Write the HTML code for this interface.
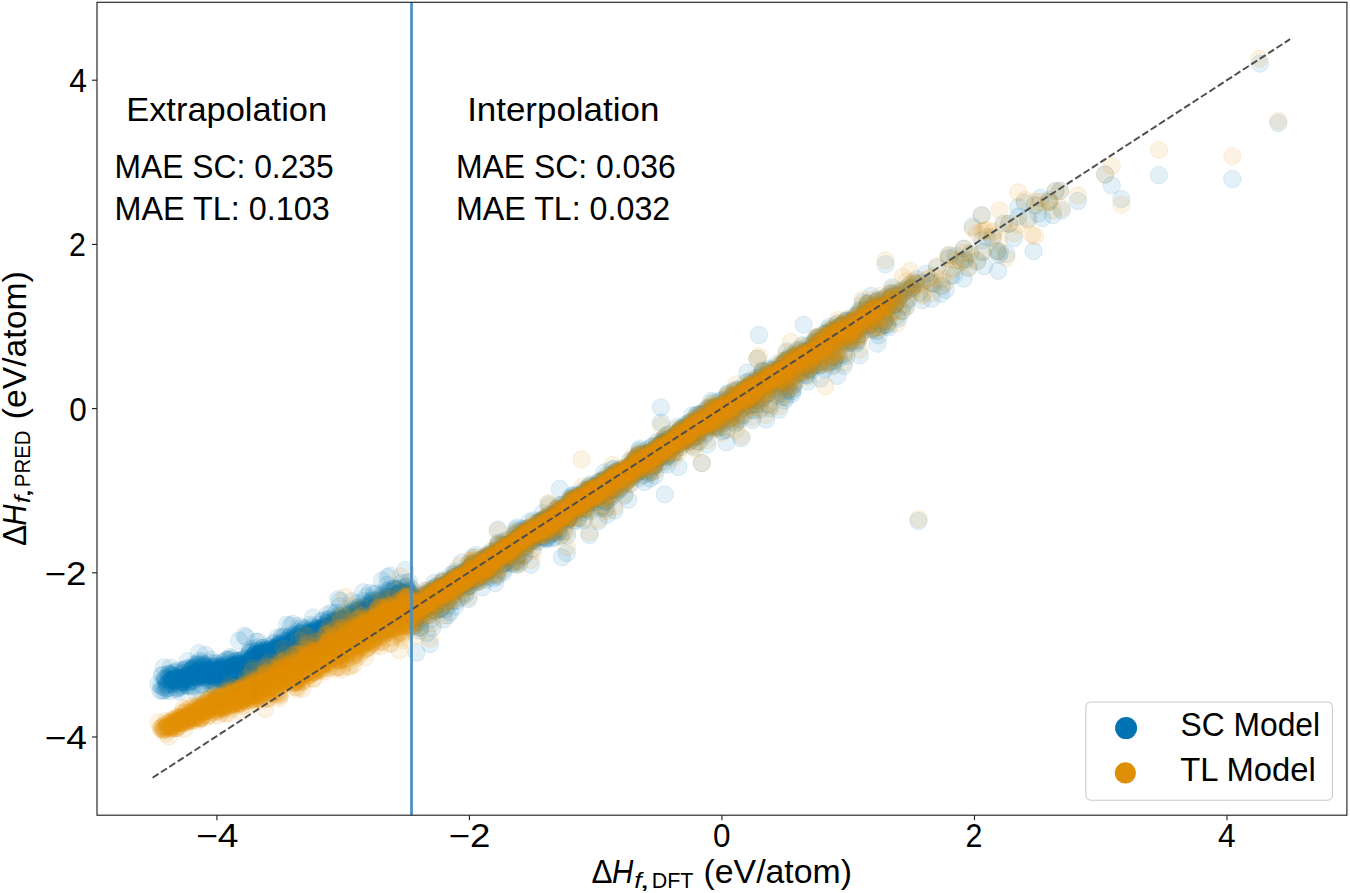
<!DOCTYPE html>
<html><head><meta charset="utf-8"><style>
html,body{margin:0;padding:0;background:#fff;}
body{width:1350px;height:893px;overflow:hidden;}
svg{display:block;font-family:"Liberation Sans",sans-serif;}
svg text{fill:#000;}
</style></head><body>
<svg width="1350" height="893" viewBox="0 0 1350 893">
<defs><clipPath id="ax"><rect x="97.0" y="2.3" width="1249.90" height="812.90"/></clipPath></defs>
<g clip-path="url(#ax)"><g class="sc" fill="#0173b2" stroke="#0173b2" fill-opacity="0.11" stroke-opacity="0.11" stroke-width="1"><circle cx="158.4" cy="684.0" r="8.7"/><circle cx="160.4" cy="690.8" r="8.7"/><circle cx="161.4" cy="685.5" r="8.7"/><circle cx="161.7" cy="675.2" r="8.7"/><circle cx="162.4" cy="690.5" r="8.7"/><circle cx="163.3" cy="675.1" r="8.7"/><circle cx="163.4" cy="687.2" r="8.7"/><circle cx="163.9" cy="667.4" r="8.7"/><circle cx="164.6" cy="678.6" r="8.7"/><circle cx="164.9" cy="690.3" r="8.7"/><circle cx="165.2" cy="680.1" r="8.7"/><circle cx="165.6" cy="678.2" r="8.7"/><circle cx="166.0" cy="685.2" r="8.7"/><circle cx="166.2" cy="687.7" r="8.7"/><circle cx="166.5" cy="689.1" r="8.7"/><circle cx="167.1" cy="679.4" r="8.7"/><circle cx="167.4" cy="683.8" r="8.7"/><circle cx="167.7" cy="684.7" r="8.7"/><circle cx="168.2" cy="681.8" r="8.7"/><circle cx="168.4" cy="674.3" r="8.7"/><circle cx="168.9" cy="673.4" r="8.7"/><circle cx="169.0" cy="687.8" r="8.7"/><circle cx="169.4" cy="691.2" r="8.7"/><circle cx="169.7" cy="680.7" r="8.7"/><circle cx="170.0" cy="675.0" r="8.7"/><circle cx="170.4" cy="667.6" r="8.7"/><circle cx="170.6" cy="680.3" r="8.7"/><circle cx="171.1" cy="674.5" r="8.7"/><circle cx="171.4" cy="675.6" r="8.7"/><circle cx="171.5" cy="679.2" r="8.7"/><circle cx="171.9" cy="684.1" r="8.7"/><circle cx="172.2" cy="683.1" r="8.7"/><circle cx="172.4" cy="679.8" r="8.7"/><circle cx="173.0" cy="675.1" r="8.7"/><circle cx="173.2" cy="672.4" r="8.7"/><circle cx="173.4" cy="677.9" r="8.7"/><circle cx="173.8" cy="679.3" r="8.7"/><circle cx="174.0" cy="680.1" r="8.7"/><circle cx="174.5" cy="678.2" r="8.7"/><circle cx="174.6" cy="679.9" r="8.7"/><circle cx="174.8" cy="676.0" r="8.7"/><circle cx="175.1" cy="680.8" r="8.7"/><circle cx="175.5" cy="672.1" r="8.7"/><circle cx="175.8" cy="679.2" r="8.7"/><circle cx="176.2" cy="677.6" r="8.7"/><circle cx="176.4" cy="678.5" r="8.7"/><circle cx="176.6" cy="687.5" r="8.7"/><circle cx="176.8" cy="689.2" r="8.7"/><circle cx="177.1" cy="680.0" r="8.7"/><circle cx="177.6" cy="681.1" r="8.7"/><circle cx="177.7" cy="670.1" r="8.7"/><circle cx="178.1" cy="682.3" r="8.7"/><circle cx="178.2" cy="683.4" r="8.7"/><circle cx="178.4" cy="675.2" r="8.7"/><circle cx="178.9" cy="688.1" r="8.7"/><circle cx="179.1" cy="678.3" r="8.7"/><circle cx="179.3" cy="684.6" r="8.7"/><circle cx="179.6" cy="691.5" r="8.7"/><circle cx="179.8" cy="686.9" r="8.7"/><circle cx="180.0" cy="679.2" r="8.7"/><circle cx="180.3" cy="678.5" r="8.7"/><circle cx="180.7" cy="679.6" r="8.7"/><circle cx="180.9" cy="685.8" r="8.7"/><circle cx="181.1" cy="682.6" r="8.7"/><circle cx="181.5" cy="678.0" r="8.7"/><circle cx="181.6" cy="676.9" r="8.7"/><circle cx="181.8" cy="677.9" r="8.7"/><circle cx="182.2" cy="678.3" r="8.7"/><circle cx="182.5" cy="670.4" r="8.7"/><circle cx="182.6" cy="673.4" r="8.7"/><circle cx="183.0" cy="682.1" r="8.7"/><circle cx="183.1" cy="680.9" r="8.7"/><circle cx="183.3" cy="682.1" r="8.7"/><circle cx="183.6" cy="677.0" r="8.7"/><circle cx="183.9" cy="672.8" r="8.7"/><circle cx="184.3" cy="670.2" r="8.7"/><circle cx="184.4" cy="676.7" r="8.7"/><circle cx="184.8" cy="680.2" r="8.7"/><circle cx="184.9" cy="682.3" r="8.7"/><circle cx="185.1" cy="684.9" r="8.7"/><circle cx="185.4" cy="669.1" r="8.7"/><circle cx="185.8" cy="678.7" r="8.7"/><circle cx="186.0" cy="679.4" r="8.7"/><circle cx="186.1" cy="668.4" r="8.7"/><circle cx="186.4" cy="679.9" r="8.7"/><circle cx="186.6" cy="677.3" r="8.7"/><circle cx="187.0" cy="674.7" r="8.7"/><circle cx="187.0" cy="685.3" r="8.7"/><circle cx="187.3" cy="682.9" r="8.7"/><circle cx="187.6" cy="661.3" r="8.7"/><circle cx="187.8" cy="674.8" r="8.7"/><circle cx="188.2" cy="685.6" r="8.7"/><circle cx="188.4" cy="679.0" r="8.7"/><circle cx="188.6" cy="676.7" r="8.7"/><circle cx="188.8" cy="673.3" r="8.7"/><circle cx="189.1" cy="676.5" r="8.7"/><circle cx="189.3" cy="681.5" r="8.7"/><circle cx="189.6" cy="667.8" r="8.7"/><circle cx="189.7" cy="675.9" r="8.7"/><circle cx="190.0" cy="670.6" r="8.7"/><circle cx="190.1" cy="678.6" r="8.7"/><circle cx="190.4" cy="681.1" r="8.7"/><circle cx="190.7" cy="680.8" r="8.7"/><circle cx="191.0" cy="686.4" r="8.7"/><circle cx="191.2" cy="669.6" r="8.7"/><circle cx="191.3" cy="673.9" r="8.7"/><circle cx="191.6" cy="675.8" r="8.7"/><circle cx="191.7" cy="674.5" r="8.7"/><circle cx="192.2" cy="668.3" r="8.7"/><circle cx="192.2" cy="669.3" r="8.7"/><circle cx="192.4" cy="676.9" r="8.7"/><circle cx="192.7" cy="681.3" r="8.7"/><circle cx="192.9" cy="669.9" r="8.7"/><circle cx="193.3" cy="685.8" r="8.7"/><circle cx="193.4" cy="676.6" r="8.7"/><circle cx="193.6" cy="669.3" r="8.7"/><circle cx="193.9" cy="667.5" r="8.7"/><circle cx="194.0" cy="675.1" r="8.7"/><circle cx="194.3" cy="675.0" r="8.7"/><circle cx="194.5" cy="664.3" r="8.7"/><circle cx="194.6" cy="675.1" r="8.7"/><circle cx="194.9" cy="675.7" r="8.7"/><circle cx="195.2" cy="674.9" r="8.7"/><circle cx="195.4" cy="667.7" r="8.7"/><circle cx="195.6" cy="671.9" r="8.7"/><circle cx="195.9" cy="666.1" r="8.7"/><circle cx="196.0" cy="678.6" r="8.7"/><circle cx="196.2" cy="693.5" r="8.7"/><circle cx="196.5" cy="665.0" r="8.7"/><circle cx="196.7" cy="671.3" r="8.7"/><circle cx="197.0" cy="675.6" r="8.7"/><circle cx="197.1" cy="672.2" r="8.7"/><circle cx="197.3" cy="675.1" r="8.7"/><circle cx="197.6" cy="663.3" r="8.7"/><circle cx="197.9" cy="676.6" r="8.7"/><circle cx="198.1" cy="668.7" r="8.7"/><circle cx="198.3" cy="678.1" r="8.7"/><circle cx="198.4" cy="664.8" r="8.7"/><circle cx="198.7" cy="670.8" r="8.7"/><circle cx="198.9" cy="653.2" r="8.7"/><circle cx="199.0" cy="675.0" r="8.7"/><circle cx="199.3" cy="675.3" r="8.7"/><circle cx="199.4" cy="677.3" r="8.7"/><circle cx="199.8" cy="660.6" r="8.7"/><circle cx="200.0" cy="676.7" r="8.7"/><circle cx="200.2" cy="672.3" r="8.7"/><circle cx="200.4" cy="666.4" r="8.7"/><circle cx="200.5" cy="671.1" r="8.7"/><circle cx="200.8" cy="677.2" r="8.7"/><circle cx="200.9" cy="670.8" r="8.7"/><circle cx="201.1" cy="685.0" r="8.7"/><circle cx="201.4" cy="691.6" r="8.7"/><circle cx="201.6" cy="673.3" r="8.7"/><circle cx="201.8" cy="662.1" r="8.7"/><circle cx="202.0" cy="684.5" r="8.7"/><circle cx="202.2" cy="674.5" r="8.7"/><circle cx="202.4" cy="675.7" r="8.7"/><circle cx="202.7" cy="668.1" r="8.7"/><circle cx="202.8" cy="663.8" r="8.7"/><circle cx="203.1" cy="666.8" r="8.7"/><circle cx="203.2" cy="675.0" r="8.7"/><circle cx="203.5" cy="664.9" r="8.7"/><circle cx="203.6" cy="665.2" r="8.7"/><circle cx="203.9" cy="674.4" r="8.7"/><circle cx="204.1" cy="672.4" r="8.7"/><circle cx="204.3" cy="677.1" r="8.7"/><circle cx="204.4" cy="674.3" r="8.7"/><circle cx="204.8" cy="666.1" r="8.7"/><circle cx="204.8" cy="678.4" r="8.7"/><circle cx="205.0" cy="667.0" r="8.7"/><circle cx="205.3" cy="674.0" r="8.7"/><circle cx="205.4" cy="671.0" r="8.7"/><circle cx="205.6" cy="654.9" r="8.7"/><circle cx="205.9" cy="670.9" r="8.7"/><circle cx="206.1" cy="675.6" r="8.7"/><circle cx="206.3" cy="669.0" r="8.7"/><circle cx="206.5" cy="673.4" r="8.7"/><circle cx="206.7" cy="673.6" r="8.7"/><circle cx="206.8" cy="680.5" r="8.7"/><circle cx="207.1" cy="672.6" r="8.7"/><circle cx="207.2" cy="674.5" r="8.7"/><circle cx="207.5" cy="668.5" r="8.7"/><circle cx="207.6" cy="672.1" r="8.7"/><circle cx="207.7" cy="673.1" r="8.7"/><circle cx="208.1" cy="675.3" r="8.7"/><circle cx="208.2" cy="675.7" r="8.7"/><circle cx="208.4" cy="678.2" r="8.7"/><circle cx="208.6" cy="676.2" r="8.7"/><circle cx="208.8" cy="669.3" r="8.7"/><circle cx="209.0" cy="679.8" r="8.7"/><circle cx="209.2" cy="679.9" r="8.7"/><circle cx="209.3" cy="671.5" r="8.7"/><circle cx="209.6" cy="665.7" r="8.7"/><circle cx="209.8" cy="671.1" r="8.7"/><circle cx="210.0" cy="674.0" r="8.7"/><circle cx="210.2" cy="673.6" r="8.7"/><circle cx="210.3" cy="662.4" r="8.7"/><circle cx="210.6" cy="671.2" r="8.7"/><circle cx="210.6" cy="675.5" r="8.7"/><circle cx="210.9" cy="671.9" r="8.7"/><circle cx="211.0" cy="659.8" r="8.7"/><circle cx="211.2" cy="667.8" r="8.7"/><circle cx="211.4" cy="674.6" r="8.7"/><circle cx="211.6" cy="668.8" r="8.7"/><circle cx="211.8" cy="674.4" r="8.7"/><circle cx="212.0" cy="672.0" r="8.7"/><circle cx="212.1" cy="671.2" r="8.7"/><circle cx="212.4" cy="684.8" r="8.7"/><circle cx="212.5" cy="666.7" r="8.7"/><circle cx="212.7" cy="688.6" r="8.7"/><circle cx="212.9" cy="669.9" r="8.7"/><circle cx="213.0" cy="670.6" r="8.7"/><circle cx="213.3" cy="671.9" r="8.7"/><circle cx="213.5" cy="674.0" r="8.7"/><circle cx="213.6" cy="666.2" r="8.7"/><circle cx="213.7" cy="672.9" r="8.7"/><circle cx="213.9" cy="668.6" r="8.7"/><circle cx="214.2" cy="676.2" r="8.7"/><circle cx="214.4" cy="681.3" r="8.7"/><circle cx="214.4" cy="663.2" r="8.7"/><circle cx="214.8" cy="671.8" r="8.7"/><circle cx="214.9" cy="671.5" r="8.7"/><circle cx="215.0" cy="677.9" r="8.7"/><circle cx="215.2" cy="677.3" r="8.7"/><circle cx="215.4" cy="670.9" r="8.7"/><circle cx="215.6" cy="689.1" r="8.7"/><circle cx="215.8" cy="666.8" r="8.7"/><circle cx="215.9" cy="676.7" r="8.7"/><circle cx="216.1" cy="677.0" r="8.7"/><circle cx="216.4" cy="684.6" r="8.7"/><circle cx="216.5" cy="672.9" r="8.7"/><circle cx="216.6" cy="681.6" r="8.7"/><circle cx="216.8" cy="663.7" r="8.7"/><circle cx="217.0" cy="672.0" r="8.7"/><circle cx="217.3" cy="665.9" r="8.7"/><circle cx="217.3" cy="667.6" r="8.7"/><circle cx="217.5" cy="679.3" r="8.7"/><circle cx="217.7" cy="670.2" r="8.7"/><circle cx="217.9" cy="676.0" r="8.7"/><circle cx="218.0" cy="668.7" r="8.7"/><circle cx="218.1" cy="678.7" r="8.7"/><circle cx="218.3" cy="686.1" r="8.7"/><circle cx="218.5" cy="676.5" r="8.7"/><circle cx="218.8" cy="674.9" r="8.7"/><circle cx="218.9" cy="674.2" r="8.7"/><circle cx="219.0" cy="669.5" r="8.7"/><circle cx="219.2" cy="669.9" r="8.7"/><circle cx="219.4" cy="675.2" r="8.7"/><circle cx="219.6" cy="670.3" r="8.7"/><circle cx="219.8" cy="673.6" r="8.7"/><circle cx="219.9" cy="671.9" r="8.7"/><circle cx="220.2" cy="671.1" r="8.7"/><circle cx="220.3" cy="672.4" r="8.7"/><circle cx="220.4" cy="677.7" r="8.7"/><circle cx="220.6" cy="669.7" r="8.7"/><circle cx="220.7" cy="674.6" r="8.7"/><circle cx="220.9" cy="666.8" r="8.7"/><circle cx="221.1" cy="679.9" r="8.7"/><circle cx="221.2" cy="667.3" r="8.7"/><circle cx="221.5" cy="678.8" r="8.7"/><circle cx="221.7" cy="670.7" r="8.7"/><circle cx="221.8" cy="678.4" r="8.7"/><circle cx="221.9" cy="677.4" r="8.7"/><circle cx="222.0" cy="669.3" r="8.7"/><circle cx="222.3" cy="674.9" r="8.7"/><circle cx="222.5" cy="681.0" r="8.7"/><circle cx="222.7" cy="668.2" r="8.7"/><circle cx="222.8" cy="662.3" r="8.7"/><circle cx="223.0" cy="669.3" r="8.7"/><circle cx="223.1" cy="671.1" r="8.7"/><circle cx="223.2" cy="680.5" r="8.7"/><circle cx="223.4" cy="665.2" r="8.7"/><circle cx="223.6" cy="669.6" r="8.7"/><circle cx="223.7" cy="673.3" r="8.7"/><circle cx="223.9" cy="671.9" r="8.7"/><circle cx="224.1" cy="672.8" r="8.7"/><circle cx="224.2" cy="667.3" r="8.7"/><circle cx="224.5" cy="664.1" r="8.7"/><circle cx="224.5" cy="671.0" r="8.7"/><circle cx="224.7" cy="665.5" r="8.7"/><circle cx="224.8" cy="678.4" r="8.7"/><circle cx="225.1" cy="675.0" r="8.7"/><circle cx="225.2" cy="660.6" r="8.7"/><circle cx="225.3" cy="677.3" r="8.7"/><circle cx="225.5" cy="678.0" r="8.7"/><circle cx="225.7" cy="674.4" r="8.7"/><circle cx="225.8" cy="668.4" r="8.7"/><circle cx="225.9" cy="667.5" r="8.7"/><circle cx="226.1" cy="680.3" r="8.7"/><circle cx="226.3" cy="671.2" r="8.7"/><circle cx="226.5" cy="670.4" r="8.7"/><circle cx="226.6" cy="659.5" r="8.7"/><circle cx="226.9" cy="673.9" r="8.7"/><circle cx="227.0" cy="679.4" r="8.7"/><circle cx="227.2" cy="668.7" r="8.7"/><circle cx="227.3" cy="680.8" r="8.7"/><circle cx="227.4" cy="673.4" r="8.7"/><circle cx="227.6" cy="669.8" r="8.7"/><circle cx="227.7" cy="671.2" r="8.7"/><circle cx="227.9" cy="672.7" r="8.7"/><circle cx="228.0" cy="676.3" r="8.7"/><circle cx="228.3" cy="672.5" r="8.7"/><circle cx="228.3" cy="672.1" r="8.7"/><circle cx="228.5" cy="674.9" r="8.7"/><circle cx="228.7" cy="659.5" r="8.7"/><circle cx="228.9" cy="672.8" r="8.7"/><circle cx="229.0" cy="677.8" r="8.7"/><circle cx="229.1" cy="674.6" r="8.7"/><circle cx="229.3" cy="673.5" r="8.7"/><circle cx="229.4" cy="683.1" r="8.7"/><circle cx="229.5" cy="672.5" r="8.7"/><circle cx="229.8" cy="660.2" r="8.7"/><circle cx="229.9" cy="671.3" r="8.7"/><circle cx="230.1" cy="671.4" r="8.7"/><circle cx="230.2" cy="677.2" r="8.7"/><circle cx="230.4" cy="656.9" r="8.7"/><circle cx="230.5" cy="673.4" r="8.7"/><circle cx="230.6" cy="670.5" r="8.7"/><circle cx="230.8" cy="667.6" r="8.7"/><circle cx="230.9" cy="670.3" r="8.7"/><circle cx="231.1" cy="678.4" r="8.7"/><circle cx="231.2" cy="668.1" r="8.7"/><circle cx="231.4" cy="662.3" r="8.7"/><circle cx="231.6" cy="663.6" r="8.7"/><circle cx="231.8" cy="672.7" r="8.7"/><circle cx="232.0" cy="658.2" r="8.7"/><circle cx="232.0" cy="684.5" r="8.7"/><circle cx="232.2" cy="666.9" r="8.7"/><circle cx="232.4" cy="665.8" r="8.7"/><circle cx="232.4" cy="670.9" r="8.7"/><circle cx="232.6" cy="673.1" r="8.7"/><circle cx="232.8" cy="665.0" r="8.7"/><circle cx="232.9" cy="666.6" r="8.7"/><circle cx="233.0" cy="670.8" r="8.7"/><circle cx="233.3" cy="671.4" r="8.7"/><circle cx="233.4" cy="669.5" r="8.7"/><circle cx="233.6" cy="665.2" r="8.7"/><circle cx="233.8" cy="669.7" r="8.7"/><circle cx="233.8" cy="676.4" r="8.7"/><circle cx="234.0" cy="673.4" r="8.7"/><circle cx="234.1" cy="669.4" r="8.7"/><circle cx="234.3" cy="668.2" r="8.7"/><circle cx="234.5" cy="672.7" r="8.7"/><circle cx="234.6" cy="671.1" r="8.7"/><circle cx="234.8" cy="672.9" r="8.7"/><circle cx="234.9" cy="666.1" r="8.7"/><circle cx="235.1" cy="665.3" r="8.7"/><circle cx="235.1" cy="673.1" r="8.7"/><circle cx="235.3" cy="670.4" r="8.7"/><circle cx="235.4" cy="664.7" r="8.7"/><circle cx="235.6" cy="661.0" r="8.7"/><circle cx="235.8" cy="665.4" r="8.7"/><circle cx="235.9" cy="669.1" r="8.7"/><circle cx="236.1" cy="660.7" r="8.7"/><circle cx="236.2" cy="666.5" r="8.7"/><circle cx="236.3" cy="668.6" r="8.7"/><circle cx="236.5" cy="680.0" r="8.7"/><circle cx="236.6" cy="680.3" r="8.7"/><circle cx="236.8" cy="661.8" r="8.7"/><circle cx="237.0" cy="673.8" r="8.7"/><circle cx="237.1" cy="674.5" r="8.7"/><circle cx="237.2" cy="671.5" r="8.7"/><circle cx="237.3" cy="674.4" r="8.7"/><circle cx="237.6" cy="669.6" r="8.7"/><circle cx="237.6" cy="671.0" r="8.7"/><circle cx="237.7" cy="669.8" r="8.7"/><circle cx="237.9" cy="676.8" r="8.7"/><circle cx="238.0" cy="663.5" r="8.7"/><circle cx="238.3" cy="663.2" r="8.7"/><circle cx="238.3" cy="667.3" r="8.7"/><circle cx="238.6" cy="672.4" r="8.7"/><circle cx="238.6" cy="670.2" r="8.7"/><circle cx="238.8" cy="673.5" r="8.7"/><circle cx="239.0" cy="664.0" r="8.7"/><circle cx="239.1" cy="640.7" r="8.7"/><circle cx="239.2" cy="664.3" r="8.7"/><circle cx="239.3" cy="674.7" r="8.7"/><circle cx="239.5" cy="671.1" r="8.7"/><circle cx="239.6" cy="660.5" r="8.7"/><circle cx="239.8" cy="670.5" r="8.7"/><circle cx="240.0" cy="668.0" r="8.7"/><circle cx="240.1" cy="666.2" r="8.7"/><circle cx="240.2" cy="681.5" r="8.7"/><circle cx="240.4" cy="677.1" r="8.7"/><circle cx="240.6" cy="667.5" r="8.7"/><circle cx="240.6" cy="663.5" r="8.7"/><circle cx="240.8" cy="667.5" r="8.7"/><circle cx="241.0" cy="665.3" r="8.7"/><circle cx="241.1" cy="673.0" r="8.7"/><circle cx="241.2" cy="668.0" r="8.7"/><circle cx="241.3" cy="669.8" r="8.7"/><circle cx="241.5" cy="668.1" r="8.7"/><circle cx="241.7" cy="675.0" r="8.7"/><circle cx="241.8" cy="671.3" r="8.7"/><circle cx="242.0" cy="665.5" r="8.7"/><circle cx="242.1" cy="671.2" r="8.7"/><circle cx="242.2" cy="665.1" r="8.7"/><circle cx="242.3" cy="660.0" r="8.7"/><circle cx="242.5" cy="666.4" r="8.7"/><circle cx="242.6" cy="667.2" r="8.7"/><circle cx="242.8" cy="664.4" r="8.7"/><circle cx="242.9" cy="672.2" r="8.7"/><circle cx="243.0" cy="670.1" r="8.7"/><circle cx="243.1" cy="673.0" r="8.7"/><circle cx="243.3" cy="671.7" r="8.7"/><circle cx="243.4" cy="658.5" r="8.7"/><circle cx="243.6" cy="671.2" r="8.7"/><circle cx="243.8" cy="661.2" r="8.7"/><circle cx="243.9" cy="667.1" r="8.7"/><circle cx="244.0" cy="671.1" r="8.7"/><circle cx="244.1" cy="677.8" r="8.7"/><circle cx="244.3" cy="635.7" r="8.7"/><circle cx="244.4" cy="668.7" r="8.7"/><circle cx="244.6" cy="669.0" r="8.7"/><circle cx="244.6" cy="668.3" r="8.7"/><circle cx="244.8" cy="667.8" r="8.7"/><circle cx="245.0" cy="664.9" r="8.7"/><circle cx="245.1" cy="668.1" r="8.7"/><circle cx="245.3" cy="664.4" r="8.7"/><circle cx="245.3" cy="667.3" r="8.7"/><circle cx="245.5" cy="667.9" r="8.7"/><circle cx="245.7" cy="667.4" r="8.7"/><circle cx="245.7" cy="657.6" r="8.7"/><circle cx="246.0" cy="672.3" r="8.7"/><circle cx="246.0" cy="666.9" r="8.7"/><circle cx="246.2" cy="637.3" r="8.7"/><circle cx="246.3" cy="663.2" r="8.7"/><circle cx="246.5" cy="662.5" r="8.7"/><circle cx="246.6" cy="663.2" r="8.7"/><circle cx="246.7" cy="670.9" r="8.7"/><circle cx="246.9" cy="662.9" r="8.7"/><circle cx="247.0" cy="665.5" r="8.7"/><circle cx="247.1" cy="671.3" r="8.7"/><circle cx="247.3" cy="666.0" r="8.7"/><circle cx="247.4" cy="659.7" r="8.7"/><circle cx="247.6" cy="661.8" r="8.7"/><circle cx="247.7" cy="665.9" r="8.7"/><circle cx="247.8" cy="667.3" r="8.7"/><circle cx="247.9" cy="666.6" r="8.7"/><circle cx="248.0" cy="666.2" r="8.7"/><circle cx="248.3" cy="672.4" r="8.7"/><circle cx="248.3" cy="672.4" r="8.7"/><circle cx="248.5" cy="665.6" r="8.7"/><circle cx="248.6" cy="655.5" r="8.7"/><circle cx="248.8" cy="663.9" r="8.7"/><circle cx="248.8" cy="674.0" r="8.7"/><circle cx="249.0" cy="670.6" r="8.7"/><circle cx="249.2" cy="665.3" r="8.7"/><circle cx="249.3" cy="670.0" r="8.7"/><circle cx="249.4" cy="663.7" r="8.7"/><circle cx="249.5" cy="652.6" r="8.7"/><circle cx="249.6" cy="668.5" r="8.7"/><circle cx="249.8" cy="668.7" r="8.7"/><circle cx="249.9" cy="671.4" r="8.7"/><circle cx="250.0" cy="662.4" r="8.7"/><circle cx="250.2" cy="662.8" r="8.7"/><circle cx="250.3" cy="652.1" r="8.7"/><circle cx="250.5" cy="649.3" r="8.7"/><circle cx="250.5" cy="662.3" r="8.7"/><circle cx="250.7" cy="672.6" r="8.7"/><circle cx="250.9" cy="663.8" r="8.7"/><circle cx="251.0" cy="660.7" r="8.7"/><circle cx="251.2" cy="664.8" r="8.7"/><circle cx="251.2" cy="657.9" r="8.7"/><circle cx="251.3" cy="669.3" r="8.7"/><circle cx="251.4" cy="660.2" r="8.7"/><circle cx="251.6" cy="666.0" r="8.7"/><circle cx="251.7" cy="666.3" r="8.7"/><circle cx="251.8" cy="667.3" r="8.7"/><circle cx="251.9" cy="660.8" r="8.7"/><circle cx="252.2" cy="662.6" r="8.7"/><circle cx="252.2" cy="658.0" r="8.7"/><circle cx="252.4" cy="668.1" r="8.7"/><circle cx="252.5" cy="662.3" r="8.7"/><circle cx="252.7" cy="668.2" r="8.7"/><circle cx="252.8" cy="651.4" r="8.7"/><circle cx="252.9" cy="660.5" r="8.7"/><circle cx="253.0" cy="655.9" r="8.7"/><circle cx="253.1" cy="658.3" r="8.7"/><circle cx="253.3" cy="667.9" r="8.7"/><circle cx="253.4" cy="657.4" r="8.7"/><circle cx="253.5" cy="668.1" r="8.7"/><circle cx="253.7" cy="655.2" r="8.7"/><circle cx="253.8" cy="661.9" r="8.7"/><circle cx="253.9" cy="675.6" r="8.7"/><circle cx="254.0" cy="659.8" r="8.7"/><circle cx="254.2" cy="668.1" r="8.7"/><circle cx="254.3" cy="654.3" r="8.7"/><circle cx="254.4" cy="659.4" r="8.7"/><circle cx="254.5" cy="662.9" r="8.7"/><circle cx="254.7" cy="648.4" r="8.7"/><circle cx="254.8" cy="664.6" r="8.7"/><circle cx="255.0" cy="657.2" r="8.7"/><circle cx="255.1" cy="666.1" r="8.7"/><circle cx="255.2" cy="663.5" r="8.7"/><circle cx="255.4" cy="664.0" r="8.7"/><circle cx="255.4" cy="666.0" r="8.7"/><circle cx="255.6" cy="682.1" r="8.7"/><circle cx="255.7" cy="656.3" r="8.7"/><circle cx="255.9" cy="653.2" r="8.7"/><circle cx="255.9" cy="666.6" r="8.7"/><circle cx="256.1" cy="653.6" r="8.7"/><circle cx="256.2" cy="656.1" r="8.7"/><circle cx="256.3" cy="641.8" r="8.7"/><circle cx="256.5" cy="663.4" r="8.7"/><circle cx="256.6" cy="658.2" r="8.7"/><circle cx="256.7" cy="651.2" r="8.7"/><circle cx="256.9" cy="664.6" r="8.7"/><circle cx="257.0" cy="664.2" r="8.7"/><circle cx="257.1" cy="666.4" r="8.7"/><circle cx="257.3" cy="650.5" r="8.7"/><circle cx="257.3" cy="655.9" r="8.7"/><circle cx="257.4" cy="665.2" r="8.7"/><circle cx="257.6" cy="661.8" r="8.7"/><circle cx="257.7" cy="657.5" r="8.7"/><circle cx="257.9" cy="659.7" r="8.7"/><circle cx="258.0" cy="662.2" r="8.7"/><circle cx="258.0" cy="654.8" r="8.7"/><circle cx="258.2" cy="641.6" r="8.7"/><circle cx="258.4" cy="660.3" r="8.7"/><circle cx="258.5" cy="647.2" r="8.7"/><circle cx="258.7" cy="654.1" r="8.7"/><circle cx="258.7" cy="658.7" r="8.7"/><circle cx="258.9" cy="659.3" r="8.7"/><circle cx="258.9" cy="663.4" r="8.7"/><circle cx="259.1" cy="658.5" r="8.7"/><circle cx="259.2" cy="656.0" r="8.7"/><circle cx="259.4" cy="668.2" r="8.7"/><circle cx="259.4" cy="657.2" r="8.7"/><circle cx="259.6" cy="653.1" r="8.7"/><circle cx="259.7" cy="653.3" r="8.7"/><circle cx="259.9" cy="655.1" r="8.7"/><circle cx="260.0" cy="658.0" r="8.7"/><circle cx="260.1" cy="657.6" r="8.7"/><circle cx="260.1" cy="660.7" r="8.7"/><circle cx="260.3" cy="665.2" r="8.7"/><circle cx="260.4" cy="658.7" r="8.7"/><circle cx="260.6" cy="664.1" r="8.7"/><circle cx="260.7" cy="661.3" r="8.7"/><circle cx="260.8" cy="664.8" r="8.7"/><circle cx="260.9" cy="658.8" r="8.7"/><circle cx="261.0" cy="661.8" r="8.7"/><circle cx="261.2" cy="660.8" r="8.7"/><circle cx="261.3" cy="652.8" r="8.7"/><circle cx="261.4" cy="658.1" r="8.7"/><circle cx="261.5" cy="655.4" r="8.7"/><circle cx="261.7" cy="667.7" r="8.7"/><circle cx="261.8" cy="656.0" r="8.7"/><circle cx="261.9" cy="663.1" r="8.7"/><circle cx="262.0" cy="650.6" r="8.7"/><circle cx="262.2" cy="666.4" r="8.7"/><circle cx="262.2" cy="662.7" r="8.7"/><circle cx="262.4" cy="654.5" r="8.7"/><circle cx="262.6" cy="648.0" r="8.7"/><circle cx="262.6" cy="666.1" r="8.7"/><circle cx="262.8" cy="659.6" r="8.7"/><circle cx="262.8" cy="663.5" r="8.7"/><circle cx="263.0" cy="654.2" r="8.7"/><circle cx="263.1" cy="662.2" r="8.7"/><circle cx="263.2" cy="650.1" r="8.7"/><circle cx="263.4" cy="647.6" r="8.7"/><circle cx="263.5" cy="656.5" r="8.7"/><circle cx="263.6" cy="651.9" r="8.7"/><circle cx="263.7" cy="653.2" r="8.7"/><circle cx="263.9" cy="661.0" r="8.7"/><circle cx="264.0" cy="663.6" r="8.7"/><circle cx="264.1" cy="655.0" r="8.7"/><circle cx="264.1" cy="659.9" r="8.7"/><circle cx="264.3" cy="653.7" r="8.7"/><circle cx="264.4" cy="659.0" r="8.7"/><circle cx="264.5" cy="650.8" r="8.7"/><circle cx="264.7" cy="658.3" r="8.7"/><circle cx="264.7" cy="657.5" r="8.7"/><circle cx="264.8" cy="652.5" r="8.7"/><circle cx="265.0" cy="656.4" r="8.7"/><circle cx="265.1" cy="650.3" r="8.7"/><circle cx="265.3" cy="660.4" r="8.7"/><circle cx="265.4" cy="662.0" r="8.7"/><circle cx="265.5" cy="652.6" r="8.7"/><circle cx="265.7" cy="654.6" r="8.7"/><circle cx="265.7" cy="660.1" r="8.7"/><circle cx="265.9" cy="662.9" r="8.7"/><circle cx="266.0" cy="660.6" r="8.7"/><circle cx="266.0" cy="657.4" r="8.7"/><circle cx="266.1" cy="658.4" r="8.7"/><circle cx="266.3" cy="662.7" r="8.7"/><circle cx="266.4" cy="661.5" r="8.7"/><circle cx="266.6" cy="654.3" r="8.7"/><circle cx="266.7" cy="651.3" r="8.7"/><circle cx="266.7" cy="649.2" r="8.7"/><circle cx="266.9" cy="660.9" r="8.7"/><circle cx="267.0" cy="662.5" r="8.7"/><circle cx="267.1" cy="654.0" r="8.7"/><circle cx="267.2" cy="658.5" r="8.7"/><circle cx="267.4" cy="653.0" r="8.7"/><circle cx="267.5" cy="652.2" r="8.7"/><circle cx="267.6" cy="658.8" r="8.7"/><circle cx="267.7" cy="657.5" r="8.7"/><circle cx="267.8" cy="670.7" r="8.7"/><circle cx="268.0" cy="664.9" r="8.7"/><circle cx="268.1" cy="664.7" r="8.7"/><circle cx="268.1" cy="653.1" r="8.7"/><circle cx="268.3" cy="646.1" r="8.7"/><circle cx="268.4" cy="665.4" r="8.7"/><circle cx="268.5" cy="664.0" r="8.7"/><circle cx="268.6" cy="659.2" r="8.7"/><circle cx="268.7" cy="660.4" r="8.7"/><circle cx="268.9" cy="652.9" r="8.7"/><circle cx="269.0" cy="679.9" r="8.7"/><circle cx="269.1" cy="666.1" r="8.7"/><circle cx="269.3" cy="656.4" r="8.7"/><circle cx="269.3" cy="649.5" r="8.7"/><circle cx="269.4" cy="670.9" r="8.7"/><circle cx="269.5" cy="668.0" r="8.7"/><circle cx="269.7" cy="662.3" r="8.7"/><circle cx="269.8" cy="652.7" r="8.7"/><circle cx="269.9" cy="650.6" r="8.7"/><circle cx="270.1" cy="660.4" r="8.7"/><circle cx="270.2" cy="662.0" r="8.7"/><circle cx="270.3" cy="651.7" r="8.7"/><circle cx="270.3" cy="651.3" r="8.7"/><circle cx="270.5" cy="647.9" r="8.7"/><circle cx="270.6" cy="653.1" r="8.7"/><circle cx="270.7" cy="663.1" r="8.7"/><circle cx="270.9" cy="656.4" r="8.7"/><circle cx="270.9" cy="658.9" r="8.7"/><circle cx="271.1" cy="657.4" r="8.7"/><circle cx="271.2" cy="654.7" r="8.7"/><circle cx="271.3" cy="661.5" r="8.7"/><circle cx="271.4" cy="665.5" r="8.7"/><circle cx="271.6" cy="662.9" r="8.7"/><circle cx="271.6" cy="662.5" r="8.7"/><circle cx="271.8" cy="656.7" r="8.7"/><circle cx="271.9" cy="650.8" r="8.7"/><circle cx="272.0" cy="658.2" r="8.7"/><circle cx="272.2" cy="659.2" r="8.7"/><circle cx="272.3" cy="651.4" r="8.7"/><circle cx="272.4" cy="658.0" r="8.7"/><circle cx="272.5" cy="651.4" r="8.7"/><circle cx="272.6" cy="656.0" r="8.7"/><circle cx="272.7" cy="655.1" r="8.7"/><circle cx="272.8" cy="658.7" r="8.7"/><circle cx="272.9" cy="655.4" r="8.7"/><circle cx="273.1" cy="657.4" r="8.7"/><circle cx="273.1" cy="664.8" r="8.7"/><circle cx="273.2" cy="657.1" r="8.7"/><circle cx="273.5" cy="649.1" r="8.7"/><circle cx="273.6" cy="642.8" r="8.7"/><circle cx="273.7" cy="654.6" r="8.7"/><circle cx="273.7" cy="648.6" r="8.7"/><circle cx="273.9" cy="652.5" r="8.7"/><circle cx="274.0" cy="653.4" r="8.7"/><circle cx="274.1" cy="663.7" r="8.7"/><circle cx="274.3" cy="644.0" r="8.7"/><circle cx="274.4" cy="655.7" r="8.7"/><circle cx="274.5" cy="659.5" r="8.7"/><circle cx="274.5" cy="649.4" r="8.7"/><circle cx="274.7" cy="652.7" r="8.7"/><circle cx="274.8" cy="652.4" r="8.7"/><circle cx="274.9" cy="655.3" r="8.7"/><circle cx="275.0" cy="647.4" r="8.7"/><circle cx="275.1" cy="664.8" r="8.7"/><circle cx="275.3" cy="650.6" r="8.7"/><circle cx="275.4" cy="656.4" r="8.7"/><circle cx="275.5" cy="659.6" r="8.7"/><circle cx="275.6" cy="658.0" r="8.7"/><circle cx="275.7" cy="654.5" r="8.7"/><circle cx="275.8" cy="664.3" r="8.7"/><circle cx="275.9" cy="654.6" r="8.7"/><circle cx="276.0" cy="652.5" r="8.7"/><circle cx="276.2" cy="646.9" r="8.7"/><circle cx="276.3" cy="648.2" r="8.7"/><circle cx="276.4" cy="657.5" r="8.7"/><circle cx="276.6" cy="663.1" r="8.7"/><circle cx="276.7" cy="657.8" r="8.7"/><circle cx="276.7" cy="648.5" r="8.7"/><circle cx="276.8" cy="647.9" r="8.7"/><circle cx="277.0" cy="659.1" r="8.7"/><circle cx="277.1" cy="657.4" r="8.7"/><circle cx="277.3" cy="652.0" r="8.7"/><circle cx="277.3" cy="655.2" r="8.7"/><circle cx="277.5" cy="650.0" r="8.7"/><circle cx="277.6" cy="657.5" r="8.7"/><circle cx="277.6" cy="657.0" r="8.7"/><circle cx="277.8" cy="637.3" r="8.7"/><circle cx="277.9" cy="647.5" r="8.7"/><circle cx="278.0" cy="644.8" r="8.7"/><circle cx="278.1" cy="651.1" r="8.7"/><circle cx="278.2" cy="656.6" r="8.7"/><circle cx="278.4" cy="659.4" r="8.7"/><circle cx="278.4" cy="646.7" r="8.7"/><circle cx="278.6" cy="644.8" r="8.7"/><circle cx="278.7" cy="653.9" r="8.7"/><circle cx="278.9" cy="654.3" r="8.7"/><circle cx="278.9" cy="649.8" r="8.7"/><circle cx="279.0" cy="653.3" r="8.7"/><circle cx="279.1" cy="660.8" r="8.7"/><circle cx="279.3" cy="649.0" r="8.7"/><circle cx="279.4" cy="648.3" r="8.7"/><circle cx="279.5" cy="662.1" r="8.7"/><circle cx="279.7" cy="643.0" r="8.7"/><circle cx="279.7" cy="658.6" r="8.7"/><circle cx="279.9" cy="659.2" r="8.7"/><circle cx="279.9" cy="657.4" r="8.7"/><circle cx="280.1" cy="652.7" r="8.7"/><circle cx="280.2" cy="653.0" r="8.7"/><circle cx="280.3" cy="644.5" r="8.7"/><circle cx="280.5" cy="661.6" r="8.7"/><circle cx="280.5" cy="651.8" r="8.7"/><circle cx="280.6" cy="650.1" r="8.7"/><circle cx="280.7" cy="656.1" r="8.7"/><circle cx="280.9" cy="664.8" r="8.7"/><circle cx="281.0" cy="658.4" r="8.7"/><circle cx="281.1" cy="656.1" r="8.7"/><circle cx="281.2" cy="648.3" r="8.7"/><circle cx="281.3" cy="654.8" r="8.7"/><circle cx="281.5" cy="647.5" r="8.7"/><circle cx="281.5" cy="649.7" r="8.7"/><circle cx="281.7" cy="636.7" r="8.7"/><circle cx="281.8" cy="652.0" r="8.7"/><circle cx="281.9" cy="653.1" r="8.7"/><circle cx="282.0" cy="637.8" r="8.7"/><circle cx="282.1" cy="647.0" r="8.7"/><circle cx="282.2" cy="651.8" r="8.7"/><circle cx="282.4" cy="645.0" r="8.7"/><circle cx="282.4" cy="644.5" r="8.7"/><circle cx="282.5" cy="651.5" r="8.7"/><circle cx="282.7" cy="658.5" r="8.7"/><circle cx="282.8" cy="662.0" r="8.7"/><circle cx="282.9" cy="656.3" r="8.7"/><circle cx="283.1" cy="653.4" r="8.7"/><circle cx="283.1" cy="658.1" r="8.7"/><circle cx="283.2" cy="659.6" r="8.7"/><circle cx="283.4" cy="653.4" r="8.7"/><circle cx="283.5" cy="640.7" r="8.7"/><circle cx="283.6" cy="654.0" r="8.7"/><circle cx="283.7" cy="654.6" r="8.7"/><circle cx="283.8" cy="641.5" r="8.7"/><circle cx="283.9" cy="646.2" r="8.7"/><circle cx="284.0" cy="658.4" r="8.7"/><circle cx="284.1" cy="646.3" r="8.7"/><circle cx="284.2" cy="652.0" r="8.7"/><circle cx="284.3" cy="655.6" r="8.7"/><circle cx="284.5" cy="654.4" r="8.7"/><circle cx="284.6" cy="636.5" r="8.7"/><circle cx="284.7" cy="651.8" r="8.7"/><circle cx="284.8" cy="656.0" r="8.7"/><circle cx="285.0" cy="651.9" r="8.7"/><circle cx="285.0" cy="647.0" r="8.7"/><circle cx="285.2" cy="650.3" r="8.7"/><circle cx="285.2" cy="652.1" r="8.7"/><circle cx="285.4" cy="656.1" r="8.7"/><circle cx="285.5" cy="654.6" r="8.7"/><circle cx="285.6" cy="658.4" r="8.7"/><circle cx="285.7" cy="650.7" r="8.7"/><circle cx="285.8" cy="648.0" r="8.7"/><circle cx="286.0" cy="648.2" r="8.7"/><circle cx="286.0" cy="651.0" r="8.7"/><circle cx="286.2" cy="643.2" r="8.7"/><circle cx="286.3" cy="648.2" r="8.7"/><circle cx="286.4" cy="647.1" r="8.7"/><circle cx="286.5" cy="640.7" r="8.7"/><circle cx="286.6" cy="656.2" r="8.7"/><circle cx="286.7" cy="652.3" r="8.7"/><circle cx="286.9" cy="652.7" r="8.7"/><circle cx="287.0" cy="624.7" r="8.7"/><circle cx="287.0" cy="655.1" r="8.7"/><circle cx="287.2" cy="644.1" r="8.7"/><circle cx="287.3" cy="650.6" r="8.7"/><circle cx="287.4" cy="650.8" r="8.7"/><circle cx="287.5" cy="651.1" r="8.7"/><circle cx="287.7" cy="641.3" r="8.7"/><circle cx="287.7" cy="652.8" r="8.7"/><circle cx="287.9" cy="653.9" r="8.7"/><circle cx="288.0" cy="648.3" r="8.7"/><circle cx="288.1" cy="649.9" r="8.7"/><circle cx="288.2" cy="641.8" r="8.7"/><circle cx="288.4" cy="646.4" r="8.7"/><circle cx="288.4" cy="643.0" r="8.7"/><circle cx="288.6" cy="647.5" r="8.7"/><circle cx="288.7" cy="657.0" r="8.7"/><circle cx="288.8" cy="649.9" r="8.7"/><circle cx="288.9" cy="648.9" r="8.7"/><circle cx="289.0" cy="641.4" r="8.7"/><circle cx="289.1" cy="638.4" r="8.7"/><circle cx="289.2" cy="646.5" r="8.7"/><circle cx="289.3" cy="637.1" r="8.7"/><circle cx="289.4" cy="645.2" r="8.7"/><circle cx="289.5" cy="662.0" r="8.7"/><circle cx="289.6" cy="655.1" r="8.7"/><circle cx="289.8" cy="649.6" r="8.7"/><circle cx="289.9" cy="645.1" r="8.7"/><circle cx="289.9" cy="645.0" r="8.7"/><circle cx="290.1" cy="648.0" r="8.7"/><circle cx="290.2" cy="658.4" r="8.7"/><circle cx="290.3" cy="647.9" r="8.7"/><circle cx="290.4" cy="625.7" r="8.7"/><circle cx="290.5" cy="653.0" r="8.7"/><circle cx="290.7" cy="660.5" r="8.7"/><circle cx="290.8" cy="653.5" r="8.7"/><circle cx="290.8" cy="650.8" r="8.7"/><circle cx="291.0" cy="647.4" r="8.7"/><circle cx="291.1" cy="644.1" r="8.7"/><circle cx="291.2" cy="646.6" r="8.7"/><circle cx="291.3" cy="647.3" r="8.7"/><circle cx="291.4" cy="648.2" r="8.7"/><circle cx="291.5" cy="651.0" r="8.7"/><circle cx="291.6" cy="648.2" r="8.7"/><circle cx="291.8" cy="634.4" r="8.7"/><circle cx="291.9" cy="654.3" r="8.7"/><circle cx="292.0" cy="644.0" r="8.7"/><circle cx="292.1" cy="647.8" r="8.7"/><circle cx="292.2" cy="641.2" r="8.7"/><circle cx="292.3" cy="642.0" r="8.7"/><circle cx="292.4" cy="644.6" r="8.7"/><circle cx="292.5" cy="649.8" r="8.7"/><circle cx="292.7" cy="648.1" r="8.7"/><circle cx="292.8" cy="647.7" r="8.7"/><circle cx="292.9" cy="624.0" r="8.7"/><circle cx="293.0" cy="647.2" r="8.7"/><circle cx="293.1" cy="661.6" r="8.7"/><circle cx="293.2" cy="652.6" r="8.7"/><circle cx="293.3" cy="636.4" r="8.7"/><circle cx="293.5" cy="646.6" r="8.7"/><circle cx="293.6" cy="639.1" r="8.7"/><circle cx="293.6" cy="650.1" r="8.7"/><circle cx="293.8" cy="655.7" r="8.7"/><circle cx="293.9" cy="648.7" r="8.7"/><circle cx="293.9" cy="649.0" r="8.7"/><circle cx="294.1" cy="642.3" r="8.7"/><circle cx="294.2" cy="651.2" r="8.7"/><circle cx="294.3" cy="640.1" r="8.7"/><circle cx="294.4" cy="638.7" r="8.7"/><circle cx="294.5" cy="650.6" r="8.7"/><circle cx="294.7" cy="635.6" r="8.7"/><circle cx="294.7" cy="641.4" r="8.7"/><circle cx="294.9" cy="653.1" r="8.7"/><circle cx="295.0" cy="640.6" r="8.7"/><circle cx="295.1" cy="644.3" r="8.7"/><circle cx="295.2" cy="644.6" r="8.7"/><circle cx="295.3" cy="646.2" r="8.7"/><circle cx="295.5" cy="655.2" r="8.7"/><circle cx="295.5" cy="643.8" r="8.7"/><circle cx="295.6" cy="650.5" r="8.7"/><circle cx="295.8" cy="636.1" r="8.7"/><circle cx="295.9" cy="652.0" r="8.7"/><circle cx="296.0" cy="654.5" r="8.7"/><circle cx="296.1" cy="643.5" r="8.7"/><circle cx="296.1" cy="652.6" r="8.7"/><circle cx="296.3" cy="632.1" r="8.7"/><circle cx="296.4" cy="637.5" r="8.7"/><circle cx="296.5" cy="651.0" r="8.7"/><circle cx="296.7" cy="641.7" r="8.7"/><circle cx="296.7" cy="651.3" r="8.7"/><circle cx="296.8" cy="648.6" r="8.7"/><circle cx="296.9" cy="644.8" r="8.7"/><circle cx="297.1" cy="649.5" r="8.7"/><circle cx="297.2" cy="641.6" r="8.7"/><circle cx="297.3" cy="642.5" r="8.7"/><circle cx="297.5" cy="649.4" r="8.7"/><circle cx="297.5" cy="637.4" r="8.7"/><circle cx="297.6" cy="640.3" r="8.7"/><circle cx="297.7" cy="649.3" r="8.7"/><circle cx="297.9" cy="654.4" r="8.7"/><circle cx="298.0" cy="633.9" r="8.7"/><circle cx="298.1" cy="643.3" r="8.7"/><circle cx="298.2" cy="649.8" r="8.7"/><circle cx="298.3" cy="643.4" r="8.7"/><circle cx="298.4" cy="644.3" r="8.7"/><circle cx="298.5" cy="640.3" r="8.7"/><circle cx="298.6" cy="640.1" r="8.7"/><circle cx="298.8" cy="661.6" r="8.7"/><circle cx="298.9" cy="638.0" r="8.7"/><circle cx="299.0" cy="651.9" r="8.7"/><circle cx="299.0" cy="635.3" r="8.7"/><circle cx="299.2" cy="643.1" r="8.7"/><circle cx="299.3" cy="648.2" r="8.7"/><circle cx="299.4" cy="626.1" r="8.7"/><circle cx="299.6" cy="653.4" r="8.7"/><circle cx="299.6" cy="649.0" r="8.7"/><circle cx="299.7" cy="650.5" r="8.7"/><circle cx="299.9" cy="638.8" r="8.7"/><circle cx="300.0" cy="642.2" r="8.7"/><circle cx="300.1" cy="646.1" r="8.7"/><circle cx="300.1" cy="642.3" r="8.7"/><circle cx="300.2" cy="644.8" r="8.7"/><circle cx="300.3" cy="643.5" r="8.7"/><circle cx="300.5" cy="641.4" r="8.7"/><circle cx="300.6" cy="648.7" r="8.7"/><circle cx="300.7" cy="645.0" r="8.7"/><circle cx="300.8" cy="645.0" r="8.7"/><circle cx="301.0" cy="647.0" r="8.7"/><circle cx="301.0" cy="649.7" r="8.7"/><circle cx="301.2" cy="642.3" r="8.7"/><circle cx="301.2" cy="640.3" r="8.7"/><circle cx="301.3" cy="633.3" r="8.7"/><circle cx="301.4" cy="642.6" r="8.7"/><circle cx="301.5" cy="642.3" r="8.7"/><circle cx="301.7" cy="627.9" r="8.7"/><circle cx="301.7" cy="649.9" r="8.7"/><circle cx="301.9" cy="644.0" r="8.7"/><circle cx="302.0" cy="636.4" r="8.7"/><circle cx="302.2" cy="632.1" r="8.7"/><circle cx="302.2" cy="640.6" r="8.7"/><circle cx="302.3" cy="633.9" r="8.7"/><circle cx="302.4" cy="633.6" r="8.7"/><circle cx="302.6" cy="631.1" r="8.7"/><circle cx="302.7" cy="638.7" r="8.7"/><circle cx="302.8" cy="646.4" r="8.7"/><circle cx="302.9" cy="641.9" r="8.7"/><circle cx="303.0" cy="635.9" r="8.7"/><circle cx="303.1" cy="646.1" r="8.7"/><circle cx="303.2" cy="643.0" r="8.7"/><circle cx="303.3" cy="647.6" r="8.7"/><circle cx="303.5" cy="646.0" r="8.7"/><circle cx="303.5" cy="643.3" r="8.7"/><circle cx="303.7" cy="650.9" r="8.7"/><circle cx="303.7" cy="636.0" r="8.7"/><circle cx="303.9" cy="629.9" r="8.7"/><circle cx="303.9" cy="646.4" r="8.7"/><circle cx="304.1" cy="641.9" r="8.7"/><circle cx="304.2" cy="639.5" r="8.7"/><circle cx="304.3" cy="644.2" r="8.7"/><circle cx="304.4" cy="648.7" r="8.7"/><circle cx="304.5" cy="645.9" r="8.7"/><circle cx="304.6" cy="648.5" r="8.7"/><circle cx="304.7" cy="628.2" r="8.7"/><circle cx="304.8" cy="641.7" r="8.7"/><circle cx="304.9" cy="645.9" r="8.7"/><circle cx="305.1" cy="635.8" r="8.7"/><circle cx="305.2" cy="644.3" r="8.7"/><circle cx="305.3" cy="639.2" r="8.7"/><circle cx="305.3" cy="647.5" r="8.7"/><circle cx="305.5" cy="652.4" r="8.7"/><circle cx="305.6" cy="644.1" r="8.7"/><circle cx="305.7" cy="642.6" r="8.7"/><circle cx="305.8" cy="636.6" r="8.7"/><circle cx="306.0" cy="636.4" r="8.7"/><circle cx="306.0" cy="635.1" r="8.7"/><circle cx="306.2" cy="644.3" r="8.7"/><circle cx="306.2" cy="644.0" r="8.7"/><circle cx="306.3" cy="641.1" r="8.7"/><circle cx="306.5" cy="643.7" r="8.7"/><circle cx="306.6" cy="638.6" r="8.7"/><circle cx="306.7" cy="636.9" r="8.7"/><circle cx="306.8" cy="636.3" r="8.7"/><circle cx="306.9" cy="646.2" r="8.7"/><circle cx="307.0" cy="633.1" r="8.7"/><circle cx="307.1" cy="652.5" r="8.7"/><circle cx="307.2" cy="643.5" r="8.7"/><circle cx="307.4" cy="644.6" r="8.7"/><circle cx="307.5" cy="641.7" r="8.7"/><circle cx="307.5" cy="643.1" r="8.7"/><circle cx="307.7" cy="635.0" r="8.7"/><circle cx="307.8" cy="645.8" r="8.7"/><circle cx="307.8" cy="637.2" r="8.7"/><circle cx="308.0" cy="647.8" r="8.7"/><circle cx="308.1" cy="641.4" r="8.7"/><circle cx="308.2" cy="639.1" r="8.7"/><circle cx="308.3" cy="635.6" r="8.7"/><circle cx="308.4" cy="647.9" r="8.7"/><circle cx="308.5" cy="653.8" r="8.7"/><circle cx="308.6" cy="631.3" r="8.7"/><circle cx="308.7" cy="646.4" r="8.7"/><circle cx="308.8" cy="642.7" r="8.7"/><circle cx="309.0" cy="641.9" r="8.7"/><circle cx="309.1" cy="632.8" r="8.7"/><circle cx="309.2" cy="636.6" r="8.7"/><circle cx="309.3" cy="633.8" r="8.7"/><circle cx="309.4" cy="633.0" r="8.7"/><circle cx="309.5" cy="637.7" r="8.7"/><circle cx="309.5" cy="652.7" r="8.7"/><circle cx="309.7" cy="641.8" r="8.7"/><circle cx="309.8" cy="632.8" r="8.7"/><circle cx="309.9" cy="634.7" r="8.7"/><circle cx="310.0" cy="638.6" r="8.7"/><circle cx="310.1" cy="650.9" r="8.7"/><circle cx="310.2" cy="639.1" r="8.7"/><circle cx="310.3" cy="635.7" r="8.7"/><circle cx="310.4" cy="643.6" r="8.7"/><circle cx="310.6" cy="637.6" r="8.7"/><circle cx="310.7" cy="642.9" r="8.7"/><circle cx="310.8" cy="634.6" r="8.7"/><circle cx="310.9" cy="624.7" r="8.7"/><circle cx="311.0" cy="639.3" r="8.7"/><circle cx="311.1" cy="637.8" r="8.7"/><circle cx="311.2" cy="634.8" r="8.7"/><circle cx="311.3" cy="629.5" r="8.7"/><circle cx="311.4" cy="652.0" r="8.7"/><circle cx="311.5" cy="642.6" r="8.7"/><circle cx="311.7" cy="631.4" r="8.7"/><circle cx="311.7" cy="639.8" r="8.7"/><circle cx="311.9" cy="649.5" r="8.7"/><circle cx="312.0" cy="636.4" r="8.7"/><circle cx="312.0" cy="647.1" r="8.7"/><circle cx="312.1" cy="634.1" r="8.7"/><circle cx="312.3" cy="626.8" r="8.7"/><circle cx="312.4" cy="633.6" r="8.7"/><circle cx="312.5" cy="641.4" r="8.7"/><circle cx="312.6" cy="646.0" r="8.7"/><circle cx="312.7" cy="658.0" r="8.7"/><circle cx="312.8" cy="636.2" r="8.7"/><circle cx="312.9" cy="641.2" r="8.7"/><circle cx="313.0" cy="640.7" r="8.7"/><circle cx="313.1" cy="617.5" r="8.7"/><circle cx="313.3" cy="642.4" r="8.7"/><circle cx="313.3" cy="641.8" r="8.7"/><circle cx="313.4" cy="644.5" r="8.7"/><circle cx="313.6" cy="633.9" r="8.7"/><circle cx="313.6" cy="632.1" r="8.7"/><circle cx="313.8" cy="643.7" r="8.7"/><circle cx="313.9" cy="646.2" r="8.7"/><circle cx="314.0" cy="634.2" r="8.7"/><circle cx="314.1" cy="631.1" r="8.7"/><circle cx="314.2" cy="635.4" r="8.7"/><circle cx="314.3" cy="631.8" r="8.7"/><circle cx="314.4" cy="627.4" r="8.7"/><circle cx="314.5" cy="633.8" r="8.7"/><circle cx="314.6" cy="637.9" r="8.7"/><circle cx="314.7" cy="639.8" r="8.7"/><circle cx="314.8" cy="642.7" r="8.7"/><circle cx="314.9" cy="638.8" r="8.7"/><circle cx="315.1" cy="648.5" r="8.7"/><circle cx="315.2" cy="629.6" r="8.7"/><circle cx="315.3" cy="644.7" r="8.7"/><circle cx="315.4" cy="637.1" r="8.7"/><circle cx="315.5" cy="646.7" r="8.7"/><circle cx="315.5" cy="636.4" r="8.7"/><circle cx="315.6" cy="641.6" r="8.7"/><circle cx="315.8" cy="635.7" r="8.7"/><circle cx="315.9" cy="638.4" r="8.7"/><circle cx="316.0" cy="638.1" r="8.7"/><circle cx="316.1" cy="628.9" r="8.7"/><circle cx="316.2" cy="642.4" r="8.7"/><circle cx="316.3" cy="640.1" r="8.7"/><circle cx="316.5" cy="633.2" r="8.7"/><circle cx="316.5" cy="633.6" r="8.7"/><circle cx="316.6" cy="645.4" r="8.7"/><circle cx="316.7" cy="637.9" r="8.7"/><circle cx="316.9" cy="647.8" r="8.7"/><circle cx="316.9" cy="638.0" r="8.7"/><circle cx="317.0" cy="637.0" r="8.7"/><circle cx="317.2" cy="645.3" r="8.7"/><circle cx="317.3" cy="628.9" r="8.7"/><circle cx="317.4" cy="645.3" r="8.7"/><circle cx="317.5" cy="628.3" r="8.7"/><circle cx="317.6" cy="630.1" r="8.7"/><circle cx="317.7" cy="646.9" r="8.7"/><circle cx="317.8" cy="632.9" r="8.7"/><circle cx="317.9" cy="648.3" r="8.7"/><circle cx="318.0" cy="640.1" r="8.7"/><circle cx="318.1" cy="644.8" r="8.7"/><circle cx="318.2" cy="635.3" r="8.7"/><circle cx="318.4" cy="641.8" r="8.7"/><circle cx="318.5" cy="638.3" r="8.7"/><circle cx="318.5" cy="635.7" r="8.7"/><circle cx="318.6" cy="642.8" r="8.7"/><circle cx="318.8" cy="640.4" r="8.7"/><circle cx="318.9" cy="635.5" r="8.7"/><circle cx="319.0" cy="642.5" r="8.7"/><circle cx="319.1" cy="628.4" r="8.7"/><circle cx="319.1" cy="634.5" r="8.7"/><circle cx="319.3" cy="651.5" r="8.7"/><circle cx="319.4" cy="647.1" r="8.7"/><circle cx="319.5" cy="624.8" r="8.7"/><circle cx="319.6" cy="630.2" r="8.7"/><circle cx="319.7" cy="645.2" r="8.7"/><circle cx="319.8" cy="641.3" r="8.7"/><circle cx="319.9" cy="637.9" r="8.7"/><circle cx="320.0" cy="638.6" r="8.7"/><circle cx="320.1" cy="633.2" r="8.7"/><circle cx="320.3" cy="632.0" r="8.7"/><circle cx="320.3" cy="630.1" r="8.7"/><circle cx="320.4" cy="629.5" r="8.7"/><circle cx="320.5" cy="642.9" r="8.7"/><circle cx="320.6" cy="635.3" r="8.7"/><circle cx="320.7" cy="637.2" r="8.7"/><circle cx="320.9" cy="632.6" r="8.7"/><circle cx="320.9" cy="637.0" r="8.7"/><circle cx="321.0" cy="646.6" r="8.7"/><circle cx="321.2" cy="638.9" r="8.7"/><circle cx="321.2" cy="621.4" r="8.7"/><circle cx="321.4" cy="632.2" r="8.7"/><circle cx="321.5" cy="635.8" r="8.7"/><circle cx="321.5" cy="628.8" r="8.7"/><circle cx="321.7" cy="636.2" r="8.7"/><circle cx="321.8" cy="637.4" r="8.7"/><circle cx="321.9" cy="635.6" r="8.7"/><circle cx="322.0" cy="637.0" r="8.7"/><circle cx="322.1" cy="630.6" r="8.7"/><circle cx="322.2" cy="638.2" r="8.7"/><circle cx="322.3" cy="646.5" r="8.7"/><circle cx="322.5" cy="630.3" r="8.7"/><circle cx="322.6" cy="634.0" r="8.7"/><circle cx="322.6" cy="632.3" r="8.7"/><circle cx="322.7" cy="637.8" r="8.7"/><circle cx="322.8" cy="636.2" r="8.7"/><circle cx="323.0" cy="638.7" r="8.7"/><circle cx="323.0" cy="630.8" r="8.7"/><circle cx="323.1" cy="633.0" r="8.7"/><circle cx="323.3" cy="640.9" r="8.7"/><circle cx="323.4" cy="627.1" r="8.7"/><circle cx="323.5" cy="620.0" r="8.7"/><circle cx="323.6" cy="634.9" r="8.7"/><circle cx="323.7" cy="640.9" r="8.7"/><circle cx="323.8" cy="628.7" r="8.7"/><circle cx="323.9" cy="626.7" r="8.7"/><circle cx="324.0" cy="640.1" r="8.7"/><circle cx="324.2" cy="643.7" r="8.7"/><circle cx="324.2" cy="642.7" r="8.7"/><circle cx="324.3" cy="637.6" r="8.7"/><circle cx="324.4" cy="641.2" r="8.7"/><circle cx="324.5" cy="637.4" r="8.7"/><circle cx="324.7" cy="637.3" r="8.7"/><circle cx="324.7" cy="644.4" r="8.7"/><circle cx="324.8" cy="632.8" r="8.7"/><circle cx="325.0" cy="626.5" r="8.7"/><circle cx="325.1" cy="646.8" r="8.7"/><circle cx="325.2" cy="636.2" r="8.7"/><circle cx="325.3" cy="637.5" r="8.7"/><circle cx="325.4" cy="639.3" r="8.7"/><circle cx="325.5" cy="634.4" r="8.7"/><circle cx="325.5" cy="641.0" r="8.7"/><circle cx="325.6" cy="630.0" r="8.7"/><circle cx="325.8" cy="636.8" r="8.7"/><circle cx="325.8" cy="640.8" r="8.7"/><circle cx="326.0" cy="632.3" r="8.7"/><circle cx="326.1" cy="634.1" r="8.7"/><circle cx="326.2" cy="626.3" r="8.7"/><circle cx="326.3" cy="633.7" r="8.7"/><circle cx="326.4" cy="636.9" r="8.7"/><circle cx="326.5" cy="623.3" r="8.7"/><circle cx="326.6" cy="633.3" r="8.7"/><circle cx="326.7" cy="632.4" r="8.7"/><circle cx="326.8" cy="625.8" r="8.7"/><circle cx="327.0" cy="637.7" r="8.7"/><circle cx="327.1" cy="635.0" r="8.7"/><circle cx="327.1" cy="638.9" r="8.7"/><circle cx="327.3" cy="622.8" r="8.7"/><circle cx="327.4" cy="627.5" r="8.7"/><circle cx="327.5" cy="639.3" r="8.7"/><circle cx="327.5" cy="614.6" r="8.7"/><circle cx="327.6" cy="640.8" r="8.7"/><circle cx="327.8" cy="640.9" r="8.7"/><circle cx="327.8" cy="623.4" r="8.7"/><circle cx="328.0" cy="627.7" r="8.7"/><circle cx="328.1" cy="638.2" r="8.7"/><circle cx="328.2" cy="638.4" r="8.7"/><circle cx="328.3" cy="620.1" r="8.7"/><circle cx="328.4" cy="637.6" r="8.7"/><circle cx="328.4" cy="633.6" r="8.7"/><circle cx="328.5" cy="638.0" r="8.7"/><circle cx="328.7" cy="618.9" r="8.7"/><circle cx="328.8" cy="637.9" r="8.7"/><circle cx="328.9" cy="642.1" r="8.7"/><circle cx="329.0" cy="632.5" r="8.7"/><circle cx="329.1" cy="631.8" r="8.7"/><circle cx="329.2" cy="635.3" r="8.7"/><circle cx="329.4" cy="637.7" r="8.7"/><circle cx="329.4" cy="644.3" r="8.7"/><circle cx="329.6" cy="638.7" r="8.7"/><circle cx="329.7" cy="622.1" r="8.7"/><circle cx="329.8" cy="643.0" r="8.7"/><circle cx="329.9" cy="625.5" r="8.7"/><circle cx="329.9" cy="619.4" r="8.7"/><circle cx="330.0" cy="643.8" r="8.7"/><circle cx="330.2" cy="624.9" r="8.7"/><circle cx="330.2" cy="630.6" r="8.7"/><circle cx="330.3" cy="625.0" r="8.7"/><circle cx="330.4" cy="625.1" r="8.7"/><circle cx="330.6" cy="640.5" r="8.7"/><circle cx="330.6" cy="629.1" r="8.7"/><circle cx="330.8" cy="638.3" r="8.7"/><circle cx="330.8" cy="644.7" r="8.7"/><circle cx="331.0" cy="626.4" r="8.7"/><circle cx="331.1" cy="637.0" r="8.7"/><circle cx="331.2" cy="630.6" r="8.7"/><circle cx="331.3" cy="639.9" r="8.7"/><circle cx="331.4" cy="626.0" r="8.7"/><circle cx="331.5" cy="612.8" r="8.7"/><circle cx="331.6" cy="628.4" r="8.7"/><circle cx="331.7" cy="633.9" r="8.7"/><circle cx="331.7" cy="637.4" r="8.7"/><circle cx="331.9" cy="636.2" r="8.7"/><circle cx="332.0" cy="630.9" r="8.7"/><circle cx="332.1" cy="635.8" r="8.7"/><circle cx="332.2" cy="637.9" r="8.7"/><circle cx="332.3" cy="628.3" r="8.7"/><circle cx="332.4" cy="629.7" r="8.7"/><circle cx="332.6" cy="625.6" r="8.7"/><circle cx="332.6" cy="626.5" r="8.7"/><circle cx="332.7" cy="638.8" r="8.7"/><circle cx="332.8" cy="630.9" r="8.7"/><circle cx="332.9" cy="636.9" r="8.7"/><circle cx="333.1" cy="638.7" r="8.7"/><circle cx="333.1" cy="638.5" r="8.7"/><circle cx="333.2" cy="639.7" r="8.7"/><circle cx="333.3" cy="630.6" r="8.7"/><circle cx="333.4" cy="633.0" r="8.7"/><circle cx="333.6" cy="628.8" r="8.7"/><circle cx="333.7" cy="633.8" r="8.7"/><circle cx="333.7" cy="627.2" r="8.7"/><circle cx="333.9" cy="638.9" r="8.7"/><circle cx="333.9" cy="632.1" r="8.7"/><circle cx="334.0" cy="629.6" r="8.7"/><circle cx="334.2" cy="624.7" r="8.7"/><circle cx="334.3" cy="620.5" r="8.7"/><circle cx="334.3" cy="633.1" r="8.7"/><circle cx="334.5" cy="642.9" r="8.7"/><circle cx="334.6" cy="640.2" r="8.7"/><circle cx="334.6" cy="623.4" r="8.7"/><circle cx="334.8" cy="620.1" r="8.7"/><circle cx="334.8" cy="625.5" r="8.7"/><circle cx="335.0" cy="621.5" r="8.7"/><circle cx="335.1" cy="632.6" r="8.7"/><circle cx="335.1" cy="616.6" r="8.7"/><circle cx="335.3" cy="633.6" r="8.7"/><circle cx="335.4" cy="622.6" r="8.7"/><circle cx="335.5" cy="625.6" r="8.7"/><circle cx="335.6" cy="620.2" r="8.7"/><circle cx="335.7" cy="626.8" r="8.7"/><circle cx="335.8" cy="612.8" r="8.7"/><circle cx="335.9" cy="626.3" r="8.7"/><circle cx="336.0" cy="630.1" r="8.7"/><circle cx="336.1" cy="639.8" r="8.7"/><circle cx="336.2" cy="623.0" r="8.7"/><circle cx="336.3" cy="628.2" r="8.7"/><circle cx="336.4" cy="634.1" r="8.7"/><circle cx="336.5" cy="632.6" r="8.7"/><circle cx="336.6" cy="624.4" r="8.7"/><circle cx="336.7" cy="635.0" r="8.7"/><circle cx="336.8" cy="633.5" r="8.7"/><circle cx="336.9" cy="636.3" r="8.7"/><circle cx="337.1" cy="627.1" r="8.7"/><circle cx="337.1" cy="639.7" r="8.7"/><circle cx="337.3" cy="624.2" r="8.7"/><circle cx="337.3" cy="623.7" r="8.7"/><circle cx="337.4" cy="624.2" r="8.7"/><circle cx="337.6" cy="627.3" r="8.7"/><circle cx="337.6" cy="630.2" r="8.7"/><circle cx="337.7" cy="640.5" r="8.7"/><circle cx="337.9" cy="629.9" r="8.7"/><circle cx="337.9" cy="632.7" r="8.7"/><circle cx="338.1" cy="599.1" r="8.7"/><circle cx="338.2" cy="619.0" r="8.7"/><circle cx="338.3" cy="631.8" r="8.7"/><circle cx="338.3" cy="626.9" r="8.7"/><circle cx="338.5" cy="623.9" r="8.7"/><circle cx="338.6" cy="635.5" r="8.7"/><circle cx="338.7" cy="635.6" r="8.7"/><circle cx="338.8" cy="617.9" r="8.7"/><circle cx="338.8" cy="654.9" r="8.7"/><circle cx="339.0" cy="620.9" r="8.7"/><circle cx="339.1" cy="637.2" r="8.7"/><circle cx="339.2" cy="621.2" r="8.7"/><circle cx="339.2" cy="623.7" r="8.7"/><circle cx="339.4" cy="638.4" r="8.7"/><circle cx="339.4" cy="627.9" r="8.7"/><circle cx="339.5" cy="620.2" r="8.7"/><circle cx="339.7" cy="633.1" r="8.7"/><circle cx="339.8" cy="606.4" r="8.7"/><circle cx="339.9" cy="627.9" r="8.7"/><circle cx="340.0" cy="627.6" r="8.7"/><circle cx="340.1" cy="630.3" r="8.7"/><circle cx="340.2" cy="631.3" r="8.7"/><circle cx="340.2" cy="600.9" r="8.7"/><circle cx="340.4" cy="644.1" r="8.7"/><circle cx="340.5" cy="634.9" r="8.7"/><circle cx="340.6" cy="630.2" r="8.7"/><circle cx="340.7" cy="636.9" r="8.7"/><circle cx="340.8" cy="626.8" r="8.7"/><circle cx="340.9" cy="615.4" r="8.7"/><circle cx="341.0" cy="617.2" r="8.7"/><circle cx="341.1" cy="613.0" r="8.7"/><circle cx="341.2" cy="626.1" r="8.7"/><circle cx="341.3" cy="619.5" r="8.7"/><circle cx="341.4" cy="626.6" r="8.7"/><circle cx="341.5" cy="634.3" r="8.7"/><circle cx="341.6" cy="628.8" r="8.7"/><circle cx="341.7" cy="621.1" r="8.7"/><circle cx="341.8" cy="628.4" r="8.7"/><circle cx="341.9" cy="626.0" r="8.7"/><circle cx="342.0" cy="619.8" r="8.7"/><circle cx="342.1" cy="632.9" r="8.7"/><circle cx="342.3" cy="631.6" r="8.7"/><circle cx="342.3" cy="618.3" r="8.7"/><circle cx="342.4" cy="623.8" r="8.7"/><circle cx="342.5" cy="621.4" r="8.7"/><circle cx="342.6" cy="625.4" r="8.7"/><circle cx="342.7" cy="633.1" r="8.7"/><circle cx="342.8" cy="618.9" r="8.7"/><circle cx="342.9" cy="629.3" r="8.7"/><circle cx="343.0" cy="623.8" r="8.7"/><circle cx="343.1" cy="623.3" r="8.7"/><circle cx="343.2" cy="623.9" r="8.7"/><circle cx="343.3" cy="633.5" r="8.7"/><circle cx="343.4" cy="623.6" r="8.7"/><circle cx="343.5" cy="634.4" r="8.7"/><circle cx="343.7" cy="624.5" r="8.7"/><circle cx="343.7" cy="628.9" r="8.7"/><circle cx="343.8" cy="617.3" r="8.7"/><circle cx="343.9" cy="630.0" r="8.7"/><circle cx="344.1" cy="627.3" r="8.7"/><circle cx="344.1" cy="627.4" r="8.7"/><circle cx="344.3" cy="638.0" r="8.7"/><circle cx="344.3" cy="627.8" r="8.7"/><circle cx="344.4" cy="626.6" r="8.7"/><circle cx="344.5" cy="631.0" r="8.7"/><circle cx="344.6" cy="627.3" r="8.7"/><circle cx="344.7" cy="624.6" r="8.7"/><circle cx="344.8" cy="623.9" r="8.7"/><circle cx="344.9" cy="625.8" r="8.7"/><circle cx="345.1" cy="622.8" r="8.7"/><circle cx="345.1" cy="619.7" r="8.7"/><circle cx="345.3" cy="627.1" r="8.7"/><circle cx="345.3" cy="619.2" r="8.7"/><circle cx="345.4" cy="627.7" r="8.7"/><circle cx="345.5" cy="623.9" r="8.7"/><circle cx="345.6" cy="636.9" r="8.7"/><circle cx="345.7" cy="626.0" r="8.7"/><circle cx="345.9" cy="628.6" r="8.7"/><circle cx="345.9" cy="628.8" r="8.7"/><circle cx="346.0" cy="632.3" r="8.7"/><circle cx="346.1" cy="632.8" r="8.7"/><circle cx="346.2" cy="624.5" r="8.7"/><circle cx="346.4" cy="619.9" r="8.7"/><circle cx="346.5" cy="628.2" r="8.7"/><circle cx="346.5" cy="628.5" r="8.7"/><circle cx="346.6" cy="631.1" r="8.7"/><circle cx="346.7" cy="633.5" r="8.7"/><circle cx="346.8" cy="632.1" r="8.7"/><circle cx="346.9" cy="624.4" r="8.7"/><circle cx="347.1" cy="635.5" r="8.7"/><circle cx="347.1" cy="615.7" r="8.7"/><circle cx="347.2" cy="625.6" r="8.7"/><circle cx="347.4" cy="620.5" r="8.7"/><circle cx="347.4" cy="625.0" r="8.7"/><circle cx="347.5" cy="628.9" r="8.7"/><circle cx="347.7" cy="619.7" r="8.7"/><circle cx="347.8" cy="615.3" r="8.7"/><circle cx="347.8" cy="627.1" r="8.7"/><circle cx="348.0" cy="613.3" r="8.7"/><circle cx="348.0" cy="625.8" r="8.7"/><circle cx="348.2" cy="622.2" r="8.7"/><circle cx="348.3" cy="630.0" r="8.7"/><circle cx="348.4" cy="618.3" r="8.7"/><circle cx="348.4" cy="621.8" r="8.7"/><circle cx="348.5" cy="621.8" r="8.7"/><circle cx="348.7" cy="614.6" r="8.7"/><circle cx="348.7" cy="629.9" r="8.7"/><circle cx="348.8" cy="635.7" r="8.7"/><circle cx="349.0" cy="636.4" r="8.7"/><circle cx="349.1" cy="628.7" r="8.7"/><circle cx="349.2" cy="626.6" r="8.7"/><circle cx="349.2" cy="626.7" r="8.7"/><circle cx="349.4" cy="621.5" r="8.7"/><circle cx="349.4" cy="617.9" r="8.7"/><circle cx="349.5" cy="628.7" r="8.7"/><circle cx="349.6" cy="616.9" r="8.7"/><circle cx="349.7" cy="627.5" r="8.7"/><circle cx="349.8" cy="630.1" r="8.7"/><circle cx="349.9" cy="619.7" r="8.7"/><circle cx="350.1" cy="618.9" r="8.7"/><circle cx="350.1" cy="619.9" r="8.7"/><circle cx="350.2" cy="630.0" r="8.7"/><circle cx="350.4" cy="615.6" r="8.7"/><circle cx="350.5" cy="621.4" r="8.7"/><circle cx="350.6" cy="628.5" r="8.7"/><circle cx="350.7" cy="623.5" r="8.7"/><circle cx="350.8" cy="622.5" r="8.7"/><circle cx="350.8" cy="623.9" r="8.7"/><circle cx="351.0" cy="627.1" r="8.7"/><circle cx="351.0" cy="613.5" r="8.7"/><circle cx="351.2" cy="626.5" r="8.7"/><circle cx="351.2" cy="621.2" r="8.7"/><circle cx="351.3" cy="623.8" r="8.7"/><circle cx="351.4" cy="621.9" r="8.7"/><circle cx="351.5" cy="633.1" r="8.7"/><circle cx="351.7" cy="611.3" r="8.7"/><circle cx="351.8" cy="636.6" r="8.7"/><circle cx="351.9" cy="614.2" r="8.7"/><circle cx="351.9" cy="623.5" r="8.7"/><circle cx="352.0" cy="601.3" r="8.7"/><circle cx="352.1" cy="616.3" r="8.7"/><circle cx="352.3" cy="622.5" r="8.7"/><circle cx="352.3" cy="618.1" r="8.7"/><circle cx="352.4" cy="623.6" r="8.7"/><circle cx="352.5" cy="632.3" r="8.7"/><circle cx="352.7" cy="626.5" r="8.7"/><circle cx="352.8" cy="626.3" r="8.7"/><circle cx="352.8" cy="627.0" r="8.7"/><circle cx="353.0" cy="635.0" r="8.7"/><circle cx="353.0" cy="624.2" r="8.7"/><circle cx="353.2" cy="619.3" r="8.7"/><circle cx="353.2" cy="620.4" r="8.7"/><circle cx="353.3" cy="627.5" r="8.7"/><circle cx="353.5" cy="612.6" r="8.7"/><circle cx="353.5" cy="623.9" r="8.7"/><circle cx="353.6" cy="620.4" r="8.7"/><circle cx="353.8" cy="623.8" r="8.7"/><circle cx="353.9" cy="627.4" r="8.7"/><circle cx="354.0" cy="621.6" r="8.7"/><circle cx="354.0" cy="628.1" r="8.7"/><circle cx="354.1" cy="629.1" r="8.7"/><circle cx="354.2" cy="633.7" r="8.7"/><circle cx="354.3" cy="621.3" r="8.7"/><circle cx="354.4" cy="618.6" r="8.7"/><circle cx="354.5" cy="622.5" r="8.7"/><circle cx="354.7" cy="624.5" r="8.7"/><circle cx="354.7" cy="623.5" r="8.7"/><circle cx="354.9" cy="617.2" r="8.7"/><circle cx="354.9" cy="622.7" r="8.7"/><circle cx="355.0" cy="608.1" r="8.7"/><circle cx="355.1" cy="625.0" r="8.7"/><circle cx="355.2" cy="622.3" r="8.7"/><circle cx="355.3" cy="619.7" r="8.7"/><circle cx="355.4" cy="622.6" r="8.7"/><circle cx="355.5" cy="619.9" r="8.7"/><circle cx="355.7" cy="617.8" r="8.7"/><circle cx="355.7" cy="623.5" r="8.7"/><circle cx="355.8" cy="610.2" r="8.7"/><circle cx="355.9" cy="625.7" r="8.7"/><circle cx="356.0" cy="621.6" r="8.7"/><circle cx="356.1" cy="620.0" r="8.7"/><circle cx="356.3" cy="621.7" r="8.7"/><circle cx="356.3" cy="628.3" r="8.7"/><circle cx="356.5" cy="621.2" r="8.7"/><circle cx="356.5" cy="629.6" r="8.7"/><circle cx="356.6" cy="627.1" r="8.7"/><circle cx="356.7" cy="622.3" r="8.7"/><circle cx="356.8" cy="632.2" r="8.7"/><circle cx="356.9" cy="618.1" r="8.7"/><circle cx="357.1" cy="603.2" r="8.7"/><circle cx="357.1" cy="610.1" r="8.7"/><circle cx="357.2" cy="616.6" r="8.7"/><circle cx="357.3" cy="621.3" r="8.7"/><circle cx="357.4" cy="624.0" r="8.7"/><circle cx="357.5" cy="608.2" r="8.7"/><circle cx="357.7" cy="621.6" r="8.7"/><circle cx="357.7" cy="610.0" r="8.7"/><circle cx="357.9" cy="641.4" r="8.7"/><circle cx="357.9" cy="610.7" r="8.7"/><circle cx="358.0" cy="625.5" r="8.7"/><circle cx="358.1" cy="637.1" r="8.7"/><circle cx="358.2" cy="619.3" r="8.7"/><circle cx="358.3" cy="611.2" r="8.7"/><circle cx="358.4" cy="611.1" r="8.7"/><circle cx="358.5" cy="606.9" r="8.7"/><circle cx="358.6" cy="625.8" r="8.7"/><circle cx="358.7" cy="627.7" r="8.7"/><circle cx="358.8" cy="614.7" r="8.7"/><circle cx="358.9" cy="616.4" r="8.7"/><circle cx="359.0" cy="610.9" r="8.7"/><circle cx="359.1" cy="615.4" r="8.7"/><circle cx="359.2" cy="620.5" r="8.7"/><circle cx="359.3" cy="617.6" r="8.7"/><circle cx="359.4" cy="623.4" r="8.7"/><circle cx="359.5" cy="618.5" r="8.7"/><circle cx="359.6" cy="618.0" r="8.7"/><circle cx="359.7" cy="614.8" r="8.7"/><circle cx="359.8" cy="622.3" r="8.7"/><circle cx="359.9" cy="629.8" r="8.7"/><circle cx="360.0" cy="613.3" r="8.7"/><circle cx="360.1" cy="627.0" r="8.7"/><circle cx="360.2" cy="616.8" r="8.7"/><circle cx="360.3" cy="626.5" r="8.7"/><circle cx="360.4" cy="627.9" r="8.7"/><circle cx="360.4" cy="622.6" r="8.7"/><circle cx="360.6" cy="613.2" r="8.7"/><circle cx="360.7" cy="627.5" r="8.7"/><circle cx="360.8" cy="619.4" r="8.7"/><circle cx="360.9" cy="608.4" r="8.7"/><circle cx="360.9" cy="617.2" r="8.7"/><circle cx="361.1" cy="620.9" r="8.7"/><circle cx="361.2" cy="624.4" r="8.7"/><circle cx="361.3" cy="610.2" r="8.7"/><circle cx="361.4" cy="623.2" r="8.7"/><circle cx="361.5" cy="628.8" r="8.7"/><circle cx="361.6" cy="611.1" r="8.7"/><circle cx="361.6" cy="627.4" r="8.7"/><circle cx="361.8" cy="618.5" r="8.7"/><circle cx="361.9" cy="613.4" r="8.7"/><circle cx="362.0" cy="622.8" r="8.7"/><circle cx="362.0" cy="620.4" r="8.7"/><circle cx="362.1" cy="613.0" r="8.7"/><circle cx="362.3" cy="618.4" r="8.7"/><circle cx="362.4" cy="611.8" r="8.7"/><circle cx="362.5" cy="637.0" r="8.7"/><circle cx="362.6" cy="612.2" r="8.7"/><circle cx="362.7" cy="610.0" r="8.7"/><circle cx="362.7" cy="627.5" r="8.7"/><circle cx="362.8" cy="617.0" r="8.7"/><circle cx="362.9" cy="611.1" r="8.7"/><circle cx="363.1" cy="618.3" r="8.7"/><circle cx="363.1" cy="592.3" r="8.7"/><circle cx="363.3" cy="619.8" r="8.7"/><circle cx="363.4" cy="628.9" r="8.7"/><circle cx="363.5" cy="619.6" r="8.7"/><circle cx="363.6" cy="610.9" r="8.7"/><circle cx="363.6" cy="612.8" r="8.7"/><circle cx="363.8" cy="622.8" r="8.7"/><circle cx="363.8" cy="619.1" r="8.7"/><circle cx="363.9" cy="619.1" r="8.7"/><circle cx="364.0" cy="613.5" r="8.7"/><circle cx="364.2" cy="601.0" r="8.7"/><circle cx="364.3" cy="622.5" r="8.7"/><circle cx="364.3" cy="622.2" r="8.7"/><circle cx="364.4" cy="626.8" r="8.7"/><circle cx="364.5" cy="616.4" r="8.7"/><circle cx="364.7" cy="613.4" r="8.7"/><circle cx="364.7" cy="606.7" r="8.7"/><circle cx="364.8" cy="615.7" r="8.7"/><circle cx="364.9" cy="614.4" r="8.7"/><circle cx="365.0" cy="613.1" r="8.7"/><circle cx="365.1" cy="624.8" r="8.7"/><circle cx="365.2" cy="614.2" r="8.7"/><circle cx="365.3" cy="608.7" r="8.7"/><circle cx="365.4" cy="611.5" r="8.7"/><circle cx="365.5" cy="618.9" r="8.7"/><circle cx="365.6" cy="622.3" r="8.7"/><circle cx="365.7" cy="621.8" r="8.7"/><circle cx="365.8" cy="610.5" r="8.7"/><circle cx="365.9" cy="621.3" r="8.7"/><circle cx="366.0" cy="616.9" r="8.7"/><circle cx="366.1" cy="616.1" r="8.7"/><circle cx="366.2" cy="619.2" r="8.7"/><circle cx="366.3" cy="622.9" r="8.7"/><circle cx="366.4" cy="622.9" r="8.7"/><circle cx="366.5" cy="620.0" r="8.7"/><circle cx="366.6" cy="614.7" r="8.7"/><circle cx="366.7" cy="596.3" r="8.7"/><circle cx="366.8" cy="603.6" r="8.7"/><circle cx="366.9" cy="621.7" r="8.7"/><circle cx="367.0" cy="619.7" r="8.7"/><circle cx="367.1" cy="610.2" r="8.7"/><circle cx="367.2" cy="612.7" r="8.7"/><circle cx="367.2" cy="630.2" r="8.7"/><circle cx="367.4" cy="623.7" r="8.7"/><circle cx="367.4" cy="612.3" r="8.7"/><circle cx="367.6" cy="622.4" r="8.7"/><circle cx="367.6" cy="623.9" r="8.7"/><circle cx="367.7" cy="612.0" r="8.7"/><circle cx="367.9" cy="610.4" r="8.7"/><circle cx="368.0" cy="610.4" r="8.7"/><circle cx="368.1" cy="606.0" r="8.7"/><circle cx="368.1" cy="624.5" r="8.7"/><circle cx="368.3" cy="622.0" r="8.7"/><circle cx="368.4" cy="619.5" r="8.7"/><circle cx="368.4" cy="609.6" r="8.7"/><circle cx="368.5" cy="619.3" r="8.7"/><circle cx="368.6" cy="610.7" r="8.7"/><circle cx="368.7" cy="613.5" r="8.7"/><circle cx="368.8" cy="621.3" r="8.7"/><circle cx="369.0" cy="618.9" r="8.7"/><circle cx="369.0" cy="623.6" r="8.7"/><circle cx="369.1" cy="618.3" r="8.7"/><circle cx="369.2" cy="624.3" r="8.7"/><circle cx="369.3" cy="604.6" r="8.7"/><circle cx="369.5" cy="611.0" r="8.7"/><circle cx="369.6" cy="618.0" r="8.7"/><circle cx="369.6" cy="616.8" r="8.7"/><circle cx="369.7" cy="592.9" r="8.7"/><circle cx="369.8" cy="610.9" r="8.7"/><circle cx="369.9" cy="610.9" r="8.7"/><circle cx="370.0" cy="615.8" r="8.7"/><circle cx="370.1" cy="608.0" r="8.7"/><circle cx="370.2" cy="614.6" r="8.7"/><circle cx="370.3" cy="601.5" r="8.7"/><circle cx="370.4" cy="611.4" r="8.7"/><circle cx="370.5" cy="622.2" r="8.7"/><circle cx="370.6" cy="621.6" r="8.7"/><circle cx="370.7" cy="618.6" r="8.7"/><circle cx="370.8" cy="609.9" r="8.7"/><circle cx="370.9" cy="618.6" r="8.7"/><circle cx="371.0" cy="604.5" r="8.7"/><circle cx="371.0" cy="617.2" r="8.7"/><circle cx="371.2" cy="632.7" r="8.7"/><circle cx="371.3" cy="609.5" r="8.7"/><circle cx="371.3" cy="623.9" r="8.7"/><circle cx="371.4" cy="611.8" r="8.7"/><circle cx="371.6" cy="621.6" r="8.7"/><circle cx="371.6" cy="617.9" r="8.7"/><circle cx="371.7" cy="615.0" r="8.7"/><circle cx="371.9" cy="623.4" r="8.7"/><circle cx="371.9" cy="600.6" r="8.7"/><circle cx="372.0" cy="621.8" r="8.7"/><circle cx="372.2" cy="617.9" r="8.7"/><circle cx="372.2" cy="604.4" r="8.7"/><circle cx="372.4" cy="609.0" r="8.7"/><circle cx="372.5" cy="629.6" r="8.7"/><circle cx="372.5" cy="612.1" r="8.7"/><circle cx="372.6" cy="608.1" r="8.7"/><circle cx="372.8" cy="599.4" r="8.7"/><circle cx="372.8" cy="620.8" r="8.7"/><circle cx="372.9" cy="614.5" r="8.7"/><circle cx="373.1" cy="619.0" r="8.7"/><circle cx="373.1" cy="619.0" r="8.7"/><circle cx="373.3" cy="603.7" r="8.7"/><circle cx="373.3" cy="608.3" r="8.7"/><circle cx="373.4" cy="602.1" r="8.7"/><circle cx="373.5" cy="619.3" r="8.7"/><circle cx="373.6" cy="601.0" r="8.7"/><circle cx="373.7" cy="621.7" r="8.7"/><circle cx="373.8" cy="609.4" r="8.7"/><circle cx="373.8" cy="594.0" r="8.7"/><circle cx="373.9" cy="612.6" r="8.7"/><circle cx="374.0" cy="615.9" r="8.7"/><circle cx="374.2" cy="612.4" r="8.7"/><circle cx="374.3" cy="621.9" r="8.7"/><circle cx="374.3" cy="618.4" r="8.7"/><circle cx="374.5" cy="618.3" r="8.7"/><circle cx="374.6" cy="606.1" r="8.7"/><circle cx="374.7" cy="610.9" r="8.7"/><circle cx="374.8" cy="615.0" r="8.7"/><circle cx="374.9" cy="613.7" r="8.7"/><circle cx="374.9" cy="619.8" r="8.7"/><circle cx="375.1" cy="604.0" r="8.7"/><circle cx="375.2" cy="625.3" r="8.7"/><circle cx="375.2" cy="618.0" r="8.7"/><circle cx="375.4" cy="606.7" r="8.7"/><circle cx="375.5" cy="611.1" r="8.7"/><circle cx="375.5" cy="616.6" r="8.7"/><circle cx="375.7" cy="615.4" r="8.7"/><circle cx="375.7" cy="608.6" r="8.7"/><circle cx="375.8" cy="634.4" r="8.7"/><circle cx="375.9" cy="615.0" r="8.7"/><circle cx="376.0" cy="613.9" r="8.7"/><circle cx="376.1" cy="614.6" r="8.7"/><circle cx="376.2" cy="617.2" r="8.7"/><circle cx="376.3" cy="628.0" r="8.7"/><circle cx="376.5" cy="609.2" r="8.7"/><circle cx="376.5" cy="613.9" r="8.7"/><circle cx="376.6" cy="607.7" r="8.7"/><circle cx="376.7" cy="593.6" r="8.7"/><circle cx="376.8" cy="614.9" r="8.7"/><circle cx="376.8" cy="617.1" r="8.7"/><circle cx="377.0" cy="609.0" r="8.7"/><circle cx="377.1" cy="620.2" r="8.7"/><circle cx="377.2" cy="614.8" r="8.7"/><circle cx="377.3" cy="617.2" r="8.7"/><circle cx="377.4" cy="617.5" r="8.7"/><circle cx="377.5" cy="614.8" r="8.7"/><circle cx="377.5" cy="612.2" r="8.7"/><circle cx="377.7" cy="601.6" r="8.7"/><circle cx="377.8" cy="610.1" r="8.7"/><circle cx="377.8" cy="615.9" r="8.7"/><circle cx="377.9" cy="606.2" r="8.7"/><circle cx="378.1" cy="617.9" r="8.7"/><circle cx="378.1" cy="607.2" r="8.7"/><circle cx="378.3" cy="607.8" r="8.7"/><circle cx="378.3" cy="610.7" r="8.7"/><circle cx="378.4" cy="615.5" r="8.7"/><circle cx="378.6" cy="609.3" r="8.7"/><circle cx="378.6" cy="605.1" r="8.7"/><circle cx="378.7" cy="598.9" r="8.7"/><circle cx="378.9" cy="608.0" r="8.7"/><circle cx="378.9" cy="616.4" r="8.7"/><circle cx="379.0" cy="623.5" r="8.7"/><circle cx="379.1" cy="622.8" r="8.7"/><circle cx="379.2" cy="612.6" r="8.7"/><circle cx="379.3" cy="633.8" r="8.7"/><circle cx="379.4" cy="629.9" r="8.7"/><circle cx="379.5" cy="613.6" r="8.7"/><circle cx="379.6" cy="620.7" r="8.7"/><circle cx="379.7" cy="607.1" r="8.7"/><circle cx="379.8" cy="619.6" r="8.7"/><circle cx="379.9" cy="608.7" r="8.7"/><circle cx="380.0" cy="604.1" r="8.7"/><circle cx="380.1" cy="609.8" r="8.7"/><circle cx="380.2" cy="600.8" r="8.7"/><circle cx="380.3" cy="615.6" r="8.7"/><circle cx="380.3" cy="613.9" r="8.7"/><circle cx="380.4" cy="610.4" r="8.7"/><circle cx="380.5" cy="607.4" r="8.7"/><circle cx="380.7" cy="609.0" r="8.7"/><circle cx="380.7" cy="620.8" r="8.7"/><circle cx="380.8" cy="616.2" r="8.7"/><circle cx="381.0" cy="607.6" r="8.7"/><circle cx="381.0" cy="610.5" r="8.7"/><circle cx="381.1" cy="615.7" r="8.7"/><circle cx="381.2" cy="607.5" r="8.7"/><circle cx="381.3" cy="612.9" r="8.7"/><circle cx="381.4" cy="612.0" r="8.7"/><circle cx="381.5" cy="600.8" r="8.7"/><circle cx="381.6" cy="612.3" r="8.7"/><circle cx="381.7" cy="608.1" r="8.7"/><circle cx="381.8" cy="606.8" r="8.7"/><circle cx="381.9" cy="580.6" r="8.7"/><circle cx="382.0" cy="615.7" r="8.7"/><circle cx="382.1" cy="619.7" r="8.7"/><circle cx="382.2" cy="596.3" r="8.7"/><circle cx="382.3" cy="608.8" r="8.7"/><circle cx="382.4" cy="611.4" r="8.7"/><circle cx="382.5" cy="598.9" r="8.7"/><circle cx="382.6" cy="593.4" r="8.7"/><circle cx="382.6" cy="610.4" r="8.7"/><circle cx="382.8" cy="617.8" r="8.7"/><circle cx="382.8" cy="618.7" r="8.7"/><circle cx="382.9" cy="614.1" r="8.7"/><circle cx="383.0" cy="614.3" r="8.7"/><circle cx="383.2" cy="621.2" r="8.7"/><circle cx="383.3" cy="612.7" r="8.7"/><circle cx="383.4" cy="615.6" r="8.7"/><circle cx="383.4" cy="602.3" r="8.7"/><circle cx="383.5" cy="607.4" r="8.7"/><circle cx="383.6" cy="615.4" r="8.7"/><circle cx="383.7" cy="603.7" r="8.7"/><circle cx="383.9" cy="611.3" r="8.7"/><circle cx="383.9" cy="622.5" r="8.7"/><circle cx="384.0" cy="608.3" r="8.7"/><circle cx="384.1" cy="610.1" r="8.7"/><circle cx="384.2" cy="601.0" r="8.7"/><circle cx="384.3" cy="609.4" r="8.7"/><circle cx="384.4" cy="613.7" r="8.7"/><circle cx="384.4" cy="609.3" r="8.7"/><circle cx="384.6" cy="603.4" r="8.7"/><circle cx="384.7" cy="613.3" r="8.7"/><circle cx="384.7" cy="606.0" r="8.7"/><circle cx="384.9" cy="607.8" r="8.7"/><circle cx="384.9" cy="611.6" r="8.7"/><circle cx="385.0" cy="604.4" r="8.7"/><circle cx="385.2" cy="598.8" r="8.7"/><circle cx="385.3" cy="609.6" r="8.7"/><circle cx="385.4" cy="607.3" r="8.7"/><circle cx="385.4" cy="601.2" r="8.7"/><circle cx="385.6" cy="604.0" r="8.7"/><circle cx="385.6" cy="610.3" r="8.7"/><circle cx="385.8" cy="608.8" r="8.7"/><circle cx="385.8" cy="599.8" r="8.7"/><circle cx="385.9" cy="606.5" r="8.7"/><circle cx="386.0" cy="590.9" r="8.7"/><circle cx="386.1" cy="602.8" r="8.7"/><circle cx="386.2" cy="618.6" r="8.7"/><circle cx="386.3" cy="604.0" r="8.7"/><circle cx="386.4" cy="619.6" r="8.7"/><circle cx="386.5" cy="596.4" r="8.7"/><circle cx="386.6" cy="606.7" r="8.7"/><circle cx="386.7" cy="603.1" r="8.7"/><circle cx="386.8" cy="612.8" r="8.7"/><circle cx="386.8" cy="608.9" r="8.7"/><circle cx="387.0" cy="593.5" r="8.7"/><circle cx="387.0" cy="615.3" r="8.7"/><circle cx="387.2" cy="614.4" r="8.7"/><circle cx="387.2" cy="585.0" r="8.7"/><circle cx="387.4" cy="607.0" r="8.7"/><circle cx="387.4" cy="610.4" r="8.7"/><circle cx="387.5" cy="610.1" r="8.7"/><circle cx="387.6" cy="577.0" r="8.7"/><circle cx="387.8" cy="609.2" r="8.7"/><circle cx="387.8" cy="599.6" r="8.7"/><circle cx="387.9" cy="601.8" r="8.7"/><circle cx="388.0" cy="596.1" r="8.7"/><circle cx="388.1" cy="609.4" r="8.7"/><circle cx="388.2" cy="621.0" r="8.7"/><circle cx="388.3" cy="611.5" r="8.7"/><circle cx="388.4" cy="606.3" r="8.7"/><circle cx="388.5" cy="603.0" r="8.7"/><circle cx="388.5" cy="616.5" r="8.7"/><circle cx="388.7" cy="604.7" r="8.7"/><circle cx="388.8" cy="591.5" r="8.7"/><circle cx="388.9" cy="603.5" r="8.7"/><circle cx="389.0" cy="609.4" r="8.7"/><circle cx="389.1" cy="604.4" r="8.7"/><circle cx="389.2" cy="605.4" r="8.7"/><circle cx="389.2" cy="609.1" r="8.7"/><circle cx="389.3" cy="612.2" r="8.7"/><circle cx="389.4" cy="608.9" r="8.7"/><circle cx="389.5" cy="600.3" r="8.7"/><circle cx="389.7" cy="618.0" r="8.7"/><circle cx="389.7" cy="589.6" r="8.7"/><circle cx="389.9" cy="595.4" r="8.7"/><circle cx="389.9" cy="606.0" r="8.7"/><circle cx="390.0" cy="611.4" r="8.7"/><circle cx="390.1" cy="608.0" r="8.7"/><circle cx="390.2" cy="608.2" r="8.7"/><circle cx="390.3" cy="575.6" r="8.7"/><circle cx="390.4" cy="605.7" r="8.7"/><circle cx="390.5" cy="604.2" r="8.7"/><circle cx="390.6" cy="606.8" r="8.7"/><circle cx="390.7" cy="598.5" r="8.7"/><circle cx="390.7" cy="608.6" r="8.7"/><circle cx="390.9" cy="593.0" r="8.7"/><circle cx="391.0" cy="618.6" r="8.7"/><circle cx="391.1" cy="596.5" r="8.7"/><circle cx="391.2" cy="608.9" r="8.7"/><circle cx="391.3" cy="614.3" r="8.7"/><circle cx="391.4" cy="612.3" r="8.7"/><circle cx="391.4" cy="609.7" r="8.7"/><circle cx="391.6" cy="605.5" r="8.7"/><circle cx="391.7" cy="607.0" r="8.7"/><circle cx="391.7" cy="598.2" r="8.7"/><circle cx="391.8" cy="607.4" r="8.7"/><circle cx="391.9" cy="613.3" r="8.7"/><circle cx="392.0" cy="608.2" r="8.7"/><circle cx="392.1" cy="608.5" r="8.7"/><circle cx="392.2" cy="602.8" r="8.7"/><circle cx="392.3" cy="605.9" r="8.7"/><circle cx="392.4" cy="596.5" r="8.7"/><circle cx="392.5" cy="609.7" r="8.7"/><circle cx="392.6" cy="608.4" r="8.7"/><circle cx="392.6" cy="609.1" r="8.7"/><circle cx="392.8" cy="611.1" r="8.7"/><circle cx="392.9" cy="608.8" r="8.7"/><circle cx="393.0" cy="611.8" r="8.7"/><circle cx="393.1" cy="620.2" r="8.7"/><circle cx="393.2" cy="617.2" r="8.7"/><circle cx="393.3" cy="613.5" r="8.7"/><circle cx="393.3" cy="622.9" r="8.7"/><circle cx="393.4" cy="611.8" r="8.7"/><circle cx="393.5" cy="602.6" r="8.7"/><circle cx="393.6" cy="604.8" r="8.7"/><circle cx="393.7" cy="616.9" r="8.7"/><circle cx="393.8" cy="616.3" r="8.7"/><circle cx="393.9" cy="588.1" r="8.7"/><circle cx="394.0" cy="610.1" r="8.7"/><circle cx="394.1" cy="606.0" r="8.7"/><circle cx="394.2" cy="604.0" r="8.7"/><circle cx="394.3" cy="611.6" r="8.7"/><circle cx="394.3" cy="602.9" r="8.7"/><circle cx="394.5" cy="605.7" r="8.7"/><circle cx="394.6" cy="604.8" r="8.7"/><circle cx="394.7" cy="588.6" r="8.7"/><circle cx="394.7" cy="608.1" r="8.7"/><circle cx="394.8" cy="600.4" r="8.7"/><circle cx="394.9" cy="611.0" r="8.7"/><circle cx="395.0" cy="604.9" r="8.7"/><circle cx="395.1" cy="589.3" r="8.7"/><circle cx="395.2" cy="601.0" r="8.7"/><circle cx="395.4" cy="604.5" r="8.7"/><circle cx="395.5" cy="606.9" r="8.7"/><circle cx="395.5" cy="609.1" r="8.7"/><circle cx="395.6" cy="611.9" r="8.7"/><circle cx="395.7" cy="604.1" r="8.7"/><circle cx="395.8" cy="601.9" r="8.7"/><circle cx="395.9" cy="595.3" r="8.7"/><circle cx="396.0" cy="603.1" r="8.7"/><circle cx="396.1" cy="599.1" r="8.7"/><circle cx="396.1" cy="602.9" r="8.7"/><circle cx="396.3" cy="606.2" r="8.7"/><circle cx="396.4" cy="601.3" r="8.7"/><circle cx="396.4" cy="600.9" r="8.7"/><circle cx="396.6" cy="606.2" r="8.7"/><circle cx="396.6" cy="606.2" r="8.7"/><circle cx="396.7" cy="605.4" r="8.7"/><circle cx="396.8" cy="588.9" r="8.7"/><circle cx="397.0" cy="617.6" r="8.7"/><circle cx="397.0" cy="602.5" r="8.7"/><circle cx="397.1" cy="613.5" r="8.7"/><circle cx="397.2" cy="589.5" r="8.7"/><circle cx="397.3" cy="605.2" r="8.7"/><circle cx="397.4" cy="602.4" r="8.7"/><circle cx="397.5" cy="601.8" r="8.7"/><circle cx="397.6" cy="615.1" r="8.7"/><circle cx="397.7" cy="594.1" r="8.7"/><circle cx="397.8" cy="607.9" r="8.7"/><circle cx="397.9" cy="596.7" r="8.7"/><circle cx="398.0" cy="595.0" r="8.7"/><circle cx="398.1" cy="597.6" r="8.7"/><circle cx="398.1" cy="622.1" r="8.7"/><circle cx="398.2" cy="610.9" r="8.7"/><circle cx="398.3" cy="606.4" r="8.7"/><circle cx="398.4" cy="597.3" r="8.7"/><circle cx="398.5" cy="611.6" r="8.7"/><circle cx="398.6" cy="603.7" r="8.7"/><circle cx="398.7" cy="593.2" r="8.7"/><circle cx="398.8" cy="595.3" r="8.7"/><circle cx="398.9" cy="612.0" r="8.7"/><circle cx="399.0" cy="605.9" r="8.7"/><circle cx="399.0" cy="610.4" r="8.7"/><circle cx="399.2" cy="598.1" r="8.7"/><circle cx="399.3" cy="598.3" r="8.7"/><circle cx="399.3" cy="604.9" r="8.7"/><circle cx="399.4" cy="599.1" r="8.7"/><circle cx="399.6" cy="608.6" r="8.7"/><circle cx="399.6" cy="592.7" r="8.7"/><circle cx="399.8" cy="591.7" r="8.7"/><circle cx="399.8" cy="594.5" r="8.7"/><circle cx="400.0" cy="597.4" r="8.7"/><circle cx="400.0" cy="605.4" r="8.7"/><circle cx="400.1" cy="600.9" r="8.7"/><circle cx="400.2" cy="609.8" r="8.7"/><circle cx="400.3" cy="592.4" r="8.7"/><circle cx="400.4" cy="594.6" r="8.7"/><circle cx="400.5" cy="609.7" r="8.7"/><circle cx="400.6" cy="607.6" r="8.7"/><circle cx="400.7" cy="604.4" r="8.7"/><circle cx="400.7" cy="588.7" r="8.7"/><circle cx="400.8" cy="603.6" r="8.7"/><circle cx="401.0" cy="592.8" r="8.7"/><circle cx="401.1" cy="596.9" r="8.7"/><circle cx="401.1" cy="607.5" r="8.7"/><circle cx="401.3" cy="582.9" r="8.7"/><circle cx="401.3" cy="600.1" r="8.7"/><circle cx="401.4" cy="600.3" r="8.7"/><circle cx="401.5" cy="592.3" r="8.7"/><circle cx="401.6" cy="612.8" r="8.7"/><circle cx="401.7" cy="605.8" r="8.7"/><circle cx="401.8" cy="608.8" r="8.7"/><circle cx="401.9" cy="615.4" r="8.7"/><circle cx="402.0" cy="600.7" r="8.7"/><circle cx="402.1" cy="595.9" r="8.7"/><circle cx="402.2" cy="603.2" r="8.7"/><circle cx="402.2" cy="587.4" r="8.7"/><circle cx="402.3" cy="608.1" r="8.7"/><circle cx="402.4" cy="600.8" r="8.7"/><circle cx="402.6" cy="606.1" r="8.7"/><circle cx="402.7" cy="610.9" r="8.7"/><circle cx="402.8" cy="604.5" r="8.7"/><circle cx="402.8" cy="607.2" r="8.7"/><circle cx="402.9" cy="601.2" r="8.7"/><circle cx="403.0" cy="606.1" r="8.7"/><circle cx="403.1" cy="605.9" r="8.7"/><circle cx="403.2" cy="601.9" r="8.7"/><circle cx="403.3" cy="605.9" r="8.7"/><circle cx="403.4" cy="595.2" r="8.7"/><circle cx="403.5" cy="597.3" r="8.7"/><circle cx="403.6" cy="600.9" r="8.7"/><circle cx="403.6" cy="594.5" r="8.7"/><circle cx="403.7" cy="606.4" r="8.7"/><circle cx="403.9" cy="615.9" r="8.7"/><circle cx="404.0" cy="607.5" r="8.7"/><circle cx="404.1" cy="592.6" r="8.7"/><circle cx="404.2" cy="607.0" r="8.7"/><circle cx="404.2" cy="594.7" r="8.7"/><circle cx="404.4" cy="598.0" r="8.7"/><circle cx="404.4" cy="615.0" r="8.7"/><circle cx="404.6" cy="600.1" r="8.7"/><circle cx="404.7" cy="602.1" r="8.7"/><circle cx="404.7" cy="608.6" r="8.7"/><circle cx="404.8" cy="610.7" r="8.7"/><circle cx="404.9" cy="612.2" r="8.7"/><circle cx="405.0" cy="597.8" r="8.7"/><circle cx="405.1" cy="600.9" r="8.7"/><circle cx="405.1" cy="570.1" r="8.7"/><circle cx="405.3" cy="598.6" r="8.7"/><circle cx="405.3" cy="608.1" r="8.7"/><circle cx="405.5" cy="602.0" r="8.7"/><circle cx="405.5" cy="600.2" r="8.7"/><circle cx="405.6" cy="593.3" r="8.7"/><circle cx="405.7" cy="605.5" r="8.7"/><circle cx="405.8" cy="603.7" r="8.7"/><circle cx="405.9" cy="602.8" r="8.7"/><circle cx="406.0" cy="599.7" r="8.7"/><circle cx="406.1" cy="586.6" r="8.7"/><circle cx="406.2" cy="592.8" r="8.7"/><circle cx="406.2" cy="587.3" r="8.7"/><circle cx="406.4" cy="582.6" r="8.7"/><circle cx="406.5" cy="601.7" r="8.7"/><circle cx="406.5" cy="598.0" r="8.7"/><circle cx="406.7" cy="615.8" r="8.7"/><circle cx="406.7" cy="599.3" r="8.7"/><circle cx="406.9" cy="603.4" r="8.7"/><circle cx="406.9" cy="599.7" r="8.7"/><circle cx="407.1" cy="599.2" r="8.7"/><circle cx="407.2" cy="614.4" r="8.7"/><circle cx="407.2" cy="597.8" r="8.7"/><circle cx="407.3" cy="600.7" r="8.7"/><circle cx="407.4" cy="602.9" r="8.7"/><circle cx="407.5" cy="606.9" r="8.7"/><circle cx="407.6" cy="608.4" r="8.7"/><circle cx="407.6" cy="604.0" r="8.7"/><circle cx="407.7" cy="594.6" r="8.7"/><circle cx="407.8" cy="604.4" r="8.7"/><circle cx="408.0" cy="590.6" r="8.7"/><circle cx="408.1" cy="596.4" r="8.7"/><circle cx="408.1" cy="600.0" r="8.7"/><circle cx="408.2" cy="606.3" r="8.7"/><circle cx="408.3" cy="605.8" r="8.7"/><circle cx="408.4" cy="592.5" r="8.7"/><circle cx="408.5" cy="600.0" r="8.7"/><circle cx="408.6" cy="598.3" r="8.7"/><circle cx="408.7" cy="598.1" r="8.7"/><circle cx="408.8" cy="594.2" r="8.7"/><circle cx="408.9" cy="594.8" r="8.7"/><circle cx="408.9" cy="602.2" r="8.7"/><circle cx="409.1" cy="582.3" r="8.7"/><circle cx="409.2" cy="597.6" r="8.7"/><circle cx="409.3" cy="600.9" r="8.7"/><circle cx="409.4" cy="596.1" r="8.7"/><circle cx="409.5" cy="609.7" r="8.7"/><circle cx="409.5" cy="601.0" r="8.7"/><circle cx="409.7" cy="590.8" r="8.7"/><circle cx="409.7" cy="592.2" r="8.7"/><circle cx="409.8" cy="603.1" r="8.7"/><circle cx="409.9" cy="607.9" r="8.7"/><circle cx="410.1" cy="603.9" r="8.7"/><circle cx="410.1" cy="598.0" r="8.7"/><circle cx="410.2" cy="598.2" r="8.7"/><circle cx="410.3" cy="607.5" r="8.7"/><circle cx="410.4" cy="598.9" r="8.7"/><circle cx="410.4" cy="597.3" r="8.7"/><circle cx="410.5" cy="594.2" r="8.7"/><circle cx="410.7" cy="598.0" r="8.7"/><circle cx="410.7" cy="588.5" r="8.7"/><circle cx="410.8" cy="597.2" r="8.7"/><circle cx="410.9" cy="602.0" r="8.7"/><circle cx="411.0" cy="597.4" r="8.7"/><circle cx="411.1" cy="597.2" r="8.7"/><circle cx="411.2" cy="595.8" r="8.7"/><circle cx="411.3" cy="593.9" r="8.7"/><circle cx="411.4" cy="606.7" r="8.7"/><circle cx="411.6" cy="611.3" r="8.7"/><circle cx="411.7" cy="601.8" r="8.7"/><circle cx="411.8" cy="602.8" r="8.7"/><circle cx="412.0" cy="611.7" r="8.7"/><circle cx="412.1" cy="605.3" r="8.7"/><circle cx="412.2" cy="607.1" r="8.7"/><circle cx="412.4" cy="626.3" r="8.7"/><circle cx="412.5" cy="608.6" r="8.7"/><circle cx="412.7" cy="610.4" r="8.7"/><circle cx="412.9" cy="604.4" r="8.7"/><circle cx="413.0" cy="613.7" r="8.7"/><circle cx="413.0" cy="618.8" r="8.7"/><circle cx="413.2" cy="605.5" r="8.7"/><circle cx="413.4" cy="606.4" r="8.7"/><circle cx="413.6" cy="611.0" r="8.7"/><circle cx="413.7" cy="611.1" r="8.7"/><circle cx="413.9" cy="608.1" r="8.7"/><circle cx="414.1" cy="619.9" r="8.7"/><circle cx="414.2" cy="606.3" r="8.7"/><circle cx="414.2" cy="618.0" r="8.7"/><circle cx="414.4" cy="607.8" r="8.7"/><circle cx="414.6" cy="623.6" r="8.7"/><circle cx="414.8" cy="617.8" r="8.7"/><circle cx="414.9" cy="622.8" r="8.7"/><circle cx="415.0" cy="609.3" r="8.7"/><circle cx="415.2" cy="619.5" r="8.7"/><circle cx="415.3" cy="610.9" r="8.7"/><circle cx="415.5" cy="625.5" r="8.7"/><circle cx="415.6" cy="611.9" r="8.7"/><circle cx="415.8" cy="598.3" r="8.7"/><circle cx="415.9" cy="614.3" r="8.7"/><circle cx="416.0" cy="604.2" r="8.7"/><circle cx="416.3" cy="607.6" r="8.7"/><circle cx="416.4" cy="613.3" r="8.7"/><circle cx="416.5" cy="652.6" r="8.7"/><circle cx="416.7" cy="608.7" r="8.7"/><circle cx="416.9" cy="603.4" r="8.7"/><circle cx="417.0" cy="608.0" r="8.7"/><circle cx="417.2" cy="609.9" r="8.7"/><circle cx="417.2" cy="620.4" r="8.7"/><circle cx="417.4" cy="607.8" r="8.7"/><circle cx="417.6" cy="601.0" r="8.7"/><circle cx="417.7" cy="608.5" r="8.7"/><circle cx="417.8" cy="600.3" r="8.7"/><circle cx="418.0" cy="617.1" r="8.7"/><circle cx="418.2" cy="604.6" r="8.7"/><circle cx="418.3" cy="601.4" r="8.7"/><circle cx="418.4" cy="606.0" r="8.7"/><circle cx="418.6" cy="612.3" r="8.7"/><circle cx="418.7" cy="607.0" r="8.7"/><circle cx="418.9" cy="611.9" r="8.7"/><circle cx="419.1" cy="606.7" r="8.7"/><circle cx="419.2" cy="605.7" r="8.7"/><circle cx="419.3" cy="606.1" r="8.7"/><circle cx="419.6" cy="621.8" r="8.7"/><circle cx="419.6" cy="608.9" r="8.7"/><circle cx="419.8" cy="630.7" r="8.7"/><circle cx="419.9" cy="628.0" r="8.7"/><circle cx="420.1" cy="609.3" r="8.7"/><circle cx="420.3" cy="604.8" r="8.7"/><circle cx="420.4" cy="627.2" r="8.7"/><circle cx="420.6" cy="607.0" r="8.7"/><circle cx="420.7" cy="605.7" r="8.7"/><circle cx="420.8" cy="607.2" r="8.7"/><circle cx="420.9" cy="611.2" r="8.7"/><circle cx="421.1" cy="603.9" r="8.7"/><circle cx="421.3" cy="602.8" r="8.7"/><circle cx="421.5" cy="606.5" r="8.7"/><circle cx="421.7" cy="604.3" r="8.7"/><circle cx="421.8" cy="608.5" r="8.7"/><circle cx="421.9" cy="613.2" r="8.7"/><circle cx="422.0" cy="607.1" r="8.7"/><circle cx="422.1" cy="610.1" r="8.7"/><circle cx="422.4" cy="600.0" r="8.7"/><circle cx="422.4" cy="602.7" r="8.7"/><circle cx="422.6" cy="603.6" r="8.7"/><circle cx="422.8" cy="607.4" r="8.7"/><circle cx="422.9" cy="597.1" r="8.7"/><circle cx="423.1" cy="601.3" r="8.7"/><circle cx="423.3" cy="603.7" r="8.7"/><circle cx="423.3" cy="603.7" r="8.7"/><circle cx="423.6" cy="605.0" r="8.7"/><circle cx="423.7" cy="605.9" r="8.7"/><circle cx="423.8" cy="605.4" r="8.7"/><circle cx="424.0" cy="594.5" r="8.7"/><circle cx="424.2" cy="602.2" r="8.7"/><circle cx="424.3" cy="602.6" r="8.7"/><circle cx="424.4" cy="598.9" r="8.7"/><circle cx="424.5" cy="594.7" r="8.7"/><circle cx="424.6" cy="608.9" r="8.7"/><circle cx="424.9" cy="603.8" r="8.7"/><circle cx="425.1" cy="590.8" r="8.7"/><circle cx="425.2" cy="612.8" r="8.7"/><circle cx="425.4" cy="606.8" r="8.7"/><circle cx="425.4" cy="595.4" r="8.7"/><circle cx="425.7" cy="608.7" r="8.7"/><circle cx="425.8" cy="602.7" r="8.7"/><circle cx="425.9" cy="596.8" r="8.7"/><circle cx="426.0" cy="609.2" r="8.7"/><circle cx="426.2" cy="607.4" r="8.7"/><circle cx="426.4" cy="592.9" r="8.7"/><circle cx="426.5" cy="605.9" r="8.7"/><circle cx="426.6" cy="597.3" r="8.7"/><circle cx="426.8" cy="599.3" r="8.7"/><circle cx="427.0" cy="599.6" r="8.7"/><circle cx="427.1" cy="633.0" r="8.7"/><circle cx="427.2" cy="599.6" r="8.7"/><circle cx="427.4" cy="596.9" r="8.7"/><circle cx="427.5" cy="614.7" r="8.7"/><circle cx="427.8" cy="604.8" r="8.7"/><circle cx="427.9" cy="600.2" r="8.7"/><circle cx="428.0" cy="596.1" r="8.7"/><circle cx="428.1" cy="611.1" r="8.7"/><circle cx="428.3" cy="593.5" r="8.7"/><circle cx="428.5" cy="615.0" r="8.7"/><circle cx="428.6" cy="603.0" r="8.7"/><circle cx="428.7" cy="595.2" r="8.7"/><circle cx="428.9" cy="602.9" r="8.7"/><circle cx="429.1" cy="605.7" r="8.7"/><circle cx="429.2" cy="602.0" r="8.7"/><circle cx="429.3" cy="595.5" r="8.7"/><circle cx="429.5" cy="603.7" r="8.7"/><circle cx="429.7" cy="592.5" r="8.7"/><circle cx="429.8" cy="596.5" r="8.7"/><circle cx="429.9" cy="644.1" r="8.7"/><circle cx="430.2" cy="595.5" r="8.7"/><circle cx="430.3" cy="596.7" r="8.7"/><circle cx="430.4" cy="596.8" r="8.7"/><circle cx="430.5" cy="599.5" r="8.7"/><circle cx="430.6" cy="598.6" r="8.7"/><circle cx="430.9" cy="597.5" r="8.7"/><circle cx="431.0" cy="595.0" r="8.7"/><circle cx="431.2" cy="594.4" r="8.7"/><circle cx="431.4" cy="599.9" r="8.7"/><circle cx="431.4" cy="619.1" r="8.7"/><circle cx="431.6" cy="594.0" r="8.7"/><circle cx="431.7" cy="600.3" r="8.7"/><circle cx="431.8" cy="598.4" r="8.7"/><circle cx="432.1" cy="603.9" r="8.7"/><circle cx="432.1" cy="595.1" r="8.7"/><circle cx="432.4" cy="594.9" r="8.7"/><circle cx="432.6" cy="589.0" r="8.7"/><circle cx="432.6" cy="627.5" r="8.7"/><circle cx="432.8" cy="598.3" r="8.7"/><circle cx="432.9" cy="592.0" r="8.7"/><circle cx="433.1" cy="602.1" r="8.7"/><circle cx="433.2" cy="609.8" r="8.7"/><circle cx="433.4" cy="593.6" r="8.7"/><circle cx="433.5" cy="606.1" r="8.7"/><circle cx="433.6" cy="592.3" r="8.7"/><circle cx="433.8" cy="601.4" r="8.7"/><circle cx="434.0" cy="602.1" r="8.7"/><circle cx="434.2" cy="606.0" r="8.7"/><circle cx="434.3" cy="593.7" r="8.7"/><circle cx="434.4" cy="583.0" r="8.7"/><circle cx="434.5" cy="590.9" r="8.7"/><circle cx="434.7" cy="610.5" r="8.7"/><circle cx="434.9" cy="589.6" r="8.7"/><circle cx="435.0" cy="594.8" r="8.7"/><circle cx="435.1" cy="611.2" r="8.7"/><circle cx="435.4" cy="603.6" r="8.7"/><circle cx="435.5" cy="597.5" r="8.7"/><circle cx="435.7" cy="588.0" r="8.7"/><circle cx="435.8" cy="587.5" r="8.7"/><circle cx="435.9" cy="586.3" r="8.7"/><circle cx="436.1" cy="600.9" r="8.7"/><circle cx="436.3" cy="592.6" r="8.7"/><circle cx="436.3" cy="592.8" r="8.7"/><circle cx="436.6" cy="598.4" r="8.7"/><circle cx="436.6" cy="592.7" r="8.7"/><circle cx="436.8" cy="604.4" r="8.7"/><circle cx="437.0" cy="593.8" r="8.7"/><circle cx="437.2" cy="594.0" r="8.7"/><circle cx="437.3" cy="594.9" r="8.7"/><circle cx="437.5" cy="596.7" r="8.7"/><circle cx="437.6" cy="589.5" r="8.7"/><circle cx="437.7" cy="599.8" r="8.7"/><circle cx="437.9" cy="596.0" r="8.7"/><circle cx="438.0" cy="591.5" r="8.7"/><circle cx="438.2" cy="592.7" r="8.7"/><circle cx="438.4" cy="596.0" r="8.7"/><circle cx="438.5" cy="596.3" r="8.7"/><circle cx="438.7" cy="587.6" r="8.7"/><circle cx="438.9" cy="592.0" r="8.7"/><circle cx="438.9" cy="593.4" r="8.7"/><circle cx="439.2" cy="591.0" r="8.7"/><circle cx="439.3" cy="592.2" r="8.7"/><circle cx="439.4" cy="595.9" r="8.7"/><circle cx="439.6" cy="592.4" r="8.7"/><circle cx="439.8" cy="608.6" r="8.7"/><circle cx="439.9" cy="593.7" r="8.7"/><circle cx="440.0" cy="593.5" r="8.7"/><circle cx="440.2" cy="595.7" r="8.7"/><circle cx="440.3" cy="609.6" r="8.7"/><circle cx="440.4" cy="599.2" r="8.7"/><circle cx="440.7" cy="589.8" r="8.7"/><circle cx="440.8" cy="593.5" r="8.7"/><circle cx="441.0" cy="586.3" r="8.7"/><circle cx="441.1" cy="593.1" r="8.7"/><circle cx="441.3" cy="593.1" r="8.7"/><circle cx="441.4" cy="592.0" r="8.7"/><circle cx="441.5" cy="608.2" r="8.7"/><circle cx="441.8" cy="595.8" r="8.7"/><circle cx="441.8" cy="593.4" r="8.7"/><circle cx="442.0" cy="591.2" r="8.7"/><circle cx="442.1" cy="594.9" r="8.7"/><circle cx="442.3" cy="591.7" r="8.7"/><circle cx="442.4" cy="592.5" r="8.7"/><circle cx="442.5" cy="580.1" r="8.7"/><circle cx="442.8" cy="585.1" r="8.7"/><circle cx="442.8" cy="585.6" r="8.7"/><circle cx="443.0" cy="582.5" r="8.7"/><circle cx="443.2" cy="581.4" r="8.7"/><circle cx="443.4" cy="587.0" r="8.7"/><circle cx="443.6" cy="619.5" r="8.7"/><circle cx="443.7" cy="591.1" r="8.7"/><circle cx="443.8" cy="597.4" r="8.7"/><circle cx="444.0" cy="593.9" r="8.7"/><circle cx="444.0" cy="590.3" r="8.7"/><circle cx="444.3" cy="594.5" r="8.7"/><circle cx="444.4" cy="586.1" r="8.7"/><circle cx="444.6" cy="594.0" r="8.7"/><circle cx="444.7" cy="585.3" r="8.7"/><circle cx="444.8" cy="591.3" r="8.7"/><circle cx="445.0" cy="590.0" r="8.7"/><circle cx="445.1" cy="609.6" r="8.7"/><circle cx="445.3" cy="589.9" r="8.7"/><circle cx="445.5" cy="596.7" r="8.7"/><circle cx="445.7" cy="589.2" r="8.7"/><circle cx="445.8" cy="585.1" r="8.7"/><circle cx="446.0" cy="595.5" r="8.7"/><circle cx="446.1" cy="593.7" r="8.7"/><circle cx="446.2" cy="592.0" r="8.7"/><circle cx="446.4" cy="601.6" r="8.7"/><circle cx="446.6" cy="601.7" r="8.7"/><circle cx="446.7" cy="591.2" r="8.7"/><circle cx="446.9" cy="597.6" r="8.7"/><circle cx="446.9" cy="593.6" r="8.7"/><circle cx="447.2" cy="586.9" r="8.7"/><circle cx="447.3" cy="582.7" r="8.7"/><circle cx="447.4" cy="585.5" r="8.7"/><circle cx="447.5" cy="591.3" r="8.7"/><circle cx="447.7" cy="615.3" r="8.7"/><circle cx="447.9" cy="593.4" r="8.7"/><circle cx="448.1" cy="588.2" r="8.7"/><circle cx="448.2" cy="584.9" r="8.7"/><circle cx="448.4" cy="592.2" r="8.7"/><circle cx="448.4" cy="582.2" r="8.7"/><circle cx="448.7" cy="605.2" r="8.7"/><circle cx="448.8" cy="585.8" r="8.7"/><circle cx="449.0" cy="590.4" r="8.7"/><circle cx="449.1" cy="585.4" r="8.7"/><circle cx="449.2" cy="586.7" r="8.7"/><circle cx="449.5" cy="584.5" r="8.7"/><circle cx="449.6" cy="584.3" r="8.7"/><circle cx="449.7" cy="588.3" r="8.7"/><circle cx="449.8" cy="584.8" r="8.7"/><circle cx="450.0" cy="612.1" r="8.7"/><circle cx="450.1" cy="597.6" r="8.7"/><circle cx="450.3" cy="581.9" r="8.7"/><circle cx="450.4" cy="579.5" r="8.7"/><circle cx="450.7" cy="582.6" r="8.7"/><circle cx="450.8" cy="583.5" r="8.7"/><circle cx="450.9" cy="582.2" r="8.7"/><circle cx="451.1" cy="582.6" r="8.7"/><circle cx="451.2" cy="582.1" r="8.7"/><circle cx="451.4" cy="585.8" r="8.7"/><circle cx="451.6" cy="574.4" r="8.7"/><circle cx="451.7" cy="586.3" r="8.7"/><circle cx="451.8" cy="588.7" r="8.7"/><circle cx="452.0" cy="585.8" r="8.7"/><circle cx="452.2" cy="586.2" r="8.7"/><circle cx="452.3" cy="586.9" r="8.7"/><circle cx="452.5" cy="580.3" r="8.7"/><circle cx="452.6" cy="592.3" r="8.7"/><circle cx="452.7" cy="600.9" r="8.7"/><circle cx="452.9" cy="584.9" r="8.7"/><circle cx="453.0" cy="595.1" r="8.7"/><circle cx="453.2" cy="581.5" r="8.7"/><circle cx="453.4" cy="581.3" r="8.7"/><circle cx="453.5" cy="589.3" r="8.7"/><circle cx="453.6" cy="584.1" r="8.7"/><circle cx="453.9" cy="577.0" r="8.7"/><circle cx="454.0" cy="577.6" r="8.7"/><circle cx="454.1" cy="579.4" r="8.7"/><circle cx="454.3" cy="583.3" r="8.7"/><circle cx="454.4" cy="588.5" r="8.7"/><circle cx="454.5" cy="586.7" r="8.7"/><circle cx="454.8" cy="574.0" r="8.7"/><circle cx="454.9" cy="571.8" r="8.7"/><circle cx="455.0" cy="576.7" r="8.7"/><circle cx="455.1" cy="606.5" r="8.7"/><circle cx="455.4" cy="582.9" r="8.7"/><circle cx="455.5" cy="590.4" r="8.7"/><circle cx="455.7" cy="581.5" r="8.7"/><circle cx="455.7" cy="587.0" r="8.7"/><circle cx="456.0" cy="589.9" r="8.7"/><circle cx="456.1" cy="580.0" r="8.7"/><circle cx="456.3" cy="578.6" r="8.7"/><circle cx="456.5" cy="579.4" r="8.7"/><circle cx="456.5" cy="579.1" r="8.7"/><circle cx="456.8" cy="600.9" r="8.7"/><circle cx="456.8" cy="585.9" r="8.7"/><circle cx="457.0" cy="588.7" r="8.7"/><circle cx="457.2" cy="587.5" r="8.7"/><circle cx="457.3" cy="581.2" r="8.7"/><circle cx="457.5" cy="589.3" r="8.7"/><circle cx="457.6" cy="584.1" r="8.7"/><circle cx="457.8" cy="575.1" r="8.7"/><circle cx="458.0" cy="586.5" r="8.7"/><circle cx="458.0" cy="580.2" r="8.7"/><circle cx="458.2" cy="578.7" r="8.7"/><circle cx="458.4" cy="582.9" r="8.7"/><circle cx="458.6" cy="581.1" r="8.7"/><circle cx="458.7" cy="584.8" r="8.7"/><circle cx="458.8" cy="579.9" r="8.7"/><circle cx="459.0" cy="587.3" r="8.7"/><circle cx="459.2" cy="577.3" r="8.7"/><circle cx="459.3" cy="583.7" r="8.7"/><circle cx="459.4" cy="578.7" r="8.7"/><circle cx="459.7" cy="585.1" r="8.7"/><circle cx="459.7" cy="579.0" r="8.7"/><circle cx="459.8" cy="575.9" r="8.7"/><circle cx="460.1" cy="577.0" r="8.7"/><circle cx="460.2" cy="573.4" r="8.7"/><circle cx="460.4" cy="580.2" r="8.7"/><circle cx="460.5" cy="583.9" r="8.7"/><circle cx="460.7" cy="579.4" r="8.7"/><circle cx="460.9" cy="574.7" r="8.7"/><circle cx="461.0" cy="597.0" r="8.7"/><circle cx="461.2" cy="581.6" r="8.7"/><circle cx="461.4" cy="578.4" r="8.7"/><circle cx="461.5" cy="573.8" r="8.7"/><circle cx="461.6" cy="579.3" r="8.7"/><circle cx="461.8" cy="562.7" r="8.7"/><circle cx="461.9" cy="581.6" r="8.7"/><circle cx="462.1" cy="579.5" r="8.7"/><circle cx="462.3" cy="579.0" r="8.7"/><circle cx="462.3" cy="577.1" r="8.7"/><circle cx="462.5" cy="578.8" r="8.7"/><circle cx="462.6" cy="578.3" r="8.7"/><circle cx="462.8" cy="581.6" r="8.7"/><circle cx="463.0" cy="574.9" r="8.7"/><circle cx="463.2" cy="573.2" r="8.7"/><circle cx="463.2" cy="578.9" r="8.7"/><circle cx="463.5" cy="576.7" r="8.7"/><circle cx="463.5" cy="578.4" r="8.7"/><circle cx="463.8" cy="582.6" r="8.7"/><circle cx="463.9" cy="579.7" r="8.7"/><circle cx="464.0" cy="584.0" r="8.7"/><circle cx="464.2" cy="578.3" r="8.7"/><circle cx="464.4" cy="584.6" r="8.7"/><circle cx="464.6" cy="576.4" r="8.7"/><circle cx="464.7" cy="571.8" r="8.7"/><circle cx="464.8" cy="586.5" r="8.7"/><circle cx="465.0" cy="575.5" r="8.7"/><circle cx="465.2" cy="594.8" r="8.7"/><circle cx="465.3" cy="592.6" r="8.7"/><circle cx="465.4" cy="579.1" r="8.7"/><circle cx="465.6" cy="582.6" r="8.7"/><circle cx="465.7" cy="575.7" r="8.7"/><circle cx="465.9" cy="570.8" r="8.7"/><circle cx="466.0" cy="582.7" r="8.7"/><circle cx="466.1" cy="573.9" r="8.7"/><circle cx="466.3" cy="582.0" r="8.7"/><circle cx="466.5" cy="578.6" r="8.7"/><circle cx="466.7" cy="573.7" r="8.7"/><circle cx="466.8" cy="587.1" r="8.7"/><circle cx="467.0" cy="580.8" r="8.7"/><circle cx="467.1" cy="581.3" r="8.7"/><circle cx="467.3" cy="567.6" r="8.7"/><circle cx="467.4" cy="579.8" r="8.7"/><circle cx="467.7" cy="575.8" r="8.7"/><circle cx="467.8" cy="572.4" r="8.7"/><circle cx="467.9" cy="574.6" r="8.7"/><circle cx="468.0" cy="571.2" r="8.7"/><circle cx="468.3" cy="579.8" r="8.7"/><circle cx="468.4" cy="599.0" r="8.7"/><circle cx="468.5" cy="574.1" r="8.7"/><circle cx="468.6" cy="568.6" r="8.7"/><circle cx="468.8" cy="583.0" r="8.7"/><circle cx="468.9" cy="580.0" r="8.7"/><circle cx="469.1" cy="578.2" r="8.7"/><circle cx="469.3" cy="574.8" r="8.7"/><circle cx="469.4" cy="575.5" r="8.7"/><circle cx="469.6" cy="585.8" r="8.7"/><circle cx="469.7" cy="585.8" r="8.7"/><circle cx="469.9" cy="563.4" r="8.7"/><circle cx="470.1" cy="573.9" r="8.7"/><circle cx="470.1" cy="567.9" r="8.7"/><circle cx="470.3" cy="580.0" r="8.7"/><circle cx="470.5" cy="573.2" r="8.7"/><circle cx="470.7" cy="567.8" r="8.7"/><circle cx="470.7" cy="579.8" r="8.7"/><circle cx="471.0" cy="571.8" r="8.7"/><circle cx="471.1" cy="566.8" r="8.7"/><circle cx="471.3" cy="575.5" r="8.7"/><circle cx="471.5" cy="565.4" r="8.7"/><circle cx="471.7" cy="575.0" r="8.7"/><circle cx="471.7" cy="571.2" r="8.7"/><circle cx="471.9" cy="572.2" r="8.7"/><circle cx="472.1" cy="571.8" r="8.7"/><circle cx="472.2" cy="572.0" r="8.7"/><circle cx="472.4" cy="557.6" r="8.7"/><circle cx="472.5" cy="569.2" r="8.7"/><circle cx="472.7" cy="571.5" r="8.7"/><circle cx="472.9" cy="563.6" r="8.7"/><circle cx="473.0" cy="563.6" r="8.7"/><circle cx="473.2" cy="574.7" r="8.7"/><circle cx="473.2" cy="568.2" r="8.7"/><circle cx="473.5" cy="575.7" r="8.7"/><circle cx="473.6" cy="564.5" r="8.7"/><circle cx="473.7" cy="568.1" r="8.7"/><circle cx="473.9" cy="572.1" r="8.7"/><circle cx="474.1" cy="572.3" r="8.7"/><circle cx="474.3" cy="569.3" r="8.7"/><circle cx="474.4" cy="575.7" r="8.7"/><circle cx="474.6" cy="571.8" r="8.7"/><circle cx="474.7" cy="573.4" r="8.7"/><circle cx="474.8" cy="578.8" r="8.7"/><circle cx="475.1" cy="564.3" r="8.7"/><circle cx="475.2" cy="563.9" r="8.7"/><circle cx="475.3" cy="572.0" r="8.7"/><circle cx="475.4" cy="572.2" r="8.7"/><circle cx="475.6" cy="568.5" r="8.7"/><circle cx="475.8" cy="555.1" r="8.7"/><circle cx="476.0" cy="580.3" r="8.7"/><circle cx="476.1" cy="565.2" r="8.7"/><circle cx="476.3" cy="578.9" r="8.7"/><circle cx="476.3" cy="579.5" r="8.7"/><circle cx="476.5" cy="573.5" r="8.7"/><circle cx="476.6" cy="569.3" r="8.7"/><circle cx="476.9" cy="574.2" r="8.7"/><circle cx="477.1" cy="582.2" r="8.7"/><circle cx="477.2" cy="568.5" r="8.7"/><circle cx="477.2" cy="567.0" r="8.7"/><circle cx="477.5" cy="567.7" r="8.7"/><circle cx="477.6" cy="568.9" r="8.7"/><circle cx="477.7" cy="570.4" r="8.7"/><circle cx="477.9" cy="561.1" r="8.7"/><circle cx="478.1" cy="581.3" r="8.7"/><circle cx="478.2" cy="568.9" r="8.7"/><circle cx="478.4" cy="570.5" r="8.7"/><circle cx="478.5" cy="566.9" r="8.7"/><circle cx="478.6" cy="570.4" r="8.7"/><circle cx="478.9" cy="564.5" r="8.7"/><circle cx="478.9" cy="571.4" r="8.7"/><circle cx="479.1" cy="573.6" r="8.7"/><circle cx="479.4" cy="563.6" r="8.7"/><circle cx="479.6" cy="564.7" r="8.7"/><circle cx="479.7" cy="568.9" r="8.7"/><circle cx="479.7" cy="572.9" r="8.7"/><circle cx="480.0" cy="575.9" r="8.7"/><circle cx="480.2" cy="560.2" r="8.7"/><circle cx="480.2" cy="568.3" r="8.7"/><circle cx="480.4" cy="562.4" r="8.7"/><circle cx="480.6" cy="568.6" r="8.7"/><circle cx="480.7" cy="574.7" r="8.7"/><circle cx="480.8" cy="564.7" r="8.7"/><circle cx="481.0" cy="562.9" r="8.7"/><circle cx="481.3" cy="566.2" r="8.7"/><circle cx="481.3" cy="565.0" r="8.7"/><circle cx="481.6" cy="563.1" r="8.7"/><circle cx="481.7" cy="573.5" r="8.7"/><circle cx="481.8" cy="566.0" r="8.7"/><circle cx="482.0" cy="576.0" r="8.7"/><circle cx="482.2" cy="587.3" r="8.7"/><circle cx="482.3" cy="561.4" r="8.7"/><circle cx="482.4" cy="565.5" r="8.7"/><circle cx="482.6" cy="560.7" r="8.7"/><circle cx="482.8" cy="572.1" r="8.7"/><circle cx="482.9" cy="563.1" r="8.7"/><circle cx="483.0" cy="569.0" r="8.7"/><circle cx="483.2" cy="570.7" r="8.7"/><circle cx="483.3" cy="559.5" r="8.7"/><circle cx="483.5" cy="564.6" r="8.7"/><circle cx="483.7" cy="566.9" r="8.7"/><circle cx="483.9" cy="563.4" r="8.7"/><circle cx="484.0" cy="559.3" r="8.7"/><circle cx="484.2" cy="564.1" r="8.7"/><circle cx="484.3" cy="567.8" r="8.7"/><circle cx="484.5" cy="571.7" r="8.7"/><circle cx="484.6" cy="576.9" r="8.7"/><circle cx="484.8" cy="568.5" r="8.7"/><circle cx="484.9" cy="557.0" r="8.7"/><circle cx="485.1" cy="563.5" r="8.7"/><circle cx="485.3" cy="563.2" r="8.7"/><circle cx="485.5" cy="571.4" r="8.7"/><circle cx="485.6" cy="562.6" r="8.7"/><circle cx="485.8" cy="565.2" r="8.7"/><circle cx="485.9" cy="558.9" r="8.7"/><circle cx="486.1" cy="568.7" r="8.7"/><circle cx="486.1" cy="579.6" r="8.7"/><circle cx="486.3" cy="557.7" r="8.7"/><circle cx="486.5" cy="568.4" r="8.7"/><circle cx="486.7" cy="564.4" r="8.7"/><circle cx="486.9" cy="556.9" r="8.7"/><circle cx="486.9" cy="571.1" r="8.7"/><circle cx="487.1" cy="555.2" r="8.7"/><circle cx="487.2" cy="558.5" r="8.7"/><circle cx="487.5" cy="560.6" r="8.7"/><circle cx="487.5" cy="560.9" r="8.7"/><circle cx="487.8" cy="561.3" r="8.7"/><circle cx="487.9" cy="571.9" r="8.7"/><circle cx="488.0" cy="557.1" r="8.7"/><circle cx="488.3" cy="558.0" r="8.7"/><circle cx="488.4" cy="569.3" r="8.7"/><circle cx="488.5" cy="566.9" r="8.7"/><circle cx="488.7" cy="561.5" r="8.7"/><circle cx="488.8" cy="562.5" r="8.7"/><circle cx="489.0" cy="567.4" r="8.7"/><circle cx="489.1" cy="576.6" r="8.7"/><circle cx="489.4" cy="554.8" r="8.7"/><circle cx="489.5" cy="562.1" r="8.7"/><circle cx="489.7" cy="560.1" r="8.7"/><circle cx="489.8" cy="557.0" r="8.7"/><circle cx="489.9" cy="568.6" r="8.7"/><circle cx="490.1" cy="562.9" r="8.7"/><circle cx="490.3" cy="562.1" r="8.7"/><circle cx="490.5" cy="555.4" r="8.7"/><circle cx="490.5" cy="558.7" r="8.7"/><circle cx="490.7" cy="559.4" r="8.7"/><circle cx="490.8" cy="568.9" r="8.7"/><circle cx="491.0" cy="556.7" r="8.7"/><circle cx="491.3" cy="566.6" r="8.7"/><circle cx="491.4" cy="568.1" r="8.7"/><circle cx="491.6" cy="560.3" r="8.7"/><circle cx="491.7" cy="563.3" r="8.7"/><circle cx="491.8" cy="551.5" r="8.7"/><circle cx="492.0" cy="561.8" r="8.7"/><circle cx="492.2" cy="565.7" r="8.7"/><circle cx="492.3" cy="558.4" r="8.7"/><circle cx="492.5" cy="561.7" r="8.7"/><circle cx="492.6" cy="560.2" r="8.7"/><circle cx="492.8" cy="558.5" r="8.7"/><circle cx="492.9" cy="563.9" r="8.7"/><circle cx="493.1" cy="555.9" r="8.7"/><circle cx="493.2" cy="562.0" r="8.7"/><circle cx="493.5" cy="556.2" r="8.7"/><circle cx="493.5" cy="570.4" r="8.7"/><circle cx="493.7" cy="578.1" r="8.7"/><circle cx="493.9" cy="553.3" r="8.7"/><circle cx="494.1" cy="565.5" r="8.7"/><circle cx="494.2" cy="559.7" r="8.7"/><circle cx="494.3" cy="556.5" r="8.7"/><circle cx="494.4" cy="565.5" r="8.7"/><circle cx="494.6" cy="551.4" r="8.7"/><circle cx="494.8" cy="558.8" r="8.7"/><circle cx="494.9" cy="559.2" r="8.7"/><circle cx="495.1" cy="554.2" r="8.7"/><circle cx="495.3" cy="583.1" r="8.7"/><circle cx="495.5" cy="557.8" r="8.7"/><circle cx="495.6" cy="553.5" r="8.7"/><circle cx="495.7" cy="553.2" r="8.7"/><circle cx="495.9" cy="574.7" r="8.7"/><circle cx="496.0" cy="549.9" r="8.7"/><circle cx="496.3" cy="561.2" r="8.7"/><circle cx="496.5" cy="562.1" r="8.7"/><circle cx="496.5" cy="553.0" r="8.7"/><circle cx="496.7" cy="557.3" r="8.7"/><circle cx="496.9" cy="551.7" r="8.7"/><circle cx="497.1" cy="559.7" r="8.7"/><circle cx="497.1" cy="576.7" r="8.7"/><circle cx="497.4" cy="557.5" r="8.7"/><circle cx="497.5" cy="554.5" r="8.7"/><circle cx="497.7" cy="554.8" r="8.7"/><circle cx="497.8" cy="529.5" r="8.7"/><circle cx="498.0" cy="562.1" r="8.7"/><circle cx="498.1" cy="543.9" r="8.7"/><circle cx="498.3" cy="551.6" r="8.7"/><circle cx="498.4" cy="542.7" r="8.7"/><circle cx="498.7" cy="551.1" r="8.7"/><circle cx="498.8" cy="555.7" r="8.7"/><circle cx="499.0" cy="552.5" r="8.7"/><circle cx="499.1" cy="545.5" r="8.7"/><circle cx="499.3" cy="557.3" r="8.7"/><circle cx="499.4" cy="556.8" r="8.7"/><circle cx="499.5" cy="559.9" r="8.7"/><circle cx="499.7" cy="561.2" r="8.7"/><circle cx="499.9" cy="555.4" r="8.7"/><circle cx="500.0" cy="555.6" r="8.7"/><circle cx="500.1" cy="553.9" r="8.7"/><circle cx="500.4" cy="551.2" r="8.7"/><circle cx="500.5" cy="552.8" r="8.7"/><circle cx="500.7" cy="557.5" r="8.7"/><circle cx="500.8" cy="558.8" r="8.7"/><circle cx="500.9" cy="565.5" r="8.7"/><circle cx="501.2" cy="554.5" r="8.7"/><circle cx="501.3" cy="556.0" r="8.7"/><circle cx="501.5" cy="549.2" r="8.7"/><circle cx="501.6" cy="550.4" r="8.7"/><circle cx="501.7" cy="553.5" r="8.7"/><circle cx="502.0" cy="554.9" r="8.7"/><circle cx="502.1" cy="552.2" r="8.7"/><circle cx="502.2" cy="555.4" r="8.7"/><circle cx="502.4" cy="552.6" r="8.7"/><circle cx="502.6" cy="564.9" r="8.7"/><circle cx="502.8" cy="552.8" r="8.7"/><circle cx="502.9" cy="569.9" r="8.7"/><circle cx="503.0" cy="544.4" r="8.7"/><circle cx="503.1" cy="564.2" r="8.7"/><circle cx="503.3" cy="547.7" r="8.7"/><circle cx="503.5" cy="572.1" r="8.7"/><circle cx="503.7" cy="541.3" r="8.7"/><circle cx="503.8" cy="563.1" r="8.7"/><circle cx="504.1" cy="549.8" r="8.7"/><circle cx="504.2" cy="551.4" r="8.7"/><circle cx="504.3" cy="554.2" r="8.7"/><circle cx="504.5" cy="549.9" r="8.7"/><circle cx="504.6" cy="544.6" r="8.7"/><circle cx="504.8" cy="549.1" r="8.7"/><circle cx="505.0" cy="548.2" r="8.7"/><circle cx="505.1" cy="562.8" r="8.7"/><circle cx="505.4" cy="547.8" r="8.7"/><circle cx="505.4" cy="544.9" r="8.7"/><circle cx="505.6" cy="549.1" r="8.7"/><circle cx="505.8" cy="555.1" r="8.7"/><circle cx="505.9" cy="552.6" r="8.7"/><circle cx="506.1" cy="551.6" r="8.7"/><circle cx="506.2" cy="548.1" r="8.7"/><circle cx="506.4" cy="554.6" r="8.7"/><circle cx="506.5" cy="551.0" r="8.7"/><circle cx="506.6" cy="557.4" r="8.7"/><circle cx="506.9" cy="545.9" r="8.7"/><circle cx="507.1" cy="561.9" r="8.7"/><circle cx="507.3" cy="546.9" r="8.7"/><circle cx="507.3" cy="545.3" r="8.7"/><circle cx="507.5" cy="545.9" r="8.7"/><circle cx="507.7" cy="556.8" r="8.7"/><circle cx="507.8" cy="549.4" r="8.7"/><circle cx="508.1" cy="539.9" r="8.7"/><circle cx="508.2" cy="547.2" r="8.7"/><circle cx="508.3" cy="547.5" r="8.7"/><circle cx="508.5" cy="556.8" r="8.7"/><circle cx="508.7" cy="546.8" r="8.7"/><circle cx="508.8" cy="549.5" r="8.7"/><circle cx="508.9" cy="551.0" r="8.7"/><circle cx="509.2" cy="548.5" r="8.7"/><circle cx="509.2" cy="544.3" r="8.7"/><circle cx="509.5" cy="547.4" r="8.7"/><circle cx="509.6" cy="547.9" r="8.7"/><circle cx="509.7" cy="559.4" r="8.7"/><circle cx="509.9" cy="552.2" r="8.7"/><circle cx="510.0" cy="551.5" r="8.7"/><circle cx="510.3" cy="551.3" r="8.7"/><circle cx="510.4" cy="547.2" r="8.7"/><circle cx="510.6" cy="548.9" r="8.7"/><circle cx="510.7" cy="545.3" r="8.7"/><circle cx="511.0" cy="542.7" r="8.7"/><circle cx="511.0" cy="548.9" r="8.7"/><circle cx="511.3" cy="545.5" r="8.7"/><circle cx="511.3" cy="552.8" r="8.7"/><circle cx="511.5" cy="552.4" r="8.7"/><circle cx="511.7" cy="563.2" r="8.7"/><circle cx="511.8" cy="550.3" r="8.7"/><circle cx="512.0" cy="546.5" r="8.7"/><circle cx="512.2" cy="547.5" r="8.7"/><circle cx="512.3" cy="542.7" r="8.7"/><circle cx="512.6" cy="554.3" r="8.7"/><circle cx="512.7" cy="543.6" r="8.7"/><circle cx="512.9" cy="564.0" r="8.7"/><circle cx="512.9" cy="551.4" r="8.7"/><circle cx="513.1" cy="547.2" r="8.7"/><circle cx="513.2" cy="544.1" r="8.7"/><circle cx="513.4" cy="543.8" r="8.7"/><circle cx="513.7" cy="547.6" r="8.7"/><circle cx="513.8" cy="542.4" r="8.7"/><circle cx="514.0" cy="548.6" r="8.7"/><circle cx="514.0" cy="546.0" r="8.7"/><circle cx="514.2" cy="549.2" r="8.7"/><circle cx="514.5" cy="542.4" r="8.7"/><circle cx="514.6" cy="539.1" r="8.7"/><circle cx="514.7" cy="535.7" r="8.7"/><circle cx="514.9" cy="540.4" r="8.7"/><circle cx="515.1" cy="548.4" r="8.7"/><circle cx="515.3" cy="533.9" r="8.7"/><circle cx="515.4" cy="557.1" r="8.7"/><circle cx="515.6" cy="538.6" r="8.7"/><circle cx="515.6" cy="546.6" r="8.7"/><circle cx="515.8" cy="529.2" r="8.7"/><circle cx="516.1" cy="542.0" r="8.7"/><circle cx="516.2" cy="548.3" r="8.7"/><circle cx="516.3" cy="543.2" r="8.7"/><circle cx="516.4" cy="561.9" r="8.7"/><circle cx="516.7" cy="564.8" r="8.7"/><circle cx="516.8" cy="559.9" r="8.7"/><circle cx="517.0" cy="541.2" r="8.7"/><circle cx="517.1" cy="537.7" r="8.7"/><circle cx="517.3" cy="527.3" r="8.7"/><circle cx="517.4" cy="549.9" r="8.7"/><circle cx="517.6" cy="555.2" r="8.7"/><circle cx="517.8" cy="543.8" r="8.7"/><circle cx="518.0" cy="531.2" r="8.7"/><circle cx="518.0" cy="540.8" r="8.7"/><circle cx="518.2" cy="540.0" r="8.7"/><circle cx="518.5" cy="544.2" r="8.7"/><circle cx="518.5" cy="538.2" r="8.7"/><circle cx="518.8" cy="537.9" r="8.7"/><circle cx="518.8" cy="542.4" r="8.7"/><circle cx="519.1" cy="538.1" r="8.7"/><circle cx="519.3" cy="562.5" r="8.7"/><circle cx="519.4" cy="541.5" r="8.7"/><circle cx="519.6" cy="541.0" r="8.7"/><circle cx="519.7" cy="541.2" r="8.7"/><circle cx="519.8" cy="536.1" r="8.7"/><circle cx="520.1" cy="540.9" r="8.7"/><circle cx="520.3" cy="545.8" r="8.7"/><circle cx="520.4" cy="543.3" r="8.7"/><circle cx="520.5" cy="544.2" r="8.7"/><circle cx="520.7" cy="553.6" r="8.7"/><circle cx="520.8" cy="543.4" r="8.7"/><circle cx="521.0" cy="532.8" r="8.7"/><circle cx="521.2" cy="539.6" r="8.7"/><circle cx="521.4" cy="548.3" r="8.7"/><circle cx="521.5" cy="539.1" r="8.7"/><circle cx="521.7" cy="528.9" r="8.7"/><circle cx="521.9" cy="535.8" r="8.7"/><circle cx="522.0" cy="535.7" r="8.7"/><circle cx="522.1" cy="537.0" r="8.7"/><circle cx="522.3" cy="541.7" r="8.7"/><circle cx="522.4" cy="539.3" r="8.7"/><circle cx="522.6" cy="539.0" r="8.7"/><circle cx="522.8" cy="541.7" r="8.7"/><circle cx="523.0" cy="540.2" r="8.7"/><circle cx="523.1" cy="537.4" r="8.7"/><circle cx="523.3" cy="556.0" r="8.7"/><circle cx="523.5" cy="534.1" r="8.7"/><circle cx="523.5" cy="531.3" r="8.7"/><circle cx="523.7" cy="538.7" r="8.7"/><circle cx="523.9" cy="539.3" r="8.7"/><circle cx="524.1" cy="533.2" r="8.7"/><circle cx="524.3" cy="546.5" r="8.7"/><circle cx="524.5" cy="529.0" r="8.7"/><circle cx="524.7" cy="547.3" r="8.7"/><circle cx="524.7" cy="554.5" r="8.7"/><circle cx="524.9" cy="534.5" r="8.7"/><circle cx="525.1" cy="540.1" r="8.7"/><circle cx="525.2" cy="542.2" r="8.7"/><circle cx="525.4" cy="532.2" r="8.7"/><circle cx="525.5" cy="538.4" r="8.7"/><circle cx="525.7" cy="547.6" r="8.7"/><circle cx="525.9" cy="538.4" r="8.7"/><circle cx="526.1" cy="528.8" r="8.7"/><circle cx="526.3" cy="531.2" r="8.7"/><circle cx="526.4" cy="533.6" r="8.7"/><circle cx="526.6" cy="533.6" r="8.7"/><circle cx="526.7" cy="533.1" r="8.7"/><circle cx="526.9" cy="542.7" r="8.7"/><circle cx="527.0" cy="534.1" r="8.7"/><circle cx="527.3" cy="535.3" r="8.7"/><circle cx="527.3" cy="541.1" r="8.7"/><circle cx="527.5" cy="532.8" r="8.7"/><circle cx="527.7" cy="530.4" r="8.7"/><circle cx="527.9" cy="536.1" r="8.7"/><circle cx="528.0" cy="536.7" r="8.7"/><circle cx="528.2" cy="539.4" r="8.7"/><circle cx="528.3" cy="537.2" r="8.7"/><circle cx="528.4" cy="538.2" r="8.7"/><circle cx="528.6" cy="530.6" r="8.7"/><circle cx="528.9" cy="530.2" r="8.7"/><circle cx="529.0" cy="538.6" r="8.7"/><circle cx="529.1" cy="533.9" r="8.7"/><circle cx="529.4" cy="521.8" r="8.7"/><circle cx="529.4" cy="532.3" r="8.7"/><circle cx="529.6" cy="537.2" r="8.7"/><circle cx="529.9" cy="535.7" r="8.7"/><circle cx="530.0" cy="542.9" r="8.7"/><circle cx="530.2" cy="534.2" r="8.7"/><circle cx="530.3" cy="527.1" r="8.7"/><circle cx="530.4" cy="531.2" r="8.7"/><circle cx="530.7" cy="529.9" r="8.7"/><circle cx="530.7" cy="537.8" r="8.7"/><circle cx="530.9" cy="564.7" r="8.7"/><circle cx="531.1" cy="530.8" r="8.7"/><circle cx="531.2" cy="529.4" r="8.7"/><circle cx="531.4" cy="535.4" r="8.7"/><circle cx="531.7" cy="531.2" r="8.7"/><circle cx="531.8" cy="532.6" r="8.7"/><circle cx="532.0" cy="531.8" r="8.7"/><circle cx="532.1" cy="540.4" r="8.7"/><circle cx="532.3" cy="540.4" r="8.7"/><circle cx="532.5" cy="548.9" r="8.7"/><circle cx="532.6" cy="531.0" r="8.7"/><circle cx="532.8" cy="541.0" r="8.7"/><circle cx="532.9" cy="531.9" r="8.7"/><circle cx="533.1" cy="537.0" r="8.7"/><circle cx="533.2" cy="531.8" r="8.7"/><circle cx="533.5" cy="533.7" r="8.7"/><circle cx="533.5" cy="539.3" r="8.7"/><circle cx="533.8" cy="520.3" r="8.7"/><circle cx="533.9" cy="527.6" r="8.7"/><circle cx="534.0" cy="530.4" r="8.7"/><circle cx="534.2" cy="532.2" r="8.7"/><circle cx="534.4" cy="534.8" r="8.7"/><circle cx="534.5" cy="528.3" r="8.7"/><circle cx="534.8" cy="537.7" r="8.7"/><circle cx="534.9" cy="531.6" r="8.7"/><circle cx="535.1" cy="527.6" r="8.7"/><circle cx="535.3" cy="535.0" r="8.7"/><circle cx="535.4" cy="531.9" r="8.7"/><circle cx="535.5" cy="533.3" r="8.7"/><circle cx="535.8" cy="530.0" r="8.7"/><circle cx="535.9" cy="530.3" r="8.7"/><circle cx="536.0" cy="531.6" r="8.7"/><circle cx="536.2" cy="526.8" r="8.7"/><circle cx="536.4" cy="528.4" r="8.7"/><circle cx="536.5" cy="535.0" r="8.7"/><circle cx="536.7" cy="534.9" r="8.7"/><circle cx="536.8" cy="523.8" r="8.7"/><circle cx="537.1" cy="532.8" r="8.7"/><circle cx="537.2" cy="533.3" r="8.7"/><circle cx="537.3" cy="530.9" r="8.7"/><circle cx="537.4" cy="523.4" r="8.7"/><circle cx="537.6" cy="528.3" r="8.7"/><circle cx="537.8" cy="528.1" r="8.7"/><circle cx="538.1" cy="541.3" r="8.7"/><circle cx="538.2" cy="525.5" r="8.7"/><circle cx="538.4" cy="528.5" r="8.7"/><circle cx="538.5" cy="533.6" r="8.7"/><circle cx="538.7" cy="533.3" r="8.7"/><circle cx="538.9" cy="522.7" r="8.7"/><circle cx="538.9" cy="521.4" r="8.7"/><circle cx="539.1" cy="530.6" r="8.7"/><circle cx="539.4" cy="536.6" r="8.7"/><circle cx="539.4" cy="533.3" r="8.7"/><circle cx="539.7" cy="529.0" r="8.7"/><circle cx="539.8" cy="521.6" r="8.7"/><circle cx="540.0" cy="528.1" r="8.7"/><circle cx="540.2" cy="533.2" r="8.7"/><circle cx="540.2" cy="533.7" r="8.7"/><circle cx="540.5" cy="532.3" r="8.7"/><circle cx="540.7" cy="537.5" r="8.7"/><circle cx="540.8" cy="523.5" r="8.7"/><circle cx="540.9" cy="527.2" r="8.7"/><circle cx="541.1" cy="535.4" r="8.7"/><circle cx="541.3" cy="532.3" r="8.7"/><circle cx="541.5" cy="533.2" r="8.7"/><circle cx="541.7" cy="527.7" r="8.7"/><circle cx="541.8" cy="529.7" r="8.7"/><circle cx="542.0" cy="520.8" r="8.7"/><circle cx="542.1" cy="524.8" r="8.7"/><circle cx="542.3" cy="530.8" r="8.7"/><circle cx="542.4" cy="528.1" r="8.7"/><circle cx="542.7" cy="520.0" r="8.7"/><circle cx="542.7" cy="513.3" r="8.7"/><circle cx="543.0" cy="520.5" r="8.7"/><circle cx="543.0" cy="527.8" r="8.7"/><circle cx="543.2" cy="522.7" r="8.7"/><circle cx="543.4" cy="521.3" r="8.7"/><circle cx="543.6" cy="537.6" r="8.7"/><circle cx="543.7" cy="527.1" r="8.7"/><circle cx="543.9" cy="529.0" r="8.7"/><circle cx="544.1" cy="521.4" r="8.7"/><circle cx="544.3" cy="530.8" r="8.7"/><circle cx="544.4" cy="524.5" r="8.7"/><circle cx="544.6" cy="531.9" r="8.7"/><circle cx="544.8" cy="527.8" r="8.7"/><circle cx="544.9" cy="527.1" r="8.7"/><circle cx="545.1" cy="525.6" r="8.7"/><circle cx="545.3" cy="525.7" r="8.7"/><circle cx="545.4" cy="536.8" r="8.7"/><circle cx="545.6" cy="518.5" r="8.7"/><circle cx="545.8" cy="521.8" r="8.7"/><circle cx="546.0" cy="533.3" r="8.7"/><circle cx="546.1" cy="538.8" r="8.7"/><circle cx="546.3" cy="538.1" r="8.7"/><circle cx="546.5" cy="517.0" r="8.7"/><circle cx="546.5" cy="525.3" r="8.7"/><circle cx="546.8" cy="517.7" r="8.7"/><circle cx="546.9" cy="527.8" r="8.7"/><circle cx="547.1" cy="538.7" r="8.7"/><circle cx="547.3" cy="524.3" r="8.7"/><circle cx="547.5" cy="521.0" r="8.7"/><circle cx="547.7" cy="526.5" r="8.7"/><circle cx="547.7" cy="521.4" r="8.7"/><circle cx="548.0" cy="526.6" r="8.7"/><circle cx="548.1" cy="518.2" r="8.7"/><circle cx="548.3" cy="522.8" r="8.7"/><circle cx="548.4" cy="519.9" r="8.7"/><circle cx="548.6" cy="504.2" r="8.7"/><circle cx="548.7" cy="524.7" r="8.7"/><circle cx="549.0" cy="523.9" r="8.7"/><circle cx="549.2" cy="519.5" r="8.7"/><circle cx="549.2" cy="514.4" r="8.7"/><circle cx="549.4" cy="523.7" r="8.7"/><circle cx="549.6" cy="522.1" r="8.7"/><circle cx="549.7" cy="518.3" r="8.7"/><circle cx="549.9" cy="529.1" r="8.7"/><circle cx="550.2" cy="525.0" r="8.7"/><circle cx="550.3" cy="534.8" r="8.7"/><circle cx="550.5" cy="517.2" r="8.7"/><circle cx="550.5" cy="523.7" r="8.7"/><circle cx="550.8" cy="517.7" r="8.7"/><circle cx="551.0" cy="523.8" r="8.7"/><circle cx="551.0" cy="516.3" r="8.7"/><circle cx="551.2" cy="516.6" r="8.7"/><circle cx="551.5" cy="528.8" r="8.7"/><circle cx="551.6" cy="524.1" r="8.7"/><circle cx="551.7" cy="529.1" r="8.7"/><circle cx="552.0" cy="528.7" r="8.7"/><circle cx="552.0" cy="538.3" r="8.7"/><circle cx="552.2" cy="518.9" r="8.7"/><circle cx="552.3" cy="524.3" r="8.7"/><circle cx="552.7" cy="524.3" r="8.7"/><circle cx="552.7" cy="531.4" r="8.7"/><circle cx="552.9" cy="522.7" r="8.7"/><circle cx="553.1" cy="532.5" r="8.7"/><circle cx="553.3" cy="532.7" r="8.7"/><circle cx="553.4" cy="514.5" r="8.7"/><circle cx="553.5" cy="520.3" r="8.7"/><circle cx="553.8" cy="514.1" r="8.7"/><circle cx="553.8" cy="523.3" r="8.7"/><circle cx="554.2" cy="514.8" r="8.7"/><circle cx="554.3" cy="537.4" r="8.7"/><circle cx="554.4" cy="520.5" r="8.7"/><circle cx="554.5" cy="526.1" r="8.7"/><circle cx="554.8" cy="515.1" r="8.7"/><circle cx="555.0" cy="517.9" r="8.7"/><circle cx="555.1" cy="522.5" r="8.7"/><circle cx="555.2" cy="530.1" r="8.7"/><circle cx="555.5" cy="512.3" r="8.7"/><circle cx="555.7" cy="509.0" r="8.7"/><circle cx="555.8" cy="520.1" r="8.7"/><circle cx="556.0" cy="520.3" r="8.7"/><circle cx="556.1" cy="517.6" r="8.7"/><circle cx="556.3" cy="513.7" r="8.7"/><circle cx="556.5" cy="513.9" r="8.7"/><circle cx="556.6" cy="514.8" r="8.7"/><circle cx="556.7" cy="515.5" r="8.7"/><circle cx="556.9" cy="517.4" r="8.7"/><circle cx="557.1" cy="515.1" r="8.7"/><circle cx="557.3" cy="518.9" r="8.7"/><circle cx="557.5" cy="508.6" r="8.7"/><circle cx="557.6" cy="519.9" r="8.7"/><circle cx="557.8" cy="532.6" r="8.7"/><circle cx="557.9" cy="522.8" r="8.7"/><circle cx="558.2" cy="529.3" r="8.7"/><circle cx="558.3" cy="515.1" r="8.7"/><circle cx="558.5" cy="514.3" r="8.7"/><circle cx="558.7" cy="516.1" r="8.7"/><circle cx="558.8" cy="531.3" r="8.7"/><circle cx="558.9" cy="517.3" r="8.7"/><circle cx="559.1" cy="510.8" r="8.7"/><circle cx="559.2" cy="522.5" r="8.7"/><circle cx="559.4" cy="505.1" r="8.7"/><circle cx="559.6" cy="510.2" r="8.7"/><circle cx="559.8" cy="488.7" r="8.7"/><circle cx="559.9" cy="511.2" r="8.7"/><circle cx="560.2" cy="519.1" r="8.7"/><circle cx="560.2" cy="517.1" r="8.7"/><circle cx="560.6" cy="536.0" r="8.7"/><circle cx="560.6" cy="514.5" r="8.7"/><circle cx="560.9" cy="517.1" r="8.7"/><circle cx="561.0" cy="517.0" r="8.7"/><circle cx="561.2" cy="524.0" r="8.7"/><circle cx="561.3" cy="512.2" r="8.7"/><circle cx="561.4" cy="520.0" r="8.7"/><circle cx="561.7" cy="514.2" r="8.7"/><circle cx="561.9" cy="505.3" r="8.7"/><circle cx="562.0" cy="519.7" r="8.7"/><circle cx="562.2" cy="512.2" r="8.7"/><circle cx="562.4" cy="516.9" r="8.7"/><circle cx="562.6" cy="512.7" r="8.7"/><circle cx="562.7" cy="518.1" r="8.7"/><circle cx="562.8" cy="505.3" r="8.7"/><circle cx="563.0" cy="511.6" r="8.7"/><circle cx="563.2" cy="518.4" r="8.7"/><circle cx="563.3" cy="516.0" r="8.7"/><circle cx="563.5" cy="509.3" r="8.7"/><circle cx="563.6" cy="517.7" r="8.7"/><circle cx="563.9" cy="510.7" r="8.7"/><circle cx="564.0" cy="507.0" r="8.7"/><circle cx="564.2" cy="510.4" r="8.7"/><circle cx="564.3" cy="507.4" r="8.7"/><circle cx="564.5" cy="531.0" r="8.7"/><circle cx="564.8" cy="512.8" r="8.7"/><circle cx="564.9" cy="511.9" r="8.7"/><circle cx="565.1" cy="514.2" r="8.7"/><circle cx="565.3" cy="507.2" r="8.7"/><circle cx="565.4" cy="507.2" r="8.7"/><circle cx="565.5" cy="511.8" r="8.7"/><circle cx="565.8" cy="514.4" r="8.7"/><circle cx="565.9" cy="507.0" r="8.7"/><circle cx="566.1" cy="516.6" r="8.7"/><circle cx="566.2" cy="515.2" r="8.7"/><circle cx="566.4" cy="513.1" r="8.7"/><circle cx="566.6" cy="509.8" r="8.7"/><circle cx="566.8" cy="508.6" r="8.7"/><circle cx="566.8" cy="553.1" r="8.7"/><circle cx="567.0" cy="520.3" r="8.7"/><circle cx="567.2" cy="535.5" r="8.7"/><circle cx="567.5" cy="518.5" r="8.7"/><circle cx="567.7" cy="520.0" r="8.7"/><circle cx="567.8" cy="513.8" r="8.7"/><circle cx="567.9" cy="513.6" r="8.7"/><circle cx="568.1" cy="517.5" r="8.7"/><circle cx="568.3" cy="518.9" r="8.7"/><circle cx="568.3" cy="516.4" r="8.7"/><circle cx="568.6" cy="509.2" r="8.7"/><circle cx="568.8" cy="508.6" r="8.7"/><circle cx="568.9" cy="517.3" r="8.7"/><circle cx="569.0" cy="508.1" r="8.7"/><circle cx="569.2" cy="511.2" r="8.7"/><circle cx="569.4" cy="518.0" r="8.7"/><circle cx="569.6" cy="507.0" r="8.7"/><circle cx="569.8" cy="505.7" r="8.7"/><circle cx="570.0" cy="498.3" r="8.7"/><circle cx="570.1" cy="506.1" r="8.7"/><circle cx="570.2" cy="510.4" r="8.7"/><circle cx="570.5" cy="513.9" r="8.7"/><circle cx="570.7" cy="512.3" r="8.7"/><circle cx="570.8" cy="510.2" r="8.7"/><circle cx="571.0" cy="501.6" r="8.7"/><circle cx="571.1" cy="499.6" r="8.7"/><circle cx="571.4" cy="500.7" r="8.7"/><circle cx="571.5" cy="500.6" r="8.7"/><circle cx="571.6" cy="495.7" r="8.7"/><circle cx="571.8" cy="499.9" r="8.7"/><circle cx="572.0" cy="512.1" r="8.7"/><circle cx="572.1" cy="505.0" r="8.7"/><circle cx="572.4" cy="508.4" r="8.7"/><circle cx="572.6" cy="510.7" r="8.7"/><circle cx="572.7" cy="508.6" r="8.7"/><circle cx="572.8" cy="505.4" r="8.7"/><circle cx="573.0" cy="500.1" r="8.7"/><circle cx="573.3" cy="495.3" r="8.7"/><circle cx="573.4" cy="504.0" r="8.7"/><circle cx="573.6" cy="514.1" r="8.7"/><circle cx="573.7" cy="511.2" r="8.7"/><circle cx="573.9" cy="520.4" r="8.7"/><circle cx="574.0" cy="506.7" r="8.7"/><circle cx="574.2" cy="503.6" r="8.7"/><circle cx="574.4" cy="503.0" r="8.7"/><circle cx="574.5" cy="502.6" r="8.7"/><circle cx="574.7" cy="498.2" r="8.7"/><circle cx="574.9" cy="503.1" r="8.7"/><circle cx="575.1" cy="496.4" r="8.7"/><circle cx="575.3" cy="502.5" r="8.7"/><circle cx="575.4" cy="500.2" r="8.7"/><circle cx="575.6" cy="507.8" r="8.7"/><circle cx="575.8" cy="506.4" r="8.7"/><circle cx="576.0" cy="497.8" r="8.7"/><circle cx="576.1" cy="509.4" r="8.7"/><circle cx="576.3" cy="509.8" r="8.7"/><circle cx="576.5" cy="499.2" r="8.7"/><circle cx="576.6" cy="500.6" r="8.7"/><circle cx="576.7" cy="504.5" r="8.7"/><circle cx="577.0" cy="520.9" r="8.7"/><circle cx="577.2" cy="494.5" r="8.7"/><circle cx="577.3" cy="502.9" r="8.7"/><circle cx="577.4" cy="504.5" r="8.7"/><circle cx="577.7" cy="496.9" r="8.7"/><circle cx="577.8" cy="499.9" r="8.7"/><circle cx="578.0" cy="501.9" r="8.7"/><circle cx="578.2" cy="501.6" r="8.7"/><circle cx="578.3" cy="518.2" r="8.7"/><circle cx="578.6" cy="506.4" r="8.7"/><circle cx="578.6" cy="506.1" r="8.7"/><circle cx="578.8" cy="504.5" r="8.7"/><circle cx="579.1" cy="495.1" r="8.7"/><circle cx="579.3" cy="499.8" r="8.7"/><circle cx="579.4" cy="495.6" r="8.7"/><circle cx="579.5" cy="503.8" r="8.7"/><circle cx="579.7" cy="504.4" r="8.7"/><circle cx="579.8" cy="508.3" r="8.7"/><circle cx="580.0" cy="503.6" r="8.7"/><circle cx="580.2" cy="502.9" r="8.7"/><circle cx="580.4" cy="507.3" r="8.7"/><circle cx="580.5" cy="503.9" r="8.7"/><circle cx="580.8" cy="507.1" r="8.7"/><circle cx="581.0" cy="507.4" r="8.7"/><circle cx="581.1" cy="499.9" r="8.7"/><circle cx="581.2" cy="496.1" r="8.7"/><circle cx="581.4" cy="500.0" r="8.7"/><circle cx="581.7" cy="501.7" r="8.7"/><circle cx="581.7" cy="500.5" r="8.7"/><circle cx="582.0" cy="500.0" r="8.7"/><circle cx="582.2" cy="495.2" r="8.7"/><circle cx="582.3" cy="503.5" r="8.7"/><circle cx="582.4" cy="497.1" r="8.7"/><circle cx="582.6" cy="498.6" r="8.7"/><circle cx="582.9" cy="505.3" r="8.7"/><circle cx="583.0" cy="497.4" r="8.7"/><circle cx="583.1" cy="498.0" r="8.7"/><circle cx="583.3" cy="493.5" r="8.7"/><circle cx="583.6" cy="511.9" r="8.7"/><circle cx="583.7" cy="502.7" r="8.7"/><circle cx="583.9" cy="520.0" r="8.7"/><circle cx="584.0" cy="501.0" r="8.7"/><circle cx="584.1" cy="508.3" r="8.7"/><circle cx="584.4" cy="499.8" r="8.7"/><circle cx="584.5" cy="498.3" r="8.7"/><circle cx="584.7" cy="503.3" r="8.7"/><circle cx="584.8" cy="489.2" r="8.7"/><circle cx="585.1" cy="497.9" r="8.7"/><circle cx="585.3" cy="502.3" r="8.7"/><circle cx="585.3" cy="494.1" r="8.7"/><circle cx="585.6" cy="494.0" r="8.7"/><circle cx="585.7" cy="504.0" r="8.7"/><circle cx="585.9" cy="508.4" r="8.7"/><circle cx="586.1" cy="496.8" r="8.7"/><circle cx="586.2" cy="490.2" r="8.7"/><circle cx="586.5" cy="494.9" r="8.7"/><circle cx="586.7" cy="495.1" r="8.7"/><circle cx="586.8" cy="503.6" r="8.7"/><circle cx="586.9" cy="509.8" r="8.7"/><circle cx="587.1" cy="501.5" r="8.7"/><circle cx="587.3" cy="489.7" r="8.7"/><circle cx="587.4" cy="494.8" r="8.7"/><circle cx="587.7" cy="491.3" r="8.7"/><circle cx="587.8" cy="492.0" r="8.7"/><circle cx="588.1" cy="495.7" r="8.7"/><circle cx="588.2" cy="496.2" r="8.7"/><circle cx="588.3" cy="500.8" r="8.7"/><circle cx="588.5" cy="490.1" r="8.7"/><circle cx="588.8" cy="490.3" r="8.7"/><circle cx="588.8" cy="502.9" r="8.7"/><circle cx="589.0" cy="499.9" r="8.7"/><circle cx="589.1" cy="494.3" r="8.7"/><circle cx="589.4" cy="535.0" r="8.7"/><circle cx="589.5" cy="489.8" r="8.7"/><circle cx="589.7" cy="504.4" r="8.7"/><circle cx="589.8" cy="485.9" r="8.7"/><circle cx="590.0" cy="495.4" r="8.7"/><circle cx="590.2" cy="511.1" r="8.7"/><circle cx="590.4" cy="484.4" r="8.7"/><circle cx="590.6" cy="499.5" r="8.7"/><circle cx="590.8" cy="490.7" r="8.7"/><circle cx="590.9" cy="494.3" r="8.7"/><circle cx="591.2" cy="495.8" r="8.7"/><circle cx="591.3" cy="496.0" r="8.7"/><circle cx="591.4" cy="499.6" r="8.7"/><circle cx="591.6" cy="492.6" r="8.7"/><circle cx="591.9" cy="486.5" r="8.7"/><circle cx="592.0" cy="497.7" r="8.7"/><circle cx="592.2" cy="491.2" r="8.7"/><circle cx="592.4" cy="492.9" r="8.7"/><circle cx="592.4" cy="489.9" r="8.7"/><circle cx="592.6" cy="491.8" r="8.7"/><circle cx="592.9" cy="494.7" r="8.7"/><circle cx="593.0" cy="494.8" r="8.7"/><circle cx="593.2" cy="496.4" r="8.7"/><circle cx="593.3" cy="487.1" r="8.7"/><circle cx="593.6" cy="493.9" r="8.7"/><circle cx="593.7" cy="488.4" r="8.7"/><circle cx="593.8" cy="489.5" r="8.7"/><circle cx="594.1" cy="495.7" r="8.7"/><circle cx="594.3" cy="489.3" r="8.7"/><circle cx="594.5" cy="485.6" r="8.7"/><circle cx="594.6" cy="493.9" r="8.7"/><circle cx="594.8" cy="497.4" r="8.7"/><circle cx="595.0" cy="495.2" r="8.7"/><circle cx="595.1" cy="502.2" r="8.7"/><circle cx="595.3" cy="494.0" r="8.7"/><circle cx="595.4" cy="492.9" r="8.7"/><circle cx="595.7" cy="492.4" r="8.7"/><circle cx="595.9" cy="498.7" r="8.7"/><circle cx="596.0" cy="486.0" r="8.7"/><circle cx="596.3" cy="490.5" r="8.7"/><circle cx="596.3" cy="491.4" r="8.7"/><circle cx="596.6" cy="488.3" r="8.7"/><circle cx="596.7" cy="489.5" r="8.7"/><circle cx="596.9" cy="492.3" r="8.7"/><circle cx="597.0" cy="494.8" r="8.7"/><circle cx="597.2" cy="491.6" r="8.7"/><circle cx="597.5" cy="501.1" r="8.7"/><circle cx="597.6" cy="488.4" r="8.7"/><circle cx="597.8" cy="495.9" r="8.7"/><circle cx="598.0" cy="495.8" r="8.7"/><circle cx="598.1" cy="492.1" r="8.7"/><circle cx="598.4" cy="496.4" r="8.7"/><circle cx="598.5" cy="521.2" r="8.7"/><circle cx="598.7" cy="487.7" r="8.7"/><circle cx="598.8" cy="482.2" r="8.7"/><circle cx="599.0" cy="482.1" r="8.7"/><circle cx="599.2" cy="491.8" r="8.7"/><circle cx="599.3" cy="494.7" r="8.7"/><circle cx="599.5" cy="498.8" r="8.7"/><circle cx="599.7" cy="484.4" r="8.7"/><circle cx="599.9" cy="489.7" r="8.7"/><circle cx="600.0" cy="486.0" r="8.7"/><circle cx="600.2" cy="489.9" r="8.7"/><circle cx="600.4" cy="483.6" r="8.7"/><circle cx="600.5" cy="489.0" r="8.7"/><circle cx="600.8" cy="481.2" r="8.7"/><circle cx="601.0" cy="508.7" r="8.7"/><circle cx="601.1" cy="490.7" r="8.7"/><circle cx="601.3" cy="490.7" r="8.7"/><circle cx="601.5" cy="489.8" r="8.7"/><circle cx="601.6" cy="487.1" r="8.7"/><circle cx="601.7" cy="506.9" r="8.7"/><circle cx="602.0" cy="485.8" r="8.7"/><circle cx="602.2" cy="487.1" r="8.7"/><circle cx="602.2" cy="486.6" r="8.7"/><circle cx="602.6" cy="497.0" r="8.7"/><circle cx="602.7" cy="483.8" r="8.7"/><circle cx="602.8" cy="489.1" r="8.7"/><circle cx="603.0" cy="489.8" r="8.7"/><circle cx="603.1" cy="479.8" r="8.7"/><circle cx="603.4" cy="492.3" r="8.7"/><circle cx="603.6" cy="488.7" r="8.7"/><circle cx="603.7" cy="489.3" r="8.7"/><circle cx="603.9" cy="488.0" r="8.7"/><circle cx="604.0" cy="480.2" r="8.7"/><circle cx="604.3" cy="492.8" r="8.7"/><circle cx="604.4" cy="472.4" r="8.7"/><circle cx="604.6" cy="501.2" r="8.7"/><circle cx="604.7" cy="486.6" r="8.7"/><circle cx="604.9" cy="488.9" r="8.7"/><circle cx="605.1" cy="501.5" r="8.7"/><circle cx="605.4" cy="490.2" r="8.7"/><circle cx="605.4" cy="483.4" r="8.7"/><circle cx="605.6" cy="508.9" r="8.7"/><circle cx="605.9" cy="482.6" r="8.7"/><circle cx="605.9" cy="479.7" r="8.7"/><circle cx="606.2" cy="482.3" r="8.7"/><circle cx="606.4" cy="501.7" r="8.7"/><circle cx="606.5" cy="489.8" r="8.7"/><circle cx="606.8" cy="475.3" r="8.7"/><circle cx="606.9" cy="481.3" r="8.7"/><circle cx="607.0" cy="514.8" r="8.7"/><circle cx="607.3" cy="479.6" r="8.7"/><circle cx="607.4" cy="483.6" r="8.7"/><circle cx="607.5" cy="481.9" r="8.7"/><circle cx="607.8" cy="483.1" r="8.7"/><circle cx="607.9" cy="490.6" r="8.7"/><circle cx="608.1" cy="490.3" r="8.7"/><circle cx="608.3" cy="488.3" r="8.7"/><circle cx="608.5" cy="478.2" r="8.7"/><circle cx="608.7" cy="480.4" r="8.7"/><circle cx="608.9" cy="495.8" r="8.7"/><circle cx="609.0" cy="480.5" r="8.7"/><circle cx="609.1" cy="480.7" r="8.7"/><circle cx="609.3" cy="490.8" r="8.7"/><circle cx="609.5" cy="499.1" r="8.7"/><circle cx="609.6" cy="486.7" r="8.7"/><circle cx="609.9" cy="482.3" r="8.7"/><circle cx="610.1" cy="484.5" r="8.7"/><circle cx="610.3" cy="479.6" r="8.7"/><circle cx="610.4" cy="481.0" r="8.7"/><circle cx="610.6" cy="475.7" r="8.7"/><circle cx="610.8" cy="482.7" r="8.7"/><circle cx="610.9" cy="491.2" r="8.7"/><circle cx="611.1" cy="496.6" r="8.7"/><circle cx="611.4" cy="489.8" r="8.7"/><circle cx="611.5" cy="484.4" r="8.7"/><circle cx="611.7" cy="479.7" r="8.7"/><circle cx="611.8" cy="475.6" r="8.7"/><circle cx="612.1" cy="481.6" r="8.7"/><circle cx="612.2" cy="479.0" r="8.7"/><circle cx="612.3" cy="469.1" r="8.7"/><circle cx="612.6" cy="476.0" r="8.7"/><circle cx="612.7" cy="482.9" r="8.7"/><circle cx="612.9" cy="481.1" r="8.7"/><circle cx="613.1" cy="490.4" r="8.7"/><circle cx="613.2" cy="481.0" r="8.7"/><circle cx="613.5" cy="479.5" r="8.7"/><circle cx="613.6" cy="484.3" r="8.7"/><circle cx="613.8" cy="478.1" r="8.7"/><circle cx="614.0" cy="469.0" r="8.7"/><circle cx="614.2" cy="478.6" r="8.7"/><circle cx="614.3" cy="486.3" r="8.7"/><circle cx="614.5" cy="510.4" r="8.7"/><circle cx="614.7" cy="475.4" r="8.7"/><circle cx="614.9" cy="484.5" r="8.7"/><circle cx="615.1" cy="480.3" r="8.7"/><circle cx="615.3" cy="493.6" r="8.7"/><circle cx="615.4" cy="488.7" r="8.7"/><circle cx="615.5" cy="473.8" r="8.7"/><circle cx="615.7" cy="480.0" r="8.7"/><circle cx="616.0" cy="472.4" r="8.7"/><circle cx="616.0" cy="476.3" r="8.7"/><circle cx="616.2" cy="471.8" r="8.7"/><circle cx="616.4" cy="471.2" r="8.7"/><circle cx="616.7" cy="477.8" r="8.7"/><circle cx="616.9" cy="475.3" r="8.7"/><circle cx="617.0" cy="476.5" r="8.7"/><circle cx="617.2" cy="477.7" r="8.7"/><circle cx="617.4" cy="478.1" r="8.7"/><circle cx="617.6" cy="475.8" r="8.7"/><circle cx="617.7" cy="482.3" r="8.7"/><circle cx="617.8" cy="475.9" r="8.7"/><circle cx="618.0" cy="478.0" r="8.7"/><circle cx="618.2" cy="485.0" r="8.7"/><circle cx="618.4" cy="478.4" r="8.7"/><circle cx="618.6" cy="469.9" r="8.7"/><circle cx="618.8" cy="489.6" r="8.7"/><circle cx="619.0" cy="472.4" r="8.7"/><circle cx="619.1" cy="472.8" r="8.7"/><circle cx="619.3" cy="474.1" r="8.7"/><circle cx="619.5" cy="484.1" r="8.7"/><circle cx="619.6" cy="481.1" r="8.7"/><circle cx="619.8" cy="487.6" r="8.7"/><circle cx="620.0" cy="474.0" r="8.7"/><circle cx="620.2" cy="475.5" r="8.7"/><circle cx="620.5" cy="477.7" r="8.7"/><circle cx="620.5" cy="489.2" r="8.7"/><circle cx="620.8" cy="477.7" r="8.7"/><circle cx="620.8" cy="473.8" r="8.7"/><circle cx="621.1" cy="473.0" r="8.7"/><circle cx="621.2" cy="476.2" r="8.7"/><circle cx="621.4" cy="475.4" r="8.7"/><circle cx="621.7" cy="471.3" r="8.7"/><circle cx="621.8" cy="474.3" r="8.7"/><circle cx="622.0" cy="474.4" r="8.7"/><circle cx="622.1" cy="473.7" r="8.7"/><circle cx="622.3" cy="468.2" r="8.7"/><circle cx="622.5" cy="473.1" r="8.7"/><circle cx="622.7" cy="471.0" r="8.7"/><circle cx="622.9" cy="476.3" r="8.7"/><circle cx="623.0" cy="476.1" r="8.7"/><circle cx="623.2" cy="480.1" r="8.7"/><circle cx="623.4" cy="471.1" r="8.7"/><circle cx="623.6" cy="481.4" r="8.7"/><circle cx="623.7" cy="473.9" r="8.7"/><circle cx="624.0" cy="473.2" r="8.7"/><circle cx="624.1" cy="478.7" r="8.7"/><circle cx="624.3" cy="495.7" r="8.7"/><circle cx="624.4" cy="471.8" r="8.7"/><circle cx="624.6" cy="483.6" r="8.7"/><circle cx="624.8" cy="472.8" r="8.7"/><circle cx="624.9" cy="476.6" r="8.7"/><circle cx="625.2" cy="471.5" r="8.7"/><circle cx="625.4" cy="468.5" r="8.7"/><circle cx="625.6" cy="470.5" r="8.7"/><circle cx="625.7" cy="474.3" r="8.7"/><circle cx="625.8" cy="472.3" r="8.7"/><circle cx="626.1" cy="475.9" r="8.7"/><circle cx="626.3" cy="469.6" r="8.7"/><circle cx="626.4" cy="473.3" r="8.7"/><circle cx="626.7" cy="470.7" r="8.7"/><circle cx="626.7" cy="468.9" r="8.7"/><circle cx="627.0" cy="481.7" r="8.7"/><circle cx="627.1" cy="470.2" r="8.7"/><circle cx="627.4" cy="471.8" r="8.7"/><circle cx="627.4" cy="475.2" r="8.7"/><circle cx="627.7" cy="474.5" r="8.7"/><circle cx="627.9" cy="468.8" r="8.7"/><circle cx="628.0" cy="479.5" r="8.7"/><circle cx="628.3" cy="499.8" r="8.7"/><circle cx="628.3" cy="477.7" r="8.7"/><circle cx="628.6" cy="466.5" r="8.7"/><circle cx="628.8" cy="468.0" r="8.7"/><circle cx="629.0" cy="471.1" r="8.7"/><circle cx="629.2" cy="473.1" r="8.7"/><circle cx="629.3" cy="472.6" r="8.7"/><circle cx="629.4" cy="470.5" r="8.7"/><circle cx="629.7" cy="474.7" r="8.7"/><circle cx="629.8" cy="470.6" r="8.7"/><circle cx="629.9" cy="483.8" r="8.7"/><circle cx="630.2" cy="474.5" r="8.7"/><circle cx="630.3" cy="460.4" r="8.7"/><circle cx="630.6" cy="474.1" r="8.7"/><circle cx="630.7" cy="469.7" r="8.7"/><circle cx="630.9" cy="471.5" r="8.7"/><circle cx="631.1" cy="468.3" r="8.7"/><circle cx="631.2" cy="469.3" r="8.7"/><circle cx="631.5" cy="464.4" r="8.7"/><circle cx="631.7" cy="467.2" r="8.7"/><circle cx="631.9" cy="473.9" r="8.7"/><circle cx="632.0" cy="476.7" r="8.7"/><circle cx="632.1" cy="468.7" r="8.7"/><circle cx="632.3" cy="467.6" r="8.7"/><circle cx="632.6" cy="468.3" r="8.7"/><circle cx="632.8" cy="461.9" r="8.7"/><circle cx="632.8" cy="468.9" r="8.7"/><circle cx="633.0" cy="463.5" r="8.7"/><circle cx="633.3" cy="476.7" r="8.7"/><circle cx="633.4" cy="465.4" r="8.7"/><circle cx="633.6" cy="472.1" r="8.7"/><circle cx="633.8" cy="469.5" r="8.7"/><circle cx="633.9" cy="459.8" r="8.7"/><circle cx="634.2" cy="467.9" r="8.7"/><circle cx="634.3" cy="464.7" r="8.7"/><circle cx="634.4" cy="461.6" r="8.7"/><circle cx="634.7" cy="464.5" r="8.7"/><circle cx="634.9" cy="463.1" r="8.7"/><circle cx="635.0" cy="474.6" r="8.7"/><circle cx="635.2" cy="465.1" r="8.7"/><circle cx="635.4" cy="459.2" r="8.7"/><circle cx="635.6" cy="461.2" r="8.7"/><circle cx="635.8" cy="464.2" r="8.7"/><circle cx="636.0" cy="463.8" r="8.7"/><circle cx="636.1" cy="458.2" r="8.7"/><circle cx="636.3" cy="461.4" r="8.7"/><circle cx="636.5" cy="456.3" r="8.7"/><circle cx="636.6" cy="463.9" r="8.7"/><circle cx="636.8" cy="462.8" r="8.7"/><circle cx="637.0" cy="463.1" r="8.7"/><circle cx="637.2" cy="461.8" r="8.7"/><circle cx="637.4" cy="465.4" r="8.7"/><circle cx="637.6" cy="472.1" r="8.7"/><circle cx="637.8" cy="471.9" r="8.7"/><circle cx="637.9" cy="464.1" r="8.7"/><circle cx="638.1" cy="460.7" r="8.7"/><circle cx="638.3" cy="469.9" r="8.7"/><circle cx="638.5" cy="456.9" r="8.7"/><circle cx="638.6" cy="460.3" r="8.7"/><circle cx="638.8" cy="454.5" r="8.7"/><circle cx="639.0" cy="478.4" r="8.7"/><circle cx="639.2" cy="450.5" r="8.7"/><circle cx="639.3" cy="460.0" r="8.7"/><circle cx="639.5" cy="466.6" r="8.7"/><circle cx="639.8" cy="452.8" r="8.7"/><circle cx="639.9" cy="448.5" r="8.7"/><circle cx="640.1" cy="466.2" r="8.7"/><circle cx="640.2" cy="464.3" r="8.7"/><circle cx="640.5" cy="459.9" r="8.7"/><circle cx="640.7" cy="454.6" r="8.7"/><circle cx="640.9" cy="470.7" r="8.7"/><circle cx="641.1" cy="460.1" r="8.7"/><circle cx="641.2" cy="470.1" r="8.7"/><circle cx="641.3" cy="460.2" r="8.7"/><circle cx="641.6" cy="459.6" r="8.7"/><circle cx="641.7" cy="454.9" r="8.7"/><circle cx="641.9" cy="462.7" r="8.7"/><circle cx="642.1" cy="462.2" r="8.7"/><circle cx="642.2" cy="457.7" r="8.7"/><circle cx="642.5" cy="466.6" r="8.7"/><circle cx="642.7" cy="460.0" r="8.7"/><circle cx="642.8" cy="458.9" r="8.7"/><circle cx="643.0" cy="460.3" r="8.7"/><circle cx="643.2" cy="453.6" r="8.7"/><circle cx="643.3" cy="457.4" r="8.7"/><circle cx="643.6" cy="475.2" r="8.7"/><circle cx="643.7" cy="461.8" r="8.7"/><circle cx="643.9" cy="457.9" r="8.7"/><circle cx="644.2" cy="465.1" r="8.7"/><circle cx="644.3" cy="460.7" r="8.7"/><circle cx="644.4" cy="460.2" r="8.7"/><circle cx="644.7" cy="482.0" r="8.7"/><circle cx="644.7" cy="462.2" r="8.7"/><circle cx="644.9" cy="465.7" r="8.7"/><circle cx="645.1" cy="467.2" r="8.7"/><circle cx="645.3" cy="456.3" r="8.7"/><circle cx="645.6" cy="455.5" r="8.7"/><circle cx="645.8" cy="462.4" r="8.7"/><circle cx="645.9" cy="457.4" r="8.7"/><circle cx="646.1" cy="455.2" r="8.7"/><circle cx="646.3" cy="471.4" r="8.7"/><circle cx="646.4" cy="461.5" r="8.7"/><circle cx="646.6" cy="461.4" r="8.7"/><circle cx="646.7" cy="454.0" r="8.7"/><circle cx="647.0" cy="462.2" r="8.7"/><circle cx="647.1" cy="463.5" r="8.7"/><circle cx="647.4" cy="449.5" r="8.7"/><circle cx="647.6" cy="457.1" r="8.7"/><circle cx="647.6" cy="453.8" r="8.7"/><circle cx="647.8" cy="460.6" r="8.7"/><circle cx="648.1" cy="453.8" r="8.7"/><circle cx="648.2" cy="455.9" r="8.7"/><circle cx="648.4" cy="461.7" r="8.7"/><circle cx="648.5" cy="458.9" r="8.7"/><circle cx="648.8" cy="473.3" r="8.7"/><circle cx="649.0" cy="458.7" r="8.7"/><circle cx="649.1" cy="452.2" r="8.7"/><circle cx="649.4" cy="458.0" r="8.7"/><circle cx="649.5" cy="454.9" r="8.7"/><circle cx="649.8" cy="467.1" r="8.7"/><circle cx="649.9" cy="452.2" r="8.7"/><circle cx="650.0" cy="478.5" r="8.7"/><circle cx="650.3" cy="458.7" r="8.7"/><circle cx="650.4" cy="456.1" r="8.7"/><circle cx="650.7" cy="462.4" r="8.7"/><circle cx="650.7" cy="469.6" r="8.7"/><circle cx="651.0" cy="453.5" r="8.7"/><circle cx="651.2" cy="454.7" r="8.7"/><circle cx="651.4" cy="459.5" r="8.7"/><circle cx="651.4" cy="471.9" r="8.7"/><circle cx="651.8" cy="453.3" r="8.7"/><circle cx="652.0" cy="455.3" r="8.7"/><circle cx="652.0" cy="454.0" r="8.7"/><circle cx="652.3" cy="446.5" r="8.7"/><circle cx="652.5" cy="461.2" r="8.7"/><circle cx="652.6" cy="446.5" r="8.7"/><circle cx="652.9" cy="452.4" r="8.7"/><circle cx="652.9" cy="459.4" r="8.7"/><circle cx="653.2" cy="451.3" r="8.7"/><circle cx="653.4" cy="465.5" r="8.7"/><circle cx="653.6" cy="455.0" r="8.7"/><circle cx="653.7" cy="455.5" r="8.7"/><circle cx="653.8" cy="466.2" r="8.7"/><circle cx="654.1" cy="452.0" r="8.7"/><circle cx="654.3" cy="464.8" r="8.7"/><circle cx="654.4" cy="457.9" r="8.7"/><circle cx="654.6" cy="454.4" r="8.7"/><circle cx="654.8" cy="465.6" r="8.7"/><circle cx="654.9" cy="475.5" r="8.7"/><circle cx="655.2" cy="449.8" r="8.7"/><circle cx="655.3" cy="448.4" r="8.7"/><circle cx="655.6" cy="448.5" r="8.7"/><circle cx="655.6" cy="457.2" r="8.7"/><circle cx="655.9" cy="451.8" r="8.7"/><circle cx="656.0" cy="451.9" r="8.7"/><circle cx="656.3" cy="449.5" r="8.7"/><circle cx="656.4" cy="457.4" r="8.7"/><circle cx="656.6" cy="459.6" r="8.7"/><circle cx="656.8" cy="455.9" r="8.7"/><circle cx="657.0" cy="453.3" r="8.7"/><circle cx="657.3" cy="441.7" r="8.7"/><circle cx="657.4" cy="449.9" r="8.7"/><circle cx="657.5" cy="458.1" r="8.7"/><circle cx="657.7" cy="452.3" r="8.7"/><circle cx="657.9" cy="451.6" r="8.7"/><circle cx="658.1" cy="448.0" r="8.7"/><circle cx="658.3" cy="458.3" r="8.7"/><circle cx="658.5" cy="457.2" r="8.7"/><circle cx="658.6" cy="455.4" r="8.7"/><circle cx="658.9" cy="445.0" r="8.7"/><circle cx="658.9" cy="451.2" r="8.7"/><circle cx="659.3" cy="444.5" r="8.7"/><circle cx="659.3" cy="455.4" r="8.7"/><circle cx="659.6" cy="458.1" r="8.7"/><circle cx="659.8" cy="456.6" r="8.7"/><circle cx="659.9" cy="452.7" r="8.7"/><circle cx="660.1" cy="447.2" r="8.7"/><circle cx="660.2" cy="449.5" r="8.7"/><circle cx="660.4" cy="446.4" r="8.7"/><circle cx="660.6" cy="446.7" r="8.7"/><circle cx="660.9" cy="447.9" r="8.7"/><circle cx="661.1" cy="422.4" r="8.7"/><circle cx="661.2" cy="451.8" r="8.7"/><circle cx="661.4" cy="461.0" r="8.7"/><circle cx="661.6" cy="450.3" r="8.7"/><circle cx="661.8" cy="442.3" r="8.7"/><circle cx="661.9" cy="444.1" r="8.7"/><circle cx="662.1" cy="445.0" r="8.7"/><circle cx="662.3" cy="450.5" r="8.7"/><circle cx="662.6" cy="464.1" r="8.7"/><circle cx="662.7" cy="448.8" r="8.7"/><circle cx="662.9" cy="443.3" r="8.7"/><circle cx="663.1" cy="439.6" r="8.7"/><circle cx="663.3" cy="450.7" r="8.7"/><circle cx="663.5" cy="442.7" r="8.7"/><circle cx="663.7" cy="450.5" r="8.7"/><circle cx="663.8" cy="451.7" r="8.7"/><circle cx="663.9" cy="455.6" r="8.7"/><circle cx="664.2" cy="444.1" r="8.7"/><circle cx="664.3" cy="440.5" r="8.7"/><circle cx="664.6" cy="442.6" r="8.7"/><circle cx="664.8" cy="453.0" r="8.7"/><circle cx="664.9" cy="444.8" r="8.7"/><circle cx="665.2" cy="444.0" r="8.7"/><circle cx="665.2" cy="450.8" r="8.7"/><circle cx="665.5" cy="450.1" r="8.7"/><circle cx="665.6" cy="435.8" r="8.7"/><circle cx="665.8" cy="443.2" r="8.7"/><circle cx="666.0" cy="446.5" r="8.7"/><circle cx="666.2" cy="447.4" r="8.7"/><circle cx="666.3" cy="454.1" r="8.7"/><circle cx="666.5" cy="456.6" r="8.7"/><circle cx="666.7" cy="439.4" r="8.7"/><circle cx="666.9" cy="447.8" r="8.7"/><circle cx="667.2" cy="456.9" r="8.7"/><circle cx="667.3" cy="464.7" r="8.7"/><circle cx="667.4" cy="445.7" r="8.7"/><circle cx="667.6" cy="439.9" r="8.7"/><circle cx="667.9" cy="441.9" r="8.7"/><circle cx="668.1" cy="446.8" r="8.7"/><circle cx="668.3" cy="442.8" r="8.7"/><circle cx="668.4" cy="453.5" r="8.7"/><circle cx="668.5" cy="434.3" r="8.7"/><circle cx="668.8" cy="444.6" r="8.7"/><circle cx="669.0" cy="442.3" r="8.7"/><circle cx="669.1" cy="438.4" r="8.7"/><circle cx="669.3" cy="442.6" r="8.7"/><circle cx="669.6" cy="442.8" r="8.7"/><circle cx="669.7" cy="445.6" r="8.7"/><circle cx="669.9" cy="442.3" r="8.7"/><circle cx="670.1" cy="443.3" r="8.7"/><circle cx="670.3" cy="444.5" r="8.7"/><circle cx="670.5" cy="448.0" r="8.7"/><circle cx="670.5" cy="447.4" r="8.7"/><circle cx="670.7" cy="438.0" r="8.7"/><circle cx="671.0" cy="447.2" r="8.7"/><circle cx="671.2" cy="449.6" r="8.7"/><circle cx="671.4" cy="448.0" r="8.7"/><circle cx="671.5" cy="441.2" r="8.7"/><circle cx="671.7" cy="441.3" r="8.7"/><circle cx="672.0" cy="437.9" r="8.7"/><circle cx="672.0" cy="455.7" r="8.7"/><circle cx="672.3" cy="440.1" r="8.7"/><circle cx="672.4" cy="447.0" r="8.7"/><circle cx="672.6" cy="446.9" r="8.7"/><circle cx="672.8" cy="443.8" r="8.7"/><circle cx="673.0" cy="442.5" r="8.7"/><circle cx="673.1" cy="442.8" r="8.7"/><circle cx="673.5" cy="445.6" r="8.7"/><circle cx="673.7" cy="440.8" r="8.7"/><circle cx="673.7" cy="437.3" r="8.7"/><circle cx="673.9" cy="439.0" r="8.7"/><circle cx="674.1" cy="449.8" r="8.7"/><circle cx="674.3" cy="442.7" r="8.7"/><circle cx="674.5" cy="443.5" r="8.7"/><circle cx="674.7" cy="452.8" r="8.7"/><circle cx="674.9" cy="441.6" r="8.7"/><circle cx="675.0" cy="437.5" r="8.7"/><circle cx="675.3" cy="446.0" r="8.7"/><circle cx="675.4" cy="441.8" r="8.7"/><circle cx="675.7" cy="443.0" r="8.7"/><circle cx="675.9" cy="436.2" r="8.7"/><circle cx="676.0" cy="445.1" r="8.7"/><circle cx="676.2" cy="438.0" r="8.7"/><circle cx="676.4" cy="437.6" r="8.7"/><circle cx="676.5" cy="437.7" r="8.7"/><circle cx="676.7" cy="441.3" r="8.7"/><circle cx="676.9" cy="435.5" r="8.7"/><circle cx="677.0" cy="434.0" r="8.7"/><circle cx="677.3" cy="426.9" r="8.7"/><circle cx="677.5" cy="441.1" r="8.7"/><circle cx="677.7" cy="432.6" r="8.7"/><circle cx="677.9" cy="439.1" r="8.7"/><circle cx="678.0" cy="433.3" r="8.7"/><circle cx="678.1" cy="439.1" r="8.7"/><circle cx="678.4" cy="434.4" r="8.7"/><circle cx="678.5" cy="467.0" r="8.7"/><circle cx="678.7" cy="433.1" r="8.7"/><circle cx="679.0" cy="431.5" r="8.7"/><circle cx="679.1" cy="440.5" r="8.7"/><circle cx="679.3" cy="436.8" r="8.7"/><circle cx="679.5" cy="430.5" r="8.7"/><circle cx="679.8" cy="432.2" r="8.7"/><circle cx="679.9" cy="434.6" r="8.7"/><circle cx="680.2" cy="447.3" r="8.7"/><circle cx="680.3" cy="436.2" r="8.7"/><circle cx="680.5" cy="440.3" r="8.7"/><circle cx="680.6" cy="443.5" r="8.7"/><circle cx="680.8" cy="431.3" r="8.7"/><circle cx="681.0" cy="441.0" r="8.7"/><circle cx="681.1" cy="428.0" r="8.7"/><circle cx="681.3" cy="438.5" r="8.7"/><circle cx="681.6" cy="432.9" r="8.7"/><circle cx="681.8" cy="434.0" r="8.7"/><circle cx="682.0" cy="441.0" r="8.7"/><circle cx="682.1" cy="432.3" r="8.7"/><circle cx="682.2" cy="436.7" r="8.7"/><circle cx="682.5" cy="433.3" r="8.7"/><circle cx="682.6" cy="441.1" r="8.7"/><circle cx="682.8" cy="443.6" r="8.7"/><circle cx="683.0" cy="435.7" r="8.7"/><circle cx="683.3" cy="435.7" r="8.7"/><circle cx="683.4" cy="432.5" r="8.7"/><circle cx="683.5" cy="431.4" r="8.7"/><circle cx="683.7" cy="427.4" r="8.7"/><circle cx="684.0" cy="428.4" r="8.7"/><circle cx="684.2" cy="439.1" r="8.7"/><circle cx="684.4" cy="430.0" r="8.7"/><circle cx="684.5" cy="430.1" r="8.7"/><circle cx="684.8" cy="433.5" r="8.7"/><circle cx="684.9" cy="441.0" r="8.7"/><circle cx="685.2" cy="424.6" r="8.7"/><circle cx="685.4" cy="436.7" r="8.7"/><circle cx="685.5" cy="435.6" r="8.7"/><circle cx="685.7" cy="439.8" r="8.7"/><circle cx="685.9" cy="426.6" r="8.7"/><circle cx="686.1" cy="433.4" r="8.7"/><circle cx="686.2" cy="432.1" r="8.7"/><circle cx="686.4" cy="433.4" r="8.7"/><circle cx="686.6" cy="437.2" r="8.7"/><circle cx="686.8" cy="435.2" r="8.7"/><circle cx="687.0" cy="437.3" r="8.7"/><circle cx="687.3" cy="432.9" r="8.7"/><circle cx="687.4" cy="438.4" r="8.7"/><circle cx="687.5" cy="436.4" r="8.7"/><circle cx="687.7" cy="439.5" r="8.7"/><circle cx="688.0" cy="435.0" r="8.7"/><circle cx="688.1" cy="423.2" r="8.7"/><circle cx="688.3" cy="436.8" r="8.7"/><circle cx="688.5" cy="434.0" r="8.7"/><circle cx="688.6" cy="432.7" r="8.7"/><circle cx="688.8" cy="429.2" r="8.7"/><circle cx="689.0" cy="430.1" r="8.7"/><circle cx="689.2" cy="434.9" r="8.7"/><circle cx="689.5" cy="422.9" r="8.7"/><circle cx="689.6" cy="428.3" r="8.7"/><circle cx="689.7" cy="441.5" r="8.7"/><circle cx="690.0" cy="425.5" r="8.7"/><circle cx="690.1" cy="428.7" r="8.7"/><circle cx="690.3" cy="429.1" r="8.7"/><circle cx="690.6" cy="428.7" r="8.7"/><circle cx="690.7" cy="441.0" r="8.7"/><circle cx="691.0" cy="430.2" r="8.7"/><circle cx="691.1" cy="430.1" r="8.7"/><circle cx="691.2" cy="438.3" r="8.7"/><circle cx="691.4" cy="429.4" r="8.7"/><circle cx="691.7" cy="432.4" r="8.7"/><circle cx="691.8" cy="424.9" r="8.7"/><circle cx="692.0" cy="415.6" r="8.7"/><circle cx="692.3" cy="423.1" r="8.7"/><circle cx="692.4" cy="427.2" r="8.7"/><circle cx="692.6" cy="420.6" r="8.7"/><circle cx="692.8" cy="433.1" r="8.7"/><circle cx="693.1" cy="428.5" r="8.7"/><circle cx="693.2" cy="437.1" r="8.7"/><circle cx="693.3" cy="427.3" r="8.7"/><circle cx="693.6" cy="428.5" r="8.7"/><circle cx="693.7" cy="446.8" r="8.7"/><circle cx="694.0" cy="431.7" r="8.7"/><circle cx="694.2" cy="434.7" r="8.7"/><circle cx="694.4" cy="426.9" r="8.7"/><circle cx="694.5" cy="430.0" r="8.7"/><circle cx="694.7" cy="421.7" r="8.7"/><circle cx="694.9" cy="430.9" r="8.7"/><circle cx="695.1" cy="425.4" r="8.7"/><circle cx="695.2" cy="433.0" r="8.7"/><circle cx="695.5" cy="422.7" r="8.7"/><circle cx="695.7" cy="430.6" r="8.7"/><circle cx="695.9" cy="436.2" r="8.7"/><circle cx="696.0" cy="415.1" r="8.7"/><circle cx="696.1" cy="423.4" r="8.7"/><circle cx="696.3" cy="429.5" r="8.7"/><circle cx="696.6" cy="425.8" r="8.7"/><circle cx="696.7" cy="418.0" r="8.7"/><circle cx="697.0" cy="433.3" r="8.7"/><circle cx="697.1" cy="436.3" r="8.7"/><circle cx="697.4" cy="420.9" r="8.7"/><circle cx="697.5" cy="414.6" r="8.7"/><circle cx="697.7" cy="424.1" r="8.7"/><circle cx="697.8" cy="429.1" r="8.7"/><circle cx="698.0" cy="425.4" r="8.7"/><circle cx="698.2" cy="422.0" r="8.7"/><circle cx="698.5" cy="441.8" r="8.7"/><circle cx="698.7" cy="420.6" r="8.7"/><circle cx="698.8" cy="425.9" r="8.7"/><circle cx="699.1" cy="427.4" r="8.7"/><circle cx="699.2" cy="419.8" r="8.7"/><circle cx="699.4" cy="419.7" r="8.7"/><circle cx="699.6" cy="414.2" r="8.7"/><circle cx="699.8" cy="431.3" r="8.7"/><circle cx="699.9" cy="427.7" r="8.7"/><circle cx="700.1" cy="429.0" r="8.7"/><circle cx="700.3" cy="420.5" r="8.7"/><circle cx="700.6" cy="424.1" r="8.7"/><circle cx="700.8" cy="415.4" r="8.7"/><circle cx="700.9" cy="427.1" r="8.7"/><circle cx="701.0" cy="426.5" r="8.7"/><circle cx="701.3" cy="422.2" r="8.7"/><circle cx="701.5" cy="427.1" r="8.7"/><circle cx="701.6" cy="432.4" r="8.7"/><circle cx="701.8" cy="413.5" r="8.7"/><circle cx="702.1" cy="425.8" r="8.7"/><circle cx="702.2" cy="425.8" r="8.7"/><circle cx="702.4" cy="418.6" r="8.7"/><circle cx="702.6" cy="420.5" r="8.7"/><circle cx="702.8" cy="426.7" r="8.7"/><circle cx="703.1" cy="414.2" r="8.7"/><circle cx="703.1" cy="422.1" r="8.7"/><circle cx="703.4" cy="419.3" r="8.7"/><circle cx="703.5" cy="424.0" r="8.7"/><circle cx="703.7" cy="422.8" r="8.7"/><circle cx="703.9" cy="425.2" r="8.7"/><circle cx="704.1" cy="417.0" r="8.7"/><circle cx="704.4" cy="419.0" r="8.7"/><circle cx="704.5" cy="435.6" r="8.7"/><circle cx="704.7" cy="422.8" r="8.7"/><circle cx="705.0" cy="411.2" r="8.7"/><circle cx="705.1" cy="433.2" r="8.7"/><circle cx="705.3" cy="417.2" r="8.7"/><circle cx="705.5" cy="425.6" r="8.7"/><circle cx="705.6" cy="420.5" r="8.7"/><circle cx="705.8" cy="422.2" r="8.7"/><circle cx="706.1" cy="427.8" r="8.7"/><circle cx="706.2" cy="419.0" r="8.7"/><circle cx="706.5" cy="424.5" r="8.7"/><circle cx="706.6" cy="423.0" r="8.7"/><circle cx="706.7" cy="419.3" r="8.7"/><circle cx="707.0" cy="417.1" r="8.7"/><circle cx="707.3" cy="444.7" r="8.7"/><circle cx="707.3" cy="408.3" r="8.7"/><circle cx="707.5" cy="414.2" r="8.7"/><circle cx="707.7" cy="419.1" r="8.7"/><circle cx="707.9" cy="421.7" r="8.7"/><circle cx="708.2" cy="423.3" r="8.7"/><circle cx="708.2" cy="425.4" r="8.7"/><circle cx="708.5" cy="419.6" r="8.7"/><circle cx="708.7" cy="408.4" r="8.7"/><circle cx="708.9" cy="416.5" r="8.7"/><circle cx="709.1" cy="427.0" r="8.7"/><circle cx="709.3" cy="409.8" r="8.7"/><circle cx="709.5" cy="414.2" r="8.7"/><circle cx="709.7" cy="418.6" r="8.7"/><circle cx="709.9" cy="412.4" r="8.7"/><circle cx="710.0" cy="424.4" r="8.7"/><circle cx="710.2" cy="413.7" r="8.7"/><circle cx="710.5" cy="415.0" r="8.7"/><circle cx="710.6" cy="419.6" r="8.7"/><circle cx="710.7" cy="413.1" r="8.7"/><circle cx="711.0" cy="426.2" r="8.7"/><circle cx="711.2" cy="400.8" r="8.7"/><circle cx="711.4" cy="423.1" r="8.7"/><circle cx="711.6" cy="418.4" r="8.7"/><circle cx="711.8" cy="410.1" r="8.7"/><circle cx="712.0" cy="422.7" r="8.7"/><circle cx="712.0" cy="415.9" r="8.7"/><circle cx="712.3" cy="413.3" r="8.7"/><circle cx="712.5" cy="421.9" r="8.7"/><circle cx="712.7" cy="411.5" r="8.7"/><circle cx="712.9" cy="402.5" r="8.7"/><circle cx="713.0" cy="418.8" r="8.7"/><circle cx="713.3" cy="414.4" r="8.7"/><circle cx="713.5" cy="426.9" r="8.7"/><circle cx="713.7" cy="406.7" r="8.7"/><circle cx="713.7" cy="407.2" r="8.7"/><circle cx="714.0" cy="424.2" r="8.7"/><circle cx="714.3" cy="419.5" r="8.7"/><circle cx="714.3" cy="415.8" r="8.7"/><circle cx="714.7" cy="429.1" r="8.7"/><circle cx="714.9" cy="411.8" r="8.7"/><circle cx="715.0" cy="418.7" r="8.7"/><circle cx="715.3" cy="413.7" r="8.7"/><circle cx="715.3" cy="414.1" r="8.7"/><circle cx="715.5" cy="408.6" r="8.7"/><circle cx="715.8" cy="406.3" r="8.7"/><circle cx="715.9" cy="426.2" r="8.7"/><circle cx="716.2" cy="407.4" r="8.7"/><circle cx="716.3" cy="413.8" r="8.7"/><circle cx="716.4" cy="416.1" r="8.7"/><circle cx="716.6" cy="412.1" r="8.7"/><circle cx="716.9" cy="411.4" r="8.7"/><circle cx="717.0" cy="421.1" r="8.7"/><circle cx="717.2" cy="408.8" r="8.7"/><circle cx="717.4" cy="427.2" r="8.7"/><circle cx="717.6" cy="412.5" r="8.7"/><circle cx="717.9" cy="418.6" r="8.7"/><circle cx="718.1" cy="413.6" r="8.7"/><circle cx="718.2" cy="421.2" r="8.7"/><circle cx="718.4" cy="415.8" r="8.7"/><circle cx="718.7" cy="415.7" r="8.7"/><circle cx="718.7" cy="401.4" r="8.7"/><circle cx="719.1" cy="408.1" r="8.7"/><circle cx="719.1" cy="410.5" r="8.7"/><circle cx="719.4" cy="408.3" r="8.7"/><circle cx="719.5" cy="427.4" r="8.7"/><circle cx="719.7" cy="407.5" r="8.7"/><circle cx="720.0" cy="407.4" r="8.7"/><circle cx="720.2" cy="414.1" r="8.7"/><circle cx="720.3" cy="417.1" r="8.7"/><circle cx="720.5" cy="414.0" r="8.7"/><circle cx="720.7" cy="412.8" r="8.7"/><circle cx="720.9" cy="420.7" r="8.7"/><circle cx="721.1" cy="407.4" r="8.7"/><circle cx="721.4" cy="420.0" r="8.7"/><circle cx="721.4" cy="412.7" r="8.7"/><circle cx="721.7" cy="412.7" r="8.7"/><circle cx="722.0" cy="400.0" r="8.7"/><circle cx="722.1" cy="431.0" r="8.7"/><circle cx="722.3" cy="410.8" r="8.7"/><circle cx="722.5" cy="403.0" r="8.7"/><circle cx="722.7" cy="423.3" r="8.7"/><circle cx="722.9" cy="410.9" r="8.7"/><circle cx="723.1" cy="415.2" r="8.7"/><circle cx="723.3" cy="408.1" r="8.7"/><circle cx="723.4" cy="410.0" r="8.7"/><circle cx="723.7" cy="410.4" r="8.7"/><circle cx="723.8" cy="406.8" r="8.7"/><circle cx="724.1" cy="412.3" r="8.7"/><circle cx="724.2" cy="403.7" r="8.7"/><circle cx="724.4" cy="406.6" r="8.7"/><circle cx="724.5" cy="411.9" r="8.7"/><circle cx="724.8" cy="408.9" r="8.7"/><circle cx="724.9" cy="413.1" r="8.7"/><circle cx="725.2" cy="412.9" r="8.7"/><circle cx="725.4" cy="405.4" r="8.7"/><circle cx="725.6" cy="400.0" r="8.7"/><circle cx="725.7" cy="413.6" r="8.7"/><circle cx="725.9" cy="416.4" r="8.7"/><circle cx="726.2" cy="406.7" r="8.7"/><circle cx="726.4" cy="442.3" r="8.7"/><circle cx="726.5" cy="408.0" r="8.7"/><circle cx="726.7" cy="430.0" r="8.7"/><circle cx="726.9" cy="401.0" r="8.7"/><circle cx="727.2" cy="405.5" r="8.7"/><circle cx="727.2" cy="402.7" r="8.7"/><circle cx="727.5" cy="393.2" r="8.7"/><circle cx="727.7" cy="394.5" r="8.7"/><circle cx="727.9" cy="407.7" r="8.7"/><circle cx="728.0" cy="405.6" r="8.7"/><circle cx="728.3" cy="403.6" r="8.7"/><circle cx="728.5" cy="410.7" r="8.7"/><circle cx="728.7" cy="401.5" r="8.7"/><circle cx="728.8" cy="409.4" r="8.7"/><circle cx="729.1" cy="406.8" r="8.7"/><circle cx="729.3" cy="403.6" r="8.7"/><circle cx="729.5" cy="410.7" r="8.7"/><circle cx="729.6" cy="397.4" r="8.7"/><circle cx="729.8" cy="412.3" r="8.7"/><circle cx="730.0" cy="410.6" r="8.7"/><circle cx="730.2" cy="418.9" r="8.7"/><circle cx="730.5" cy="413.8" r="8.7"/><circle cx="730.7" cy="415.2" r="8.7"/><circle cx="730.7" cy="402.7" r="8.7"/><circle cx="731.0" cy="410.0" r="8.7"/><circle cx="731.2" cy="421.8" r="8.7"/><circle cx="731.5" cy="401.6" r="8.7"/><circle cx="731.6" cy="404.9" r="8.7"/><circle cx="731.8" cy="406.5" r="8.7"/><circle cx="731.9" cy="407.8" r="8.7"/><circle cx="732.2" cy="395.9" r="8.7"/><circle cx="732.4" cy="401.0" r="8.7"/><circle cx="732.5" cy="406.6" r="8.7"/><circle cx="732.7" cy="414.3" r="8.7"/><circle cx="732.9" cy="410.0" r="8.7"/><circle cx="733.1" cy="401.1" r="8.7"/><circle cx="733.3" cy="404.5" r="8.7"/><circle cx="733.6" cy="409.2" r="8.7"/><circle cx="733.8" cy="410.4" r="8.7"/><circle cx="733.9" cy="405.6" r="8.7"/><circle cx="734.1" cy="390.9" r="8.7"/><circle cx="734.3" cy="402.4" r="8.7"/><circle cx="734.5" cy="396.4" r="8.7"/><circle cx="734.7" cy="415.8" r="8.7"/><circle cx="734.9" cy="398.3" r="8.7"/><circle cx="735.2" cy="399.9" r="8.7"/><circle cx="735.3" cy="423.4" r="8.7"/><circle cx="735.5" cy="389.2" r="8.7"/><circle cx="735.7" cy="392.1" r="8.7"/><circle cx="735.9" cy="418.6" r="8.7"/><circle cx="736.1" cy="401.1" r="8.7"/><circle cx="736.2" cy="404.0" r="8.7"/><circle cx="736.5" cy="398.6" r="8.7"/><circle cx="736.6" cy="404.6" r="8.7"/><circle cx="736.9" cy="396.7" r="8.7"/><circle cx="737.0" cy="405.1" r="8.7"/><circle cx="737.2" cy="401.3" r="8.7"/><circle cx="737.4" cy="398.2" r="8.7"/><circle cx="737.7" cy="421.3" r="8.7"/><circle cx="737.9" cy="390.3" r="8.7"/><circle cx="738.0" cy="400.0" r="8.7"/><circle cx="738.2" cy="406.7" r="8.7"/><circle cx="738.5" cy="399.9" r="8.7"/><circle cx="738.7" cy="401.6" r="8.7"/><circle cx="738.8" cy="401.0" r="8.7"/><circle cx="739.0" cy="402.3" r="8.7"/><circle cx="739.1" cy="404.7" r="8.7"/><circle cx="739.5" cy="392.9" r="8.7"/><circle cx="739.7" cy="399.6" r="8.7"/><circle cx="739.7" cy="397.4" r="8.7"/><circle cx="740.1" cy="400.3" r="8.7"/><circle cx="740.2" cy="419.2" r="8.7"/><circle cx="740.4" cy="395.5" r="8.7"/><circle cx="740.6" cy="403.5" r="8.7"/><circle cx="740.9" cy="393.8" r="8.7"/><circle cx="740.9" cy="392.0" r="8.7"/><circle cx="741.2" cy="394.8" r="8.7"/><circle cx="741.3" cy="438.1" r="8.7"/><circle cx="741.6" cy="394.7" r="8.7"/><circle cx="741.8" cy="398.9" r="8.7"/><circle cx="741.9" cy="395.4" r="8.7"/><circle cx="742.1" cy="400.9" r="8.7"/><circle cx="742.4" cy="408.1" r="8.7"/><circle cx="742.6" cy="407.8" r="8.7"/><circle cx="742.9" cy="392.5" r="8.7"/><circle cx="743.0" cy="396.4" r="8.7"/><circle cx="743.1" cy="397.3" r="8.7"/><circle cx="743.4" cy="397.1" r="8.7"/><circle cx="743.5" cy="402.8" r="8.7"/><circle cx="743.7" cy="389.8" r="8.7"/><circle cx="744.0" cy="415.1" r="8.7"/><circle cx="744.2" cy="399.7" r="8.7"/><circle cx="744.4" cy="402.7" r="8.7"/><circle cx="744.5" cy="399.6" r="8.7"/><circle cx="744.7" cy="393.1" r="8.7"/><circle cx="744.9" cy="387.7" r="8.7"/><circle cx="745.1" cy="389.2" r="8.7"/><circle cx="745.4" cy="393.4" r="8.7"/><circle cx="745.6" cy="394.8" r="8.7"/><circle cx="745.7" cy="382.8" r="8.7"/><circle cx="745.9" cy="395.0" r="8.7"/><circle cx="746.1" cy="397.8" r="8.7"/><circle cx="746.3" cy="401.3" r="8.7"/><circle cx="746.6" cy="405.5" r="8.7"/><circle cx="746.8" cy="401.4" r="8.7"/><circle cx="747.0" cy="398.3" r="8.7"/><circle cx="747.2" cy="372.7" r="8.7"/><circle cx="747.3" cy="389.1" r="8.7"/><circle cx="747.5" cy="387.1" r="8.7"/><circle cx="747.7" cy="395.1" r="8.7"/><circle cx="747.9" cy="399.5" r="8.7"/><circle cx="748.0" cy="387.9" r="8.7"/><circle cx="748.3" cy="388.7" r="8.7"/><circle cx="748.6" cy="388.4" r="8.7"/><circle cx="748.8" cy="400.0" r="8.7"/><circle cx="748.9" cy="381.4" r="8.7"/><circle cx="749.1" cy="387.8" r="8.7"/><circle cx="749.3" cy="399.3" r="8.7"/><circle cx="749.5" cy="386.7" r="8.7"/><circle cx="749.8" cy="388.3" r="8.7"/><circle cx="750.0" cy="405.9" r="8.7"/><circle cx="750.1" cy="404.7" r="8.7"/><circle cx="750.4" cy="393.7" r="8.7"/><circle cx="750.6" cy="390.6" r="8.7"/><circle cx="750.7" cy="397.2" r="8.7"/><circle cx="751.0" cy="394.0" r="8.7"/><circle cx="751.1" cy="409.9" r="8.7"/><circle cx="751.4" cy="392.4" r="8.7"/><circle cx="751.5" cy="398.9" r="8.7"/><circle cx="751.6" cy="386.7" r="8.7"/><circle cx="751.9" cy="383.8" r="8.7"/><circle cx="752.1" cy="381.3" r="8.7"/><circle cx="752.3" cy="420.1" r="8.7"/><circle cx="752.6" cy="397.4" r="8.7"/><circle cx="752.8" cy="387.6" r="8.7"/><circle cx="752.9" cy="389.1" r="8.7"/><circle cx="753.1" cy="390.6" r="8.7"/><circle cx="753.3" cy="398.0" r="8.7"/><circle cx="753.6" cy="396.7" r="8.7"/><circle cx="753.7" cy="384.1" r="8.7"/><circle cx="753.9" cy="410.4" r="8.7"/><circle cx="754.1" cy="393.7" r="8.7"/><circle cx="754.3" cy="400.1" r="8.7"/><circle cx="754.5" cy="397.0" r="8.7"/><circle cx="754.7" cy="404.3" r="8.7"/><circle cx="755.0" cy="384.7" r="8.7"/><circle cx="755.2" cy="387.4" r="8.7"/><circle cx="755.3" cy="385.1" r="8.7"/><circle cx="755.6" cy="381.4" r="8.7"/><circle cx="755.8" cy="390.1" r="8.7"/><circle cx="755.9" cy="381.0" r="8.7"/><circle cx="756.2" cy="404.3" r="8.7"/><circle cx="756.4" cy="385.6" r="8.7"/><circle cx="756.5" cy="388.7" r="8.7"/><circle cx="756.7" cy="386.3" r="8.7"/><circle cx="756.9" cy="400.4" r="8.7"/><circle cx="757.2" cy="384.3" r="8.7"/><circle cx="757.3" cy="358.8" r="8.7"/><circle cx="757.5" cy="377.3" r="8.7"/><circle cx="757.8" cy="385.0" r="8.7"/><circle cx="758.0" cy="390.1" r="8.7"/><circle cx="758.3" cy="391.2" r="8.7"/><circle cx="758.5" cy="384.3" r="8.7"/><circle cx="758.5" cy="389.8" r="8.7"/><circle cx="758.8" cy="384.1" r="8.7"/><circle cx="758.9" cy="335.0" r="8.7"/><circle cx="759.1" cy="391.5" r="8.7"/><circle cx="759.4" cy="384.5" r="8.7"/><circle cx="759.6" cy="383.4" r="8.7"/><circle cx="759.8" cy="383.7" r="8.7"/><circle cx="760.1" cy="381.9" r="8.7"/><circle cx="760.3" cy="409.5" r="8.7"/><circle cx="760.3" cy="403.9" r="8.7"/><circle cx="760.6" cy="383.4" r="8.7"/><circle cx="760.8" cy="378.4" r="8.7"/><circle cx="760.9" cy="380.8" r="8.7"/><circle cx="761.2" cy="398.2" r="8.7"/><circle cx="761.5" cy="381.8" r="8.7"/><circle cx="761.7" cy="383.0" r="8.7"/><circle cx="761.8" cy="375.7" r="8.7"/><circle cx="762.0" cy="383.9" r="8.7"/><circle cx="762.1" cy="376.4" r="8.7"/><circle cx="762.3" cy="370.5" r="8.7"/><circle cx="762.5" cy="371.2" r="8.7"/><circle cx="762.7" cy="385.4" r="8.7"/><circle cx="763.1" cy="380.2" r="8.7"/><circle cx="763.3" cy="372.0" r="8.7"/><circle cx="763.5" cy="382.1" r="8.7"/><circle cx="763.7" cy="386.5" r="8.7"/><circle cx="763.8" cy="397.7" r="8.7"/><circle cx="764.1" cy="381.4" r="8.7"/><circle cx="764.3" cy="390.8" r="8.7"/><circle cx="764.4" cy="377.7" r="8.7"/><circle cx="764.6" cy="387.2" r="8.7"/><circle cx="764.9" cy="393.8" r="8.7"/><circle cx="765.1" cy="379.3" r="8.7"/><circle cx="765.2" cy="379.7" r="8.7"/><circle cx="765.5" cy="375.2" r="8.7"/><circle cx="765.6" cy="382.1" r="8.7"/><circle cx="766.0" cy="383.7" r="8.7"/><circle cx="766.0" cy="381.5" r="8.7"/><circle cx="766.2" cy="419.6" r="8.7"/><circle cx="766.5" cy="382.9" r="8.7"/><circle cx="766.7" cy="394.7" r="8.7"/><circle cx="766.9" cy="384.5" r="8.7"/><circle cx="767.1" cy="388.4" r="8.7"/><circle cx="767.3" cy="393.8" r="8.7"/><circle cx="767.5" cy="379.8" r="8.7"/><circle cx="767.8" cy="384.9" r="8.7"/><circle cx="767.9" cy="380.2" r="8.7"/><circle cx="768.1" cy="376.8" r="8.7"/><circle cx="768.3" cy="380.8" r="8.7"/><circle cx="768.5" cy="377.6" r="8.7"/><circle cx="768.7" cy="380.8" r="8.7"/><circle cx="769.0" cy="404.3" r="8.7"/><circle cx="769.2" cy="368.5" r="8.7"/><circle cx="769.5" cy="378.7" r="8.7"/><circle cx="769.5" cy="373.6" r="8.7"/><circle cx="769.8" cy="408.2" r="8.7"/><circle cx="770.0" cy="379.5" r="8.7"/><circle cx="770.2" cy="369.9" r="8.7"/><circle cx="770.5" cy="376.7" r="8.7"/><circle cx="770.5" cy="381.1" r="8.7"/><circle cx="770.7" cy="377.9" r="8.7"/><circle cx="771.1" cy="384.5" r="8.7"/><circle cx="771.2" cy="385.1" r="8.7"/><circle cx="771.3" cy="376.2" r="8.7"/><circle cx="771.7" cy="379.5" r="8.7"/><circle cx="771.9" cy="379.6" r="8.7"/><circle cx="772.0" cy="369.9" r="8.7"/><circle cx="772.3" cy="389.1" r="8.7"/><circle cx="772.4" cy="375.5" r="8.7"/><circle cx="772.6" cy="378.4" r="8.7"/><circle cx="772.9" cy="379.7" r="8.7"/><circle cx="773.1" cy="377.0" r="8.7"/><circle cx="773.3" cy="378.5" r="8.7"/><circle cx="773.4" cy="372.2" r="8.7"/><circle cx="773.7" cy="380.6" r="8.7"/><circle cx="773.9" cy="378.7" r="8.7"/><circle cx="774.1" cy="375.6" r="8.7"/><circle cx="774.3" cy="375.1" r="8.7"/><circle cx="774.5" cy="373.2" r="8.7"/><circle cx="774.6" cy="375.2" r="8.7"/><circle cx="774.9" cy="372.6" r="8.7"/><circle cx="775.0" cy="384.4" r="8.7"/><circle cx="775.4" cy="381.3" r="8.7"/><circle cx="775.6" cy="382.3" r="8.7"/><circle cx="775.7" cy="382.5" r="8.7"/><circle cx="775.9" cy="388.4" r="8.7"/><circle cx="776.3" cy="376.0" r="8.7"/><circle cx="776.3" cy="370.8" r="8.7"/><circle cx="776.6" cy="377.2" r="8.7"/><circle cx="776.9" cy="364.3" r="8.7"/><circle cx="777.0" cy="395.6" r="8.7"/><circle cx="777.1" cy="372.3" r="8.7"/><circle cx="777.3" cy="385.6" r="8.7"/><circle cx="777.5" cy="368.8" r="8.7"/><circle cx="777.8" cy="370.3" r="8.7"/><circle cx="778.1" cy="391.9" r="8.7"/><circle cx="778.2" cy="370.4" r="8.7"/><circle cx="778.4" cy="376.1" r="8.7"/><circle cx="778.7" cy="382.9" r="8.7"/><circle cx="778.9" cy="374.2" r="8.7"/><circle cx="779.1" cy="409.9" r="8.7"/><circle cx="779.3" cy="369.5" r="8.7"/><circle cx="779.4" cy="373.3" r="8.7"/><circle cx="779.8" cy="372.4" r="8.7"/><circle cx="779.9" cy="365.6" r="8.7"/><circle cx="780.0" cy="371.3" r="8.7"/><circle cx="780.3" cy="372.3" r="8.7"/><circle cx="780.5" cy="368.9" r="8.7"/><circle cx="780.7" cy="372.9" r="8.7"/><circle cx="780.9" cy="374.0" r="8.7"/><circle cx="781.1" cy="368.7" r="8.7"/><circle cx="781.3" cy="368.0" r="8.7"/><circle cx="781.6" cy="393.0" r="8.7"/><circle cx="781.8" cy="380.2" r="8.7"/><circle cx="781.9" cy="379.1" r="8.7"/><circle cx="782.3" cy="369.7" r="8.7"/><circle cx="782.4" cy="368.8" r="8.7"/><circle cx="782.7" cy="375.6" r="8.7"/><circle cx="782.8" cy="383.6" r="8.7"/><circle cx="782.9" cy="376.9" r="8.7"/><circle cx="783.2" cy="396.9" r="8.7"/><circle cx="783.4" cy="363.6" r="8.7"/><circle cx="783.8" cy="368.5" r="8.7"/><circle cx="783.9" cy="364.2" r="8.7"/><circle cx="784.2" cy="360.9" r="8.7"/><circle cx="784.3" cy="370.1" r="8.7"/><circle cx="784.4" cy="400.5" r="8.7"/><circle cx="784.7" cy="373.8" r="8.7"/><circle cx="785.0" cy="369.2" r="8.7"/><circle cx="785.1" cy="382.3" r="8.7"/><circle cx="785.4" cy="382.5" r="8.7"/><circle cx="785.5" cy="380.9" r="8.7"/><circle cx="785.9" cy="360.2" r="8.7"/><circle cx="786.1" cy="397.7" r="8.7"/><circle cx="786.3" cy="361.7" r="8.7"/><circle cx="786.4" cy="390.7" r="8.7"/><circle cx="786.7" cy="361.2" r="8.7"/><circle cx="786.8" cy="351.4" r="8.7"/><circle cx="787.0" cy="368.6" r="8.7"/><circle cx="787.2" cy="370.9" r="8.7"/><circle cx="787.4" cy="386.0" r="8.7"/><circle cx="787.7" cy="368.3" r="8.7"/><circle cx="787.8" cy="378.5" r="8.7"/><circle cx="788.2" cy="358.5" r="8.7"/><circle cx="788.3" cy="378.3" r="8.7"/><circle cx="788.5" cy="376.2" r="8.7"/><circle cx="788.8" cy="371.3" r="8.7"/><circle cx="789.0" cy="363.9" r="8.7"/><circle cx="789.0" cy="389.6" r="8.7"/><circle cx="789.3" cy="373.6" r="8.7"/><circle cx="789.5" cy="370.6" r="8.7"/><circle cx="789.7" cy="362.1" r="8.7"/><circle cx="790.0" cy="366.3" r="8.7"/><circle cx="790.3" cy="357.6" r="8.7"/><circle cx="790.4" cy="363.6" r="8.7"/><circle cx="790.7" cy="381.2" r="8.7"/><circle cx="790.8" cy="367.3" r="8.7"/><circle cx="790.9" cy="354.5" r="8.7"/><circle cx="791.2" cy="376.9" r="8.7"/><circle cx="791.4" cy="359.5" r="8.7"/><circle cx="791.8" cy="368.0" r="8.7"/><circle cx="792.0" cy="391.2" r="8.7"/><circle cx="792.1" cy="393.9" r="8.7"/><circle cx="792.2" cy="367.3" r="8.7"/><circle cx="792.6" cy="358.2" r="8.7"/><circle cx="792.7" cy="370.5" r="8.7"/><circle cx="793.0" cy="374.3" r="8.7"/><circle cx="793.3" cy="356.5" r="8.7"/><circle cx="793.3" cy="385.2" r="8.7"/><circle cx="793.5" cy="388.5" r="8.7"/><circle cx="793.9" cy="359.7" r="8.7"/><circle cx="794.1" cy="361.7" r="8.7"/><circle cx="794.1" cy="375.6" r="8.7"/><circle cx="794.4" cy="382.7" r="8.7"/><circle cx="794.6" cy="367.5" r="8.7"/><circle cx="794.9" cy="366.6" r="8.7"/><circle cx="795.1" cy="360.5" r="8.7"/><circle cx="795.3" cy="365.7" r="8.7"/><circle cx="795.5" cy="358.4" r="8.7"/><circle cx="795.6" cy="365.6" r="8.7"/><circle cx="795.9" cy="362.6" r="8.7"/><circle cx="796.2" cy="355.3" r="8.7"/><circle cx="796.4" cy="363.8" r="8.7"/><circle cx="796.7" cy="364.5" r="8.7"/><circle cx="796.8" cy="352.4" r="8.7"/><circle cx="797.1" cy="369.0" r="8.7"/><circle cx="797.2" cy="356.5" r="8.7"/><circle cx="797.5" cy="349.9" r="8.7"/><circle cx="797.6" cy="358.8" r="8.7"/><circle cx="797.9" cy="363.8" r="8.7"/><circle cx="798.0" cy="359.5" r="8.7"/><circle cx="798.3" cy="364.2" r="8.7"/><circle cx="798.5" cy="355.7" r="8.7"/><circle cx="798.8" cy="356.7" r="8.7"/><circle cx="799.0" cy="364.9" r="8.7"/><circle cx="799.1" cy="371.4" r="8.7"/><circle cx="799.3" cy="372.8" r="8.7"/><circle cx="799.6" cy="367.1" r="8.7"/><circle cx="799.9" cy="356.1" r="8.7"/><circle cx="800.0" cy="359.7" r="8.7"/><circle cx="800.1" cy="361.3" r="8.7"/><circle cx="800.5" cy="356.9" r="8.7"/><circle cx="800.6" cy="349.8" r="8.7"/><circle cx="800.8" cy="359.1" r="8.7"/><circle cx="801.1" cy="363.9" r="8.7"/><circle cx="801.3" cy="372.6" r="8.7"/><circle cx="801.6" cy="355.8" r="8.7"/><circle cx="801.6" cy="354.7" r="8.7"/><circle cx="801.9" cy="354.8" r="8.7"/><circle cx="802.1" cy="374.5" r="8.7"/><circle cx="802.3" cy="361.0" r="8.7"/><circle cx="802.7" cy="345.1" r="8.7"/><circle cx="802.8" cy="361.3" r="8.7"/><circle cx="802.9" cy="352.1" r="8.7"/><circle cx="803.3" cy="363.3" r="8.7"/><circle cx="803.3" cy="356.0" r="8.7"/><circle cx="803.5" cy="324.6" r="8.7"/><circle cx="803.9" cy="354.7" r="8.7"/><circle cx="804.1" cy="365.9" r="8.7"/><circle cx="804.3" cy="357.3" r="8.7"/><circle cx="804.5" cy="365.6" r="8.7"/><circle cx="804.6" cy="352.1" r="8.7"/><circle cx="804.9" cy="365.8" r="8.7"/><circle cx="805.2" cy="351.7" r="8.7"/><circle cx="805.3" cy="354.4" r="8.7"/><circle cx="805.6" cy="362.4" r="8.7"/><circle cx="805.9" cy="367.5" r="8.7"/><circle cx="805.9" cy="368.7" r="8.7"/><circle cx="806.2" cy="375.3" r="8.7"/><circle cx="806.5" cy="374.9" r="8.7"/><circle cx="806.8" cy="359.3" r="8.7"/><circle cx="806.9" cy="357.3" r="8.7"/><circle cx="807.2" cy="358.6" r="8.7"/><circle cx="807.4" cy="353.1" r="8.7"/><circle cx="807.6" cy="351.5" r="8.7"/><circle cx="807.8" cy="345.4" r="8.7"/><circle cx="808.0" cy="381.5" r="8.7"/><circle cx="808.3" cy="355.3" r="8.7"/><circle cx="808.4" cy="351.2" r="8.7"/><circle cx="808.8" cy="369.5" r="8.7"/><circle cx="808.8" cy="359.7" r="8.7"/><circle cx="809.1" cy="352.9" r="8.7"/><circle cx="809.2" cy="362.7" r="8.7"/><circle cx="809.6" cy="364.2" r="8.7"/><circle cx="809.7" cy="350.0" r="8.7"/><circle cx="810.0" cy="347.0" r="8.7"/><circle cx="810.1" cy="368.6" r="8.7"/><circle cx="810.3" cy="349.2" r="8.7"/><circle cx="810.5" cy="370.7" r="8.7"/><circle cx="810.9" cy="351.3" r="8.7"/><circle cx="811.0" cy="353.2" r="8.7"/><circle cx="811.2" cy="348.5" r="8.7"/><circle cx="811.5" cy="349.3" r="8.7"/><circle cx="811.8" cy="352.6" r="8.7"/><circle cx="812.0" cy="352.9" r="8.7"/><circle cx="812.2" cy="349.6" r="8.7"/><circle cx="812.5" cy="365.3" r="8.7"/><circle cx="812.7" cy="356.5" r="8.7"/><circle cx="812.9" cy="361.9" r="8.7"/><circle cx="813.1" cy="353.3" r="8.7"/><circle cx="813.2" cy="360.4" r="8.7"/><circle cx="813.5" cy="356.2" r="8.7"/><circle cx="813.8" cy="354.9" r="8.7"/><circle cx="813.9" cy="355.4" r="8.7"/><circle cx="814.2" cy="352.0" r="8.7"/><circle cx="814.5" cy="365.5" r="8.7"/><circle cx="814.7" cy="341.1" r="8.7"/><circle cx="814.8" cy="342.3" r="8.7"/><circle cx="815.1" cy="354.5" r="8.7"/><circle cx="815.4" cy="356.1" r="8.7"/><circle cx="815.5" cy="354.9" r="8.7"/><circle cx="815.7" cy="355.8" r="8.7"/><circle cx="816.1" cy="337.8" r="8.7"/><circle cx="816.1" cy="350.1" r="8.7"/><circle cx="816.5" cy="356.2" r="8.7"/><circle cx="816.6" cy="344.5" r="8.7"/><circle cx="816.9" cy="347.2" r="8.7"/><circle cx="817.1" cy="338.0" r="8.7"/><circle cx="817.4" cy="342.9" r="8.7"/><circle cx="817.6" cy="342.8" r="8.7"/><circle cx="817.8" cy="342.5" r="8.7"/><circle cx="817.9" cy="363.4" r="8.7"/><circle cx="818.3" cy="351.3" r="8.7"/><circle cx="818.4" cy="355.1" r="8.7"/><circle cx="818.6" cy="336.7" r="8.7"/><circle cx="818.8" cy="339.4" r="8.7"/><circle cx="819.0" cy="364.9" r="8.7"/><circle cx="819.3" cy="345.2" r="8.7"/><circle cx="819.5" cy="361.1" r="8.7"/><circle cx="819.8" cy="352.1" r="8.7"/><circle cx="820.0" cy="365.6" r="8.7"/><circle cx="820.1" cy="343.7" r="8.7"/><circle cx="820.5" cy="378.5" r="8.7"/><circle cx="820.6" cy="344.6" r="8.7"/><circle cx="820.8" cy="353.0" r="8.7"/><circle cx="821.0" cy="340.2" r="8.7"/><circle cx="821.4" cy="344.3" r="8.7"/><circle cx="821.7" cy="349.3" r="8.7"/><circle cx="821.7" cy="347.9" r="8.7"/><circle cx="822.0" cy="350.0" r="8.7"/><circle cx="822.1" cy="346.8" r="8.7"/><circle cx="822.5" cy="340.7" r="8.7"/><circle cx="822.7" cy="354.0" r="8.7"/><circle cx="822.8" cy="348.1" r="8.7"/><circle cx="823.2" cy="350.2" r="8.7"/><circle cx="823.3" cy="351.0" r="8.7"/><circle cx="823.5" cy="341.1" r="8.7"/><circle cx="823.8" cy="339.9" r="8.7"/><circle cx="824.0" cy="352.2" r="8.7"/><circle cx="824.2" cy="345.6" r="8.7"/><circle cx="824.5" cy="369.2" r="8.7"/><circle cx="824.6" cy="333.8" r="8.7"/><circle cx="825.0" cy="339.6" r="8.7"/><circle cx="825.1" cy="345.3" r="8.7"/><circle cx="825.3" cy="344.2" r="8.7"/><circle cx="825.5" cy="337.4" r="8.7"/><circle cx="826.0" cy="335.3" r="8.7"/><circle cx="826.1" cy="333.2" r="8.7"/><circle cx="826.2" cy="344.8" r="8.7"/><circle cx="826.6" cy="361.2" r="8.7"/><circle cx="826.8" cy="348.9" r="8.7"/><circle cx="827.0" cy="347.4" r="8.7"/><circle cx="827.2" cy="351.0" r="8.7"/><circle cx="827.4" cy="336.5" r="8.7"/><circle cx="827.7" cy="347.3" r="8.7"/><circle cx="827.9" cy="361.9" r="8.7"/><circle cx="828.1" cy="329.1" r="8.7"/><circle cx="828.3" cy="333.3" r="8.7"/><circle cx="828.6" cy="363.4" r="8.7"/><circle cx="828.7" cy="342.6" r="8.7"/><circle cx="829.1" cy="335.0" r="8.7"/><circle cx="829.3" cy="342.4" r="8.7"/><circle cx="829.6" cy="341.0" r="8.7"/><circle cx="829.7" cy="326.8" r="8.7"/><circle cx="830.1" cy="344.9" r="8.7"/><circle cx="830.3" cy="350.4" r="8.7"/><circle cx="830.4" cy="330.6" r="8.7"/><circle cx="830.7" cy="333.1" r="8.7"/><circle cx="830.9" cy="342.2" r="8.7"/><circle cx="831.2" cy="351.7" r="8.7"/><circle cx="831.4" cy="356.6" r="8.7"/><circle cx="831.6" cy="337.1" r="8.7"/><circle cx="831.8" cy="336.9" r="8.7"/><circle cx="832.0" cy="348.6" r="8.7"/><circle cx="832.4" cy="357.1" r="8.7"/><circle cx="832.4" cy="341.8" r="8.7"/><circle cx="832.8" cy="330.4" r="8.7"/><circle cx="832.9" cy="366.1" r="8.7"/><circle cx="833.2" cy="345.8" r="8.7"/><circle cx="833.6" cy="361.8" r="8.7"/><circle cx="833.6" cy="343.7" r="8.7"/><circle cx="833.8" cy="335.5" r="8.7"/><circle cx="834.2" cy="360.2" r="8.7"/><circle cx="834.3" cy="329.2" r="8.7"/><circle cx="834.5" cy="332.8" r="8.7"/><circle cx="834.8" cy="334.0" r="8.7"/><circle cx="835.2" cy="337.3" r="8.7"/><circle cx="835.4" cy="357.2" r="8.7"/><circle cx="835.6" cy="336.3" r="8.7"/><circle cx="835.7" cy="331.1" r="8.7"/><circle cx="836.0" cy="341.8" r="8.7"/><circle cx="836.2" cy="329.6" r="8.7"/><circle cx="836.4" cy="339.0" r="8.7"/><circle cx="836.8" cy="325.7" r="8.7"/><circle cx="837.0" cy="333.2" r="8.7"/><circle cx="837.2" cy="356.1" r="8.7"/><circle cx="837.4" cy="375.9" r="8.7"/><circle cx="837.7" cy="331.4" r="8.7"/><circle cx="837.8" cy="323.2" r="8.7"/><circle cx="838.2" cy="335.3" r="8.7"/><circle cx="838.4" cy="330.5" r="8.7"/><circle cx="838.6" cy="331.6" r="8.7"/><circle cx="838.8" cy="358.4" r="8.7"/><circle cx="839.0" cy="332.0" r="8.7"/><circle cx="839.4" cy="337.1" r="8.7"/><circle cx="839.5" cy="330.0" r="8.7"/><circle cx="839.9" cy="325.8" r="8.7"/><circle cx="840.0" cy="334.6" r="8.7"/><circle cx="840.2" cy="340.7" r="8.7"/><circle cx="840.4" cy="325.6" r="8.7"/><circle cx="840.8" cy="326.7" r="8.7"/><circle cx="841.0" cy="325.4" r="8.7"/><circle cx="841.1" cy="340.1" r="8.7"/><circle cx="841.4" cy="344.1" r="8.7"/><circle cx="841.7" cy="341.9" r="8.7"/><circle cx="841.9" cy="329.9" r="8.7"/><circle cx="842.2" cy="335.5" r="8.7"/><circle cx="842.3" cy="334.1" r="8.7"/><circle cx="842.7" cy="336.4" r="8.7"/><circle cx="842.9" cy="325.4" r="8.7"/><circle cx="843.1" cy="336.7" r="8.7"/><circle cx="843.3" cy="324.4" r="8.7"/><circle cx="843.6" cy="354.5" r="8.7"/><circle cx="843.8" cy="365.8" r="8.7"/><circle cx="843.9" cy="336.6" r="8.7"/><circle cx="844.4" cy="326.7" r="8.7"/><circle cx="844.5" cy="329.9" r="8.7"/><circle cx="844.7" cy="333.2" r="8.7"/><circle cx="845.1" cy="333.9" r="8.7"/><circle cx="845.2" cy="334.4" r="8.7"/><circle cx="845.5" cy="321.3" r="8.7"/><circle cx="845.7" cy="331.7" r="8.7"/><circle cx="845.8" cy="338.2" r="8.7"/><circle cx="846.2" cy="320.6" r="8.7"/><circle cx="846.4" cy="326.6" r="8.7"/><circle cx="846.6" cy="355.9" r="8.7"/><circle cx="847.0" cy="320.3" r="8.7"/><circle cx="847.1" cy="343.6" r="8.7"/><circle cx="847.4" cy="336.7" r="8.7"/><circle cx="847.7" cy="331.2" r="8.7"/><circle cx="847.8" cy="330.6" r="8.7"/><circle cx="848.0" cy="340.2" r="8.7"/><circle cx="848.4" cy="321.2" r="8.7"/><circle cx="848.6" cy="323.3" r="8.7"/><circle cx="848.8" cy="324.8" r="8.7"/><circle cx="849.1" cy="342.9" r="8.7"/><circle cx="849.3" cy="334.1" r="8.7"/><circle cx="849.5" cy="327.8" r="8.7"/><circle cx="849.9" cy="332.1" r="8.7"/><circle cx="850.1" cy="332.5" r="8.7"/><circle cx="850.2" cy="322.3" r="8.7"/><circle cx="850.4" cy="341.4" r="8.7"/><circle cx="850.8" cy="342.5" r="8.7"/><circle cx="851.1" cy="331.4" r="8.7"/><circle cx="851.2" cy="325.5" r="8.7"/><circle cx="851.5" cy="320.3" r="8.7"/><circle cx="851.8" cy="325.6" r="8.7"/><circle cx="851.9" cy="324.2" r="8.7"/><circle cx="852.3" cy="329.0" r="8.7"/><circle cx="852.6" cy="334.5" r="8.7"/><circle cx="852.7" cy="330.3" r="8.7"/><circle cx="853.0" cy="322.7" r="8.7"/><circle cx="853.3" cy="330.5" r="8.7"/><circle cx="853.6" cy="324.1" r="8.7"/><circle cx="853.7" cy="331.8" r="8.7"/><circle cx="854.0" cy="330.2" r="8.7"/><circle cx="854.2" cy="335.3" r="8.7"/><circle cx="854.6" cy="316.2" r="8.7"/><circle cx="854.7" cy="327.3" r="8.7"/><circle cx="855.0" cy="323.0" r="8.7"/><circle cx="855.3" cy="331.7" r="8.7"/><circle cx="855.5" cy="327.5" r="8.7"/><circle cx="855.9" cy="321.2" r="8.7"/><circle cx="856.1" cy="318.6" r="8.7"/><circle cx="856.3" cy="343.5" r="8.7"/><circle cx="856.4" cy="314.8" r="8.7"/><circle cx="856.8" cy="339.8" r="8.7"/><circle cx="857.1" cy="336.8" r="8.7"/><circle cx="857.2" cy="320.5" r="8.7"/><circle cx="857.6" cy="322.3" r="8.7"/><circle cx="857.8" cy="341.5" r="8.7"/><circle cx="858.2" cy="325.7" r="8.7"/><circle cx="858.2" cy="330.7" r="8.7"/><circle cx="858.7" cy="325.4" r="8.7"/><circle cx="858.8" cy="314.2" r="8.7"/><circle cx="859.0" cy="324.4" r="8.7"/><circle cx="859.3" cy="310.7" r="8.7"/><circle cx="859.6" cy="317.7" r="8.7"/><circle cx="859.8" cy="355.4" r="8.7"/><circle cx="860.1" cy="334.4" r="8.7"/><circle cx="860.5" cy="327.3" r="8.7"/><circle cx="860.8" cy="324.3" r="8.7"/><circle cx="861.0" cy="322.6" r="8.7"/><circle cx="861.3" cy="321.2" r="8.7"/><circle cx="861.5" cy="326.1" r="8.7"/><circle cx="861.7" cy="309.6" r="8.7"/><circle cx="862.0" cy="317.0" r="8.7"/><circle cx="862.3" cy="321.6" r="8.7"/><circle cx="862.7" cy="302.3" r="8.7"/><circle cx="862.8" cy="328.0" r="8.7"/><circle cx="863.2" cy="317.8" r="8.7"/><circle cx="863.4" cy="317.5" r="8.7"/><circle cx="863.6" cy="320.0" r="8.7"/><circle cx="864.1" cy="314.1" r="8.7"/><circle cx="864.3" cy="317.6" r="8.7"/><circle cx="864.6" cy="314.6" r="8.7"/><circle cx="864.9" cy="315.3" r="8.7"/><circle cx="865.0" cy="315.2" r="8.7"/><circle cx="865.4" cy="316.4" r="8.7"/><circle cx="865.6" cy="321.6" r="8.7"/><circle cx="865.8" cy="313.7" r="8.7"/><circle cx="866.0" cy="321.9" r="8.7"/><circle cx="866.4" cy="309.1" r="8.7"/><circle cx="866.6" cy="310.6" r="8.7"/><circle cx="866.9" cy="329.1" r="8.7"/><circle cx="867.3" cy="306.3" r="8.7"/><circle cx="867.4" cy="303.6" r="8.7"/><circle cx="867.7" cy="303.3" r="8.7"/><circle cx="868.1" cy="319.4" r="8.7"/><circle cx="868.5" cy="325.8" r="8.7"/><circle cx="868.7" cy="321.4" r="8.7"/><circle cx="868.9" cy="324.6" r="8.7"/><circle cx="869.1" cy="320.4" r="8.7"/><circle cx="869.6" cy="309.2" r="8.7"/><circle cx="869.8" cy="323.9" r="8.7"/><circle cx="869.9" cy="312.1" r="8.7"/><circle cx="870.2" cy="324.7" r="8.7"/><circle cx="870.6" cy="313.5" r="8.7"/><circle cx="870.9" cy="317.0" r="8.7"/><circle cx="871.2" cy="295.9" r="8.7"/><circle cx="871.4" cy="314.1" r="8.7"/><circle cx="871.8" cy="308.4" r="8.7"/><circle cx="872.1" cy="317.3" r="8.7"/><circle cx="872.3" cy="316.7" r="8.7"/><circle cx="872.6" cy="329.5" r="8.7"/><circle cx="872.9" cy="309.0" r="8.7"/><circle cx="873.3" cy="311.5" r="8.7"/><circle cx="873.5" cy="311.3" r="8.7"/><circle cx="873.8" cy="308.6" r="8.7"/><circle cx="874.2" cy="311.1" r="8.7"/><circle cx="874.5" cy="320.9" r="8.7"/><circle cx="874.9" cy="319.7" r="8.7"/><circle cx="875.1" cy="315.5" r="8.7"/><circle cx="875.4" cy="302.7" r="8.7"/><circle cx="875.6" cy="311.3" r="8.7"/><circle cx="876.0" cy="310.7" r="8.7"/><circle cx="876.3" cy="305.7" r="8.7"/><circle cx="876.8" cy="301.0" r="8.7"/><circle cx="876.9" cy="331.1" r="8.7"/><circle cx="877.5" cy="313.5" r="8.7"/><circle cx="877.8" cy="302.4" r="8.7"/><circle cx="878.1" cy="309.9" r="8.7"/><circle cx="878.5" cy="299.4" r="8.7"/><circle cx="878.6" cy="310.0" r="8.7"/><circle cx="879.0" cy="305.5" r="8.7"/><circle cx="879.6" cy="306.1" r="8.7"/><circle cx="879.6" cy="323.6" r="8.7"/><circle cx="880.0" cy="311.2" r="8.7"/><circle cx="880.6" cy="307.0" r="8.7"/><circle cx="881.1" cy="308.8" r="8.7"/><circle cx="881.2" cy="326.5" r="8.7"/><circle cx="881.8" cy="308.3" r="8.7"/><circle cx="882.1" cy="305.1" r="8.7"/><circle cx="882.5" cy="306.7" r="8.7"/><circle cx="883.0" cy="317.6" r="8.7"/><circle cx="883.2" cy="299.6" r="8.7"/><circle cx="884.0" cy="312.0" r="8.7"/><circle cx="884.2" cy="306.8" r="8.7"/><circle cx="884.5" cy="320.8" r="8.7"/><circle cx="885.0" cy="321.5" r="8.7"/><circle cx="885.8" cy="308.9" r="8.7"/><circle cx="886.0" cy="296.9" r="8.7"/><circle cx="886.3" cy="324.7" r="8.7"/><circle cx="886.9" cy="310.4" r="8.7"/><circle cx="887.6" cy="299.6" r="8.7"/><circle cx="888.3" cy="307.0" r="8.7"/><circle cx="888.8" cy="304.4" r="8.7"/><circle cx="889.5" cy="300.6" r="8.7"/><circle cx="889.9" cy="293.9" r="8.7"/><circle cx="890.3" cy="312.6" r="8.7"/><circle cx="891.1" cy="297.2" r="8.7"/><circle cx="891.4" cy="298.7" r="8.7"/><circle cx="892.1" cy="287.2" r="8.7"/><circle cx="892.8" cy="292.4" r="8.7"/><circle cx="893.8" cy="294.3" r="8.7"/><circle cx="894.4" cy="304.2" r="8.7"/><circle cx="895.1" cy="304.4" r="8.7"/><circle cx="896.6" cy="295.4" r="8.7"/><circle cx="896.7" cy="316.2" r="8.7"/><circle cx="898.1" cy="300.6" r="8.7"/><circle cx="899.7" cy="291.6" r="8.7"/><circle cx="900.1" cy="295.4" r="8.7"/><circle cx="902.8" cy="293.7" r="8.7"/><circle cx="904.6" cy="304.0" r="8.7"/><circle cx="906.2" cy="306.5" r="8.7"/><circle cx="907.5" cy="288.0" r="8.7"/><circle cx="910.8" cy="288.8" r="8.7"/><circle cx="912.0" cy="287.1" r="8.7"/><circle cx="916.9" cy="279.2" r="8.7"/><circle cx="873.7" cy="327.9" r="8.7"/><circle cx="877.5" cy="343.7" r="8.7"/><circle cx="878.6" cy="335.3" r="8.7"/><circle cx="879.8" cy="311.3" r="8.7"/><circle cx="882.8" cy="325.1" r="8.7"/><circle cx="884.4" cy="303.2" r="8.7"/><circle cx="887.3" cy="325.1" r="8.7"/><circle cx="888.6" cy="327.4" r="8.7"/><circle cx="891.2" cy="297.0" r="8.7"/><circle cx="892.8" cy="311.2" r="8.7"/><circle cx="894.7" cy="304.7" r="8.7"/><circle cx="898.3" cy="318.4" r="8.7"/><circle cx="898.8" cy="296.2" r="8.7"/><circle cx="901.8" cy="311.3" r="8.7"/><circle cx="902.9" cy="289.6" r="8.7"/><circle cx="906.8" cy="290.7" r="8.7"/><circle cx="908.2" cy="299.6" r="8.7"/><circle cx="910.1" cy="284.5" r="8.7"/><circle cx="912.4" cy="288.0" r="8.7"/><circle cx="913.8" cy="282.6" r="8.7"/><circle cx="915.8" cy="283.7" r="8.7"/><circle cx="919.4" cy="292.7" r="8.7"/><circle cx="922.1" cy="300.1" r="8.7"/><circle cx="922.4" cy="282.6" r="8.7"/><circle cx="926.2" cy="273.8" r="8.7"/><circle cx="929.0" cy="281.6" r="8.7"/><circle cx="931.5" cy="283.3" r="8.7"/><circle cx="931.6" cy="298.8" r="8.7"/><circle cx="934.4" cy="283.6" r="8.7"/><circle cx="937.0" cy="267.4" r="8.7"/><circle cx="941.0" cy="293.8" r="8.7"/><circle cx="941.8" cy="286.2" r="8.7"/><circle cx="945.7" cy="289.8" r="8.7"/><circle cx="948.8" cy="258.5" r="8.7"/><circle cx="951.2" cy="275.7" r="8.7"/><circle cx="954.4" cy="275.2" r="8.7"/><circle cx="955.9" cy="256.0" r="8.7"/><circle cx="960.8" cy="261.3" r="8.7"/><circle cx="964.1" cy="259.5" r="8.7"/><circle cx="965.2" cy="259.9" r="8.7"/><circle cx="970.4" cy="254.0" r="8.7"/><circle cx="972.7" cy="226.5" r="8.7"/><circle cx="977.2" cy="261.5" r="8.7"/><circle cx="981.6" cy="215.2" r="8.7"/><circle cx="982.3" cy="240.3" r="8.7"/><circle cx="986.9" cy="236.9" r="8.7"/><circle cx="992.6" cy="238.2" r="8.7"/><circle cx="997.2" cy="251.0" r="8.7"/><circle cx="998.9" cy="254.7" r="8.7"/><circle cx="1003.4" cy="223.4" r="8.7"/><circle cx="1006.4" cy="254.1" r="8.7"/><circle cx="1013.9" cy="238.0" r="8.7"/><circle cx="1018.4" cy="216.5" r="8.7"/><circle cx="1024.7" cy="202.6" r="8.7"/><circle cx="1028.0" cy="218.6" r="8.7"/><circle cx="1035.0" cy="205.2" r="8.7"/><circle cx="1040.4" cy="197.8" r="8.7"/><circle cx="1048.8" cy="199.9" r="8.7"/><circle cx="1052.9" cy="215.2" r="8.7"/><circle cx="1060.0" cy="190.7" r="8.7"/><circle cx="1259.9" cy="63.6" r="8.7"/><circle cx="1278.3" cy="123.0" r="8.7"/><circle cx="1158.9" cy="175.2" r="8.7"/><circle cx="1232.3" cy="179.0" r="8.7"/><circle cx="1111.8" cy="185.3" r="8.7"/><circle cx="1105.1" cy="174.5" r="8.7"/><circle cx="1121.4" cy="199.1" r="8.7"/><circle cx="1018.3" cy="207.2" r="8.7"/><circle cx="1055.5" cy="191.1" r="8.7"/><circle cx="1077.9" cy="201.0" r="8.7"/><circle cx="1038.2" cy="213.5" r="8.7"/><circle cx="1042.1" cy="218.2" r="8.7"/><circle cx="1061.7" cy="210.4" r="8.7"/><circle cx="1049.2" cy="201.8" r="8.7"/><circle cx="1009.2" cy="223.7" r="8.7"/><circle cx="1033.5" cy="251.2" r="8.7"/><circle cx="948.8" cy="255.1" r="8.7"/><circle cx="963.7" cy="248.8" r="8.7"/><circle cx="982.5" cy="252.0" r="8.7"/><circle cx="999.8" cy="252.0" r="8.7"/><circle cx="998.2" cy="270.8" r="8.7"/><circle cx="968.4" cy="267.6" r="8.7"/><circle cx="984.1" cy="266.0" r="8.7"/><circle cx="963.7" cy="278.6" r="8.7"/><circle cx="918.5" cy="521.0" r="8.7"/><circle cx="885.5" cy="264.3" r="8.7"/><circle cx="664.8" cy="494.4" r="8.7"/><circle cx="561.9" cy="557.4" r="8.7"/><circle cx="701.9" cy="463.0" r="8.7"/><circle cx="661.0" cy="407.4" r="8.7"/></g><g class="tl" fill="#e1920a" stroke="#e1920a" fill-opacity="0.11" stroke-opacity="0.11" stroke-width="1"><circle cx="158.4" cy="722.2" r="8.7"/><circle cx="160.4" cy="728.2" r="8.7"/><circle cx="161.4" cy="727.9" r="8.7"/><circle cx="161.7" cy="729.3" r="8.7"/><circle cx="162.4" cy="726.4" r="8.7"/><circle cx="163.3" cy="730.3" r="8.7"/><circle cx="163.4" cy="726.5" r="8.7"/><circle cx="163.9" cy="729.4" r="8.7"/><circle cx="164.6" cy="729.6" r="8.7"/><circle cx="164.9" cy="727.7" r="8.7"/><circle cx="165.2" cy="728.2" r="8.7"/><circle cx="165.6" cy="733.6" r="8.7"/><circle cx="166.0" cy="720.7" r="8.7"/><circle cx="166.2" cy="727.1" r="8.7"/><circle cx="166.5" cy="722.8" r="8.7"/><circle cx="167.1" cy="723.5" r="8.7"/><circle cx="167.4" cy="727.1" r="8.7"/><circle cx="167.7" cy="726.2" r="8.7"/><circle cx="168.2" cy="724.3" r="8.7"/><circle cx="168.4" cy="729.7" r="8.7"/><circle cx="168.9" cy="736.4" r="8.7"/><circle cx="169.0" cy="726.7" r="8.7"/><circle cx="169.4" cy="725.4" r="8.7"/><circle cx="169.7" cy="722.7" r="8.7"/><circle cx="170.0" cy="728.5" r="8.7"/><circle cx="170.4" cy="726.7" r="8.7"/><circle cx="170.6" cy="726.3" r="8.7"/><circle cx="171.1" cy="726.5" r="8.7"/><circle cx="171.4" cy="726.1" r="8.7"/><circle cx="171.5" cy="722.0" r="8.7"/><circle cx="171.9" cy="728.5" r="8.7"/><circle cx="172.2" cy="719.5" r="8.7"/><circle cx="172.4" cy="728.0" r="8.7"/><circle cx="173.0" cy="724.4" r="8.7"/><circle cx="173.2" cy="725.6" r="8.7"/><circle cx="173.4" cy="726.8" r="8.7"/><circle cx="173.8" cy="722.3" r="8.7"/><circle cx="174.0" cy="720.6" r="8.7"/><circle cx="174.5" cy="718.8" r="8.7"/><circle cx="174.6" cy="721.8" r="8.7"/><circle cx="174.8" cy="725.2" r="8.7"/><circle cx="175.1" cy="720.5" r="8.7"/><circle cx="175.5" cy="728.3" r="8.7"/><circle cx="175.8" cy="723.0" r="8.7"/><circle cx="176.2" cy="721.2" r="8.7"/><circle cx="176.4" cy="720.8" r="8.7"/><circle cx="176.6" cy="726.8" r="8.7"/><circle cx="176.8" cy="727.9" r="8.7"/><circle cx="177.1" cy="716.8" r="8.7"/><circle cx="177.6" cy="724.1" r="8.7"/><circle cx="177.7" cy="728.0" r="8.7"/><circle cx="178.1" cy="726.2" r="8.7"/><circle cx="178.2" cy="722.0" r="8.7"/><circle cx="178.4" cy="717.8" r="8.7"/><circle cx="178.9" cy="721.7" r="8.7"/><circle cx="179.1" cy="717.4" r="8.7"/><circle cx="179.3" cy="720.7" r="8.7"/><circle cx="179.6" cy="717.5" r="8.7"/><circle cx="179.8" cy="717.9" r="8.7"/><circle cx="180.0" cy="722.5" r="8.7"/><circle cx="180.3" cy="720.0" r="8.7"/><circle cx="180.7" cy="722.2" r="8.7"/><circle cx="180.9" cy="723.0" r="8.7"/><circle cx="181.1" cy="718.4" r="8.7"/><circle cx="181.5" cy="723.4" r="8.7"/><circle cx="181.6" cy="720.2" r="8.7"/><circle cx="181.8" cy="723.1" r="8.7"/><circle cx="182.2" cy="712.7" r="8.7"/><circle cx="182.5" cy="721.9" r="8.7"/><circle cx="182.6" cy="716.1" r="8.7"/><circle cx="183.0" cy="719.5" r="8.7"/><circle cx="183.1" cy="719.5" r="8.7"/><circle cx="183.3" cy="713.8" r="8.7"/><circle cx="183.6" cy="708.5" r="8.7"/><circle cx="183.9" cy="723.4" r="8.7"/><circle cx="184.3" cy="729.0" r="8.7"/><circle cx="184.4" cy="719.2" r="8.7"/><circle cx="184.8" cy="717.4" r="8.7"/><circle cx="184.9" cy="716.7" r="8.7"/><circle cx="185.1" cy="717.9" r="8.7"/><circle cx="185.4" cy="721.9" r="8.7"/><circle cx="185.8" cy="712.3" r="8.7"/><circle cx="186.0" cy="717.3" r="8.7"/><circle cx="186.1" cy="719.3" r="8.7"/><circle cx="186.4" cy="722.3" r="8.7"/><circle cx="186.6" cy="710.4" r="8.7"/><circle cx="187.0" cy="719.8" r="8.7"/><circle cx="187.0" cy="719.6" r="8.7"/><circle cx="187.3" cy="717.1" r="8.7"/><circle cx="187.6" cy="708.7" r="8.7"/><circle cx="187.8" cy="720.6" r="8.7"/><circle cx="188.2" cy="712.9" r="8.7"/><circle cx="188.4" cy="721.0" r="8.7"/><circle cx="188.6" cy="721.3" r="8.7"/><circle cx="188.8" cy="716.0" r="8.7"/><circle cx="189.1" cy="716.6" r="8.7"/><circle cx="189.3" cy="716.6" r="8.7"/><circle cx="189.6" cy="718.3" r="8.7"/><circle cx="189.7" cy="716.6" r="8.7"/><circle cx="190.0" cy="718.6" r="8.7"/><circle cx="190.1" cy="712.9" r="8.7"/><circle cx="190.4" cy="713.7" r="8.7"/><circle cx="190.7" cy="715.5" r="8.7"/><circle cx="191.0" cy="716.9" r="8.7"/><circle cx="191.2" cy="713.3" r="8.7"/><circle cx="191.3" cy="715.9" r="8.7"/><circle cx="191.6" cy="705.8" r="8.7"/><circle cx="191.7" cy="720.9" r="8.7"/><circle cx="192.2" cy="718.3" r="8.7"/><circle cx="192.2" cy="715.2" r="8.7"/><circle cx="192.4" cy="710.4" r="8.7"/><circle cx="192.7" cy="716.2" r="8.7"/><circle cx="192.9" cy="720.5" r="8.7"/><circle cx="193.3" cy="707.2" r="8.7"/><circle cx="193.4" cy="718.3" r="8.7"/><circle cx="193.6" cy="715.6" r="8.7"/><circle cx="193.9" cy="711.5" r="8.7"/><circle cx="194.0" cy="712.1" r="8.7"/><circle cx="194.3" cy="716.2" r="8.7"/><circle cx="194.5" cy="712.6" r="8.7"/><circle cx="194.6" cy="715.1" r="8.7"/><circle cx="194.9" cy="713.2" r="8.7"/><circle cx="195.2" cy="717.6" r="8.7"/><circle cx="195.4" cy="714.4" r="8.7"/><circle cx="195.6" cy="717.9" r="8.7"/><circle cx="195.9" cy="707.5" r="8.7"/><circle cx="196.0" cy="707.2" r="8.7"/><circle cx="196.2" cy="711.9" r="8.7"/><circle cx="196.5" cy="708.5" r="8.7"/><circle cx="196.7" cy="717.0" r="8.7"/><circle cx="197.0" cy="713.3" r="8.7"/><circle cx="197.1" cy="714.0" r="8.7"/><circle cx="197.3" cy="718.4" r="8.7"/><circle cx="197.6" cy="710.9" r="8.7"/><circle cx="197.9" cy="720.8" r="8.7"/><circle cx="198.1" cy="713.5" r="8.7"/><circle cx="198.3" cy="718.3" r="8.7"/><circle cx="198.4" cy="708.9" r="8.7"/><circle cx="198.7" cy="709.6" r="8.7"/><circle cx="198.9" cy="710.8" r="8.7"/><circle cx="199.0" cy="715.7" r="8.7"/><circle cx="199.3" cy="714.1" r="8.7"/><circle cx="199.4" cy="707.5" r="8.7"/><circle cx="199.8" cy="712.9" r="8.7"/><circle cx="200.0" cy="710.8" r="8.7"/><circle cx="200.2" cy="711.1" r="8.7"/><circle cx="200.4" cy="701.7" r="8.7"/><circle cx="200.5" cy="705.8" r="8.7"/><circle cx="200.8" cy="718.9" r="8.7"/><circle cx="200.9" cy="717.7" r="8.7"/><circle cx="201.1" cy="718.0" r="8.7"/><circle cx="201.4" cy="717.3" r="8.7"/><circle cx="201.6" cy="709.8" r="8.7"/><circle cx="201.8" cy="709.1" r="8.7"/><circle cx="202.0" cy="710.7" r="8.7"/><circle cx="202.2" cy="714.0" r="8.7"/><circle cx="202.4" cy="709.1" r="8.7"/><circle cx="202.7" cy="706.5" r="8.7"/><circle cx="202.8" cy="709.8" r="8.7"/><circle cx="203.1" cy="704.0" r="8.7"/><circle cx="203.2" cy="707.2" r="8.7"/><circle cx="203.5" cy="707.4" r="8.7"/><circle cx="203.6" cy="705.0" r="8.7"/><circle cx="203.9" cy="706.9" r="8.7"/><circle cx="204.1" cy="712.1" r="8.7"/><circle cx="204.3" cy="708.1" r="8.7"/><circle cx="204.4" cy="708.0" r="8.7"/><circle cx="204.8" cy="704.1" r="8.7"/><circle cx="204.8" cy="703.4" r="8.7"/><circle cx="205.0" cy="714.3" r="8.7"/><circle cx="205.3" cy="708.8" r="8.7"/><circle cx="205.4" cy="710.6" r="8.7"/><circle cx="205.6" cy="710.9" r="8.7"/><circle cx="205.9" cy="711.1" r="8.7"/><circle cx="206.1" cy="705.8" r="8.7"/><circle cx="206.3" cy="711.0" r="8.7"/><circle cx="206.5" cy="710.5" r="8.7"/><circle cx="206.7" cy="708.4" r="8.7"/><circle cx="206.8" cy="710.9" r="8.7"/><circle cx="207.1" cy="709.7" r="8.7"/><circle cx="207.2" cy="717.2" r="8.7"/><circle cx="207.5" cy="707.3" r="8.7"/><circle cx="207.6" cy="703.0" r="8.7"/><circle cx="207.7" cy="707.8" r="8.7"/><circle cx="208.1" cy="700.4" r="8.7"/><circle cx="208.2" cy="715.5" r="8.7"/><circle cx="208.4" cy="699.0" r="8.7"/><circle cx="208.6" cy="707.5" r="8.7"/><circle cx="208.8" cy="707.3" r="8.7"/><circle cx="209.0" cy="714.8" r="8.7"/><circle cx="209.2" cy="705.4" r="8.7"/><circle cx="209.3" cy="706.2" r="8.7"/><circle cx="209.6" cy="709.0" r="8.7"/><circle cx="209.8" cy="703.7" r="8.7"/><circle cx="210.0" cy="702.4" r="8.7"/><circle cx="210.2" cy="700.3" r="8.7"/><circle cx="210.3" cy="710.7" r="8.7"/><circle cx="210.6" cy="701.9" r="8.7"/><circle cx="210.6" cy="706.0" r="8.7"/><circle cx="210.9" cy="707.5" r="8.7"/><circle cx="211.0" cy="697.9" r="8.7"/><circle cx="211.2" cy="706.1" r="8.7"/><circle cx="211.4" cy="707.3" r="8.7"/><circle cx="211.6" cy="705.5" r="8.7"/><circle cx="211.8" cy="708.0" r="8.7"/><circle cx="212.0" cy="712.1" r="8.7"/><circle cx="212.1" cy="705.8" r="8.7"/><circle cx="212.4" cy="708.8" r="8.7"/><circle cx="212.5" cy="707.2" r="8.7"/><circle cx="212.7" cy="704.9" r="8.7"/><circle cx="212.9" cy="704.6" r="8.7"/><circle cx="213.0" cy="703.8" r="8.7"/><circle cx="213.3" cy="702.9" r="8.7"/><circle cx="213.5" cy="704.9" r="8.7"/><circle cx="213.6" cy="703.8" r="8.7"/><circle cx="213.7" cy="707.3" r="8.7"/><circle cx="213.9" cy="702.6" r="8.7"/><circle cx="214.2" cy="701.5" r="8.7"/><circle cx="214.4" cy="696.5" r="8.7"/><circle cx="214.4" cy="704.1" r="8.7"/><circle cx="214.8" cy="693.0" r="8.7"/><circle cx="214.9" cy="712.6" r="8.7"/><circle cx="215.0" cy="699.5" r="8.7"/><circle cx="215.2" cy="697.1" r="8.7"/><circle cx="215.4" cy="706.1" r="8.7"/><circle cx="215.6" cy="698.8" r="8.7"/><circle cx="215.8" cy="699.3" r="8.7"/><circle cx="215.9" cy="708.6" r="8.7"/><circle cx="216.1" cy="710.1" r="8.7"/><circle cx="216.4" cy="710.6" r="8.7"/><circle cx="216.5" cy="704.7" r="8.7"/><circle cx="216.6" cy="698.0" r="8.7"/><circle cx="216.8" cy="704.8" r="8.7"/><circle cx="217.0" cy="703.7" r="8.7"/><circle cx="217.3" cy="703.0" r="8.7"/><circle cx="217.3" cy="702.5" r="8.7"/><circle cx="217.5" cy="704.1" r="8.7"/><circle cx="217.7" cy="710.9" r="8.7"/><circle cx="217.9" cy="698.7" r="8.7"/><circle cx="218.0" cy="715.3" r="8.7"/><circle cx="218.1" cy="699.4" r="8.7"/><circle cx="218.3" cy="706.7" r="8.7"/><circle cx="218.5" cy="697.4" r="8.7"/><circle cx="218.8" cy="706.2" r="8.7"/><circle cx="218.9" cy="705.5" r="8.7"/><circle cx="219.0" cy="704.1" r="8.7"/><circle cx="219.2" cy="705.1" r="8.7"/><circle cx="219.4" cy="708.2" r="8.7"/><circle cx="219.6" cy="700.3" r="8.7"/><circle cx="219.8" cy="706.0" r="8.7"/><circle cx="219.9" cy="698.3" r="8.7"/><circle cx="220.2" cy="696.0" r="8.7"/><circle cx="220.3" cy="706.3" r="8.7"/><circle cx="220.4" cy="701.7" r="8.7"/><circle cx="220.6" cy="696.9" r="8.7"/><circle cx="220.7" cy="707.1" r="8.7"/><circle cx="220.9" cy="697.8" r="8.7"/><circle cx="221.1" cy="697.4" r="8.7"/><circle cx="221.2" cy="707.2" r="8.7"/><circle cx="221.5" cy="706.5" r="8.7"/><circle cx="221.7" cy="692.1" r="8.7"/><circle cx="221.8" cy="707.8" r="8.7"/><circle cx="221.9" cy="712.9" r="8.7"/><circle cx="222.0" cy="709.6" r="8.7"/><circle cx="222.3" cy="701.2" r="8.7"/><circle cx="222.5" cy="700.0" r="8.7"/><circle cx="222.7" cy="700.1" r="8.7"/><circle cx="222.8" cy="700.9" r="8.7"/><circle cx="223.0" cy="707.5" r="8.7"/><circle cx="223.1" cy="699.6" r="8.7"/><circle cx="223.2" cy="697.6" r="8.7"/><circle cx="223.4" cy="705.1" r="8.7"/><circle cx="223.6" cy="698.3" r="8.7"/><circle cx="223.7" cy="703.7" r="8.7"/><circle cx="223.9" cy="701.3" r="8.7"/><circle cx="224.1" cy="709.1" r="8.7"/><circle cx="224.2" cy="708.1" r="8.7"/><circle cx="224.5" cy="695.8" r="8.7"/><circle cx="224.5" cy="704.9" r="8.7"/><circle cx="224.7" cy="702.2" r="8.7"/><circle cx="224.8" cy="703.7" r="8.7"/><circle cx="225.1" cy="699.7" r="8.7"/><circle cx="225.2" cy="690.6" r="8.7"/><circle cx="225.3" cy="701.4" r="8.7"/><circle cx="225.5" cy="695.5" r="8.7"/><circle cx="225.7" cy="700.2" r="8.7"/><circle cx="225.8" cy="703.0" r="8.7"/><circle cx="225.9" cy="713.3" r="8.7"/><circle cx="226.1" cy="702.4" r="8.7"/><circle cx="226.3" cy="702.3" r="8.7"/><circle cx="226.5" cy="704.7" r="8.7"/><circle cx="226.6" cy="704.6" r="8.7"/><circle cx="226.9" cy="706.5" r="8.7"/><circle cx="227.0" cy="696.4" r="8.7"/><circle cx="227.2" cy="692.8" r="8.7"/><circle cx="227.3" cy="695.9" r="8.7"/><circle cx="227.4" cy="703.6" r="8.7"/><circle cx="227.6" cy="699.5" r="8.7"/><circle cx="227.7" cy="706.3" r="8.7"/><circle cx="227.9" cy="699.9" r="8.7"/><circle cx="228.0" cy="698.9" r="8.7"/><circle cx="228.3" cy="702.9" r="8.7"/><circle cx="228.3" cy="713.4" r="8.7"/><circle cx="228.5" cy="691.0" r="8.7"/><circle cx="228.7" cy="702.8" r="8.7"/><circle cx="228.9" cy="694.4" r="8.7"/><circle cx="229.0" cy="699.0" r="8.7"/><circle cx="229.1" cy="696.5" r="8.7"/><circle cx="229.3" cy="695.4" r="8.7"/><circle cx="229.4" cy="699.2" r="8.7"/><circle cx="229.5" cy="701.3" r="8.7"/><circle cx="229.8" cy="690.3" r="8.7"/><circle cx="229.9" cy="701.1" r="8.7"/><circle cx="230.1" cy="685.1" r="8.7"/><circle cx="230.2" cy="700.0" r="8.7"/><circle cx="230.4" cy="696.9" r="8.7"/><circle cx="230.5" cy="699.6" r="8.7"/><circle cx="230.6" cy="696.8" r="8.7"/><circle cx="230.8" cy="705.6" r="8.7"/><circle cx="230.9" cy="699.7" r="8.7"/><circle cx="231.1" cy="693.3" r="8.7"/><circle cx="231.2" cy="703.6" r="8.7"/><circle cx="231.4" cy="701.9" r="8.7"/><circle cx="231.6" cy="693.1" r="8.7"/><circle cx="231.8" cy="697.2" r="8.7"/><circle cx="232.0" cy="694.2" r="8.7"/><circle cx="232.0" cy="708.5" r="8.7"/><circle cx="232.2" cy="698.1" r="8.7"/><circle cx="232.4" cy="704.2" r="8.7"/><circle cx="232.4" cy="704.7" r="8.7"/><circle cx="232.6" cy="701.9" r="8.7"/><circle cx="232.8" cy="693.3" r="8.7"/><circle cx="232.9" cy="705.0" r="8.7"/><circle cx="233.0" cy="703.2" r="8.7"/><circle cx="233.3" cy="700.9" r="8.7"/><circle cx="233.4" cy="698.8" r="8.7"/><circle cx="233.6" cy="704.0" r="8.7"/><circle cx="233.8" cy="688.2" r="8.7"/><circle cx="233.8" cy="695.5" r="8.7"/><circle cx="234.0" cy="699.6" r="8.7"/><circle cx="234.1" cy="700.3" r="8.7"/><circle cx="234.3" cy="694.0" r="8.7"/><circle cx="234.5" cy="688.0" r="8.7"/><circle cx="234.6" cy="693.5" r="8.7"/><circle cx="234.8" cy="696.2" r="8.7"/><circle cx="234.9" cy="692.1" r="8.7"/><circle cx="235.1" cy="702.9" r="8.7"/><circle cx="235.1" cy="700.2" r="8.7"/><circle cx="235.3" cy="691.6" r="8.7"/><circle cx="235.4" cy="700.6" r="8.7"/><circle cx="235.6" cy="699.3" r="8.7"/><circle cx="235.8" cy="703.3" r="8.7"/><circle cx="235.9" cy="700.7" r="8.7"/><circle cx="236.1" cy="694.2" r="8.7"/><circle cx="236.2" cy="700.9" r="8.7"/><circle cx="236.3" cy="703.0" r="8.7"/><circle cx="236.5" cy="699.9" r="8.7"/><circle cx="236.6" cy="689.1" r="8.7"/><circle cx="236.8" cy="696.2" r="8.7"/><circle cx="237.0" cy="699.4" r="8.7"/><circle cx="237.1" cy="696.2" r="8.7"/><circle cx="237.2" cy="694.8" r="8.7"/><circle cx="237.3" cy="696.2" r="8.7"/><circle cx="237.6" cy="704.8" r="8.7"/><circle cx="237.6" cy="695.3" r="8.7"/><circle cx="237.7" cy="697.6" r="8.7"/><circle cx="237.9" cy="692.8" r="8.7"/><circle cx="238.0" cy="702.6" r="8.7"/><circle cx="238.3" cy="691.7" r="8.7"/><circle cx="238.3" cy="692.2" r="8.7"/><circle cx="238.6" cy="704.1" r="8.7"/><circle cx="238.6" cy="690.3" r="8.7"/><circle cx="238.8" cy="698.6" r="8.7"/><circle cx="239.0" cy="694.5" r="8.7"/><circle cx="239.1" cy="696.9" r="8.7"/><circle cx="239.2" cy="691.1" r="8.7"/><circle cx="239.3" cy="691.0" r="8.7"/><circle cx="239.5" cy="689.3" r="8.7"/><circle cx="239.6" cy="692.7" r="8.7"/><circle cx="239.8" cy="703.3" r="8.7"/><circle cx="240.0" cy="703.5" r="8.7"/><circle cx="240.1" cy="711.1" r="8.7"/><circle cx="240.2" cy="700.1" r="8.7"/><circle cx="240.4" cy="693.5" r="8.7"/><circle cx="240.6" cy="694.9" r="8.7"/><circle cx="240.6" cy="702.1" r="8.7"/><circle cx="240.8" cy="700.3" r="8.7"/><circle cx="241.0" cy="697.2" r="8.7"/><circle cx="241.1" cy="699.5" r="8.7"/><circle cx="241.2" cy="691.6" r="8.7"/><circle cx="241.3" cy="692.2" r="8.7"/><circle cx="241.5" cy="687.4" r="8.7"/><circle cx="241.7" cy="686.7" r="8.7"/><circle cx="241.8" cy="697.8" r="8.7"/><circle cx="242.0" cy="687.9" r="8.7"/><circle cx="242.1" cy="690.9" r="8.7"/><circle cx="242.2" cy="694.0" r="8.7"/><circle cx="242.3" cy="705.9" r="8.7"/><circle cx="242.5" cy="699.6" r="8.7"/><circle cx="242.6" cy="694.2" r="8.7"/><circle cx="242.8" cy="697.6" r="8.7"/><circle cx="242.9" cy="696.4" r="8.7"/><circle cx="243.0" cy="694.4" r="8.7"/><circle cx="243.1" cy="693.4" r="8.7"/><circle cx="243.3" cy="699.8" r="8.7"/><circle cx="243.4" cy="699.5" r="8.7"/><circle cx="243.6" cy="697.7" r="8.7"/><circle cx="243.8" cy="697.4" r="8.7"/><circle cx="243.9" cy="695.6" r="8.7"/><circle cx="244.0" cy="692.7" r="8.7"/><circle cx="244.1" cy="693.3" r="8.7"/><circle cx="244.3" cy="684.5" r="8.7"/><circle cx="244.4" cy="700.7" r="8.7"/><circle cx="244.6" cy="693.2" r="8.7"/><circle cx="244.6" cy="693.1" r="8.7"/><circle cx="244.8" cy="686.7" r="8.7"/><circle cx="245.0" cy="695.1" r="8.7"/><circle cx="245.1" cy="692.5" r="8.7"/><circle cx="245.3" cy="697.8" r="8.7"/><circle cx="245.3" cy="687.6" r="8.7"/><circle cx="245.5" cy="693.4" r="8.7"/><circle cx="245.7" cy="696.8" r="8.7"/><circle cx="245.7" cy="695.9" r="8.7"/><circle cx="246.0" cy="693.9" r="8.7"/><circle cx="246.0" cy="700.9" r="8.7"/><circle cx="246.2" cy="699.1" r="8.7"/><circle cx="246.3" cy="678.2" r="8.7"/><circle cx="246.5" cy="695.1" r="8.7"/><circle cx="246.6" cy="684.5" r="8.7"/><circle cx="246.7" cy="686.5" r="8.7"/><circle cx="246.9" cy="695.3" r="8.7"/><circle cx="247.0" cy="696.4" r="8.7"/><circle cx="247.1" cy="681.6" r="8.7"/><circle cx="247.3" cy="694.9" r="8.7"/><circle cx="247.4" cy="690.5" r="8.7"/><circle cx="247.6" cy="695.2" r="8.7"/><circle cx="247.7" cy="693.8" r="8.7"/><circle cx="247.8" cy="689.2" r="8.7"/><circle cx="247.9" cy="690.1" r="8.7"/><circle cx="248.0" cy="697.0" r="8.7"/><circle cx="248.3" cy="687.0" r="8.7"/><circle cx="248.3" cy="691.4" r="8.7"/><circle cx="248.5" cy="697.4" r="8.7"/><circle cx="248.6" cy="688.0" r="8.7"/><circle cx="248.8" cy="693.6" r="8.7"/><circle cx="248.8" cy="689.0" r="8.7"/><circle cx="249.0" cy="695.3" r="8.7"/><circle cx="249.2" cy="684.0" r="8.7"/><circle cx="249.3" cy="700.4" r="8.7"/><circle cx="249.4" cy="690.7" r="8.7"/><circle cx="249.5" cy="699.8" r="8.7"/><circle cx="249.6" cy="691.6" r="8.7"/><circle cx="249.8" cy="704.7" r="8.7"/><circle cx="249.9" cy="692.7" r="8.7"/><circle cx="250.0" cy="688.8" r="8.7"/><circle cx="250.2" cy="679.4" r="8.7"/><circle cx="250.3" cy="689.3" r="8.7"/><circle cx="250.5" cy="697.4" r="8.7"/><circle cx="250.5" cy="687.8" r="8.7"/><circle cx="250.7" cy="684.2" r="8.7"/><circle cx="250.9" cy="697.8" r="8.7"/><circle cx="251.0" cy="685.9" r="8.7"/><circle cx="251.2" cy="694.7" r="8.7"/><circle cx="251.2" cy="692.0" r="8.7"/><circle cx="251.3" cy="690.9" r="8.7"/><circle cx="251.4" cy="682.8" r="8.7"/><circle cx="251.6" cy="685.9" r="8.7"/><circle cx="251.7" cy="693.0" r="8.7"/><circle cx="251.8" cy="696.7" r="8.7"/><circle cx="251.9" cy="691.2" r="8.7"/><circle cx="252.2" cy="685.8" r="8.7"/><circle cx="252.2" cy="686.0" r="8.7"/><circle cx="252.4" cy="671.3" r="8.7"/><circle cx="252.5" cy="693.0" r="8.7"/><circle cx="252.7" cy="685.6" r="8.7"/><circle cx="252.8" cy="687.4" r="8.7"/><circle cx="252.9" cy="668.1" r="8.7"/><circle cx="253.0" cy="699.2" r="8.7"/><circle cx="253.1" cy="693.9" r="8.7"/><circle cx="253.3" cy="686.6" r="8.7"/><circle cx="253.4" cy="680.6" r="8.7"/><circle cx="253.5" cy="682.4" r="8.7"/><circle cx="253.7" cy="689.7" r="8.7"/><circle cx="253.8" cy="690.0" r="8.7"/><circle cx="253.9" cy="696.9" r="8.7"/><circle cx="254.0" cy="695.3" r="8.7"/><circle cx="254.2" cy="691.4" r="8.7"/><circle cx="254.3" cy="694.1" r="8.7"/><circle cx="254.4" cy="702.4" r="8.7"/><circle cx="254.5" cy="699.6" r="8.7"/><circle cx="254.7" cy="687.0" r="8.7"/><circle cx="254.8" cy="692.8" r="8.7"/><circle cx="255.0" cy="691.2" r="8.7"/><circle cx="255.1" cy="687.4" r="8.7"/><circle cx="255.2" cy="693.4" r="8.7"/><circle cx="255.4" cy="686.5" r="8.7"/><circle cx="255.4" cy="689.9" r="8.7"/><circle cx="255.6" cy="692.9" r="8.7"/><circle cx="255.7" cy="682.6" r="8.7"/><circle cx="255.9" cy="690.4" r="8.7"/><circle cx="255.9" cy="691.9" r="8.7"/><circle cx="256.1" cy="684.3" r="8.7"/><circle cx="256.2" cy="698.7" r="8.7"/><circle cx="256.3" cy="687.2" r="8.7"/><circle cx="256.5" cy="695.4" r="8.7"/><circle cx="256.6" cy="678.6" r="8.7"/><circle cx="256.7" cy="693.2" r="8.7"/><circle cx="256.9" cy="689.0" r="8.7"/><circle cx="257.0" cy="689.1" r="8.7"/><circle cx="257.1" cy="688.1" r="8.7"/><circle cx="257.3" cy="688.4" r="8.7"/><circle cx="257.3" cy="682.4" r="8.7"/><circle cx="257.4" cy="680.9" r="8.7"/><circle cx="257.6" cy="685.8" r="8.7"/><circle cx="257.7" cy="685.4" r="8.7"/><circle cx="257.9" cy="691.1" r="8.7"/><circle cx="258.0" cy="694.8" r="8.7"/><circle cx="258.0" cy="686.1" r="8.7"/><circle cx="258.2" cy="688.9" r="8.7"/><circle cx="258.4" cy="684.6" r="8.7"/><circle cx="258.5" cy="698.2" r="8.7"/><circle cx="258.7" cy="675.2" r="8.7"/><circle cx="258.7" cy="695.3" r="8.7"/><circle cx="258.9" cy="688.6" r="8.7"/><circle cx="258.9" cy="683.7" r="8.7"/><circle cx="259.1" cy="695.7" r="8.7"/><circle cx="259.2" cy="691.4" r="8.7"/><circle cx="259.4" cy="698.9" r="8.7"/><circle cx="259.4" cy="695.8" r="8.7"/><circle cx="259.6" cy="698.4" r="8.7"/><circle cx="259.7" cy="687.8" r="8.7"/><circle cx="259.9" cy="686.8" r="8.7"/><circle cx="260.0" cy="689.9" r="8.7"/><circle cx="260.1" cy="681.7" r="8.7"/><circle cx="260.1" cy="684.0" r="8.7"/><circle cx="260.3" cy="688.1" r="8.7"/><circle cx="260.4" cy="689.2" r="8.7"/><circle cx="260.6" cy="689.4" r="8.7"/><circle cx="260.7" cy="690.2" r="8.7"/><circle cx="260.8" cy="686.7" r="8.7"/><circle cx="260.9" cy="686.6" r="8.7"/><circle cx="261.0" cy="668.2" r="8.7"/><circle cx="261.2" cy="674.9" r="8.7"/><circle cx="261.3" cy="684.8" r="8.7"/><circle cx="261.4" cy="689.6" r="8.7"/><circle cx="261.5" cy="676.6" r="8.7"/><circle cx="261.7" cy="687.6" r="8.7"/><circle cx="261.8" cy="680.3" r="8.7"/><circle cx="261.9" cy="681.3" r="8.7"/><circle cx="262.0" cy="694.7" r="8.7"/><circle cx="262.2" cy="688.0" r="8.7"/><circle cx="262.2" cy="699.8" r="8.7"/><circle cx="262.4" cy="689.5" r="8.7"/><circle cx="262.6" cy="682.8" r="8.7"/><circle cx="262.6" cy="685.2" r="8.7"/><circle cx="262.8" cy="683.8" r="8.7"/><circle cx="262.8" cy="687.2" r="8.7"/><circle cx="263.0" cy="691.5" r="8.7"/><circle cx="263.1" cy="684.0" r="8.7"/><circle cx="263.2" cy="694.5" r="8.7"/><circle cx="263.4" cy="684.7" r="8.7"/><circle cx="263.5" cy="692.0" r="8.7"/><circle cx="263.6" cy="677.6" r="8.7"/><circle cx="263.7" cy="684.9" r="8.7"/><circle cx="263.9" cy="684.4" r="8.7"/><circle cx="264.0" cy="685.4" r="8.7"/><circle cx="264.1" cy="689.1" r="8.7"/><circle cx="264.1" cy="674.5" r="8.7"/><circle cx="264.3" cy="681.7" r="8.7"/><circle cx="264.4" cy="688.1" r="8.7"/><circle cx="264.5" cy="677.7" r="8.7"/><circle cx="264.7" cy="685.0" r="8.7"/><circle cx="264.7" cy="685.5" r="8.7"/><circle cx="264.8" cy="687.1" r="8.7"/><circle cx="265.0" cy="709.1" r="8.7"/><circle cx="265.1" cy="685.6" r="8.7"/><circle cx="265.3" cy="682.8" r="8.7"/><circle cx="265.4" cy="673.2" r="8.7"/><circle cx="265.5" cy="691.8" r="8.7"/><circle cx="265.7" cy="692.1" r="8.7"/><circle cx="265.7" cy="683.9" r="8.7"/><circle cx="265.9" cy="690.3" r="8.7"/><circle cx="266.0" cy="688.8" r="8.7"/><circle cx="266.0" cy="687.9" r="8.7"/><circle cx="266.1" cy="698.3" r="8.7"/><circle cx="266.3" cy="681.8" r="8.7"/><circle cx="266.4" cy="682.9" r="8.7"/><circle cx="266.6" cy="667.1" r="8.7"/><circle cx="266.7" cy="673.4" r="8.7"/><circle cx="266.7" cy="671.9" r="8.7"/><circle cx="266.9" cy="672.5" r="8.7"/><circle cx="267.0" cy="684.0" r="8.7"/><circle cx="267.1" cy="680.4" r="8.7"/><circle cx="267.2" cy="692.6" r="8.7"/><circle cx="267.4" cy="682.9" r="8.7"/><circle cx="267.5" cy="686.4" r="8.7"/><circle cx="267.6" cy="685.5" r="8.7"/><circle cx="267.7" cy="676.5" r="8.7"/><circle cx="267.8" cy="665.6" r="8.7"/><circle cx="268.0" cy="682.0" r="8.7"/><circle cx="268.1" cy="699.0" r="8.7"/><circle cx="268.1" cy="681.9" r="8.7"/><circle cx="268.3" cy="688.0" r="8.7"/><circle cx="268.4" cy="682.6" r="8.7"/><circle cx="268.5" cy="698.0" r="8.7"/><circle cx="268.6" cy="679.0" r="8.7"/><circle cx="268.7" cy="684.3" r="8.7"/><circle cx="268.9" cy="686.4" r="8.7"/><circle cx="269.0" cy="677.6" r="8.7"/><circle cx="269.1" cy="686.2" r="8.7"/><circle cx="269.3" cy="678.6" r="8.7"/><circle cx="269.3" cy="686.2" r="8.7"/><circle cx="269.4" cy="680.8" r="8.7"/><circle cx="269.5" cy="686.0" r="8.7"/><circle cx="269.7" cy="682.0" r="8.7"/><circle cx="269.8" cy="662.1" r="8.7"/><circle cx="269.9" cy="687.1" r="8.7"/><circle cx="270.1" cy="686.8" r="8.7"/><circle cx="270.2" cy="685.2" r="8.7"/><circle cx="270.3" cy="681.7" r="8.7"/><circle cx="270.3" cy="668.2" r="8.7"/><circle cx="270.5" cy="686.4" r="8.7"/><circle cx="270.6" cy="694.4" r="8.7"/><circle cx="270.7" cy="686.7" r="8.7"/><circle cx="270.9" cy="691.8" r="8.7"/><circle cx="270.9" cy="668.1" r="8.7"/><circle cx="271.1" cy="682.9" r="8.7"/><circle cx="271.2" cy="688.2" r="8.7"/><circle cx="271.3" cy="686.6" r="8.7"/><circle cx="271.4" cy="693.1" r="8.7"/><circle cx="271.6" cy="681.7" r="8.7"/><circle cx="271.6" cy="686.8" r="8.7"/><circle cx="271.8" cy="676.6" r="8.7"/><circle cx="271.9" cy="676.7" r="8.7"/><circle cx="272.0" cy="687.3" r="8.7"/><circle cx="272.2" cy="684.5" r="8.7"/><circle cx="272.3" cy="673.7" r="8.7"/><circle cx="272.4" cy="678.1" r="8.7"/><circle cx="272.5" cy="691.6" r="8.7"/><circle cx="272.6" cy="678.1" r="8.7"/><circle cx="272.7" cy="689.5" r="8.7"/><circle cx="272.8" cy="682.6" r="8.7"/><circle cx="272.9" cy="680.8" r="8.7"/><circle cx="273.1" cy="682.0" r="8.7"/><circle cx="273.1" cy="688.6" r="8.7"/><circle cx="273.2" cy="676.6" r="8.7"/><circle cx="273.5" cy="678.3" r="8.7"/><circle cx="273.6" cy="680.8" r="8.7"/><circle cx="273.7" cy="677.6" r="8.7"/><circle cx="273.7" cy="677.2" r="8.7"/><circle cx="273.9" cy="693.2" r="8.7"/><circle cx="274.0" cy="678.8" r="8.7"/><circle cx="274.1" cy="684.8" r="8.7"/><circle cx="274.3" cy="680.5" r="8.7"/><circle cx="274.4" cy="685.4" r="8.7"/><circle cx="274.5" cy="686.2" r="8.7"/><circle cx="274.5" cy="675.9" r="8.7"/><circle cx="274.7" cy="681.2" r="8.7"/><circle cx="274.8" cy="682.8" r="8.7"/><circle cx="274.9" cy="682.7" r="8.7"/><circle cx="275.0" cy="680.6" r="8.7"/><circle cx="275.1" cy="681.0" r="8.7"/><circle cx="275.3" cy="694.3" r="8.7"/><circle cx="275.4" cy="687.9" r="8.7"/><circle cx="275.5" cy="682.1" r="8.7"/><circle cx="275.6" cy="676.5" r="8.7"/><circle cx="275.7" cy="681.5" r="8.7"/><circle cx="275.8" cy="685.9" r="8.7"/><circle cx="275.9" cy="669.5" r="8.7"/><circle cx="276.0" cy="679.9" r="8.7"/><circle cx="276.2" cy="677.6" r="8.7"/><circle cx="276.3" cy="683.4" r="8.7"/><circle cx="276.4" cy="683.7" r="8.7"/><circle cx="276.6" cy="672.0" r="8.7"/><circle cx="276.7" cy="681.4" r="8.7"/><circle cx="276.7" cy="680.7" r="8.7"/><circle cx="276.8" cy="673.4" r="8.7"/><circle cx="277.0" cy="670.1" r="8.7"/><circle cx="277.1" cy="688.5" r="8.7"/><circle cx="277.3" cy="680.9" r="8.7"/><circle cx="277.3" cy="679.9" r="8.7"/><circle cx="277.5" cy="669.3" r="8.7"/><circle cx="277.6" cy="665.4" r="8.7"/><circle cx="277.6" cy="679.9" r="8.7"/><circle cx="277.8" cy="677.4" r="8.7"/><circle cx="277.9" cy="674.5" r="8.7"/><circle cx="278.0" cy="672.8" r="8.7"/><circle cx="278.1" cy="681.2" r="8.7"/><circle cx="278.2" cy="674.3" r="8.7"/><circle cx="278.4" cy="683.3" r="8.7"/><circle cx="278.4" cy="694.7" r="8.7"/><circle cx="278.6" cy="671.9" r="8.7"/><circle cx="278.7" cy="691.3" r="8.7"/><circle cx="278.9" cy="674.4" r="8.7"/><circle cx="278.9" cy="692.1" r="8.7"/><circle cx="279.0" cy="679.7" r="8.7"/><circle cx="279.1" cy="679.0" r="8.7"/><circle cx="279.3" cy="698.4" r="8.7"/><circle cx="279.4" cy="675.4" r="8.7"/><circle cx="279.5" cy="660.7" r="8.7"/><circle cx="279.7" cy="695.9" r="8.7"/><circle cx="279.7" cy="674.0" r="8.7"/><circle cx="279.9" cy="679.5" r="8.7"/><circle cx="279.9" cy="670.1" r="8.7"/><circle cx="280.1" cy="676.6" r="8.7"/><circle cx="280.2" cy="679.6" r="8.7"/><circle cx="280.3" cy="663.0" r="8.7"/><circle cx="280.5" cy="673.7" r="8.7"/><circle cx="280.5" cy="676.9" r="8.7"/><circle cx="280.6" cy="677.7" r="8.7"/><circle cx="280.7" cy="686.4" r="8.7"/><circle cx="280.9" cy="663.8" r="8.7"/><circle cx="281.0" cy="693.5" r="8.7"/><circle cx="281.1" cy="666.9" r="8.7"/><circle cx="281.2" cy="677.7" r="8.7"/><circle cx="281.3" cy="678.1" r="8.7"/><circle cx="281.5" cy="681.2" r="8.7"/><circle cx="281.5" cy="673.2" r="8.7"/><circle cx="281.7" cy="678.6" r="8.7"/><circle cx="281.8" cy="671.1" r="8.7"/><circle cx="281.9" cy="667.8" r="8.7"/><circle cx="282.0" cy="666.7" r="8.7"/><circle cx="282.1" cy="679.9" r="8.7"/><circle cx="282.2" cy="683.2" r="8.7"/><circle cx="282.4" cy="670.4" r="8.7"/><circle cx="282.4" cy="682.0" r="8.7"/><circle cx="282.5" cy="660.2" r="8.7"/><circle cx="282.7" cy="677.7" r="8.7"/><circle cx="282.8" cy="671.1" r="8.7"/><circle cx="282.9" cy="684.5" r="8.7"/><circle cx="283.1" cy="676.9" r="8.7"/><circle cx="283.1" cy="670.1" r="8.7"/><circle cx="283.2" cy="674.0" r="8.7"/><circle cx="283.4" cy="679.8" r="8.7"/><circle cx="283.5" cy="661.8" r="8.7"/><circle cx="283.6" cy="667.6" r="8.7"/><circle cx="283.7" cy="677.8" r="8.7"/><circle cx="283.8" cy="673.7" r="8.7"/><circle cx="283.9" cy="677.9" r="8.7"/><circle cx="284.0" cy="648.8" r="8.7"/><circle cx="284.1" cy="680.8" r="8.7"/><circle cx="284.2" cy="664.5" r="8.7"/><circle cx="284.3" cy="681.0" r="8.7"/><circle cx="284.5" cy="668.5" r="8.7"/><circle cx="284.6" cy="676.9" r="8.7"/><circle cx="284.7" cy="670.7" r="8.7"/><circle cx="284.8" cy="672.4" r="8.7"/><circle cx="285.0" cy="679.3" r="8.7"/><circle cx="285.0" cy="671.5" r="8.7"/><circle cx="285.2" cy="670.0" r="8.7"/><circle cx="285.2" cy="682.6" r="8.7"/><circle cx="285.4" cy="671.3" r="8.7"/><circle cx="285.5" cy="654.0" r="8.7"/><circle cx="285.6" cy="677.3" r="8.7"/><circle cx="285.7" cy="671.6" r="8.7"/><circle cx="285.8" cy="683.5" r="8.7"/><circle cx="286.0" cy="672.5" r="8.7"/><circle cx="286.0" cy="678.9" r="8.7"/><circle cx="286.2" cy="670.5" r="8.7"/><circle cx="286.3" cy="675.5" r="8.7"/><circle cx="286.4" cy="682.3" r="8.7"/><circle cx="286.5" cy="668.3" r="8.7"/><circle cx="286.6" cy="676.3" r="8.7"/><circle cx="286.7" cy="681.0" r="8.7"/><circle cx="286.9" cy="669.4" r="8.7"/><circle cx="287.0" cy="659.2" r="8.7"/><circle cx="287.0" cy="672.4" r="8.7"/><circle cx="287.2" cy="675.1" r="8.7"/><circle cx="287.3" cy="677.0" r="8.7"/><circle cx="287.4" cy="670.5" r="8.7"/><circle cx="287.5" cy="682.5" r="8.7"/><circle cx="287.7" cy="658.9" r="8.7"/><circle cx="287.7" cy="681.7" r="8.7"/><circle cx="287.9" cy="664.5" r="8.7"/><circle cx="288.0" cy="673.2" r="8.7"/><circle cx="288.1" cy="675.9" r="8.7"/><circle cx="288.2" cy="675.6" r="8.7"/><circle cx="288.4" cy="668.2" r="8.7"/><circle cx="288.4" cy="675.2" r="8.7"/><circle cx="288.6" cy="675.2" r="8.7"/><circle cx="288.7" cy="667.6" r="8.7"/><circle cx="288.8" cy="676.7" r="8.7"/><circle cx="288.9" cy="674.0" r="8.7"/><circle cx="289.0" cy="671.2" r="8.7"/><circle cx="289.1" cy="672.8" r="8.7"/><circle cx="289.2" cy="674.7" r="8.7"/><circle cx="289.3" cy="672.8" r="8.7"/><circle cx="289.4" cy="673.4" r="8.7"/><circle cx="289.5" cy="669.0" r="8.7"/><circle cx="289.6" cy="664.3" r="8.7"/><circle cx="289.8" cy="679.4" r="8.7"/><circle cx="289.9" cy="674.3" r="8.7"/><circle cx="289.9" cy="673.7" r="8.7"/><circle cx="290.1" cy="669.7" r="8.7"/><circle cx="290.2" cy="663.9" r="8.7"/><circle cx="290.3" cy="673.4" r="8.7"/><circle cx="290.4" cy="667.7" r="8.7"/><circle cx="290.5" cy="666.1" r="8.7"/><circle cx="290.7" cy="681.0" r="8.7"/><circle cx="290.8" cy="677.9" r="8.7"/><circle cx="290.8" cy="675.9" r="8.7"/><circle cx="291.0" cy="673.0" r="8.7"/><circle cx="291.1" cy="671.5" r="8.7"/><circle cx="291.2" cy="676.1" r="8.7"/><circle cx="291.3" cy="661.8" r="8.7"/><circle cx="291.4" cy="677.2" r="8.7"/><circle cx="291.5" cy="674.0" r="8.7"/><circle cx="291.6" cy="665.8" r="8.7"/><circle cx="291.8" cy="667.7" r="8.7"/><circle cx="291.9" cy="672.7" r="8.7"/><circle cx="292.0" cy="670.1" r="8.7"/><circle cx="292.1" cy="667.3" r="8.7"/><circle cx="292.2" cy="672.5" r="8.7"/><circle cx="292.3" cy="668.3" r="8.7"/><circle cx="292.4" cy="667.6" r="8.7"/><circle cx="292.5" cy="671.8" r="8.7"/><circle cx="292.7" cy="682.7" r="8.7"/><circle cx="292.8" cy="677.9" r="8.7"/><circle cx="292.9" cy="679.5" r="8.7"/><circle cx="293.0" cy="664.1" r="8.7"/><circle cx="293.1" cy="675.0" r="8.7"/><circle cx="293.2" cy="663.2" r="8.7"/><circle cx="293.3" cy="677.9" r="8.7"/><circle cx="293.5" cy="673.2" r="8.7"/><circle cx="293.6" cy="676.5" r="8.7"/><circle cx="293.6" cy="677.4" r="8.7"/><circle cx="293.8" cy="666.3" r="8.7"/><circle cx="293.9" cy="682.4" r="8.7"/><circle cx="293.9" cy="667.7" r="8.7"/><circle cx="294.1" cy="654.5" r="8.7"/><circle cx="294.2" cy="676.9" r="8.7"/><circle cx="294.3" cy="654.5" r="8.7"/><circle cx="294.4" cy="681.6" r="8.7"/><circle cx="294.5" cy="671.7" r="8.7"/><circle cx="294.7" cy="682.7" r="8.7"/><circle cx="294.7" cy="667.4" r="8.7"/><circle cx="294.9" cy="679.3" r="8.7"/><circle cx="295.0" cy="683.3" r="8.7"/><circle cx="295.1" cy="679.8" r="8.7"/><circle cx="295.2" cy="681.6" r="8.7"/><circle cx="295.3" cy="673.1" r="8.7"/><circle cx="295.5" cy="665.7" r="8.7"/><circle cx="295.5" cy="673.8" r="8.7"/><circle cx="295.6" cy="654.2" r="8.7"/><circle cx="295.8" cy="676.6" r="8.7"/><circle cx="295.9" cy="670.4" r="8.7"/><circle cx="296.0" cy="687.0" r="8.7"/><circle cx="296.1" cy="667.3" r="8.7"/><circle cx="296.1" cy="668.4" r="8.7"/><circle cx="296.3" cy="687.1" r="8.7"/><circle cx="296.4" cy="663.3" r="8.7"/><circle cx="296.5" cy="681.7" r="8.7"/><circle cx="296.7" cy="672.3" r="8.7"/><circle cx="296.7" cy="663.2" r="8.7"/><circle cx="296.8" cy="681.6" r="8.7"/><circle cx="296.9" cy="683.0" r="8.7"/><circle cx="297.1" cy="678.2" r="8.7"/><circle cx="297.2" cy="665.0" r="8.7"/><circle cx="297.3" cy="671.6" r="8.7"/><circle cx="297.5" cy="674.1" r="8.7"/><circle cx="297.5" cy="689.1" r="8.7"/><circle cx="297.6" cy="673.8" r="8.7"/><circle cx="297.7" cy="671.8" r="8.7"/><circle cx="297.9" cy="676.2" r="8.7"/><circle cx="298.0" cy="668.3" r="8.7"/><circle cx="298.1" cy="670.4" r="8.7"/><circle cx="298.2" cy="677.1" r="8.7"/><circle cx="298.3" cy="658.2" r="8.7"/><circle cx="298.4" cy="678.7" r="8.7"/><circle cx="298.5" cy="656.9" r="8.7"/><circle cx="298.6" cy="653.6" r="8.7"/><circle cx="298.8" cy="654.5" r="8.7"/><circle cx="298.9" cy="666.6" r="8.7"/><circle cx="299.0" cy="664.2" r="8.7"/><circle cx="299.0" cy="660.5" r="8.7"/><circle cx="299.2" cy="678.2" r="8.7"/><circle cx="299.3" cy="640.3" r="8.7"/><circle cx="299.4" cy="667.0" r="8.7"/><circle cx="299.6" cy="675.1" r="8.7"/><circle cx="299.6" cy="678.7" r="8.7"/><circle cx="299.7" cy="653.9" r="8.7"/><circle cx="299.9" cy="658.4" r="8.7"/><circle cx="300.0" cy="669.5" r="8.7"/><circle cx="300.1" cy="664.6" r="8.7"/><circle cx="300.1" cy="660.5" r="8.7"/><circle cx="300.2" cy="668.6" r="8.7"/><circle cx="300.3" cy="672.0" r="8.7"/><circle cx="300.5" cy="669.3" r="8.7"/><circle cx="300.6" cy="663.3" r="8.7"/><circle cx="300.7" cy="668.8" r="8.7"/><circle cx="300.8" cy="677.7" r="8.7"/><circle cx="301.0" cy="663.7" r="8.7"/><circle cx="301.0" cy="680.4" r="8.7"/><circle cx="301.2" cy="673.7" r="8.7"/><circle cx="301.2" cy="655.1" r="8.7"/><circle cx="301.3" cy="649.7" r="8.7"/><circle cx="301.4" cy="666.9" r="8.7"/><circle cx="301.5" cy="667.7" r="8.7"/><circle cx="301.7" cy="661.4" r="8.7"/><circle cx="301.7" cy="668.7" r="8.7"/><circle cx="301.9" cy="681.5" r="8.7"/><circle cx="302.0" cy="666.5" r="8.7"/><circle cx="302.2" cy="688.9" r="8.7"/><circle cx="302.2" cy="682.0" r="8.7"/><circle cx="302.3" cy="664.3" r="8.7"/><circle cx="302.4" cy="660.9" r="8.7"/><circle cx="302.6" cy="671.1" r="8.7"/><circle cx="302.7" cy="668.3" r="8.7"/><circle cx="302.8" cy="667.2" r="8.7"/><circle cx="302.9" cy="660.9" r="8.7"/><circle cx="303.0" cy="672.9" r="8.7"/><circle cx="303.1" cy="673.6" r="8.7"/><circle cx="303.2" cy="671.8" r="8.7"/><circle cx="303.3" cy="666.6" r="8.7"/><circle cx="303.5" cy="665.6" r="8.7"/><circle cx="303.5" cy="661.5" r="8.7"/><circle cx="303.7" cy="662.1" r="8.7"/><circle cx="303.7" cy="674.3" r="8.7"/><circle cx="303.9" cy="634.8" r="8.7"/><circle cx="303.9" cy="671.9" r="8.7"/><circle cx="304.1" cy="674.0" r="8.7"/><circle cx="304.2" cy="658.6" r="8.7"/><circle cx="304.3" cy="645.5" r="8.7"/><circle cx="304.4" cy="673.8" r="8.7"/><circle cx="304.5" cy="666.6" r="8.7"/><circle cx="304.6" cy="673.7" r="8.7"/><circle cx="304.7" cy="662.6" r="8.7"/><circle cx="304.8" cy="660.8" r="8.7"/><circle cx="304.9" cy="659.5" r="8.7"/><circle cx="305.1" cy="673.8" r="8.7"/><circle cx="305.2" cy="660.2" r="8.7"/><circle cx="305.3" cy="653.6" r="8.7"/><circle cx="305.3" cy="667.8" r="8.7"/><circle cx="305.5" cy="657.5" r="8.7"/><circle cx="305.6" cy="655.7" r="8.7"/><circle cx="305.7" cy="675.7" r="8.7"/><circle cx="305.8" cy="657.7" r="8.7"/><circle cx="306.0" cy="660.8" r="8.7"/><circle cx="306.0" cy="649.2" r="8.7"/><circle cx="306.2" cy="654.1" r="8.7"/><circle cx="306.2" cy="662.7" r="8.7"/><circle cx="306.3" cy="665.2" r="8.7"/><circle cx="306.5" cy="661.5" r="8.7"/><circle cx="306.6" cy="668.0" r="8.7"/><circle cx="306.7" cy="662.1" r="8.7"/><circle cx="306.8" cy="679.6" r="8.7"/><circle cx="306.9" cy="653.4" r="8.7"/><circle cx="307.0" cy="669.1" r="8.7"/><circle cx="307.1" cy="643.2" r="8.7"/><circle cx="307.2" cy="663.1" r="8.7"/><circle cx="307.4" cy="664.5" r="8.7"/><circle cx="307.5" cy="664.4" r="8.7"/><circle cx="307.5" cy="664.7" r="8.7"/><circle cx="307.7" cy="676.5" r="8.7"/><circle cx="307.8" cy="662.5" r="8.7"/><circle cx="307.8" cy="656.6" r="8.7"/><circle cx="308.0" cy="672.0" r="8.7"/><circle cx="308.1" cy="672.2" r="8.7"/><circle cx="308.2" cy="649.9" r="8.7"/><circle cx="308.3" cy="656.2" r="8.7"/><circle cx="308.4" cy="648.9" r="8.7"/><circle cx="308.5" cy="664.7" r="8.7"/><circle cx="308.6" cy="657.6" r="8.7"/><circle cx="308.7" cy="659.1" r="8.7"/><circle cx="308.8" cy="660.4" r="8.7"/><circle cx="309.0" cy="636.4" r="8.7"/><circle cx="309.1" cy="674.6" r="8.7"/><circle cx="309.2" cy="643.6" r="8.7"/><circle cx="309.3" cy="674.8" r="8.7"/><circle cx="309.4" cy="653.0" r="8.7"/><circle cx="309.5" cy="657.8" r="8.7"/><circle cx="309.5" cy="665.4" r="8.7"/><circle cx="309.7" cy="662.0" r="8.7"/><circle cx="309.8" cy="663.9" r="8.7"/><circle cx="309.9" cy="660.2" r="8.7"/><circle cx="310.0" cy="667.4" r="8.7"/><circle cx="310.1" cy="674.6" r="8.7"/><circle cx="310.2" cy="651.3" r="8.7"/><circle cx="310.3" cy="668.8" r="8.7"/><circle cx="310.4" cy="667.1" r="8.7"/><circle cx="310.6" cy="669.2" r="8.7"/><circle cx="310.7" cy="667.5" r="8.7"/><circle cx="310.8" cy="663.3" r="8.7"/><circle cx="310.9" cy="658.2" r="8.7"/><circle cx="311.0" cy="670.9" r="8.7"/><circle cx="311.1" cy="661.3" r="8.7"/><circle cx="311.2" cy="668.1" r="8.7"/><circle cx="311.3" cy="654.7" r="8.7"/><circle cx="311.4" cy="672.0" r="8.7"/><circle cx="311.5" cy="662.5" r="8.7"/><circle cx="311.7" cy="658.0" r="8.7"/><circle cx="311.7" cy="672.7" r="8.7"/><circle cx="311.9" cy="662.2" r="8.7"/><circle cx="312.0" cy="661.9" r="8.7"/><circle cx="312.0" cy="651.9" r="8.7"/><circle cx="312.1" cy="664.4" r="8.7"/><circle cx="312.3" cy="655.7" r="8.7"/><circle cx="312.4" cy="661.0" r="8.7"/><circle cx="312.5" cy="665.6" r="8.7"/><circle cx="312.6" cy="664.1" r="8.7"/><circle cx="312.7" cy="659.4" r="8.7"/><circle cx="312.8" cy="653.5" r="8.7"/><circle cx="312.9" cy="656.8" r="8.7"/><circle cx="313.0" cy="660.6" r="8.7"/><circle cx="313.1" cy="651.2" r="8.7"/><circle cx="313.3" cy="650.4" r="8.7"/><circle cx="313.3" cy="672.5" r="8.7"/><circle cx="313.4" cy="678.5" r="8.7"/><circle cx="313.6" cy="656.2" r="8.7"/><circle cx="313.6" cy="678.5" r="8.7"/><circle cx="313.8" cy="662.4" r="8.7"/><circle cx="313.9" cy="656.6" r="8.7"/><circle cx="314.0" cy="671.9" r="8.7"/><circle cx="314.1" cy="666.6" r="8.7"/><circle cx="314.2" cy="663.7" r="8.7"/><circle cx="314.3" cy="668.5" r="8.7"/><circle cx="314.4" cy="672.6" r="8.7"/><circle cx="314.5" cy="659.4" r="8.7"/><circle cx="314.6" cy="656.6" r="8.7"/><circle cx="314.7" cy="660.5" r="8.7"/><circle cx="314.8" cy="660.4" r="8.7"/><circle cx="314.9" cy="652.5" r="8.7"/><circle cx="315.1" cy="659.8" r="8.7"/><circle cx="315.2" cy="661.5" r="8.7"/><circle cx="315.3" cy="663.7" r="8.7"/><circle cx="315.4" cy="656.6" r="8.7"/><circle cx="315.5" cy="663.2" r="8.7"/><circle cx="315.5" cy="656.4" r="8.7"/><circle cx="315.6" cy="660.4" r="8.7"/><circle cx="315.8" cy="652.8" r="8.7"/><circle cx="315.9" cy="666.7" r="8.7"/><circle cx="316.0" cy="660.4" r="8.7"/><circle cx="316.1" cy="641.5" r="8.7"/><circle cx="316.2" cy="657.8" r="8.7"/><circle cx="316.3" cy="652.6" r="8.7"/><circle cx="316.5" cy="657.8" r="8.7"/><circle cx="316.5" cy="654.1" r="8.7"/><circle cx="316.6" cy="646.4" r="8.7"/><circle cx="316.7" cy="654.4" r="8.7"/><circle cx="316.9" cy="668.1" r="8.7"/><circle cx="316.9" cy="670.7" r="8.7"/><circle cx="317.0" cy="655.5" r="8.7"/><circle cx="317.2" cy="663.0" r="8.7"/><circle cx="317.3" cy="658.1" r="8.7"/><circle cx="317.4" cy="661.4" r="8.7"/><circle cx="317.5" cy="650.6" r="8.7"/><circle cx="317.6" cy="651.3" r="8.7"/><circle cx="317.7" cy="668.2" r="8.7"/><circle cx="317.8" cy="648.3" r="8.7"/><circle cx="317.9" cy="662.1" r="8.7"/><circle cx="318.0" cy="669.3" r="8.7"/><circle cx="318.1" cy="655.0" r="8.7"/><circle cx="318.2" cy="660.7" r="8.7"/><circle cx="318.4" cy="656.4" r="8.7"/><circle cx="318.5" cy="641.5" r="8.7"/><circle cx="318.5" cy="649.9" r="8.7"/><circle cx="318.6" cy="660.5" r="8.7"/><circle cx="318.8" cy="662.4" r="8.7"/><circle cx="318.9" cy="667.9" r="8.7"/><circle cx="319.0" cy="650.2" r="8.7"/><circle cx="319.1" cy="656.4" r="8.7"/><circle cx="319.1" cy="658.8" r="8.7"/><circle cx="319.3" cy="661.8" r="8.7"/><circle cx="319.4" cy="668.7" r="8.7"/><circle cx="319.5" cy="659.4" r="8.7"/><circle cx="319.6" cy="649.8" r="8.7"/><circle cx="319.7" cy="661.0" r="8.7"/><circle cx="319.8" cy="657.3" r="8.7"/><circle cx="319.9" cy="656.7" r="8.7"/><circle cx="320.0" cy="652.2" r="8.7"/><circle cx="320.1" cy="643.0" r="8.7"/><circle cx="320.3" cy="662.9" r="8.7"/><circle cx="320.3" cy="660.1" r="8.7"/><circle cx="320.4" cy="664.3" r="8.7"/><circle cx="320.5" cy="665.9" r="8.7"/><circle cx="320.6" cy="665.3" r="8.7"/><circle cx="320.7" cy="661.3" r="8.7"/><circle cx="320.9" cy="659.2" r="8.7"/><circle cx="320.9" cy="670.3" r="8.7"/><circle cx="321.0" cy="662.3" r="8.7"/><circle cx="321.2" cy="655.6" r="8.7"/><circle cx="321.2" cy="654.6" r="8.7"/><circle cx="321.4" cy="668.2" r="8.7"/><circle cx="321.5" cy="660.7" r="8.7"/><circle cx="321.5" cy="658.2" r="8.7"/><circle cx="321.7" cy="652.3" r="8.7"/><circle cx="321.8" cy="669.9" r="8.7"/><circle cx="321.9" cy="655.6" r="8.7"/><circle cx="322.0" cy="661.2" r="8.7"/><circle cx="322.1" cy="656.2" r="8.7"/><circle cx="322.2" cy="652.6" r="8.7"/><circle cx="322.3" cy="655.0" r="8.7"/><circle cx="322.5" cy="663.6" r="8.7"/><circle cx="322.6" cy="658.4" r="8.7"/><circle cx="322.6" cy="658.7" r="8.7"/><circle cx="322.7" cy="660.6" r="8.7"/><circle cx="322.8" cy="667.9" r="8.7"/><circle cx="323.0" cy="662.5" r="8.7"/><circle cx="323.0" cy="654.4" r="8.7"/><circle cx="323.1" cy="648.6" r="8.7"/><circle cx="323.3" cy="660.9" r="8.7"/><circle cx="323.4" cy="659.5" r="8.7"/><circle cx="323.5" cy="649.9" r="8.7"/><circle cx="323.6" cy="658.0" r="8.7"/><circle cx="323.7" cy="664.0" r="8.7"/><circle cx="323.8" cy="660.2" r="8.7"/><circle cx="323.9" cy="655.3" r="8.7"/><circle cx="324.0" cy="671.5" r="8.7"/><circle cx="324.2" cy="656.6" r="8.7"/><circle cx="324.2" cy="654.7" r="8.7"/><circle cx="324.3" cy="660.7" r="8.7"/><circle cx="324.4" cy="661.9" r="8.7"/><circle cx="324.5" cy="648.7" r="8.7"/><circle cx="324.7" cy="645.6" r="8.7"/><circle cx="324.7" cy="663.5" r="8.7"/><circle cx="324.8" cy="644.4" r="8.7"/><circle cx="325.0" cy="634.6" r="8.7"/><circle cx="325.1" cy="658.4" r="8.7"/><circle cx="325.2" cy="660.8" r="8.7"/><circle cx="325.3" cy="654.4" r="8.7"/><circle cx="325.4" cy="634.8" r="8.7"/><circle cx="325.5" cy="655.3" r="8.7"/><circle cx="325.5" cy="652.3" r="8.7"/><circle cx="325.6" cy="645.7" r="8.7"/><circle cx="325.8" cy="664.2" r="8.7"/><circle cx="325.8" cy="656.1" r="8.7"/><circle cx="326.0" cy="649.4" r="8.7"/><circle cx="326.1" cy="655.4" r="8.7"/><circle cx="326.2" cy="650.5" r="8.7"/><circle cx="326.3" cy="657.1" r="8.7"/><circle cx="326.4" cy="657.5" r="8.7"/><circle cx="326.5" cy="642.3" r="8.7"/><circle cx="326.6" cy="645.7" r="8.7"/><circle cx="326.7" cy="655.9" r="8.7"/><circle cx="326.8" cy="655.0" r="8.7"/><circle cx="327.0" cy="658.4" r="8.7"/><circle cx="327.1" cy="652.1" r="8.7"/><circle cx="327.1" cy="648.6" r="8.7"/><circle cx="327.3" cy="636.8" r="8.7"/><circle cx="327.4" cy="656.7" r="8.7"/><circle cx="327.5" cy="653.6" r="8.7"/><circle cx="327.5" cy="634.0" r="8.7"/><circle cx="327.6" cy="629.9" r="8.7"/><circle cx="327.8" cy="657.4" r="8.7"/><circle cx="327.8" cy="662.6" r="8.7"/><circle cx="328.0" cy="646.7" r="8.7"/><circle cx="328.1" cy="653.4" r="8.7"/><circle cx="328.2" cy="644.5" r="8.7"/><circle cx="328.3" cy="658.0" r="8.7"/><circle cx="328.4" cy="652.1" r="8.7"/><circle cx="328.4" cy="633.2" r="8.7"/><circle cx="328.5" cy="668.2" r="8.7"/><circle cx="328.7" cy="663.9" r="8.7"/><circle cx="328.8" cy="648.2" r="8.7"/><circle cx="328.9" cy="641.3" r="8.7"/><circle cx="329.0" cy="641.3" r="8.7"/><circle cx="329.1" cy="659.3" r="8.7"/><circle cx="329.2" cy="661.6" r="8.7"/><circle cx="329.4" cy="657.2" r="8.7"/><circle cx="329.4" cy="641.7" r="8.7"/><circle cx="329.6" cy="657.7" r="8.7"/><circle cx="329.7" cy="637.9" r="8.7"/><circle cx="329.8" cy="655.2" r="8.7"/><circle cx="329.9" cy="637.6" r="8.7"/><circle cx="329.9" cy="641.2" r="8.7"/><circle cx="330.0" cy="645.9" r="8.7"/><circle cx="330.2" cy="642.5" r="8.7"/><circle cx="330.2" cy="638.1" r="8.7"/><circle cx="330.3" cy="644.7" r="8.7"/><circle cx="330.4" cy="624.5" r="8.7"/><circle cx="330.6" cy="646.8" r="8.7"/><circle cx="330.6" cy="651.5" r="8.7"/><circle cx="330.8" cy="649.2" r="8.7"/><circle cx="330.8" cy="650.9" r="8.7"/><circle cx="331.0" cy="642.9" r="8.7"/><circle cx="331.1" cy="656.0" r="8.7"/><circle cx="331.2" cy="650.0" r="8.7"/><circle cx="331.3" cy="636.7" r="8.7"/><circle cx="331.4" cy="647.6" r="8.7"/><circle cx="331.5" cy="655.6" r="8.7"/><circle cx="331.6" cy="648.1" r="8.7"/><circle cx="331.7" cy="644.8" r="8.7"/><circle cx="331.7" cy="650.2" r="8.7"/><circle cx="331.9" cy="655.6" r="8.7"/><circle cx="332.0" cy="650.2" r="8.7"/><circle cx="332.1" cy="650.8" r="8.7"/><circle cx="332.2" cy="663.3" r="8.7"/><circle cx="332.3" cy="649.7" r="8.7"/><circle cx="332.4" cy="666.4" r="8.7"/><circle cx="332.6" cy="649.8" r="8.7"/><circle cx="332.6" cy="655.6" r="8.7"/><circle cx="332.7" cy="647.6" r="8.7"/><circle cx="332.8" cy="646.4" r="8.7"/><circle cx="332.9" cy="656.7" r="8.7"/><circle cx="333.1" cy="648.6" r="8.7"/><circle cx="333.1" cy="645.0" r="8.7"/><circle cx="333.2" cy="645.3" r="8.7"/><circle cx="333.3" cy="658.1" r="8.7"/><circle cx="333.4" cy="637.5" r="8.7"/><circle cx="333.6" cy="650.7" r="8.7"/><circle cx="333.7" cy="628.6" r="8.7"/><circle cx="333.7" cy="631.4" r="8.7"/><circle cx="333.9" cy="657.1" r="8.7"/><circle cx="333.9" cy="657.0" r="8.7"/><circle cx="334.0" cy="645.7" r="8.7"/><circle cx="334.2" cy="640.1" r="8.7"/><circle cx="334.3" cy="668.9" r="8.7"/><circle cx="334.3" cy="651.8" r="8.7"/><circle cx="334.5" cy="658.3" r="8.7"/><circle cx="334.6" cy="654.7" r="8.7"/><circle cx="334.6" cy="652.2" r="8.7"/><circle cx="334.8" cy="657.6" r="8.7"/><circle cx="334.8" cy="651.9" r="8.7"/><circle cx="335.0" cy="651.1" r="8.7"/><circle cx="335.1" cy="629.2" r="8.7"/><circle cx="335.1" cy="656.1" r="8.7"/><circle cx="335.3" cy="657.1" r="8.7"/><circle cx="335.4" cy="649.4" r="8.7"/><circle cx="335.5" cy="651.6" r="8.7"/><circle cx="335.6" cy="660.2" r="8.7"/><circle cx="335.7" cy="645.3" r="8.7"/><circle cx="335.8" cy="655.8" r="8.7"/><circle cx="335.9" cy="632.2" r="8.7"/><circle cx="336.0" cy="657.4" r="8.7"/><circle cx="336.1" cy="647.8" r="8.7"/><circle cx="336.2" cy="651.1" r="8.7"/><circle cx="336.3" cy="649.7" r="8.7"/><circle cx="336.4" cy="646.1" r="8.7"/><circle cx="336.5" cy="646.6" r="8.7"/><circle cx="336.6" cy="648.6" r="8.7"/><circle cx="336.7" cy="648.6" r="8.7"/><circle cx="336.8" cy="659.8" r="8.7"/><circle cx="336.9" cy="650.3" r="8.7"/><circle cx="337.1" cy="667.0" r="8.7"/><circle cx="337.1" cy="667.3" r="8.7"/><circle cx="337.3" cy="652.1" r="8.7"/><circle cx="337.3" cy="651.3" r="8.7"/><circle cx="337.4" cy="633.6" r="8.7"/><circle cx="337.6" cy="650.6" r="8.7"/><circle cx="337.6" cy="640.6" r="8.7"/><circle cx="337.7" cy="651.8" r="8.7"/><circle cx="337.9" cy="645.7" r="8.7"/><circle cx="337.9" cy="640.0" r="8.7"/><circle cx="338.1" cy="644.9" r="8.7"/><circle cx="338.2" cy="646.2" r="8.7"/><circle cx="338.3" cy="648.1" r="8.7"/><circle cx="338.3" cy="656.2" r="8.7"/><circle cx="338.5" cy="655.9" r="8.7"/><circle cx="338.6" cy="660.1" r="8.7"/><circle cx="338.7" cy="645.4" r="8.7"/><circle cx="338.8" cy="650.7" r="8.7"/><circle cx="338.8" cy="653.9" r="8.7"/><circle cx="339.0" cy="645.6" r="8.7"/><circle cx="339.1" cy="653.0" r="8.7"/><circle cx="339.2" cy="640.0" r="8.7"/><circle cx="339.2" cy="633.1" r="8.7"/><circle cx="339.4" cy="644.6" r="8.7"/><circle cx="339.4" cy="653.7" r="8.7"/><circle cx="339.5" cy="660.0" r="8.7"/><circle cx="339.7" cy="631.9" r="8.7"/><circle cx="339.8" cy="644.3" r="8.7"/><circle cx="339.9" cy="657.3" r="8.7"/><circle cx="340.0" cy="639.2" r="8.7"/><circle cx="340.1" cy="661.1" r="8.7"/><circle cx="340.2" cy="651.2" r="8.7"/><circle cx="340.2" cy="649.6" r="8.7"/><circle cx="340.4" cy="616.4" r="8.7"/><circle cx="340.5" cy="659.4" r="8.7"/><circle cx="340.6" cy="628.3" r="8.7"/><circle cx="340.7" cy="650.6" r="8.7"/><circle cx="340.8" cy="644.3" r="8.7"/><circle cx="340.9" cy="647.0" r="8.7"/><circle cx="341.0" cy="615.0" r="8.7"/><circle cx="341.1" cy="621.0" r="8.7"/><circle cx="341.2" cy="645.5" r="8.7"/><circle cx="341.3" cy="639.6" r="8.7"/><circle cx="341.4" cy="649.8" r="8.7"/><circle cx="341.5" cy="643.9" r="8.7"/><circle cx="341.6" cy="649.6" r="8.7"/><circle cx="341.7" cy="642.1" r="8.7"/><circle cx="341.8" cy="666.8" r="8.7"/><circle cx="341.9" cy="641.8" r="8.7"/><circle cx="342.0" cy="651.7" r="8.7"/><circle cx="342.1" cy="651.3" r="8.7"/><circle cx="342.3" cy="669.5" r="8.7"/><circle cx="342.3" cy="655.1" r="8.7"/><circle cx="342.4" cy="641.4" r="8.7"/><circle cx="342.5" cy="627.6" r="8.7"/><circle cx="342.6" cy="652.0" r="8.7"/><circle cx="342.7" cy="651.6" r="8.7"/><circle cx="342.8" cy="642.2" r="8.7"/><circle cx="342.9" cy="643.8" r="8.7"/><circle cx="343.0" cy="650.8" r="8.7"/><circle cx="343.1" cy="647.4" r="8.7"/><circle cx="343.2" cy="649.1" r="8.7"/><circle cx="343.3" cy="640.8" r="8.7"/><circle cx="343.4" cy="639.3" r="8.7"/><circle cx="343.5" cy="631.4" r="8.7"/><circle cx="343.7" cy="638.2" r="8.7"/><circle cx="343.7" cy="640.2" r="8.7"/><circle cx="343.8" cy="644.2" r="8.7"/><circle cx="343.9" cy="637.8" r="8.7"/><circle cx="344.1" cy="616.1" r="8.7"/><circle cx="344.1" cy="627.7" r="8.7"/><circle cx="344.3" cy="642.9" r="8.7"/><circle cx="344.3" cy="633.7" r="8.7"/><circle cx="344.4" cy="651.7" r="8.7"/><circle cx="344.5" cy="638.6" r="8.7"/><circle cx="344.6" cy="641.7" r="8.7"/><circle cx="344.7" cy="628.1" r="8.7"/><circle cx="344.8" cy="650.3" r="8.7"/><circle cx="344.9" cy="652.1" r="8.7"/><circle cx="345.1" cy="596.8" r="8.7"/><circle cx="345.1" cy="634.7" r="8.7"/><circle cx="345.3" cy="643.7" r="8.7"/><circle cx="345.3" cy="643.0" r="8.7"/><circle cx="345.4" cy="651.8" r="8.7"/><circle cx="345.5" cy="659.5" r="8.7"/><circle cx="345.6" cy="659.1" r="8.7"/><circle cx="345.7" cy="649.3" r="8.7"/><circle cx="345.9" cy="645.5" r="8.7"/><circle cx="345.9" cy="653.8" r="8.7"/><circle cx="346.0" cy="637.6" r="8.7"/><circle cx="346.1" cy="622.2" r="8.7"/><circle cx="346.2" cy="642.7" r="8.7"/><circle cx="346.4" cy="658.4" r="8.7"/><circle cx="346.5" cy="645.6" r="8.7"/><circle cx="346.5" cy="644.1" r="8.7"/><circle cx="346.6" cy="654.2" r="8.7"/><circle cx="346.7" cy="661.8" r="8.7"/><circle cx="346.8" cy="627.8" r="8.7"/><circle cx="346.9" cy="638.5" r="8.7"/><circle cx="347.1" cy="646.7" r="8.7"/><circle cx="347.1" cy="630.3" r="8.7"/><circle cx="347.2" cy="634.2" r="8.7"/><circle cx="347.4" cy="639.6" r="8.7"/><circle cx="347.4" cy="641.4" r="8.7"/><circle cx="347.5" cy="636.8" r="8.7"/><circle cx="347.7" cy="631.0" r="8.7"/><circle cx="347.8" cy="642.5" r="8.7"/><circle cx="347.8" cy="645.0" r="8.7"/><circle cx="348.0" cy="638.1" r="8.7"/><circle cx="348.0" cy="666.3" r="8.7"/><circle cx="348.2" cy="642.1" r="8.7"/><circle cx="348.3" cy="646.2" r="8.7"/><circle cx="348.4" cy="642.9" r="8.7"/><circle cx="348.4" cy="644.2" r="8.7"/><circle cx="348.5" cy="639.8" r="8.7"/><circle cx="348.7" cy="641.7" r="8.7"/><circle cx="348.7" cy="641.9" r="8.7"/><circle cx="348.8" cy="643.5" r="8.7"/><circle cx="349.0" cy="638.6" r="8.7"/><circle cx="349.1" cy="646.5" r="8.7"/><circle cx="349.2" cy="634.0" r="8.7"/><circle cx="349.2" cy="631.2" r="8.7"/><circle cx="349.4" cy="640.4" r="8.7"/><circle cx="349.4" cy="638.3" r="8.7"/><circle cx="349.5" cy="652.6" r="8.7"/><circle cx="349.6" cy="645.5" r="8.7"/><circle cx="349.7" cy="630.9" r="8.7"/><circle cx="349.8" cy="642.9" r="8.7"/><circle cx="349.9" cy="649.1" r="8.7"/><circle cx="350.1" cy="666.5" r="8.7"/><circle cx="350.1" cy="638.8" r="8.7"/><circle cx="350.2" cy="637.5" r="8.7"/><circle cx="350.4" cy="636.4" r="8.7"/><circle cx="350.5" cy="624.3" r="8.7"/><circle cx="350.6" cy="641.4" r="8.7"/><circle cx="350.7" cy="640.2" r="8.7"/><circle cx="350.8" cy="647.0" r="8.7"/><circle cx="350.8" cy="641.7" r="8.7"/><circle cx="351.0" cy="641.4" r="8.7"/><circle cx="351.0" cy="634.8" r="8.7"/><circle cx="351.2" cy="636.4" r="8.7"/><circle cx="351.2" cy="647.4" r="8.7"/><circle cx="351.3" cy="642.3" r="8.7"/><circle cx="351.4" cy="629.3" r="8.7"/><circle cx="351.5" cy="648.8" r="8.7"/><circle cx="351.7" cy="634.4" r="8.7"/><circle cx="351.8" cy="640.6" r="8.7"/><circle cx="351.9" cy="635.1" r="8.7"/><circle cx="351.9" cy="638.4" r="8.7"/><circle cx="352.0" cy="629.1" r="8.7"/><circle cx="352.1" cy="637.5" r="8.7"/><circle cx="352.3" cy="640.4" r="8.7"/><circle cx="352.3" cy="642.0" r="8.7"/><circle cx="352.4" cy="630.6" r="8.7"/><circle cx="352.5" cy="605.6" r="8.7"/><circle cx="352.7" cy="627.1" r="8.7"/><circle cx="352.8" cy="642.8" r="8.7"/><circle cx="352.8" cy="642.6" r="8.7"/><circle cx="353.0" cy="643.6" r="8.7"/><circle cx="353.0" cy="637.5" r="8.7"/><circle cx="353.2" cy="645.6" r="8.7"/><circle cx="353.2" cy="632.0" r="8.7"/><circle cx="353.3" cy="636.9" r="8.7"/><circle cx="353.5" cy="647.9" r="8.7"/><circle cx="353.5" cy="664.5" r="8.7"/><circle cx="353.6" cy="654.9" r="8.7"/><circle cx="353.8" cy="627.4" r="8.7"/><circle cx="353.9" cy="639.9" r="8.7"/><circle cx="354.0" cy="638.1" r="8.7"/><circle cx="354.0" cy="642.9" r="8.7"/><circle cx="354.1" cy="635.9" r="8.7"/><circle cx="354.2" cy="655.3" r="8.7"/><circle cx="354.3" cy="655.9" r="8.7"/><circle cx="354.4" cy="652.8" r="8.7"/><circle cx="354.5" cy="638.4" r="8.7"/><circle cx="354.7" cy="633.0" r="8.7"/><circle cx="354.7" cy="625.7" r="8.7"/><circle cx="354.9" cy="639.9" r="8.7"/><circle cx="354.9" cy="649.6" r="8.7"/><circle cx="355.0" cy="632.0" r="8.7"/><circle cx="355.1" cy="641.0" r="8.7"/><circle cx="355.2" cy="638.7" r="8.7"/><circle cx="355.3" cy="618.7" r="8.7"/><circle cx="355.4" cy="642.4" r="8.7"/><circle cx="355.5" cy="644.5" r="8.7"/><circle cx="355.7" cy="643.3" r="8.7"/><circle cx="355.7" cy="657.8" r="8.7"/><circle cx="355.8" cy="611.7" r="8.7"/><circle cx="355.9" cy="639.6" r="8.7"/><circle cx="356.0" cy="629.5" r="8.7"/><circle cx="356.1" cy="653.4" r="8.7"/><circle cx="356.3" cy="628.0" r="8.7"/><circle cx="356.3" cy="638.5" r="8.7"/><circle cx="356.5" cy="620.7" r="8.7"/><circle cx="356.5" cy="644.6" r="8.7"/><circle cx="356.6" cy="644.7" r="8.7"/><circle cx="356.7" cy="650.3" r="8.7"/><circle cx="356.8" cy="630.0" r="8.7"/><circle cx="356.9" cy="630.7" r="8.7"/><circle cx="357.1" cy="631.4" r="8.7"/><circle cx="357.1" cy="645.9" r="8.7"/><circle cx="357.2" cy="635.6" r="8.7"/><circle cx="357.3" cy="639.4" r="8.7"/><circle cx="357.4" cy="640.2" r="8.7"/><circle cx="357.5" cy="628.5" r="8.7"/><circle cx="357.7" cy="636.0" r="8.7"/><circle cx="357.7" cy="635.6" r="8.7"/><circle cx="357.9" cy="630.9" r="8.7"/><circle cx="357.9" cy="637.6" r="8.7"/><circle cx="358.0" cy="619.5" r="8.7"/><circle cx="358.1" cy="644.7" r="8.7"/><circle cx="358.2" cy="626.1" r="8.7"/><circle cx="358.3" cy="624.8" r="8.7"/><circle cx="358.4" cy="646.3" r="8.7"/><circle cx="358.5" cy="629.3" r="8.7"/><circle cx="358.6" cy="634.1" r="8.7"/><circle cx="358.7" cy="629.1" r="8.7"/><circle cx="358.8" cy="618.3" r="8.7"/><circle cx="358.9" cy="634.2" r="8.7"/><circle cx="359.0" cy="644.6" r="8.7"/><circle cx="359.1" cy="639.0" r="8.7"/><circle cx="359.2" cy="624.1" r="8.7"/><circle cx="359.3" cy="637.2" r="8.7"/><circle cx="359.4" cy="655.1" r="8.7"/><circle cx="359.5" cy="647.9" r="8.7"/><circle cx="359.6" cy="645.6" r="8.7"/><circle cx="359.7" cy="629.5" r="8.7"/><circle cx="359.8" cy="619.8" r="8.7"/><circle cx="359.9" cy="649.0" r="8.7"/><circle cx="360.0" cy="626.1" r="8.7"/><circle cx="360.1" cy="633.4" r="8.7"/><circle cx="360.2" cy="632.6" r="8.7"/><circle cx="360.3" cy="642.3" r="8.7"/><circle cx="360.4" cy="623.2" r="8.7"/><circle cx="360.4" cy="636.4" r="8.7"/><circle cx="360.6" cy="652.1" r="8.7"/><circle cx="360.7" cy="644.9" r="8.7"/><circle cx="360.8" cy="642.4" r="8.7"/><circle cx="360.9" cy="636.5" r="8.7"/><circle cx="360.9" cy="628.6" r="8.7"/><circle cx="361.1" cy="641.2" r="8.7"/><circle cx="361.2" cy="640.1" r="8.7"/><circle cx="361.3" cy="616.1" r="8.7"/><circle cx="361.4" cy="634.1" r="8.7"/><circle cx="361.5" cy="639.3" r="8.7"/><circle cx="361.6" cy="634.4" r="8.7"/><circle cx="361.6" cy="626.1" r="8.7"/><circle cx="361.8" cy="630.0" r="8.7"/><circle cx="361.9" cy="626.2" r="8.7"/><circle cx="362.0" cy="639.4" r="8.7"/><circle cx="362.0" cy="625.9" r="8.7"/><circle cx="362.1" cy="636.8" r="8.7"/><circle cx="362.3" cy="631.8" r="8.7"/><circle cx="362.4" cy="640.6" r="8.7"/><circle cx="362.5" cy="641.0" r="8.7"/><circle cx="362.6" cy="646.9" r="8.7"/><circle cx="362.7" cy="632.2" r="8.7"/><circle cx="362.7" cy="607.8" r="8.7"/><circle cx="362.8" cy="636.1" r="8.7"/><circle cx="362.9" cy="643.5" r="8.7"/><circle cx="363.1" cy="643.8" r="8.7"/><circle cx="363.1" cy="636.5" r="8.7"/><circle cx="363.3" cy="629.6" r="8.7"/><circle cx="363.4" cy="631.0" r="8.7"/><circle cx="363.5" cy="639.4" r="8.7"/><circle cx="363.6" cy="631.0" r="8.7"/><circle cx="363.6" cy="618.4" r="8.7"/><circle cx="363.8" cy="632.5" r="8.7"/><circle cx="363.8" cy="616.0" r="8.7"/><circle cx="363.9" cy="629.6" r="8.7"/><circle cx="364.0" cy="621.8" r="8.7"/><circle cx="364.2" cy="637.7" r="8.7"/><circle cx="364.3" cy="623.0" r="8.7"/><circle cx="364.3" cy="643.2" r="8.7"/><circle cx="364.4" cy="630.9" r="8.7"/><circle cx="364.5" cy="635.8" r="8.7"/><circle cx="364.7" cy="650.0" r="8.7"/><circle cx="364.7" cy="644.6" r="8.7"/><circle cx="364.8" cy="623.0" r="8.7"/><circle cx="364.9" cy="628.4" r="8.7"/><circle cx="365.0" cy="621.5" r="8.7"/><circle cx="365.1" cy="630.9" r="8.7"/><circle cx="365.2" cy="657.5" r="8.7"/><circle cx="365.3" cy="630.3" r="8.7"/><circle cx="365.4" cy="637.3" r="8.7"/><circle cx="365.5" cy="636.7" r="8.7"/><circle cx="365.6" cy="636.2" r="8.7"/><circle cx="365.7" cy="638.8" r="8.7"/><circle cx="365.8" cy="640.4" r="8.7"/><circle cx="365.9" cy="621.4" r="8.7"/><circle cx="366.0" cy="628.2" r="8.7"/><circle cx="366.1" cy="637.6" r="8.7"/><circle cx="366.2" cy="635.6" r="8.7"/><circle cx="366.3" cy="623.4" r="8.7"/><circle cx="366.4" cy="628.5" r="8.7"/><circle cx="366.5" cy="630.1" r="8.7"/><circle cx="366.6" cy="633.3" r="8.7"/><circle cx="366.7" cy="635.4" r="8.7"/><circle cx="366.8" cy="641.4" r="8.7"/><circle cx="366.9" cy="648.1" r="8.7"/><circle cx="367.0" cy="623.7" r="8.7"/><circle cx="367.1" cy="634.3" r="8.7"/><circle cx="367.2" cy="648.1" r="8.7"/><circle cx="367.2" cy="639.6" r="8.7"/><circle cx="367.4" cy="624.7" r="8.7"/><circle cx="367.4" cy="641.3" r="8.7"/><circle cx="367.6" cy="626.1" r="8.7"/><circle cx="367.6" cy="623.1" r="8.7"/><circle cx="367.7" cy="641.8" r="8.7"/><circle cx="367.9" cy="629.4" r="8.7"/><circle cx="368.0" cy="629.0" r="8.7"/><circle cx="368.1" cy="617.9" r="8.7"/><circle cx="368.1" cy="630.7" r="8.7"/><circle cx="368.3" cy="638.9" r="8.7"/><circle cx="368.4" cy="631.2" r="8.7"/><circle cx="368.4" cy="634.4" r="8.7"/><circle cx="368.5" cy="618.0" r="8.7"/><circle cx="368.6" cy="624.7" r="8.7"/><circle cx="368.7" cy="627.5" r="8.7"/><circle cx="368.8" cy="628.8" r="8.7"/><circle cx="369.0" cy="623.0" r="8.7"/><circle cx="369.0" cy="634.5" r="8.7"/><circle cx="369.1" cy="638.2" r="8.7"/><circle cx="369.2" cy="646.5" r="8.7"/><circle cx="369.3" cy="619.8" r="8.7"/><circle cx="369.5" cy="625.6" r="8.7"/><circle cx="369.6" cy="624.4" r="8.7"/><circle cx="369.6" cy="629.5" r="8.7"/><circle cx="369.7" cy="615.4" r="8.7"/><circle cx="369.8" cy="638.3" r="8.7"/><circle cx="369.9" cy="619.3" r="8.7"/><circle cx="370.0" cy="622.5" r="8.7"/><circle cx="370.1" cy="633.6" r="8.7"/><circle cx="370.2" cy="628.6" r="8.7"/><circle cx="370.3" cy="628.7" r="8.7"/><circle cx="370.4" cy="632.0" r="8.7"/><circle cx="370.5" cy="625.7" r="8.7"/><circle cx="370.6" cy="634.5" r="8.7"/><circle cx="370.7" cy="641.4" r="8.7"/><circle cx="370.8" cy="624.3" r="8.7"/><circle cx="370.9" cy="618.0" r="8.7"/><circle cx="371.0" cy="622.7" r="8.7"/><circle cx="371.0" cy="629.6" r="8.7"/><circle cx="371.2" cy="625.5" r="8.7"/><circle cx="371.3" cy="643.8" r="8.7"/><circle cx="371.3" cy="631.9" r="8.7"/><circle cx="371.4" cy="618.8" r="8.7"/><circle cx="371.6" cy="637.1" r="8.7"/><circle cx="371.6" cy="636.2" r="8.7"/><circle cx="371.7" cy="621.3" r="8.7"/><circle cx="371.9" cy="629.8" r="8.7"/><circle cx="371.9" cy="622.2" r="8.7"/><circle cx="372.0" cy="640.9" r="8.7"/><circle cx="372.2" cy="633.1" r="8.7"/><circle cx="372.2" cy="625.6" r="8.7"/><circle cx="372.4" cy="625.7" r="8.7"/><circle cx="372.5" cy="623.5" r="8.7"/><circle cx="372.5" cy="642.4" r="8.7"/><circle cx="372.6" cy="629.9" r="8.7"/><circle cx="372.8" cy="624.0" r="8.7"/><circle cx="372.8" cy="620.5" r="8.7"/><circle cx="372.9" cy="641.3" r="8.7"/><circle cx="373.1" cy="630.7" r="8.7"/><circle cx="373.1" cy="629.7" r="8.7"/><circle cx="373.3" cy="626.4" r="8.7"/><circle cx="373.3" cy="618.9" r="8.7"/><circle cx="373.4" cy="639.3" r="8.7"/><circle cx="373.5" cy="623.0" r="8.7"/><circle cx="373.6" cy="642.7" r="8.7"/><circle cx="373.7" cy="634.1" r="8.7"/><circle cx="373.8" cy="632.1" r="8.7"/><circle cx="373.8" cy="629.8" r="8.7"/><circle cx="373.9" cy="632.7" r="8.7"/><circle cx="374.0" cy="631.8" r="8.7"/><circle cx="374.2" cy="630.2" r="8.7"/><circle cx="374.3" cy="629.5" r="8.7"/><circle cx="374.3" cy="643.3" r="8.7"/><circle cx="374.5" cy="639.3" r="8.7"/><circle cx="374.6" cy="630.8" r="8.7"/><circle cx="374.7" cy="622.3" r="8.7"/><circle cx="374.8" cy="618.1" r="8.7"/><circle cx="374.9" cy="601.9" r="8.7"/><circle cx="374.9" cy="625.8" r="8.7"/><circle cx="375.1" cy="633.6" r="8.7"/><circle cx="375.2" cy="625.1" r="8.7"/><circle cx="375.2" cy="620.6" r="8.7"/><circle cx="375.4" cy="625.3" r="8.7"/><circle cx="375.5" cy="635.7" r="8.7"/><circle cx="375.5" cy="627.3" r="8.7"/><circle cx="375.7" cy="626.7" r="8.7"/><circle cx="375.7" cy="638.6" r="8.7"/><circle cx="375.8" cy="636.8" r="8.7"/><circle cx="375.9" cy="615.7" r="8.7"/><circle cx="376.0" cy="645.7" r="8.7"/><circle cx="376.1" cy="624.6" r="8.7"/><circle cx="376.2" cy="628.3" r="8.7"/><circle cx="376.3" cy="613.8" r="8.7"/><circle cx="376.5" cy="620.5" r="8.7"/><circle cx="376.5" cy="633.4" r="8.7"/><circle cx="376.6" cy="624.8" r="8.7"/><circle cx="376.7" cy="630.6" r="8.7"/><circle cx="376.8" cy="627.8" r="8.7"/><circle cx="376.8" cy="611.1" r="8.7"/><circle cx="377.0" cy="626.2" r="8.7"/><circle cx="377.1" cy="618.7" r="8.7"/><circle cx="377.2" cy="629.4" r="8.7"/><circle cx="377.3" cy="624.6" r="8.7"/><circle cx="377.4" cy="615.9" r="8.7"/><circle cx="377.5" cy="630.6" r="8.7"/><circle cx="377.5" cy="617.7" r="8.7"/><circle cx="377.7" cy="615.7" r="8.7"/><circle cx="377.8" cy="612.6" r="8.7"/><circle cx="377.8" cy="615.9" r="8.7"/><circle cx="377.9" cy="625.7" r="8.7"/><circle cx="378.1" cy="624.0" r="8.7"/><circle cx="378.1" cy="621.1" r="8.7"/><circle cx="378.3" cy="625.7" r="8.7"/><circle cx="378.3" cy="626.7" r="8.7"/><circle cx="378.4" cy="608.2" r="8.7"/><circle cx="378.6" cy="620.1" r="8.7"/><circle cx="378.6" cy="607.8" r="8.7"/><circle cx="378.7" cy="631.1" r="8.7"/><circle cx="378.9" cy="624.6" r="8.7"/><circle cx="378.9" cy="628.0" r="8.7"/><circle cx="379.0" cy="627.6" r="8.7"/><circle cx="379.1" cy="605.3" r="8.7"/><circle cx="379.2" cy="625.1" r="8.7"/><circle cx="379.3" cy="627.8" r="8.7"/><circle cx="379.4" cy="608.1" r="8.7"/><circle cx="379.5" cy="617.2" r="8.7"/><circle cx="379.6" cy="630.3" r="8.7"/><circle cx="379.7" cy="628.5" r="8.7"/><circle cx="379.8" cy="617.1" r="8.7"/><circle cx="379.9" cy="618.8" r="8.7"/><circle cx="380.0" cy="628.9" r="8.7"/><circle cx="380.1" cy="615.4" r="8.7"/><circle cx="380.2" cy="636.0" r="8.7"/><circle cx="380.3" cy="627.5" r="8.7"/><circle cx="380.3" cy="608.2" r="8.7"/><circle cx="380.4" cy="646.2" r="8.7"/><circle cx="380.5" cy="625.0" r="8.7"/><circle cx="380.7" cy="614.4" r="8.7"/><circle cx="380.7" cy="624.4" r="8.7"/><circle cx="380.8" cy="629.9" r="8.7"/><circle cx="381.0" cy="630.8" r="8.7"/><circle cx="381.0" cy="641.3" r="8.7"/><circle cx="381.1" cy="634.5" r="8.7"/><circle cx="381.2" cy="622.3" r="8.7"/><circle cx="381.3" cy="627.8" r="8.7"/><circle cx="381.4" cy="622.9" r="8.7"/><circle cx="381.5" cy="624.0" r="8.7"/><circle cx="381.6" cy="597.6" r="8.7"/><circle cx="381.7" cy="637.3" r="8.7"/><circle cx="381.8" cy="625.3" r="8.7"/><circle cx="381.9" cy="625.5" r="8.7"/><circle cx="382.0" cy="625.3" r="8.7"/><circle cx="382.1" cy="630.3" r="8.7"/><circle cx="382.2" cy="641.8" r="8.7"/><circle cx="382.3" cy="616.8" r="8.7"/><circle cx="382.4" cy="615.2" r="8.7"/><circle cx="382.5" cy="601.4" r="8.7"/><circle cx="382.6" cy="615.8" r="8.7"/><circle cx="382.6" cy="607.7" r="8.7"/><circle cx="382.8" cy="617.0" r="8.7"/><circle cx="382.8" cy="625.6" r="8.7"/><circle cx="382.9" cy="617.8" r="8.7"/><circle cx="383.0" cy="632.4" r="8.7"/><circle cx="383.2" cy="619.9" r="8.7"/><circle cx="383.3" cy="623.0" r="8.7"/><circle cx="383.4" cy="631.3" r="8.7"/><circle cx="383.4" cy="611.1" r="8.7"/><circle cx="383.5" cy="612.0" r="8.7"/><circle cx="383.6" cy="617.8" r="8.7"/><circle cx="383.7" cy="614.6" r="8.7"/><circle cx="383.9" cy="611.1" r="8.7"/><circle cx="383.9" cy="622.9" r="8.7"/><circle cx="384.0" cy="633.7" r="8.7"/><circle cx="384.1" cy="630.1" r="8.7"/><circle cx="384.2" cy="618.6" r="8.7"/><circle cx="384.3" cy="619.6" r="8.7"/><circle cx="384.4" cy="612.1" r="8.7"/><circle cx="384.4" cy="609.8" r="8.7"/><circle cx="384.6" cy="619.5" r="8.7"/><circle cx="384.7" cy="607.1" r="8.7"/><circle cx="384.7" cy="611.4" r="8.7"/><circle cx="384.9" cy="625.2" r="8.7"/><circle cx="384.9" cy="620.4" r="8.7"/><circle cx="385.0" cy="627.8" r="8.7"/><circle cx="385.2" cy="628.6" r="8.7"/><circle cx="385.3" cy="623.8" r="8.7"/><circle cx="385.4" cy="616.6" r="8.7"/><circle cx="385.4" cy="608.9" r="8.7"/><circle cx="385.6" cy="628.9" r="8.7"/><circle cx="385.6" cy="614.7" r="8.7"/><circle cx="385.8" cy="620.5" r="8.7"/><circle cx="385.8" cy="622.8" r="8.7"/><circle cx="385.9" cy="610.8" r="8.7"/><circle cx="386.0" cy="617.0" r="8.7"/><circle cx="386.1" cy="608.4" r="8.7"/><circle cx="386.2" cy="623.6" r="8.7"/><circle cx="386.3" cy="628.8" r="8.7"/><circle cx="386.4" cy="613.7" r="8.7"/><circle cx="386.5" cy="633.5" r="8.7"/><circle cx="386.6" cy="631.1" r="8.7"/><circle cx="386.7" cy="622.1" r="8.7"/><circle cx="386.8" cy="620.4" r="8.7"/><circle cx="386.8" cy="622.7" r="8.7"/><circle cx="387.0" cy="637.9" r="8.7"/><circle cx="387.0" cy="632.2" r="8.7"/><circle cx="387.2" cy="615.6" r="8.7"/><circle cx="387.2" cy="615.4" r="8.7"/><circle cx="387.4" cy="629.1" r="8.7"/><circle cx="387.4" cy="617.7" r="8.7"/><circle cx="387.5" cy="618.2" r="8.7"/><circle cx="387.6" cy="605.2" r="8.7"/><circle cx="387.8" cy="626.5" r="8.7"/><circle cx="387.8" cy="606.9" r="8.7"/><circle cx="387.9" cy="622.6" r="8.7"/><circle cx="388.0" cy="606.9" r="8.7"/><circle cx="388.1" cy="611.5" r="8.7"/><circle cx="388.2" cy="628.8" r="8.7"/><circle cx="388.3" cy="622.5" r="8.7"/><circle cx="388.4" cy="617.1" r="8.7"/><circle cx="388.5" cy="610.5" r="8.7"/><circle cx="388.5" cy="632.0" r="8.7"/><circle cx="388.7" cy="624.0" r="8.7"/><circle cx="388.8" cy="613.9" r="8.7"/><circle cx="388.9" cy="615.2" r="8.7"/><circle cx="389.0" cy="628.9" r="8.7"/><circle cx="389.1" cy="627.4" r="8.7"/><circle cx="389.2" cy="615.5" r="8.7"/><circle cx="389.2" cy="628.5" r="8.7"/><circle cx="389.3" cy="617.2" r="8.7"/><circle cx="389.4" cy="611.0" r="8.7"/><circle cx="389.5" cy="619.1" r="8.7"/><circle cx="389.7" cy="643.3" r="8.7"/><circle cx="389.7" cy="608.6" r="8.7"/><circle cx="389.9" cy="608.7" r="8.7"/><circle cx="389.9" cy="606.3" r="8.7"/><circle cx="390.0" cy="611.3" r="8.7"/><circle cx="390.1" cy="598.7" r="8.7"/><circle cx="390.2" cy="606.2" r="8.7"/><circle cx="390.3" cy="615.8" r="8.7"/><circle cx="390.4" cy="643.8" r="8.7"/><circle cx="390.5" cy="620.3" r="8.7"/><circle cx="390.6" cy="621.0" r="8.7"/><circle cx="390.7" cy="620.9" r="8.7"/><circle cx="390.7" cy="604.3" r="8.7"/><circle cx="390.9" cy="617.2" r="8.7"/><circle cx="391.0" cy="620.5" r="8.7"/><circle cx="391.1" cy="630.1" r="8.7"/><circle cx="391.2" cy="614.3" r="8.7"/><circle cx="391.3" cy="618.4" r="8.7"/><circle cx="391.4" cy="617.1" r="8.7"/><circle cx="391.4" cy="609.5" r="8.7"/><circle cx="391.6" cy="611.8" r="8.7"/><circle cx="391.7" cy="618.3" r="8.7"/><circle cx="391.7" cy="616.4" r="8.7"/><circle cx="391.8" cy="617.5" r="8.7"/><circle cx="391.9" cy="611.7" r="8.7"/><circle cx="392.0" cy="612.0" r="8.7"/><circle cx="392.1" cy="616.9" r="8.7"/><circle cx="392.2" cy="625.9" r="8.7"/><circle cx="392.3" cy="610.4" r="8.7"/><circle cx="392.4" cy="609.9" r="8.7"/><circle cx="392.5" cy="627.7" r="8.7"/><circle cx="392.6" cy="614.5" r="8.7"/><circle cx="392.6" cy="621.5" r="8.7"/><circle cx="392.8" cy="637.8" r="8.7"/><circle cx="392.9" cy="618.3" r="8.7"/><circle cx="393.0" cy="609.2" r="8.7"/><circle cx="393.1" cy="624.5" r="8.7"/><circle cx="393.2" cy="624.2" r="8.7"/><circle cx="393.3" cy="608.5" r="8.7"/><circle cx="393.3" cy="627.7" r="8.7"/><circle cx="393.4" cy="626.3" r="8.7"/><circle cx="393.5" cy="620.6" r="8.7"/><circle cx="393.6" cy="612.0" r="8.7"/><circle cx="393.7" cy="611.9" r="8.7"/><circle cx="393.8" cy="622.4" r="8.7"/><circle cx="393.9" cy="620.4" r="8.7"/><circle cx="394.0" cy="616.7" r="8.7"/><circle cx="394.1" cy="621.0" r="8.7"/><circle cx="394.2" cy="625.3" r="8.7"/><circle cx="394.3" cy="627.4" r="8.7"/><circle cx="394.3" cy="610.9" r="8.7"/><circle cx="394.5" cy="619.3" r="8.7"/><circle cx="394.6" cy="591.2" r="8.7"/><circle cx="394.7" cy="611.6" r="8.7"/><circle cx="394.7" cy="624.1" r="8.7"/><circle cx="394.8" cy="617.2" r="8.7"/><circle cx="394.9" cy="614.1" r="8.7"/><circle cx="395.0" cy="613.5" r="8.7"/><circle cx="395.1" cy="613.0" r="8.7"/><circle cx="395.2" cy="612.9" r="8.7"/><circle cx="395.4" cy="618.3" r="8.7"/><circle cx="395.5" cy="611.0" r="8.7"/><circle cx="395.5" cy="597.0" r="8.7"/><circle cx="395.6" cy="620.9" r="8.7"/><circle cx="395.7" cy="624.4" r="8.7"/><circle cx="395.8" cy="610.4" r="8.7"/><circle cx="395.9" cy="605.4" r="8.7"/><circle cx="396.0" cy="609.3" r="8.7"/><circle cx="396.1" cy="605.6" r="8.7"/><circle cx="396.1" cy="617.1" r="8.7"/><circle cx="396.3" cy="618.7" r="8.7"/><circle cx="396.4" cy="610.6" r="8.7"/><circle cx="396.4" cy="610.4" r="8.7"/><circle cx="396.6" cy="601.2" r="8.7"/><circle cx="396.6" cy="602.2" r="8.7"/><circle cx="396.7" cy="633.1" r="8.7"/><circle cx="396.8" cy="609.3" r="8.7"/><circle cx="397.0" cy="622.5" r="8.7"/><circle cx="397.0" cy="635.6" r="8.7"/><circle cx="397.1" cy="612.7" r="8.7"/><circle cx="397.2" cy="617.8" r="8.7"/><circle cx="397.3" cy="619.5" r="8.7"/><circle cx="397.4" cy="628.0" r="8.7"/><circle cx="397.5" cy="625.5" r="8.7"/><circle cx="397.6" cy="618.1" r="8.7"/><circle cx="397.7" cy="629.8" r="8.7"/><circle cx="397.8" cy="617.1" r="8.7"/><circle cx="397.9" cy="615.0" r="8.7"/><circle cx="398.0" cy="617.4" r="8.7"/><circle cx="398.1" cy="613.3" r="8.7"/><circle cx="398.1" cy="616.6" r="8.7"/><circle cx="398.2" cy="626.6" r="8.7"/><circle cx="398.3" cy="625.4" r="8.7"/><circle cx="398.4" cy="614.7" r="8.7"/><circle cx="398.5" cy="607.0" r="8.7"/><circle cx="398.6" cy="614.5" r="8.7"/><circle cx="398.7" cy="620.4" r="8.7"/><circle cx="398.8" cy="614.2" r="8.7"/><circle cx="398.9" cy="632.3" r="8.7"/><circle cx="399.0" cy="624.8" r="8.7"/><circle cx="399.0" cy="619.1" r="8.7"/><circle cx="399.2" cy="616.2" r="8.7"/><circle cx="399.3" cy="618.6" r="8.7"/><circle cx="399.3" cy="618.1" r="8.7"/><circle cx="399.4" cy="626.5" r="8.7"/><circle cx="399.6" cy="650.0" r="8.7"/><circle cx="399.6" cy="613.2" r="8.7"/><circle cx="399.8" cy="632.4" r="8.7"/><circle cx="399.8" cy="626.5" r="8.7"/><circle cx="400.0" cy="618.6" r="8.7"/><circle cx="400.0" cy="601.7" r="8.7"/><circle cx="400.1" cy="609.1" r="8.7"/><circle cx="400.2" cy="600.8" r="8.7"/><circle cx="400.3" cy="602.9" r="8.7"/><circle cx="400.4" cy="619.3" r="8.7"/><circle cx="400.5" cy="615.8" r="8.7"/><circle cx="400.6" cy="576.3" r="8.7"/><circle cx="400.7" cy="604.2" r="8.7"/><circle cx="400.7" cy="608.3" r="8.7"/><circle cx="400.8" cy="609.6" r="8.7"/><circle cx="401.0" cy="608.9" r="8.7"/><circle cx="401.1" cy="610.7" r="8.7"/><circle cx="401.1" cy="613.0" r="8.7"/><circle cx="401.3" cy="612.3" r="8.7"/><circle cx="401.3" cy="603.6" r="8.7"/><circle cx="401.4" cy="622.1" r="8.7"/><circle cx="401.5" cy="624.4" r="8.7"/><circle cx="401.6" cy="614.7" r="8.7"/><circle cx="401.7" cy="604.0" r="8.7"/><circle cx="401.8" cy="612.4" r="8.7"/><circle cx="401.9" cy="616.5" r="8.7"/><circle cx="402.0" cy="606.8" r="8.7"/><circle cx="402.1" cy="637.5" r="8.7"/><circle cx="402.2" cy="632.0" r="8.7"/><circle cx="402.2" cy="623.7" r="8.7"/><circle cx="402.3" cy="633.7" r="8.7"/><circle cx="402.4" cy="616.4" r="8.7"/><circle cx="402.6" cy="618.4" r="8.7"/><circle cx="402.7" cy="610.2" r="8.7"/><circle cx="402.8" cy="594.7" r="8.7"/><circle cx="402.8" cy="619.7" r="8.7"/><circle cx="402.9" cy="614.1" r="8.7"/><circle cx="403.0" cy="617.6" r="8.7"/><circle cx="403.1" cy="640.1" r="8.7"/><circle cx="403.2" cy="621.1" r="8.7"/><circle cx="403.3" cy="620.7" r="8.7"/><circle cx="403.4" cy="611.4" r="8.7"/><circle cx="403.5" cy="621.7" r="8.7"/><circle cx="403.6" cy="625.8" r="8.7"/><circle cx="403.6" cy="608.4" r="8.7"/><circle cx="403.7" cy="614.4" r="8.7"/><circle cx="403.9" cy="622.0" r="8.7"/><circle cx="404.0" cy="620.7" r="8.7"/><circle cx="404.1" cy="616.5" r="8.7"/><circle cx="404.2" cy="606.0" r="8.7"/><circle cx="404.2" cy="600.4" r="8.7"/><circle cx="404.4" cy="625.7" r="8.7"/><circle cx="404.4" cy="602.7" r="8.7"/><circle cx="404.6" cy="612.9" r="8.7"/><circle cx="404.7" cy="610.1" r="8.7"/><circle cx="404.7" cy="604.4" r="8.7"/><circle cx="404.8" cy="622.3" r="8.7"/><circle cx="404.9" cy="605.3" r="8.7"/><circle cx="405.0" cy="625.4" r="8.7"/><circle cx="405.1" cy="617.6" r="8.7"/><circle cx="405.1" cy="621.1" r="8.7"/><circle cx="405.3" cy="597.5" r="8.7"/><circle cx="405.3" cy="597.9" r="8.7"/><circle cx="405.5" cy="606.0" r="8.7"/><circle cx="405.5" cy="596.5" r="8.7"/><circle cx="405.6" cy="617.9" r="8.7"/><circle cx="405.7" cy="596.7" r="8.7"/><circle cx="405.8" cy="599.9" r="8.7"/><circle cx="405.9" cy="604.4" r="8.7"/><circle cx="406.0" cy="613.8" r="8.7"/><circle cx="406.1" cy="616.0" r="8.7"/><circle cx="406.2" cy="613.4" r="8.7"/><circle cx="406.2" cy="600.3" r="8.7"/><circle cx="406.4" cy="621.4" r="8.7"/><circle cx="406.5" cy="611.4" r="8.7"/><circle cx="406.5" cy="597.3" r="8.7"/><circle cx="406.7" cy="604.2" r="8.7"/><circle cx="406.7" cy="596.2" r="8.7"/><circle cx="406.9" cy="608.4" r="8.7"/><circle cx="406.9" cy="608.3" r="8.7"/><circle cx="407.1" cy="599.3" r="8.7"/><circle cx="407.2" cy="606.1" r="8.7"/><circle cx="407.2" cy="608.9" r="8.7"/><circle cx="407.3" cy="616.8" r="8.7"/><circle cx="407.4" cy="625.8" r="8.7"/><circle cx="407.5" cy="598.1" r="8.7"/><circle cx="407.6" cy="615.8" r="8.7"/><circle cx="407.6" cy="618.8" r="8.7"/><circle cx="407.7" cy="603.7" r="8.7"/><circle cx="407.8" cy="620.0" r="8.7"/><circle cx="408.0" cy="624.3" r="8.7"/><circle cx="408.1" cy="616.9" r="8.7"/><circle cx="408.1" cy="612.2" r="8.7"/><circle cx="408.2" cy="609.0" r="8.7"/><circle cx="408.3" cy="606.7" r="8.7"/><circle cx="408.4" cy="602.4" r="8.7"/><circle cx="408.5" cy="612.5" r="8.7"/><circle cx="408.6" cy="596.4" r="8.7"/><circle cx="408.7" cy="612.3" r="8.7"/><circle cx="408.8" cy="617.2" r="8.7"/><circle cx="408.9" cy="607.4" r="8.7"/><circle cx="408.9" cy="607.9" r="8.7"/><circle cx="409.1" cy="593.8" r="8.7"/><circle cx="409.2" cy="605.5" r="8.7"/><circle cx="409.3" cy="617.5" r="8.7"/><circle cx="409.4" cy="605.4" r="8.7"/><circle cx="409.5" cy="613.2" r="8.7"/><circle cx="409.5" cy="596.2" r="8.7"/><circle cx="409.7" cy="626.7" r="8.7"/><circle cx="409.7" cy="617.0" r="8.7"/><circle cx="409.8" cy="616.9" r="8.7"/><circle cx="409.9" cy="609.6" r="8.7"/><circle cx="410.1" cy="611.9" r="8.7"/><circle cx="410.1" cy="625.5" r="8.7"/><circle cx="410.2" cy="628.0" r="8.7"/><circle cx="410.3" cy="608.9" r="8.7"/><circle cx="410.4" cy="596.9" r="8.7"/><circle cx="410.4" cy="588.0" r="8.7"/><circle cx="410.5" cy="614.2" r="8.7"/><circle cx="410.7" cy="606.1" r="8.7"/><circle cx="410.7" cy="618.4" r="8.7"/><circle cx="410.8" cy="617.7" r="8.7"/><circle cx="410.9" cy="598.9" r="8.7"/><circle cx="411.0" cy="603.9" r="8.7"/><circle cx="411.1" cy="613.3" r="8.7"/><circle cx="411.2" cy="613.6" r="8.7"/><circle cx="411.3" cy="601.5" r="8.7"/><circle cx="411.4" cy="607.6" r="8.7"/><circle cx="411.6" cy="613.7" r="8.7"/><circle cx="411.7" cy="613.0" r="8.7"/><circle cx="411.8" cy="601.5" r="8.7"/><circle cx="412.0" cy="609.8" r="8.7"/><circle cx="412.1" cy="607.4" r="8.7"/><circle cx="412.2" cy="608.1" r="8.7"/><circle cx="412.4" cy="623.9" r="8.7"/><circle cx="412.5" cy="607.4" r="8.7"/><circle cx="412.7" cy="610.2" r="8.7"/><circle cx="412.9" cy="613.1" r="8.7"/><circle cx="413.0" cy="611.8" r="8.7"/><circle cx="413.0" cy="615.5" r="8.7"/><circle cx="413.2" cy="604.3" r="8.7"/><circle cx="413.4" cy="607.4" r="8.7"/><circle cx="413.6" cy="626.1" r="8.7"/><circle cx="413.7" cy="611.0" r="8.7"/><circle cx="413.9" cy="607.5" r="8.7"/><circle cx="414.1" cy="614.5" r="8.7"/><circle cx="414.2" cy="604.5" r="8.7"/><circle cx="414.2" cy="614.5" r="8.7"/><circle cx="414.4" cy="605.2" r="8.7"/><circle cx="414.6" cy="620.2" r="8.7"/><circle cx="414.8" cy="618.3" r="8.7"/><circle cx="414.9" cy="618.6" r="8.7"/><circle cx="415.0" cy="610.1" r="8.7"/><circle cx="415.2" cy="605.3" r="8.7"/><circle cx="415.3" cy="609.2" r="8.7"/><circle cx="415.5" cy="610.9" r="8.7"/><circle cx="415.6" cy="606.6" r="8.7"/><circle cx="415.8" cy="602.6" r="8.7"/><circle cx="415.9" cy="604.1" r="8.7"/><circle cx="416.0" cy="602.4" r="8.7"/><circle cx="416.3" cy="607.8" r="8.7"/><circle cx="416.4" cy="610.6" r="8.7"/><circle cx="416.5" cy="635.5" r="8.7"/><circle cx="416.7" cy="609.2" r="8.7"/><circle cx="416.9" cy="604.8" r="8.7"/><circle cx="417.0" cy="607.5" r="8.7"/><circle cx="417.2" cy="607.6" r="8.7"/><circle cx="417.2" cy="615.5" r="8.7"/><circle cx="417.4" cy="609.1" r="8.7"/><circle cx="417.6" cy="603.8" r="8.7"/><circle cx="417.7" cy="608.9" r="8.7"/><circle cx="417.8" cy="602.0" r="8.7"/><circle cx="418.0" cy="607.9" r="8.7"/><circle cx="418.2" cy="606.4" r="8.7"/><circle cx="418.3" cy="601.0" r="8.7"/><circle cx="418.4" cy="607.4" r="8.7"/><circle cx="418.6" cy="610.3" r="8.7"/><circle cx="418.7" cy="606.0" r="8.7"/><circle cx="418.9" cy="610.3" r="8.7"/><circle cx="419.1" cy="606.4" r="8.7"/><circle cx="419.2" cy="604.3" r="8.7"/><circle cx="419.3" cy="605.2" r="8.7"/><circle cx="419.6" cy="619.0" r="8.7"/><circle cx="419.6" cy="609.9" r="8.7"/><circle cx="419.8" cy="626.5" r="8.7"/><circle cx="419.9" cy="623.0" r="8.7"/><circle cx="420.1" cy="611.0" r="8.7"/><circle cx="420.3" cy="603.3" r="8.7"/><circle cx="420.4" cy="611.8" r="8.7"/><circle cx="420.6" cy="608.2" r="8.7"/><circle cx="420.7" cy="603.4" r="8.7"/><circle cx="420.8" cy="608.1" r="8.7"/><circle cx="420.9" cy="612.1" r="8.7"/><circle cx="421.1" cy="607.3" r="8.7"/><circle cx="421.3" cy="603.4" r="8.7"/><circle cx="421.5" cy="604.8" r="8.7"/><circle cx="421.7" cy="605.2" r="8.7"/><circle cx="421.8" cy="605.3" r="8.7"/><circle cx="421.9" cy="615.1" r="8.7"/><circle cx="422.0" cy="608.4" r="8.7"/><circle cx="422.1" cy="609.4" r="8.7"/><circle cx="422.4" cy="601.1" r="8.7"/><circle cx="422.4" cy="601.8" r="8.7"/><circle cx="422.6" cy="602.5" r="8.7"/><circle cx="422.8" cy="606.3" r="8.7"/><circle cx="422.9" cy="595.3" r="8.7"/><circle cx="423.1" cy="602.9" r="8.7"/><circle cx="423.3" cy="603.3" r="8.7"/><circle cx="423.3" cy="602.1" r="8.7"/><circle cx="423.6" cy="605.9" r="8.7"/><circle cx="423.7" cy="604.4" r="8.7"/><circle cx="423.8" cy="603.2" r="8.7"/><circle cx="424.0" cy="596.3" r="8.7"/><circle cx="424.2" cy="600.7" r="8.7"/><circle cx="424.3" cy="603.9" r="8.7"/><circle cx="424.4" cy="599.3" r="8.7"/><circle cx="424.5" cy="599.2" r="8.7"/><circle cx="424.6" cy="606.6" r="8.7"/><circle cx="424.9" cy="598.3" r="8.7"/><circle cx="425.1" cy="590.8" r="8.7"/><circle cx="425.2" cy="611.3" r="8.7"/><circle cx="425.4" cy="605.0" r="8.7"/><circle cx="425.4" cy="595.8" r="8.7"/><circle cx="425.7" cy="606.0" r="8.7"/><circle cx="425.8" cy="603.6" r="8.7"/><circle cx="425.9" cy="601.0" r="8.7"/><circle cx="426.0" cy="611.7" r="8.7"/><circle cx="426.2" cy="603.8" r="8.7"/><circle cx="426.4" cy="593.1" r="8.7"/><circle cx="426.5" cy="599.9" r="8.7"/><circle cx="426.6" cy="596.3" r="8.7"/><circle cx="426.8" cy="598.9" r="8.7"/><circle cx="427.0" cy="598.0" r="8.7"/><circle cx="427.1" cy="608.3" r="8.7"/><circle cx="427.2" cy="602.4" r="8.7"/><circle cx="427.4" cy="596.6" r="8.7"/><circle cx="427.5" cy="614.4" r="8.7"/><circle cx="427.8" cy="603.5" r="8.7"/><circle cx="427.9" cy="603.0" r="8.7"/><circle cx="428.0" cy="590.7" r="8.7"/><circle cx="428.1" cy="608.3" r="8.7"/><circle cx="428.3" cy="595.8" r="8.7"/><circle cx="428.5" cy="614.1" r="8.7"/><circle cx="428.6" cy="599.8" r="8.7"/><circle cx="428.7" cy="596.1" r="8.7"/><circle cx="428.9" cy="603.4" r="8.7"/><circle cx="429.1" cy="601.7" r="8.7"/><circle cx="429.2" cy="603.1" r="8.7"/><circle cx="429.3" cy="598.5" r="8.7"/><circle cx="429.5" cy="603.1" r="8.7"/><circle cx="429.7" cy="594.1" r="8.7"/><circle cx="429.8" cy="597.0" r="8.7"/><circle cx="429.9" cy="638.7" r="8.7"/><circle cx="430.2" cy="595.4" r="8.7"/><circle cx="430.3" cy="598.2" r="8.7"/><circle cx="430.4" cy="597.7" r="8.7"/><circle cx="430.5" cy="603.2" r="8.7"/><circle cx="430.6" cy="599.2" r="8.7"/><circle cx="430.9" cy="597.9" r="8.7"/><circle cx="431.0" cy="596.7" r="8.7"/><circle cx="431.2" cy="596.8" r="8.7"/><circle cx="431.4" cy="598.5" r="8.7"/><circle cx="431.4" cy="615.1" r="8.7"/><circle cx="431.6" cy="596.0" r="8.7"/><circle cx="431.7" cy="601.3" r="8.7"/><circle cx="431.8" cy="595.6" r="8.7"/><circle cx="432.1" cy="603.2" r="8.7"/><circle cx="432.1" cy="595.4" r="8.7"/><circle cx="432.4" cy="597.6" r="8.7"/><circle cx="432.6" cy="590.7" r="8.7"/><circle cx="432.6" cy="623.0" r="8.7"/><circle cx="432.8" cy="597.6" r="8.7"/><circle cx="432.9" cy="598.4" r="8.7"/><circle cx="433.1" cy="603.5" r="8.7"/><circle cx="433.2" cy="610.1" r="8.7"/><circle cx="433.4" cy="592.1" r="8.7"/><circle cx="433.5" cy="591.4" r="8.7"/><circle cx="433.6" cy="589.7" r="8.7"/><circle cx="433.8" cy="602.0" r="8.7"/><circle cx="434.0" cy="599.0" r="8.7"/><circle cx="434.2" cy="601.9" r="8.7"/><circle cx="434.3" cy="595.6" r="8.7"/><circle cx="434.4" cy="594.6" r="8.7"/><circle cx="434.5" cy="591.7" r="8.7"/><circle cx="434.7" cy="606.1" r="8.7"/><circle cx="434.9" cy="592.9" r="8.7"/><circle cx="435.0" cy="593.9" r="8.7"/><circle cx="435.1" cy="610.1" r="8.7"/><circle cx="435.4" cy="597.9" r="8.7"/><circle cx="435.5" cy="595.8" r="8.7"/><circle cx="435.7" cy="586.1" r="8.7"/><circle cx="435.8" cy="590.2" r="8.7"/><circle cx="435.9" cy="591.2" r="8.7"/><circle cx="436.1" cy="598.9" r="8.7"/><circle cx="436.3" cy="594.5" r="8.7"/><circle cx="436.3" cy="591.8" r="8.7"/><circle cx="436.6" cy="599.8" r="8.7"/><circle cx="436.6" cy="603.5" r="8.7"/><circle cx="436.8" cy="602.8" r="8.7"/><circle cx="437.0" cy="592.9" r="8.7"/><circle cx="437.2" cy="593.6" r="8.7"/><circle cx="437.3" cy="592.7" r="8.7"/><circle cx="437.5" cy="596.1" r="8.7"/><circle cx="437.6" cy="589.4" r="8.7"/><circle cx="437.7" cy="597.2" r="8.7"/><circle cx="437.9" cy="597.4" r="8.7"/><circle cx="438.0" cy="590.9" r="8.7"/><circle cx="438.2" cy="588.6" r="8.7"/><circle cx="438.4" cy="597.0" r="8.7"/><circle cx="438.5" cy="592.6" r="8.7"/><circle cx="438.7" cy="587.2" r="8.7"/><circle cx="438.9" cy="590.4" r="8.7"/><circle cx="438.9" cy="594.3" r="8.7"/><circle cx="439.2" cy="590.5" r="8.7"/><circle cx="439.3" cy="593.3" r="8.7"/><circle cx="439.4" cy="594.0" r="8.7"/><circle cx="439.6" cy="592.7" r="8.7"/><circle cx="439.8" cy="605.4" r="8.7"/><circle cx="439.9" cy="592.8" r="8.7"/><circle cx="440.0" cy="595.0" r="8.7"/><circle cx="440.2" cy="593.7" r="8.7"/><circle cx="440.3" cy="608.9" r="8.7"/><circle cx="440.4" cy="597.7" r="8.7"/><circle cx="440.7" cy="591.2" r="8.7"/><circle cx="440.8" cy="595.7" r="8.7"/><circle cx="441.0" cy="587.3" r="8.7"/><circle cx="441.1" cy="592.3" r="8.7"/><circle cx="441.3" cy="590.9" r="8.7"/><circle cx="441.4" cy="592.5" r="8.7"/><circle cx="441.5" cy="586.3" r="8.7"/><circle cx="441.8" cy="596.5" r="8.7"/><circle cx="441.8" cy="592.2" r="8.7"/><circle cx="442.0" cy="590.3" r="8.7"/><circle cx="442.1" cy="594.5" r="8.7"/><circle cx="442.3" cy="593.4" r="8.7"/><circle cx="442.4" cy="590.8" r="8.7"/><circle cx="442.5" cy="582.5" r="8.7"/><circle cx="442.8" cy="586.2" r="8.7"/><circle cx="442.8" cy="587.9" r="8.7"/><circle cx="443.0" cy="581.6" r="8.7"/><circle cx="443.2" cy="582.0" r="8.7"/><circle cx="443.4" cy="588.5" r="8.7"/><circle cx="443.6" cy="615.5" r="8.7"/><circle cx="443.7" cy="588.7" r="8.7"/><circle cx="443.8" cy="595.0" r="8.7"/><circle cx="444.0" cy="593.8" r="8.7"/><circle cx="444.0" cy="590.6" r="8.7"/><circle cx="444.3" cy="593.4" r="8.7"/><circle cx="444.4" cy="586.2" r="8.7"/><circle cx="444.6" cy="592.7" r="8.7"/><circle cx="444.7" cy="586.2" r="8.7"/><circle cx="444.8" cy="591.7" r="8.7"/><circle cx="445.0" cy="588.5" r="8.7"/><circle cx="445.1" cy="592.9" r="8.7"/><circle cx="445.3" cy="588.8" r="8.7"/><circle cx="445.5" cy="595.9" r="8.7"/><circle cx="445.7" cy="589.8" r="8.7"/><circle cx="445.8" cy="584.6" r="8.7"/><circle cx="446.0" cy="604.3" r="8.7"/><circle cx="446.1" cy="589.0" r="8.7"/><circle cx="446.2" cy="592.8" r="8.7"/><circle cx="446.4" cy="600.8" r="8.7"/><circle cx="446.6" cy="600.3" r="8.7"/><circle cx="446.7" cy="589.8" r="8.7"/><circle cx="446.9" cy="595.3" r="8.7"/><circle cx="446.9" cy="589.5" r="8.7"/><circle cx="447.2" cy="586.7" r="8.7"/><circle cx="447.3" cy="582.4" r="8.7"/><circle cx="447.4" cy="585.6" r="8.7"/><circle cx="447.5" cy="588.6" r="8.7"/><circle cx="447.7" cy="601.2" r="8.7"/><circle cx="447.9" cy="591.4" r="8.7"/><circle cx="448.1" cy="588.2" r="8.7"/><circle cx="448.2" cy="585.5" r="8.7"/><circle cx="448.4" cy="590.4" r="8.7"/><circle cx="448.4" cy="584.2" r="8.7"/><circle cx="448.7" cy="602.2" r="8.7"/><circle cx="448.8" cy="585.7" r="8.7"/><circle cx="449.0" cy="591.9" r="8.7"/><circle cx="449.1" cy="585.6" r="8.7"/><circle cx="449.2" cy="587.8" r="8.7"/><circle cx="449.5" cy="584.0" r="8.7"/><circle cx="449.6" cy="585.4" r="8.7"/><circle cx="449.7" cy="590.3" r="8.7"/><circle cx="449.8" cy="586.2" r="8.7"/><circle cx="450.0" cy="591.0" r="8.7"/><circle cx="450.1" cy="597.7" r="8.7"/><circle cx="450.3" cy="585.6" r="8.7"/><circle cx="450.4" cy="593.3" r="8.7"/><circle cx="450.7" cy="581.8" r="8.7"/><circle cx="450.8" cy="587.2" r="8.7"/><circle cx="450.9" cy="584.3" r="8.7"/><circle cx="451.1" cy="583.7" r="8.7"/><circle cx="451.2" cy="582.0" r="8.7"/><circle cx="451.4" cy="584.9" r="8.7"/><circle cx="451.6" cy="577.6" r="8.7"/><circle cx="451.7" cy="584.4" r="8.7"/><circle cx="451.8" cy="590.5" r="8.7"/><circle cx="452.0" cy="582.9" r="8.7"/><circle cx="452.2" cy="585.0" r="8.7"/><circle cx="452.3" cy="589.3" r="8.7"/><circle cx="452.5" cy="581.0" r="8.7"/><circle cx="452.6" cy="590.7" r="8.7"/><circle cx="452.7" cy="598.8" r="8.7"/><circle cx="452.9" cy="582.5" r="8.7"/><circle cx="453.0" cy="594.4" r="8.7"/><circle cx="453.2" cy="578.8" r="8.7"/><circle cx="453.4" cy="580.0" r="8.7"/><circle cx="453.5" cy="589.5" r="8.7"/><circle cx="453.6" cy="582.9" r="8.7"/><circle cx="453.9" cy="581.0" r="8.7"/><circle cx="454.0" cy="577.1" r="8.7"/><circle cx="454.1" cy="579.5" r="8.7"/><circle cx="454.3" cy="582.5" r="8.7"/><circle cx="454.4" cy="588.6" r="8.7"/><circle cx="454.5" cy="586.2" r="8.7"/><circle cx="454.8" cy="573.7" r="8.7"/><circle cx="454.9" cy="580.8" r="8.7"/><circle cx="455.0" cy="579.1" r="8.7"/><circle cx="455.1" cy="591.6" r="8.7"/><circle cx="455.4" cy="579.5" r="8.7"/><circle cx="455.5" cy="587.1" r="8.7"/><circle cx="455.7" cy="580.3" r="8.7"/><circle cx="455.7" cy="585.3" r="8.7"/><circle cx="456.0" cy="588.7" r="8.7"/><circle cx="456.1" cy="582.2" r="8.7"/><circle cx="456.3" cy="579.4" r="8.7"/><circle cx="456.5" cy="577.4" r="8.7"/><circle cx="456.5" cy="577.8" r="8.7"/><circle cx="456.8" cy="600.0" r="8.7"/><circle cx="456.8" cy="585.5" r="8.7"/><circle cx="457.0" cy="588.1" r="8.7"/><circle cx="457.2" cy="587.0" r="8.7"/><circle cx="457.3" cy="581.7" r="8.7"/><circle cx="457.5" cy="586.8" r="8.7"/><circle cx="457.6" cy="580.4" r="8.7"/><circle cx="457.8" cy="576.4" r="8.7"/><circle cx="458.0" cy="583.1" r="8.7"/><circle cx="458.0" cy="575.9" r="8.7"/><circle cx="458.2" cy="578.0" r="8.7"/><circle cx="458.4" cy="582.9" r="8.7"/><circle cx="458.6" cy="579.5" r="8.7"/><circle cx="458.7" cy="586.2" r="8.7"/><circle cx="458.8" cy="579.5" r="8.7"/><circle cx="459.0" cy="584.2" r="8.7"/><circle cx="459.2" cy="578.0" r="8.7"/><circle cx="459.3" cy="565.9" r="8.7"/><circle cx="459.4" cy="579.5" r="8.7"/><circle cx="459.7" cy="590.6" r="8.7"/><circle cx="459.7" cy="580.1" r="8.7"/><circle cx="459.8" cy="577.1" r="8.7"/><circle cx="460.1" cy="575.2" r="8.7"/><circle cx="460.2" cy="576.6" r="8.7"/><circle cx="460.4" cy="581.6" r="8.7"/><circle cx="460.5" cy="583.0" r="8.7"/><circle cx="460.7" cy="579.1" r="8.7"/><circle cx="460.9" cy="576.6" r="8.7"/><circle cx="461.0" cy="594.3" r="8.7"/><circle cx="461.2" cy="580.4" r="8.7"/><circle cx="461.4" cy="577.0" r="8.7"/><circle cx="461.5" cy="575.7" r="8.7"/><circle cx="461.6" cy="577.4" r="8.7"/><circle cx="461.8" cy="577.3" r="8.7"/><circle cx="461.9" cy="584.0" r="8.7"/><circle cx="462.1" cy="578.4" r="8.7"/><circle cx="462.3" cy="577.4" r="8.7"/><circle cx="462.3" cy="577.1" r="8.7"/><circle cx="462.5" cy="578.2" r="8.7"/><circle cx="462.6" cy="578.6" r="8.7"/><circle cx="462.8" cy="582.7" r="8.7"/><circle cx="463.0" cy="574.2" r="8.7"/><circle cx="463.2" cy="575.1" r="8.7"/><circle cx="463.2" cy="580.1" r="8.7"/><circle cx="463.5" cy="577.1" r="8.7"/><circle cx="463.5" cy="579.6" r="8.7"/><circle cx="463.8" cy="581.6" r="8.7"/><circle cx="463.9" cy="577.3" r="8.7"/><circle cx="464.0" cy="581.7" r="8.7"/><circle cx="464.2" cy="577.7" r="8.7"/><circle cx="464.4" cy="582.6" r="8.7"/><circle cx="464.6" cy="576.5" r="8.7"/><circle cx="464.7" cy="571.6" r="8.7"/><circle cx="464.8" cy="583.5" r="8.7"/><circle cx="465.0" cy="573.9" r="8.7"/><circle cx="465.2" cy="577.2" r="8.7"/><circle cx="465.3" cy="589.2" r="8.7"/><circle cx="465.4" cy="577.5" r="8.7"/><circle cx="465.6" cy="581.1" r="8.7"/><circle cx="465.7" cy="578.2" r="8.7"/><circle cx="465.9" cy="566.4" r="8.7"/><circle cx="466.0" cy="581.9" r="8.7"/><circle cx="466.1" cy="574.0" r="8.7"/><circle cx="466.3" cy="581.7" r="8.7"/><circle cx="466.5" cy="579.3" r="8.7"/><circle cx="466.7" cy="573.3" r="8.7"/><circle cx="466.8" cy="588.1" r="8.7"/><circle cx="467.0" cy="579.5" r="8.7"/><circle cx="467.1" cy="579.4" r="8.7"/><circle cx="467.3" cy="570.6" r="8.7"/><circle cx="467.4" cy="580.7" r="8.7"/><circle cx="467.7" cy="575.2" r="8.7"/><circle cx="467.8" cy="572.6" r="8.7"/><circle cx="467.9" cy="573.8" r="8.7"/><circle cx="468.0" cy="569.5" r="8.7"/><circle cx="468.3" cy="577.2" r="8.7"/><circle cx="468.4" cy="597.1" r="8.7"/><circle cx="468.5" cy="573.2" r="8.7"/><circle cx="468.6" cy="569.6" r="8.7"/><circle cx="468.8" cy="581.4" r="8.7"/><circle cx="468.9" cy="578.5" r="8.7"/><circle cx="469.1" cy="577.0" r="8.7"/><circle cx="469.3" cy="574.3" r="8.7"/><circle cx="469.4" cy="574.4" r="8.7"/><circle cx="469.6" cy="579.2" r="8.7"/><circle cx="469.7" cy="585.5" r="8.7"/><circle cx="469.9" cy="573.3" r="8.7"/><circle cx="470.1" cy="574.9" r="8.7"/><circle cx="470.1" cy="560.8" r="8.7"/><circle cx="470.3" cy="572.6" r="8.7"/><circle cx="470.5" cy="574.6" r="8.7"/><circle cx="470.7" cy="568.0" r="8.7"/><circle cx="470.7" cy="576.9" r="8.7"/><circle cx="471.0" cy="570.1" r="8.7"/><circle cx="471.1" cy="570.4" r="8.7"/><circle cx="471.3" cy="573.9" r="8.7"/><circle cx="471.5" cy="568.9" r="8.7"/><circle cx="471.7" cy="573.7" r="8.7"/><circle cx="471.7" cy="570.1" r="8.7"/><circle cx="471.9" cy="570.7" r="8.7"/><circle cx="472.1" cy="572.1" r="8.7"/><circle cx="472.2" cy="560.5" r="8.7"/><circle cx="472.4" cy="563.6" r="8.7"/><circle cx="472.5" cy="569.1" r="8.7"/><circle cx="472.7" cy="570.6" r="8.7"/><circle cx="472.9" cy="564.6" r="8.7"/><circle cx="473.0" cy="562.1" r="8.7"/><circle cx="473.2" cy="574.0" r="8.7"/><circle cx="473.2" cy="569.2" r="8.7"/><circle cx="473.5" cy="572.2" r="8.7"/><circle cx="473.6" cy="558.4" r="8.7"/><circle cx="473.7" cy="570.7" r="8.7"/><circle cx="473.9" cy="569.5" r="8.7"/><circle cx="474.1" cy="571.4" r="8.7"/><circle cx="474.3" cy="560.9" r="8.7"/><circle cx="474.4" cy="576.9" r="8.7"/><circle cx="474.6" cy="569.9" r="8.7"/><circle cx="474.7" cy="574.4" r="8.7"/><circle cx="474.8" cy="577.6" r="8.7"/><circle cx="475.1" cy="567.4" r="8.7"/><circle cx="475.2" cy="564.3" r="8.7"/><circle cx="475.3" cy="570.0" r="8.7"/><circle cx="475.4" cy="571.5" r="8.7"/><circle cx="475.6" cy="570.6" r="8.7"/><circle cx="475.8" cy="557.3" r="8.7"/><circle cx="476.0" cy="578.4" r="8.7"/><circle cx="476.1" cy="566.7" r="8.7"/><circle cx="476.3" cy="577.3" r="8.7"/><circle cx="476.3" cy="577.5" r="8.7"/><circle cx="476.5" cy="572.8" r="8.7"/><circle cx="476.6" cy="571.9" r="8.7"/><circle cx="476.9" cy="574.0" r="8.7"/><circle cx="477.1" cy="580.7" r="8.7"/><circle cx="477.2" cy="566.0" r="8.7"/><circle cx="477.2" cy="567.8" r="8.7"/><circle cx="477.5" cy="568.1" r="8.7"/><circle cx="477.6" cy="576.5" r="8.7"/><circle cx="477.7" cy="572.5" r="8.7"/><circle cx="477.9" cy="559.7" r="8.7"/><circle cx="478.1" cy="581.5" r="8.7"/><circle cx="478.2" cy="568.6" r="8.7"/><circle cx="478.4" cy="570.6" r="8.7"/><circle cx="478.5" cy="567.2" r="8.7"/><circle cx="478.6" cy="569.1" r="8.7"/><circle cx="478.9" cy="564.3" r="8.7"/><circle cx="478.9" cy="569.3" r="8.7"/><circle cx="479.1" cy="572.5" r="8.7"/><circle cx="479.4" cy="564.4" r="8.7"/><circle cx="479.6" cy="568.3" r="8.7"/><circle cx="479.7" cy="567.4" r="8.7"/><circle cx="479.7" cy="570.9" r="8.7"/><circle cx="480.0" cy="581.0" r="8.7"/><circle cx="480.2" cy="565.3" r="8.7"/><circle cx="480.2" cy="566.3" r="8.7"/><circle cx="480.4" cy="563.9" r="8.7"/><circle cx="480.6" cy="569.1" r="8.7"/><circle cx="480.7" cy="573.4" r="8.7"/><circle cx="480.8" cy="567.2" r="8.7"/><circle cx="481.0" cy="563.6" r="8.7"/><circle cx="481.3" cy="565.6" r="8.7"/><circle cx="481.3" cy="564.6" r="8.7"/><circle cx="481.6" cy="565.9" r="8.7"/><circle cx="481.7" cy="572.9" r="8.7"/><circle cx="481.8" cy="564.2" r="8.7"/><circle cx="482.0" cy="574.4" r="8.7"/><circle cx="482.2" cy="574.9" r="8.7"/><circle cx="482.3" cy="561.5" r="8.7"/><circle cx="482.4" cy="566.3" r="8.7"/><circle cx="482.6" cy="561.6" r="8.7"/><circle cx="482.8" cy="570.4" r="8.7"/><circle cx="482.9" cy="564.7" r="8.7"/><circle cx="483.0" cy="568.9" r="8.7"/><circle cx="483.2" cy="571.3" r="8.7"/><circle cx="483.3" cy="561.7" r="8.7"/><circle cx="483.5" cy="563.7" r="8.7"/><circle cx="483.7" cy="569.0" r="8.7"/><circle cx="483.9" cy="566.2" r="8.7"/><circle cx="484.0" cy="556.2" r="8.7"/><circle cx="484.2" cy="562.9" r="8.7"/><circle cx="484.3" cy="575.5" r="8.7"/><circle cx="484.5" cy="572.5" r="8.7"/><circle cx="484.6" cy="576.9" r="8.7"/><circle cx="484.8" cy="569.6" r="8.7"/><circle cx="484.9" cy="558.6" r="8.7"/><circle cx="485.1" cy="563.1" r="8.7"/><circle cx="485.3" cy="563.8" r="8.7"/><circle cx="485.5" cy="571.5" r="8.7"/><circle cx="485.6" cy="561.6" r="8.7"/><circle cx="485.8" cy="565.1" r="8.7"/><circle cx="485.9" cy="558.5" r="8.7"/><circle cx="486.1" cy="569.1" r="8.7"/><circle cx="486.1" cy="562.6" r="8.7"/><circle cx="486.3" cy="559.2" r="8.7"/><circle cx="486.5" cy="567.1" r="8.7"/><circle cx="486.7" cy="562.0" r="8.7"/><circle cx="486.9" cy="557.1" r="8.7"/><circle cx="486.9" cy="567.7" r="8.7"/><circle cx="487.1" cy="554.6" r="8.7"/><circle cx="487.2" cy="559.8" r="8.7"/><circle cx="487.5" cy="560.4" r="8.7"/><circle cx="487.5" cy="563.4" r="8.7"/><circle cx="487.8" cy="561.7" r="8.7"/><circle cx="487.9" cy="570.7" r="8.7"/><circle cx="488.0" cy="557.6" r="8.7"/><circle cx="488.3" cy="559.2" r="8.7"/><circle cx="488.4" cy="567.3" r="8.7"/><circle cx="488.5" cy="565.4" r="8.7"/><circle cx="488.7" cy="565.0" r="8.7"/><circle cx="488.8" cy="562.8" r="8.7"/><circle cx="489.0" cy="567.3" r="8.7"/><circle cx="489.1" cy="569.3" r="8.7"/><circle cx="489.4" cy="556.9" r="8.7"/><circle cx="489.5" cy="565.6" r="8.7"/><circle cx="489.7" cy="559.1" r="8.7"/><circle cx="489.8" cy="558.9" r="8.7"/><circle cx="489.9" cy="568.9" r="8.7"/><circle cx="490.1" cy="562.5" r="8.7"/><circle cx="490.3" cy="559.5" r="8.7"/><circle cx="490.5" cy="556.7" r="8.7"/><circle cx="490.5" cy="558.0" r="8.7"/><circle cx="490.7" cy="556.5" r="8.7"/><circle cx="490.8" cy="565.5" r="8.7"/><circle cx="491.0" cy="556.3" r="8.7"/><circle cx="491.3" cy="564.3" r="8.7"/><circle cx="491.4" cy="561.4" r="8.7"/><circle cx="491.6" cy="560.8" r="8.7"/><circle cx="491.7" cy="563.0" r="8.7"/><circle cx="491.8" cy="550.9" r="8.7"/><circle cx="492.0" cy="559.5" r="8.7"/><circle cx="492.2" cy="565.6" r="8.7"/><circle cx="492.3" cy="559.6" r="8.7"/><circle cx="492.5" cy="569.6" r="8.7"/><circle cx="492.6" cy="560.3" r="8.7"/><circle cx="492.8" cy="558.4" r="8.7"/><circle cx="492.9" cy="560.7" r="8.7"/><circle cx="493.1" cy="556.7" r="8.7"/><circle cx="493.2" cy="560.5" r="8.7"/><circle cx="493.5" cy="558.1" r="8.7"/><circle cx="493.5" cy="567.9" r="8.7"/><circle cx="493.7" cy="572.8" r="8.7"/><circle cx="493.9" cy="554.9" r="8.7"/><circle cx="494.1" cy="564.0" r="8.7"/><circle cx="494.2" cy="560.0" r="8.7"/><circle cx="494.3" cy="555.2" r="8.7"/><circle cx="494.4" cy="554.5" r="8.7"/><circle cx="494.6" cy="553.2" r="8.7"/><circle cx="494.8" cy="557.3" r="8.7"/><circle cx="494.9" cy="559.8" r="8.7"/><circle cx="495.1" cy="558.0" r="8.7"/><circle cx="495.3" cy="573.4" r="8.7"/><circle cx="495.5" cy="551.2" r="8.7"/><circle cx="495.6" cy="562.6" r="8.7"/><circle cx="495.7" cy="552.9" r="8.7"/><circle cx="495.9" cy="575.1" r="8.7"/><circle cx="496.0" cy="551.4" r="8.7"/><circle cx="496.3" cy="558.1" r="8.7"/><circle cx="496.5" cy="558.6" r="8.7"/><circle cx="496.5" cy="555.3" r="8.7"/><circle cx="496.7" cy="558.4" r="8.7"/><circle cx="496.9" cy="553.9" r="8.7"/><circle cx="497.1" cy="559.3" r="8.7"/><circle cx="497.1" cy="574.2" r="8.7"/><circle cx="497.4" cy="558.6" r="8.7"/><circle cx="497.5" cy="555.3" r="8.7"/><circle cx="497.7" cy="553.7" r="8.7"/><circle cx="497.8" cy="530.9" r="8.7"/><circle cx="498.0" cy="544.8" r="8.7"/><circle cx="498.1" cy="544.5" r="8.7"/><circle cx="498.3" cy="551.8" r="8.7"/><circle cx="498.4" cy="551.7" r="8.7"/><circle cx="498.7" cy="553.4" r="8.7"/><circle cx="498.8" cy="555.0" r="8.7"/><circle cx="499.0" cy="569.5" r="8.7"/><circle cx="499.1" cy="547.0" r="8.7"/><circle cx="499.3" cy="557.0" r="8.7"/><circle cx="499.4" cy="557.8" r="8.7"/><circle cx="499.5" cy="560.0" r="8.7"/><circle cx="499.7" cy="559.8" r="8.7"/><circle cx="499.9" cy="555.8" r="8.7"/><circle cx="500.0" cy="557.6" r="8.7"/><circle cx="500.1" cy="552.9" r="8.7"/><circle cx="500.4" cy="551.3" r="8.7"/><circle cx="500.5" cy="555.0" r="8.7"/><circle cx="500.7" cy="556.6" r="8.7"/><circle cx="500.8" cy="558.1" r="8.7"/><circle cx="500.9" cy="552.7" r="8.7"/><circle cx="501.2" cy="554.9" r="8.7"/><circle cx="501.3" cy="557.4" r="8.7"/><circle cx="501.5" cy="548.5" r="8.7"/><circle cx="501.6" cy="550.2" r="8.7"/><circle cx="501.7" cy="553.9" r="8.7"/><circle cx="502.0" cy="554.0" r="8.7"/><circle cx="502.1" cy="553.4" r="8.7"/><circle cx="502.2" cy="555.2" r="8.7"/><circle cx="502.4" cy="548.8" r="8.7"/><circle cx="502.6" cy="554.0" r="8.7"/><circle cx="502.8" cy="551.8" r="8.7"/><circle cx="502.9" cy="567.1" r="8.7"/><circle cx="503.0" cy="546.7" r="8.7"/><circle cx="503.1" cy="561.2" r="8.7"/><circle cx="503.3" cy="551.3" r="8.7"/><circle cx="503.5" cy="561.6" r="8.7"/><circle cx="503.7" cy="542.2" r="8.7"/><circle cx="503.8" cy="554.5" r="8.7"/><circle cx="504.1" cy="549.1" r="8.7"/><circle cx="504.2" cy="552.6" r="8.7"/><circle cx="504.3" cy="553.1" r="8.7"/><circle cx="504.5" cy="550.3" r="8.7"/><circle cx="504.6" cy="546.8" r="8.7"/><circle cx="504.8" cy="547.2" r="8.7"/><circle cx="505.0" cy="546.5" r="8.7"/><circle cx="505.1" cy="561.4" r="8.7"/><circle cx="505.4" cy="548.9" r="8.7"/><circle cx="505.4" cy="546.3" r="8.7"/><circle cx="505.6" cy="551.2" r="8.7"/><circle cx="505.8" cy="551.3" r="8.7"/><circle cx="505.9" cy="551.0" r="8.7"/><circle cx="506.1" cy="552.9" r="8.7"/><circle cx="506.2" cy="547.5" r="8.7"/><circle cx="506.4" cy="553.7" r="8.7"/><circle cx="506.5" cy="549.0" r="8.7"/><circle cx="506.6" cy="556.5" r="8.7"/><circle cx="506.9" cy="546.9" r="8.7"/><circle cx="507.1" cy="552.9" r="8.7"/><circle cx="507.3" cy="543.3" r="8.7"/><circle cx="507.3" cy="546.9" r="8.7"/><circle cx="507.5" cy="546.1" r="8.7"/><circle cx="507.7" cy="554.7" r="8.7"/><circle cx="507.8" cy="549.2" r="8.7"/><circle cx="508.1" cy="540.9" r="8.7"/><circle cx="508.2" cy="547.6" r="8.7"/><circle cx="508.3" cy="545.9" r="8.7"/><circle cx="508.5" cy="555.4" r="8.7"/><circle cx="508.7" cy="550.5" r="8.7"/><circle cx="508.8" cy="550.8" r="8.7"/><circle cx="508.9" cy="553.0" r="8.7"/><circle cx="509.2" cy="550.6" r="8.7"/><circle cx="509.2" cy="545.9" r="8.7"/><circle cx="509.5" cy="548.1" r="8.7"/><circle cx="509.6" cy="546.9" r="8.7"/><circle cx="509.7" cy="546.7" r="8.7"/><circle cx="509.9" cy="551.0" r="8.7"/><circle cx="510.0" cy="549.0" r="8.7"/><circle cx="510.3" cy="545.7" r="8.7"/><circle cx="510.4" cy="545.3" r="8.7"/><circle cx="510.6" cy="549.7" r="8.7"/><circle cx="510.7" cy="546.2" r="8.7"/><circle cx="511.0" cy="544.6" r="8.7"/><circle cx="511.0" cy="548.2" r="8.7"/><circle cx="511.3" cy="543.6" r="8.7"/><circle cx="511.3" cy="550.6" r="8.7"/><circle cx="511.5" cy="551.4" r="8.7"/><circle cx="511.7" cy="562.6" r="8.7"/><circle cx="511.8" cy="550.8" r="8.7"/><circle cx="512.0" cy="542.3" r="8.7"/><circle cx="512.2" cy="544.3" r="8.7"/><circle cx="512.3" cy="543.8" r="8.7"/><circle cx="512.6" cy="555.3" r="8.7"/><circle cx="512.7" cy="542.5" r="8.7"/><circle cx="512.9" cy="547.5" r="8.7"/><circle cx="512.9" cy="552.0" r="8.7"/><circle cx="513.1" cy="546.3" r="8.7"/><circle cx="513.2" cy="544.0" r="8.7"/><circle cx="513.4" cy="545.3" r="8.7"/><circle cx="513.7" cy="544.4" r="8.7"/><circle cx="513.8" cy="541.6" r="8.7"/><circle cx="514.0" cy="548.3" r="8.7"/><circle cx="514.0" cy="543.9" r="8.7"/><circle cx="514.2" cy="547.4" r="8.7"/><circle cx="514.5" cy="542.5" r="8.7"/><circle cx="514.6" cy="541.0" r="8.7"/><circle cx="514.7" cy="536.2" r="8.7"/><circle cx="514.9" cy="538.6" r="8.7"/><circle cx="515.1" cy="547.8" r="8.7"/><circle cx="515.3" cy="533.0" r="8.7"/><circle cx="515.4" cy="557.1" r="8.7"/><circle cx="515.6" cy="539.6" r="8.7"/><circle cx="515.6" cy="544.3" r="8.7"/><circle cx="515.8" cy="531.6" r="8.7"/><circle cx="516.1" cy="544.5" r="8.7"/><circle cx="516.2" cy="546.4" r="8.7"/><circle cx="516.3" cy="540.9" r="8.7"/><circle cx="516.4" cy="560.6" r="8.7"/><circle cx="516.7" cy="562.6" r="8.7"/><circle cx="516.8" cy="558.6" r="8.7"/><circle cx="517.0" cy="541.1" r="8.7"/><circle cx="517.1" cy="538.8" r="8.7"/><circle cx="517.3" cy="540.3" r="8.7"/><circle cx="517.4" cy="550.2" r="8.7"/><circle cx="517.6" cy="541.9" r="8.7"/><circle cx="517.8" cy="542.9" r="8.7"/><circle cx="518.0" cy="533.5" r="8.7"/><circle cx="518.0" cy="542.7" r="8.7"/><circle cx="518.2" cy="538.8" r="8.7"/><circle cx="518.5" cy="543.6" r="8.7"/><circle cx="518.5" cy="538.3" r="8.7"/><circle cx="518.8" cy="541.0" r="8.7"/><circle cx="518.8" cy="541.3" r="8.7"/><circle cx="519.1" cy="538.0" r="8.7"/><circle cx="519.3" cy="564.5" r="8.7"/><circle cx="519.4" cy="544.1" r="8.7"/><circle cx="519.6" cy="540.8" r="8.7"/><circle cx="519.7" cy="541.4" r="8.7"/><circle cx="519.8" cy="537.7" r="8.7"/><circle cx="520.1" cy="542.3" r="8.7"/><circle cx="520.3" cy="547.9" r="8.7"/><circle cx="520.4" cy="540.4" r="8.7"/><circle cx="520.5" cy="542.3" r="8.7"/><circle cx="520.7" cy="546.3" r="8.7"/><circle cx="520.8" cy="543.7" r="8.7"/><circle cx="521.0" cy="540.6" r="8.7"/><circle cx="521.2" cy="537.6" r="8.7"/><circle cx="521.4" cy="546.1" r="8.7"/><circle cx="521.5" cy="540.0" r="8.7"/><circle cx="521.7" cy="537.4" r="8.7"/><circle cx="521.9" cy="532.4" r="8.7"/><circle cx="522.0" cy="535.7" r="8.7"/><circle cx="522.1" cy="540.3" r="8.7"/><circle cx="522.3" cy="541.1" r="8.7"/><circle cx="522.4" cy="532.6" r="8.7"/><circle cx="522.6" cy="536.9" r="8.7"/><circle cx="522.8" cy="538.1" r="8.7"/><circle cx="523.0" cy="539.3" r="8.7"/><circle cx="523.1" cy="538.3" r="8.7"/><circle cx="523.3" cy="555.0" r="8.7"/><circle cx="523.5" cy="534.0" r="8.7"/><circle cx="523.5" cy="531.4" r="8.7"/><circle cx="523.7" cy="535.8" r="8.7"/><circle cx="523.9" cy="537.4" r="8.7"/><circle cx="524.1" cy="533.1" r="8.7"/><circle cx="524.3" cy="536.2" r="8.7"/><circle cx="524.5" cy="537.6" r="8.7"/><circle cx="524.7" cy="545.3" r="8.7"/><circle cx="524.7" cy="536.6" r="8.7"/><circle cx="524.9" cy="533.8" r="8.7"/><circle cx="525.1" cy="541.2" r="8.7"/><circle cx="525.2" cy="539.7" r="8.7"/><circle cx="525.4" cy="533.2" r="8.7"/><circle cx="525.5" cy="536.8" r="8.7"/><circle cx="525.7" cy="547.8" r="8.7"/><circle cx="525.9" cy="538.1" r="8.7"/><circle cx="526.1" cy="531.7" r="8.7"/><circle cx="526.3" cy="532.7" r="8.7"/><circle cx="526.4" cy="535.1" r="8.7"/><circle cx="526.6" cy="535.7" r="8.7"/><circle cx="526.7" cy="534.1" r="8.7"/><circle cx="526.9" cy="543.9" r="8.7"/><circle cx="527.0" cy="533.9" r="8.7"/><circle cx="527.3" cy="535.4" r="8.7"/><circle cx="527.3" cy="541.9" r="8.7"/><circle cx="527.5" cy="533.9" r="8.7"/><circle cx="527.7" cy="531.2" r="8.7"/><circle cx="527.9" cy="535.0" r="8.7"/><circle cx="528.0" cy="533.8" r="8.7"/><circle cx="528.2" cy="541.4" r="8.7"/><circle cx="528.3" cy="536.5" r="8.7"/><circle cx="528.4" cy="539.5" r="8.7"/><circle cx="528.6" cy="530.3" r="8.7"/><circle cx="528.9" cy="528.1" r="8.7"/><circle cx="529.0" cy="538.2" r="8.7"/><circle cx="529.1" cy="534.1" r="8.7"/><circle cx="529.4" cy="527.8" r="8.7"/><circle cx="529.4" cy="533.1" r="8.7"/><circle cx="529.6" cy="538.5" r="8.7"/><circle cx="529.9" cy="527.8" r="8.7"/><circle cx="530.0" cy="536.0" r="8.7"/><circle cx="530.2" cy="532.4" r="8.7"/><circle cx="530.3" cy="528.4" r="8.7"/><circle cx="530.4" cy="531.5" r="8.7"/><circle cx="530.7" cy="533.0" r="8.7"/><circle cx="530.7" cy="533.8" r="8.7"/><circle cx="530.9" cy="559.9" r="8.7"/><circle cx="531.1" cy="532.3" r="8.7"/><circle cx="531.2" cy="529.9" r="8.7"/><circle cx="531.4" cy="534.8" r="8.7"/><circle cx="531.7" cy="530.7" r="8.7"/><circle cx="531.8" cy="534.8" r="8.7"/><circle cx="532.0" cy="531.2" r="8.7"/><circle cx="532.1" cy="544.0" r="8.7"/><circle cx="532.3" cy="531.0" r="8.7"/><circle cx="532.5" cy="533.4" r="8.7"/><circle cx="532.6" cy="529.6" r="8.7"/><circle cx="532.8" cy="538.3" r="8.7"/><circle cx="532.9" cy="527.0" r="8.7"/><circle cx="533.1" cy="551.1" r="8.7"/><circle cx="533.2" cy="532.2" r="8.7"/><circle cx="533.5" cy="533.1" r="8.7"/><circle cx="533.5" cy="532.5" r="8.7"/><circle cx="533.8" cy="523.0" r="8.7"/><circle cx="533.9" cy="526.2" r="8.7"/><circle cx="534.0" cy="530.7" r="8.7"/><circle cx="534.2" cy="533.0" r="8.7"/><circle cx="534.4" cy="533.8" r="8.7"/><circle cx="534.5" cy="530.2" r="8.7"/><circle cx="534.8" cy="535.9" r="8.7"/><circle cx="534.9" cy="530.2" r="8.7"/><circle cx="535.1" cy="527.7" r="8.7"/><circle cx="535.3" cy="532.4" r="8.7"/><circle cx="535.4" cy="531.1" r="8.7"/><circle cx="535.5" cy="525.3" r="8.7"/><circle cx="535.8" cy="530.4" r="8.7"/><circle cx="535.9" cy="530.2" r="8.7"/><circle cx="536.0" cy="532.0" r="8.7"/><circle cx="536.2" cy="529.3" r="8.7"/><circle cx="536.4" cy="529.2" r="8.7"/><circle cx="536.5" cy="531.6" r="8.7"/><circle cx="536.7" cy="532.7" r="8.7"/><circle cx="536.8" cy="522.2" r="8.7"/><circle cx="537.1" cy="531.3" r="8.7"/><circle cx="537.2" cy="531.2" r="8.7"/><circle cx="537.3" cy="533.5" r="8.7"/><circle cx="537.4" cy="524.9" r="8.7"/><circle cx="537.6" cy="528.2" r="8.7"/><circle cx="537.8" cy="528.3" r="8.7"/><circle cx="538.1" cy="539.3" r="8.7"/><circle cx="538.2" cy="530.2" r="8.7"/><circle cx="538.4" cy="527.8" r="8.7"/><circle cx="538.5" cy="532.8" r="8.7"/><circle cx="538.7" cy="532.3" r="8.7"/><circle cx="538.9" cy="524.1" r="8.7"/><circle cx="538.9" cy="525.1" r="8.7"/><circle cx="539.1" cy="531.2" r="8.7"/><circle cx="539.4" cy="535.2" r="8.7"/><circle cx="539.4" cy="535.3" r="8.7"/><circle cx="539.7" cy="527.9" r="8.7"/><circle cx="539.8" cy="522.7" r="8.7"/><circle cx="540.0" cy="528.4" r="8.7"/><circle cx="540.2" cy="526.4" r="8.7"/><circle cx="540.2" cy="530.3" r="8.7"/><circle cx="540.5" cy="532.8" r="8.7"/><circle cx="540.7" cy="535.2" r="8.7"/><circle cx="540.8" cy="525.8" r="8.7"/><circle cx="540.9" cy="529.8" r="8.7"/><circle cx="541.1" cy="534.2" r="8.7"/><circle cx="541.3" cy="528.2" r="8.7"/><circle cx="541.5" cy="532.8" r="8.7"/><circle cx="541.7" cy="526.6" r="8.7"/><circle cx="541.8" cy="529.5" r="8.7"/><circle cx="542.0" cy="519.3" r="8.7"/><circle cx="542.1" cy="526.6" r="8.7"/><circle cx="542.3" cy="529.9" r="8.7"/><circle cx="542.4" cy="526.9" r="8.7"/><circle cx="542.7" cy="521.9" r="8.7"/><circle cx="542.7" cy="524.4" r="8.7"/><circle cx="543.0" cy="523.6" r="8.7"/><circle cx="543.0" cy="528.4" r="8.7"/><circle cx="543.2" cy="525.0" r="8.7"/><circle cx="543.4" cy="519.6" r="8.7"/><circle cx="543.6" cy="535.7" r="8.7"/><circle cx="543.7" cy="528.2" r="8.7"/><circle cx="543.9" cy="528.9" r="8.7"/><circle cx="544.1" cy="522.5" r="8.7"/><circle cx="544.3" cy="532.3" r="8.7"/><circle cx="544.4" cy="525.6" r="8.7"/><circle cx="544.6" cy="529.8" r="8.7"/><circle cx="544.8" cy="528.1" r="8.7"/><circle cx="544.9" cy="526.2" r="8.7"/><circle cx="545.1" cy="525.7" r="8.7"/><circle cx="545.3" cy="527.8" r="8.7"/><circle cx="545.4" cy="535.4" r="8.7"/><circle cx="545.6" cy="524.8" r="8.7"/><circle cx="545.8" cy="521.5" r="8.7"/><circle cx="546.0" cy="531.1" r="8.7"/><circle cx="546.1" cy="521.3" r="8.7"/><circle cx="546.3" cy="518.2" r="8.7"/><circle cx="546.5" cy="515.7" r="8.7"/><circle cx="546.5" cy="525.0" r="8.7"/><circle cx="546.8" cy="517.4" r="8.7"/><circle cx="546.9" cy="524.6" r="8.7"/><circle cx="547.1" cy="534.8" r="8.7"/><circle cx="547.3" cy="523.0" r="8.7"/><circle cx="547.5" cy="520.9" r="8.7"/><circle cx="547.7" cy="525.7" r="8.7"/><circle cx="547.7" cy="522.7" r="8.7"/><circle cx="548.0" cy="526.1" r="8.7"/><circle cx="548.1" cy="519.0" r="8.7"/><circle cx="548.3" cy="522.1" r="8.7"/><circle cx="548.4" cy="524.1" r="8.7"/><circle cx="548.6" cy="502.9" r="8.7"/><circle cx="548.7" cy="522.4" r="8.7"/><circle cx="549.0" cy="524.3" r="8.7"/><circle cx="549.2" cy="523.3" r="8.7"/><circle cx="549.2" cy="506.4" r="8.7"/><circle cx="549.4" cy="528.0" r="8.7"/><circle cx="549.6" cy="520.8" r="8.7"/><circle cx="549.7" cy="519.3" r="8.7"/><circle cx="549.9" cy="528.6" r="8.7"/><circle cx="550.2" cy="524.5" r="8.7"/><circle cx="550.3" cy="532.1" r="8.7"/><circle cx="550.5" cy="516.5" r="8.7"/><circle cx="550.5" cy="525.7" r="8.7"/><circle cx="550.8" cy="517.9" r="8.7"/><circle cx="551.0" cy="525.3" r="8.7"/><circle cx="551.0" cy="517.6" r="8.7"/><circle cx="551.2" cy="520.3" r="8.7"/><circle cx="551.5" cy="525.9" r="8.7"/><circle cx="551.6" cy="524.5" r="8.7"/><circle cx="551.7" cy="520.2" r="8.7"/><circle cx="552.0" cy="528.8" r="8.7"/><circle cx="552.0" cy="523.5" r="8.7"/><circle cx="552.2" cy="520.2" r="8.7"/><circle cx="552.3" cy="520.7" r="8.7"/><circle cx="552.7" cy="522.7" r="8.7"/><circle cx="552.7" cy="520.4" r="8.7"/><circle cx="552.9" cy="517.5" r="8.7"/><circle cx="553.1" cy="531.4" r="8.7"/><circle cx="553.3" cy="531.2" r="8.7"/><circle cx="553.4" cy="514.7" r="8.7"/><circle cx="553.5" cy="519.2" r="8.7"/><circle cx="553.8" cy="516.8" r="8.7"/><circle cx="553.8" cy="521.4" r="8.7"/><circle cx="554.2" cy="519.0" r="8.7"/><circle cx="554.3" cy="528.3" r="8.7"/><circle cx="554.4" cy="520.9" r="8.7"/><circle cx="554.5" cy="523.8" r="8.7"/><circle cx="554.8" cy="517.2" r="8.7"/><circle cx="555.0" cy="519.8" r="8.7"/><circle cx="555.1" cy="522.5" r="8.7"/><circle cx="555.2" cy="527.1" r="8.7"/><circle cx="555.5" cy="510.5" r="8.7"/><circle cx="555.7" cy="510.8" r="8.7"/><circle cx="555.8" cy="518.3" r="8.7"/><circle cx="556.0" cy="520.2" r="8.7"/><circle cx="556.1" cy="517.0" r="8.7"/><circle cx="556.3" cy="514.9" r="8.7"/><circle cx="556.5" cy="517.1" r="8.7"/><circle cx="556.6" cy="514.3" r="8.7"/><circle cx="556.7" cy="516.7" r="8.7"/><circle cx="556.9" cy="518.8" r="8.7"/><circle cx="557.1" cy="517.9" r="8.7"/><circle cx="557.3" cy="517.8" r="8.7"/><circle cx="557.5" cy="509.2" r="8.7"/><circle cx="557.6" cy="520.6" r="8.7"/><circle cx="557.8" cy="532.3" r="8.7"/><circle cx="557.9" cy="522.2" r="8.7"/><circle cx="558.2" cy="525.2" r="8.7"/><circle cx="558.3" cy="516.3" r="8.7"/><circle cx="558.5" cy="514.8" r="8.7"/><circle cx="558.7" cy="518.2" r="8.7"/><circle cx="558.8" cy="512.5" r="8.7"/><circle cx="558.9" cy="516.2" r="8.7"/><circle cx="559.1" cy="511.3" r="8.7"/><circle cx="559.2" cy="519.9" r="8.7"/><circle cx="559.4" cy="505.7" r="8.7"/><circle cx="559.6" cy="511.1" r="8.7"/><circle cx="559.8" cy="509.8" r="8.7"/><circle cx="559.9" cy="512.7" r="8.7"/><circle cx="560.2" cy="516.7" r="8.7"/><circle cx="560.2" cy="518.4" r="8.7"/><circle cx="560.6" cy="534.9" r="8.7"/><circle cx="560.6" cy="517.6" r="8.7"/><circle cx="560.9" cy="516.7" r="8.7"/><circle cx="561.0" cy="517.7" r="8.7"/><circle cx="561.2" cy="520.6" r="8.7"/><circle cx="561.3" cy="512.1" r="8.7"/><circle cx="561.4" cy="518.3" r="8.7"/><circle cx="561.7" cy="512.6" r="8.7"/><circle cx="561.9" cy="509.5" r="8.7"/><circle cx="562.0" cy="517.7" r="8.7"/><circle cx="562.2" cy="509.5" r="8.7"/><circle cx="562.4" cy="512.9" r="8.7"/><circle cx="562.6" cy="513.7" r="8.7"/><circle cx="562.7" cy="515.1" r="8.7"/><circle cx="562.8" cy="506.7" r="8.7"/><circle cx="563.0" cy="513.1" r="8.7"/><circle cx="563.2" cy="525.4" r="8.7"/><circle cx="563.3" cy="517.1" r="8.7"/><circle cx="563.5" cy="511.5" r="8.7"/><circle cx="563.6" cy="516.4" r="8.7"/><circle cx="563.9" cy="511.9" r="8.7"/><circle cx="564.0" cy="512.7" r="8.7"/><circle cx="564.2" cy="509.1" r="8.7"/><circle cx="564.3" cy="507.4" r="8.7"/><circle cx="564.5" cy="527.8" r="8.7"/><circle cx="564.8" cy="512.5" r="8.7"/><circle cx="564.9" cy="511.2" r="8.7"/><circle cx="565.1" cy="512.6" r="8.7"/><circle cx="565.3" cy="507.1" r="8.7"/><circle cx="565.4" cy="510.2" r="8.7"/><circle cx="565.5" cy="513.4" r="8.7"/><circle cx="565.8" cy="512.6" r="8.7"/><circle cx="565.9" cy="507.0" r="8.7"/><circle cx="566.1" cy="518.3" r="8.7"/><circle cx="566.2" cy="514.2" r="8.7"/><circle cx="566.4" cy="511.3" r="8.7"/><circle cx="566.6" cy="512.4" r="8.7"/><circle cx="566.8" cy="509.1" r="8.7"/><circle cx="566.8" cy="546.9" r="8.7"/><circle cx="567.0" cy="517.7" r="8.7"/><circle cx="567.2" cy="531.8" r="8.7"/><circle cx="567.5" cy="510.1" r="8.7"/><circle cx="567.7" cy="521.1" r="8.7"/><circle cx="567.8" cy="514.2" r="8.7"/><circle cx="567.9" cy="512.4" r="8.7"/><circle cx="568.1" cy="516.5" r="8.7"/><circle cx="568.3" cy="515.9" r="8.7"/><circle cx="568.3" cy="514.9" r="8.7"/><circle cx="568.6" cy="507.4" r="8.7"/><circle cx="568.8" cy="508.7" r="8.7"/><circle cx="568.9" cy="517.2" r="8.7"/><circle cx="569.0" cy="510.2" r="8.7"/><circle cx="569.2" cy="510.0" r="8.7"/><circle cx="569.4" cy="499.9" r="8.7"/><circle cx="569.6" cy="505.4" r="8.7"/><circle cx="569.8" cy="506.0" r="8.7"/><circle cx="570.0" cy="500.2" r="8.7"/><circle cx="570.1" cy="504.2" r="8.7"/><circle cx="570.2" cy="511.3" r="8.7"/><circle cx="570.5" cy="517.9" r="8.7"/><circle cx="570.7" cy="512.3" r="8.7"/><circle cx="570.8" cy="509.5" r="8.7"/><circle cx="571.0" cy="501.6" r="8.7"/><circle cx="571.1" cy="500.2" r="8.7"/><circle cx="571.4" cy="501.8" r="8.7"/><circle cx="571.5" cy="502.9" r="8.7"/><circle cx="571.6" cy="498.7" r="8.7"/><circle cx="571.8" cy="503.0" r="8.7"/><circle cx="572.0" cy="507.6" r="8.7"/><circle cx="572.1" cy="507.7" r="8.7"/><circle cx="572.4" cy="507.3" r="8.7"/><circle cx="572.6" cy="507.3" r="8.7"/><circle cx="572.7" cy="508.0" r="8.7"/><circle cx="572.8" cy="506.5" r="8.7"/><circle cx="573.0" cy="501.0" r="8.7"/><circle cx="573.3" cy="497.4" r="8.7"/><circle cx="573.4" cy="502.5" r="8.7"/><circle cx="573.6" cy="509.1" r="8.7"/><circle cx="573.7" cy="517.7" r="8.7"/><circle cx="573.9" cy="518.0" r="8.7"/><circle cx="574.0" cy="503.7" r="8.7"/><circle cx="574.2" cy="506.1" r="8.7"/><circle cx="574.4" cy="505.7" r="8.7"/><circle cx="574.5" cy="505.2" r="8.7"/><circle cx="574.7" cy="498.0" r="8.7"/><circle cx="574.9" cy="501.3" r="8.7"/><circle cx="575.1" cy="500.4" r="8.7"/><circle cx="575.3" cy="503.4" r="8.7"/><circle cx="575.4" cy="502.8" r="8.7"/><circle cx="575.6" cy="505.9" r="8.7"/><circle cx="575.8" cy="503.8" r="8.7"/><circle cx="576.0" cy="498.2" r="8.7"/><circle cx="576.1" cy="509.2" r="8.7"/><circle cx="576.3" cy="508.5" r="8.7"/><circle cx="576.5" cy="497.7" r="8.7"/><circle cx="576.6" cy="499.7" r="8.7"/><circle cx="576.7" cy="507.0" r="8.7"/><circle cx="577.0" cy="507.9" r="8.7"/><circle cx="577.2" cy="497.2" r="8.7"/><circle cx="577.3" cy="505.8" r="8.7"/><circle cx="577.4" cy="505.8" r="8.7"/><circle cx="577.7" cy="497.4" r="8.7"/><circle cx="577.8" cy="501.2" r="8.7"/><circle cx="578.0" cy="500.0" r="8.7"/><circle cx="578.2" cy="503.5" r="8.7"/><circle cx="578.3" cy="517.6" r="8.7"/><circle cx="578.6" cy="504.7" r="8.7"/><circle cx="578.6" cy="506.0" r="8.7"/><circle cx="578.8" cy="503.7" r="8.7"/><circle cx="579.1" cy="496.8" r="8.7"/><circle cx="579.3" cy="499.0" r="8.7"/><circle cx="579.4" cy="496.7" r="8.7"/><circle cx="579.5" cy="504.7" r="8.7"/><circle cx="579.7" cy="502.1" r="8.7"/><circle cx="579.8" cy="506.9" r="8.7"/><circle cx="580.0" cy="504.0" r="8.7"/><circle cx="580.2" cy="501.8" r="8.7"/><circle cx="580.4" cy="509.3" r="8.7"/><circle cx="580.5" cy="502.9" r="8.7"/><circle cx="580.8" cy="507.9" r="8.7"/><circle cx="581.0" cy="506.8" r="8.7"/><circle cx="581.1" cy="495.3" r="8.7"/><circle cx="581.2" cy="496.7" r="8.7"/><circle cx="581.4" cy="500.8" r="8.7"/><circle cx="581.7" cy="502.3" r="8.7"/><circle cx="581.7" cy="500.1" r="8.7"/><circle cx="582.0" cy="500.7" r="8.7"/><circle cx="582.2" cy="495.5" r="8.7"/><circle cx="582.3" cy="487.0" r="8.7"/><circle cx="582.4" cy="496.9" r="8.7"/><circle cx="582.6" cy="497.6" r="8.7"/><circle cx="582.9" cy="503.6" r="8.7"/><circle cx="583.0" cy="500.0" r="8.7"/><circle cx="583.1" cy="497.3" r="8.7"/><circle cx="583.3" cy="495.4" r="8.7"/><circle cx="583.6" cy="506.1" r="8.7"/><circle cx="583.7" cy="502.9" r="8.7"/><circle cx="583.9" cy="518.1" r="8.7"/><circle cx="584.0" cy="498.7" r="8.7"/><circle cx="584.1" cy="509.8" r="8.7"/><circle cx="584.4" cy="500.7" r="8.7"/><circle cx="584.5" cy="495.7" r="8.7"/><circle cx="584.7" cy="503.4" r="8.7"/><circle cx="584.8" cy="491.3" r="8.7"/><circle cx="585.1" cy="498.4" r="8.7"/><circle cx="585.3" cy="503.8" r="8.7"/><circle cx="585.3" cy="499.6" r="8.7"/><circle cx="585.6" cy="493.4" r="8.7"/><circle cx="585.7" cy="505.3" r="8.7"/><circle cx="585.9" cy="507.5" r="8.7"/><circle cx="586.1" cy="499.1" r="8.7"/><circle cx="586.2" cy="490.2" r="8.7"/><circle cx="586.5" cy="498.0" r="8.7"/><circle cx="586.7" cy="497.2" r="8.7"/><circle cx="586.8" cy="500.0" r="8.7"/><circle cx="586.9" cy="507.2" r="8.7"/><circle cx="587.1" cy="498.9" r="8.7"/><circle cx="587.3" cy="490.0" r="8.7"/><circle cx="587.4" cy="496.1" r="8.7"/><circle cx="587.7" cy="493.0" r="8.7"/><circle cx="587.8" cy="492.0" r="8.7"/><circle cx="588.1" cy="494.7" r="8.7"/><circle cx="588.2" cy="494.6" r="8.7"/><circle cx="588.3" cy="501.8" r="8.7"/><circle cx="588.5" cy="489.5" r="8.7"/><circle cx="588.8" cy="495.1" r="8.7"/><circle cx="588.8" cy="501.7" r="8.7"/><circle cx="589.0" cy="498.9" r="8.7"/><circle cx="589.1" cy="495.0" r="8.7"/><circle cx="589.4" cy="532.6" r="8.7"/><circle cx="589.5" cy="492.6" r="8.7"/><circle cx="589.7" cy="500.6" r="8.7"/><circle cx="589.8" cy="486.2" r="8.7"/><circle cx="590.0" cy="494.7" r="8.7"/><circle cx="590.2" cy="508.4" r="8.7"/><circle cx="590.4" cy="490.4" r="8.7"/><circle cx="590.6" cy="499.5" r="8.7"/><circle cx="590.8" cy="489.6" r="8.7"/><circle cx="590.9" cy="493.6" r="8.7"/><circle cx="591.2" cy="496.1" r="8.7"/><circle cx="591.3" cy="496.5" r="8.7"/><circle cx="591.4" cy="497.9" r="8.7"/><circle cx="591.6" cy="489.6" r="8.7"/><circle cx="591.9" cy="487.0" r="8.7"/><circle cx="592.0" cy="495.4" r="8.7"/><circle cx="592.2" cy="489.1" r="8.7"/><circle cx="592.4" cy="494.3" r="8.7"/><circle cx="592.4" cy="488.9" r="8.7"/><circle cx="592.6" cy="490.7" r="8.7"/><circle cx="592.9" cy="498.0" r="8.7"/><circle cx="593.0" cy="495.6" r="8.7"/><circle cx="593.2" cy="497.0" r="8.7"/><circle cx="593.3" cy="489.9" r="8.7"/><circle cx="593.6" cy="493.0" r="8.7"/><circle cx="593.7" cy="487.8" r="8.7"/><circle cx="593.8" cy="488.5" r="8.7"/><circle cx="594.1" cy="496.8" r="8.7"/><circle cx="594.3" cy="491.0" r="8.7"/><circle cx="594.5" cy="487.6" r="8.7"/><circle cx="594.6" cy="489.5" r="8.7"/><circle cx="594.8" cy="497.2" r="8.7"/><circle cx="595.0" cy="494.3" r="8.7"/><circle cx="595.1" cy="498.3" r="8.7"/><circle cx="595.3" cy="492.8" r="8.7"/><circle cx="595.4" cy="493.3" r="8.7"/><circle cx="595.7" cy="495.0" r="8.7"/><circle cx="595.9" cy="497.5" r="8.7"/><circle cx="596.0" cy="490.5" r="8.7"/><circle cx="596.3" cy="489.5" r="8.7"/><circle cx="596.3" cy="494.0" r="8.7"/><circle cx="596.6" cy="487.5" r="8.7"/><circle cx="596.7" cy="488.7" r="8.7"/><circle cx="596.9" cy="491.6" r="8.7"/><circle cx="597.0" cy="494.0" r="8.7"/><circle cx="597.2" cy="488.8" r="8.7"/><circle cx="597.5" cy="494.4" r="8.7"/><circle cx="597.6" cy="488.2" r="8.7"/><circle cx="597.8" cy="495.4" r="8.7"/><circle cx="598.0" cy="491.3" r="8.7"/><circle cx="598.1" cy="490.2" r="8.7"/><circle cx="598.4" cy="494.5" r="8.7"/><circle cx="598.5" cy="519.1" r="8.7"/><circle cx="598.7" cy="488.4" r="8.7"/><circle cx="598.8" cy="484.4" r="8.7"/><circle cx="599.0" cy="481.1" r="8.7"/><circle cx="599.2" cy="489.3" r="8.7"/><circle cx="599.3" cy="492.5" r="8.7"/><circle cx="599.5" cy="496.6" r="8.7"/><circle cx="599.7" cy="484.7" r="8.7"/><circle cx="599.9" cy="488.8" r="8.7"/><circle cx="600.0" cy="485.8" r="8.7"/><circle cx="600.2" cy="491.3" r="8.7"/><circle cx="600.4" cy="485.7" r="8.7"/><circle cx="600.5" cy="486.3" r="8.7"/><circle cx="600.8" cy="484.2" r="8.7"/><circle cx="601.0" cy="498.3" r="8.7"/><circle cx="601.1" cy="491.7" r="8.7"/><circle cx="601.3" cy="491.7" r="8.7"/><circle cx="601.5" cy="488.4" r="8.7"/><circle cx="601.6" cy="487.1" r="8.7"/><circle cx="601.7" cy="505.7" r="8.7"/><circle cx="602.0" cy="494.0" r="8.7"/><circle cx="602.2" cy="486.9" r="8.7"/><circle cx="602.2" cy="487.9" r="8.7"/><circle cx="602.6" cy="497.0" r="8.7"/><circle cx="602.7" cy="483.5" r="8.7"/><circle cx="602.8" cy="488.4" r="8.7"/><circle cx="603.0" cy="488.3" r="8.7"/><circle cx="603.1" cy="482.9" r="8.7"/><circle cx="603.4" cy="490.0" r="8.7"/><circle cx="603.6" cy="490.5" r="8.7"/><circle cx="603.7" cy="487.9" r="8.7"/><circle cx="603.9" cy="485.2" r="8.7"/><circle cx="604.0" cy="479.6" r="8.7"/><circle cx="604.3" cy="492.0" r="8.7"/><circle cx="604.4" cy="484.7" r="8.7"/><circle cx="604.6" cy="496.5" r="8.7"/><circle cx="604.7" cy="484.5" r="8.7"/><circle cx="604.9" cy="488.8" r="8.7"/><circle cx="605.1" cy="498.1" r="8.7"/><circle cx="605.4" cy="485.4" r="8.7"/><circle cx="605.4" cy="482.0" r="8.7"/><circle cx="605.6" cy="508.0" r="8.7"/><circle cx="605.9" cy="481.8" r="8.7"/><circle cx="605.9" cy="479.3" r="8.7"/><circle cx="606.2" cy="482.9" r="8.7"/><circle cx="606.4" cy="499.7" r="8.7"/><circle cx="606.5" cy="484.7" r="8.7"/><circle cx="606.8" cy="477.2" r="8.7"/><circle cx="606.9" cy="482.2" r="8.7"/><circle cx="607.0" cy="511.2" r="8.7"/><circle cx="607.3" cy="478.9" r="8.7"/><circle cx="607.4" cy="483.2" r="8.7"/><circle cx="607.5" cy="481.1" r="8.7"/><circle cx="607.8" cy="481.9" r="8.7"/><circle cx="607.9" cy="492.9" r="8.7"/><circle cx="608.1" cy="489.4" r="8.7"/><circle cx="608.3" cy="487.7" r="8.7"/><circle cx="608.5" cy="478.9" r="8.7"/><circle cx="608.7" cy="479.5" r="8.7"/><circle cx="608.9" cy="494.7" r="8.7"/><circle cx="609.0" cy="480.4" r="8.7"/><circle cx="609.1" cy="489.9" r="8.7"/><circle cx="609.3" cy="490.0" r="8.7"/><circle cx="609.5" cy="482.2" r="8.7"/><circle cx="609.6" cy="484.7" r="8.7"/><circle cx="609.9" cy="482.6" r="8.7"/><circle cx="610.1" cy="484.5" r="8.7"/><circle cx="610.3" cy="481.7" r="8.7"/><circle cx="610.4" cy="481.1" r="8.7"/><circle cx="610.6" cy="480.3" r="8.7"/><circle cx="610.8" cy="483.5" r="8.7"/><circle cx="610.9" cy="486.4" r="8.7"/><circle cx="611.1" cy="494.9" r="8.7"/><circle cx="611.4" cy="486.9" r="8.7"/><circle cx="611.5" cy="484.2" r="8.7"/><circle cx="611.7" cy="477.6" r="8.7"/><circle cx="611.8" cy="475.6" r="8.7"/><circle cx="612.1" cy="479.7" r="8.7"/><circle cx="612.2" cy="465.0" r="8.7"/><circle cx="612.3" cy="477.5" r="8.7"/><circle cx="612.6" cy="476.0" r="8.7"/><circle cx="612.7" cy="473.1" r="8.7"/><circle cx="612.9" cy="481.3" r="8.7"/><circle cx="613.1" cy="487.8" r="8.7"/><circle cx="613.2" cy="480.4" r="8.7"/><circle cx="613.5" cy="479.1" r="8.7"/><circle cx="613.6" cy="484.4" r="8.7"/><circle cx="613.8" cy="475.7" r="8.7"/><circle cx="614.0" cy="475.9" r="8.7"/><circle cx="614.2" cy="479.6" r="8.7"/><circle cx="614.3" cy="492.6" r="8.7"/><circle cx="614.5" cy="506.7" r="8.7"/><circle cx="614.7" cy="476.0" r="8.7"/><circle cx="614.9" cy="484.5" r="8.7"/><circle cx="615.1" cy="479.1" r="8.7"/><circle cx="615.3" cy="489.7" r="8.7"/><circle cx="615.4" cy="487.3" r="8.7"/><circle cx="615.5" cy="476.5" r="8.7"/><circle cx="615.7" cy="480.0" r="8.7"/><circle cx="616.0" cy="474.5" r="8.7"/><circle cx="616.0" cy="476.4" r="8.7"/><circle cx="616.2" cy="472.7" r="8.7"/><circle cx="616.4" cy="472.9" r="8.7"/><circle cx="616.7" cy="477.5" r="8.7"/><circle cx="616.9" cy="474.6" r="8.7"/><circle cx="617.0" cy="477.2" r="8.7"/><circle cx="617.2" cy="476.5" r="8.7"/><circle cx="617.4" cy="479.2" r="8.7"/><circle cx="617.6" cy="475.8" r="8.7"/><circle cx="617.7" cy="479.6" r="8.7"/><circle cx="617.8" cy="477.1" r="8.7"/><circle cx="618.0" cy="478.3" r="8.7"/><circle cx="618.2" cy="481.5" r="8.7"/><circle cx="618.4" cy="476.6" r="8.7"/><circle cx="618.6" cy="470.4" r="8.7"/><circle cx="618.8" cy="488.0" r="8.7"/><circle cx="619.0" cy="471.4" r="8.7"/><circle cx="619.1" cy="475.2" r="8.7"/><circle cx="619.3" cy="475.6" r="8.7"/><circle cx="619.5" cy="479.7" r="8.7"/><circle cx="619.6" cy="480.3" r="8.7"/><circle cx="619.8" cy="486.9" r="8.7"/><circle cx="620.0" cy="474.7" r="8.7"/><circle cx="620.2" cy="474.2" r="8.7"/><circle cx="620.5" cy="478.0" r="8.7"/><circle cx="620.5" cy="485.3" r="8.7"/><circle cx="620.8" cy="479.3" r="8.7"/><circle cx="620.8" cy="475.1" r="8.7"/><circle cx="621.1" cy="471.2" r="8.7"/><circle cx="621.2" cy="476.0" r="8.7"/><circle cx="621.4" cy="476.7" r="8.7"/><circle cx="621.7" cy="473.6" r="8.7"/><circle cx="621.8" cy="472.3" r="8.7"/><circle cx="622.0" cy="473.5" r="8.7"/><circle cx="622.1" cy="473.4" r="8.7"/><circle cx="622.3" cy="468.5" r="8.7"/><circle cx="622.5" cy="472.5" r="8.7"/><circle cx="622.7" cy="471.3" r="8.7"/><circle cx="622.9" cy="475.2" r="8.7"/><circle cx="623.0" cy="471.0" r="8.7"/><circle cx="623.2" cy="479.9" r="8.7"/><circle cx="623.4" cy="472.3" r="8.7"/><circle cx="623.6" cy="483.2" r="8.7"/><circle cx="623.7" cy="473.9" r="8.7"/><circle cx="624.0" cy="473.4" r="8.7"/><circle cx="624.1" cy="477.7" r="8.7"/><circle cx="624.3" cy="494.1" r="8.7"/><circle cx="624.4" cy="471.3" r="8.7"/><circle cx="624.6" cy="484.2" r="8.7"/><circle cx="624.8" cy="473.1" r="8.7"/><circle cx="624.9" cy="479.7" r="8.7"/><circle cx="625.2" cy="470.1" r="8.7"/><circle cx="625.4" cy="467.6" r="8.7"/><circle cx="625.6" cy="471.8" r="8.7"/><circle cx="625.7" cy="475.1" r="8.7"/><circle cx="625.8" cy="471.0" r="8.7"/><circle cx="626.1" cy="476.1" r="8.7"/><circle cx="626.3" cy="469.8" r="8.7"/><circle cx="626.4" cy="473.8" r="8.7"/><circle cx="626.7" cy="470.2" r="8.7"/><circle cx="626.7" cy="469.4" r="8.7"/><circle cx="627.0" cy="481.3" r="8.7"/><circle cx="627.1" cy="469.7" r="8.7"/><circle cx="627.4" cy="468.5" r="8.7"/><circle cx="627.4" cy="474.2" r="8.7"/><circle cx="627.7" cy="477.2" r="8.7"/><circle cx="627.9" cy="467.9" r="8.7"/><circle cx="628.0" cy="479.5" r="8.7"/><circle cx="628.3" cy="480.1" r="8.7"/><circle cx="628.3" cy="478.4" r="8.7"/><circle cx="628.6" cy="466.4" r="8.7"/><circle cx="628.8" cy="467.8" r="8.7"/><circle cx="629.0" cy="471.8" r="8.7"/><circle cx="629.2" cy="473.7" r="8.7"/><circle cx="629.3" cy="469.8" r="8.7"/><circle cx="629.4" cy="469.4" r="8.7"/><circle cx="629.7" cy="470.3" r="8.7"/><circle cx="629.8" cy="468.2" r="8.7"/><circle cx="629.9" cy="483.7" r="8.7"/><circle cx="630.2" cy="471.3" r="8.7"/><circle cx="630.3" cy="460.7" r="8.7"/><circle cx="630.6" cy="476.2" r="8.7"/><circle cx="630.7" cy="467.1" r="8.7"/><circle cx="630.9" cy="472.4" r="8.7"/><circle cx="631.1" cy="472.3" r="8.7"/><circle cx="631.2" cy="470.8" r="8.7"/><circle cx="631.5" cy="464.8" r="8.7"/><circle cx="631.7" cy="467.1" r="8.7"/><circle cx="631.9" cy="474.0" r="8.7"/><circle cx="632.0" cy="474.8" r="8.7"/><circle cx="632.1" cy="468.9" r="8.7"/><circle cx="632.3" cy="470.5" r="8.7"/><circle cx="632.6" cy="470.3" r="8.7"/><circle cx="632.8" cy="462.9" r="8.7"/><circle cx="632.8" cy="469.2" r="8.7"/><circle cx="633.0" cy="467.6" r="8.7"/><circle cx="633.3" cy="464.7" r="8.7"/><circle cx="633.4" cy="456.1" r="8.7"/><circle cx="633.6" cy="472.8" r="8.7"/><circle cx="633.8" cy="470.8" r="8.7"/><circle cx="633.9" cy="461.2" r="8.7"/><circle cx="634.2" cy="468.4" r="8.7"/><circle cx="634.3" cy="467.4" r="8.7"/><circle cx="634.4" cy="463.9" r="8.7"/><circle cx="634.7" cy="461.5" r="8.7"/><circle cx="634.9" cy="464.9" r="8.7"/><circle cx="635.0" cy="474.0" r="8.7"/><circle cx="635.2" cy="465.2" r="8.7"/><circle cx="635.4" cy="460.0" r="8.7"/><circle cx="635.6" cy="462.7" r="8.7"/><circle cx="635.8" cy="468.5" r="8.7"/><circle cx="636.0" cy="470.7" r="8.7"/><circle cx="636.1" cy="459.8" r="8.7"/><circle cx="636.3" cy="464.3" r="8.7"/><circle cx="636.5" cy="458.3" r="8.7"/><circle cx="636.6" cy="464.6" r="8.7"/><circle cx="636.8" cy="462.8" r="8.7"/><circle cx="637.0" cy="461.5" r="8.7"/><circle cx="637.2" cy="462.3" r="8.7"/><circle cx="637.4" cy="464.9" r="8.7"/><circle cx="637.6" cy="468.4" r="8.7"/><circle cx="637.8" cy="471.3" r="8.7"/><circle cx="637.9" cy="464.1" r="8.7"/><circle cx="638.1" cy="455.3" r="8.7"/><circle cx="638.3" cy="469.4" r="8.7"/><circle cx="638.5" cy="454.7" r="8.7"/><circle cx="638.6" cy="462.1" r="8.7"/><circle cx="638.8" cy="455.8" r="8.7"/><circle cx="639.0" cy="475.8" r="8.7"/><circle cx="639.2" cy="462.8" r="8.7"/><circle cx="639.3" cy="461.7" r="8.7"/><circle cx="639.5" cy="462.5" r="8.7"/><circle cx="639.8" cy="458.0" r="8.7"/><circle cx="639.9" cy="451.8" r="8.7"/><circle cx="640.1" cy="466.1" r="8.7"/><circle cx="640.2" cy="463.5" r="8.7"/><circle cx="640.5" cy="461.0" r="8.7"/><circle cx="640.7" cy="454.6" r="8.7"/><circle cx="640.9" cy="467.8" r="8.7"/><circle cx="641.1" cy="462.7" r="8.7"/><circle cx="641.2" cy="469.2" r="8.7"/><circle cx="641.3" cy="461.5" r="8.7"/><circle cx="641.6" cy="458.5" r="8.7"/><circle cx="641.7" cy="456.1" r="8.7"/><circle cx="641.9" cy="464.2" r="8.7"/><circle cx="642.1" cy="462.1" r="8.7"/><circle cx="642.2" cy="457.2" r="8.7"/><circle cx="642.5" cy="465.7" r="8.7"/><circle cx="642.7" cy="460.3" r="8.7"/><circle cx="642.8" cy="460.7" r="8.7"/><circle cx="643.0" cy="462.1" r="8.7"/><circle cx="643.2" cy="454.0" r="8.7"/><circle cx="643.3" cy="460.0" r="8.7"/><circle cx="643.6" cy="470.7" r="8.7"/><circle cx="643.7" cy="461.1" r="8.7"/><circle cx="643.9" cy="460.4" r="8.7"/><circle cx="644.2" cy="463.6" r="8.7"/><circle cx="644.3" cy="459.7" r="8.7"/><circle cx="644.4" cy="459.7" r="8.7"/><circle cx="644.7" cy="458.5" r="8.7"/><circle cx="644.7" cy="463.4" r="8.7"/><circle cx="644.9" cy="465.4" r="8.7"/><circle cx="645.1" cy="466.7" r="8.7"/><circle cx="645.3" cy="457.4" r="8.7"/><circle cx="645.6" cy="456.5" r="8.7"/><circle cx="645.8" cy="461.3" r="8.7"/><circle cx="645.9" cy="458.5" r="8.7"/><circle cx="646.1" cy="457.8" r="8.7"/><circle cx="646.3" cy="468.6" r="8.7"/><circle cx="646.4" cy="461.1" r="8.7"/><circle cx="646.6" cy="459.2" r="8.7"/><circle cx="646.7" cy="451.3" r="8.7"/><circle cx="647.0" cy="466.3" r="8.7"/><circle cx="647.1" cy="462.1" r="8.7"/><circle cx="647.4" cy="453.9" r="8.7"/><circle cx="647.6" cy="455.4" r="8.7"/><circle cx="647.6" cy="455.6" r="8.7"/><circle cx="647.8" cy="457.5" r="8.7"/><circle cx="648.1" cy="453.3" r="8.7"/><circle cx="648.2" cy="454.5" r="8.7"/><circle cx="648.4" cy="460.9" r="8.7"/><circle cx="648.5" cy="459.0" r="8.7"/><circle cx="648.8" cy="472.6" r="8.7"/><circle cx="649.0" cy="459.5" r="8.7"/><circle cx="649.1" cy="455.9" r="8.7"/><circle cx="649.4" cy="456.1" r="8.7"/><circle cx="649.5" cy="455.8" r="8.7"/><circle cx="649.8" cy="453.4" r="8.7"/><circle cx="649.9" cy="455.2" r="8.7"/><circle cx="650.0" cy="464.1" r="8.7"/><circle cx="650.3" cy="459.5" r="8.7"/><circle cx="650.4" cy="457.5" r="8.7"/><circle cx="650.7" cy="462.7" r="8.7"/><circle cx="650.7" cy="468.6" r="8.7"/><circle cx="651.0" cy="454.4" r="8.7"/><circle cx="651.2" cy="457.9" r="8.7"/><circle cx="651.4" cy="459.5" r="8.7"/><circle cx="651.4" cy="472.3" r="8.7"/><circle cx="651.8" cy="452.3" r="8.7"/><circle cx="652.0" cy="457.6" r="8.7"/><circle cx="652.0" cy="452.5" r="8.7"/><circle cx="652.3" cy="460.1" r="8.7"/><circle cx="652.5" cy="458.2" r="8.7"/><circle cx="652.6" cy="449.6" r="8.7"/><circle cx="652.9" cy="453.5" r="8.7"/><circle cx="652.9" cy="460.5" r="8.7"/><circle cx="653.2" cy="452.9" r="8.7"/><circle cx="653.4" cy="465.4" r="8.7"/><circle cx="653.6" cy="455.1" r="8.7"/><circle cx="653.7" cy="457.2" r="8.7"/><circle cx="653.8" cy="464.6" r="8.7"/><circle cx="654.1" cy="451.0" r="8.7"/><circle cx="654.3" cy="463.6" r="8.7"/><circle cx="654.4" cy="455.3" r="8.7"/><circle cx="654.6" cy="453.7" r="8.7"/><circle cx="654.8" cy="465.4" r="8.7"/><circle cx="654.9" cy="471.1" r="8.7"/><circle cx="655.2" cy="448.9" r="8.7"/><circle cx="655.3" cy="451.3" r="8.7"/><circle cx="655.6" cy="446.8" r="8.7"/><circle cx="655.6" cy="454.8" r="8.7"/><circle cx="655.9" cy="453.6" r="8.7"/><circle cx="656.0" cy="451.9" r="8.7"/><circle cx="656.3" cy="449.1" r="8.7"/><circle cx="656.4" cy="455.8" r="8.7"/><circle cx="656.6" cy="457.1" r="8.7"/><circle cx="656.8" cy="456.1" r="8.7"/><circle cx="657.0" cy="452.1" r="8.7"/><circle cx="657.3" cy="443.0" r="8.7"/><circle cx="657.4" cy="449.8" r="8.7"/><circle cx="657.5" cy="459.2" r="8.7"/><circle cx="657.7" cy="453.3" r="8.7"/><circle cx="657.9" cy="454.0" r="8.7"/><circle cx="658.1" cy="448.2" r="8.7"/><circle cx="658.3" cy="456.9" r="8.7"/><circle cx="658.5" cy="455.1" r="8.7"/><circle cx="658.6" cy="456.2" r="8.7"/><circle cx="658.9" cy="446.8" r="8.7"/><circle cx="658.9" cy="451.0" r="8.7"/><circle cx="659.3" cy="447.4" r="8.7"/><circle cx="659.3" cy="455.7" r="8.7"/><circle cx="659.6" cy="456.4" r="8.7"/><circle cx="659.8" cy="454.3" r="8.7"/><circle cx="659.9" cy="453.1" r="8.7"/><circle cx="660.1" cy="448.3" r="8.7"/><circle cx="660.2" cy="447.1" r="8.7"/><circle cx="660.4" cy="449.8" r="8.7"/><circle cx="660.6" cy="446.2" r="8.7"/><circle cx="660.9" cy="450.6" r="8.7"/><circle cx="661.1" cy="425.3" r="8.7"/><circle cx="661.2" cy="452.9" r="8.7"/><circle cx="661.4" cy="452.3" r="8.7"/><circle cx="661.6" cy="450.6" r="8.7"/><circle cx="661.8" cy="444.4" r="8.7"/><circle cx="661.9" cy="444.8" r="8.7"/><circle cx="662.1" cy="446.6" r="8.7"/><circle cx="662.3" cy="451.3" r="8.7"/><circle cx="662.6" cy="461.8" r="8.7"/><circle cx="662.7" cy="447.2" r="8.7"/><circle cx="662.9" cy="448.5" r="8.7"/><circle cx="663.1" cy="439.4" r="8.7"/><circle cx="663.3" cy="450.4" r="8.7"/><circle cx="663.5" cy="444.0" r="8.7"/><circle cx="663.7" cy="448.5" r="8.7"/><circle cx="663.8" cy="447.7" r="8.7"/><circle cx="663.9" cy="452.3" r="8.7"/><circle cx="664.2" cy="442.9" r="8.7"/><circle cx="664.3" cy="449.0" r="8.7"/><circle cx="664.6" cy="445.8" r="8.7"/><circle cx="664.8" cy="454.4" r="8.7"/><circle cx="664.9" cy="445.8" r="8.7"/><circle cx="665.2" cy="444.6" r="8.7"/><circle cx="665.2" cy="445.7" r="8.7"/><circle cx="665.5" cy="448.4" r="8.7"/><circle cx="665.6" cy="436.4" r="8.7"/><circle cx="665.8" cy="444.6" r="8.7"/><circle cx="666.0" cy="446.8" r="8.7"/><circle cx="666.2" cy="446.4" r="8.7"/><circle cx="666.3" cy="451.0" r="8.7"/><circle cx="666.5" cy="456.2" r="8.7"/><circle cx="666.7" cy="446.7" r="8.7"/><circle cx="666.9" cy="447.6" r="8.7"/><circle cx="667.2" cy="453.2" r="8.7"/><circle cx="667.3" cy="441.7" r="8.7"/><circle cx="667.4" cy="445.0" r="8.7"/><circle cx="667.6" cy="441.0" r="8.7"/><circle cx="667.9" cy="444.0" r="8.7"/><circle cx="668.1" cy="446.2" r="8.7"/><circle cx="668.3" cy="444.7" r="8.7"/><circle cx="668.4" cy="451.5" r="8.7"/><circle cx="668.5" cy="446.0" r="8.7"/><circle cx="668.8" cy="443.8" r="8.7"/><circle cx="669.0" cy="434.8" r="8.7"/><circle cx="669.1" cy="441.8" r="8.7"/><circle cx="669.3" cy="442.8" r="8.7"/><circle cx="669.6" cy="444.5" r="8.7"/><circle cx="669.7" cy="442.8" r="8.7"/><circle cx="669.9" cy="443.1" r="8.7"/><circle cx="670.1" cy="443.3" r="8.7"/><circle cx="670.3" cy="448.4" r="8.7"/><circle cx="670.5" cy="447.0" r="8.7"/><circle cx="670.5" cy="450.4" r="8.7"/><circle cx="670.7" cy="439.7" r="8.7"/><circle cx="671.0" cy="444.8" r="8.7"/><circle cx="671.2" cy="451.8" r="8.7"/><circle cx="671.4" cy="448.3" r="8.7"/><circle cx="671.5" cy="441.8" r="8.7"/><circle cx="671.7" cy="441.9" r="8.7"/><circle cx="672.0" cy="437.2" r="8.7"/><circle cx="672.0" cy="453.7" r="8.7"/><circle cx="672.3" cy="441.8" r="8.7"/><circle cx="672.4" cy="443.3" r="8.7"/><circle cx="672.6" cy="443.7" r="8.7"/><circle cx="672.8" cy="442.5" r="8.7"/><circle cx="673.0" cy="443.2" r="8.7"/><circle cx="673.1" cy="458.3" r="8.7"/><circle cx="673.5" cy="441.2" r="8.7"/><circle cx="673.7" cy="440.2" r="8.7"/><circle cx="673.7" cy="436.9" r="8.7"/><circle cx="673.9" cy="439.0" r="8.7"/><circle cx="674.1" cy="451.9" r="8.7"/><circle cx="674.3" cy="439.6" r="8.7"/><circle cx="674.5" cy="441.1" r="8.7"/><circle cx="674.7" cy="451.3" r="8.7"/><circle cx="674.9" cy="440.8" r="8.7"/><circle cx="675.0" cy="438.9" r="8.7"/><circle cx="675.3" cy="444.7" r="8.7"/><circle cx="675.4" cy="442.5" r="8.7"/><circle cx="675.7" cy="439.1" r="8.7"/><circle cx="675.9" cy="437.1" r="8.7"/><circle cx="676.0" cy="442.1" r="8.7"/><circle cx="676.2" cy="441.2" r="8.7"/><circle cx="676.4" cy="439.1" r="8.7"/><circle cx="676.5" cy="437.7" r="8.7"/><circle cx="676.7" cy="443.6" r="8.7"/><circle cx="676.9" cy="435.2" r="8.7"/><circle cx="677.0" cy="434.9" r="8.7"/><circle cx="677.3" cy="429.4" r="8.7"/><circle cx="677.5" cy="441.8" r="8.7"/><circle cx="677.7" cy="434.8" r="8.7"/><circle cx="677.9" cy="437.4" r="8.7"/><circle cx="678.0" cy="433.7" r="8.7"/><circle cx="678.1" cy="437.1" r="8.7"/><circle cx="678.4" cy="434.6" r="8.7"/><circle cx="678.5" cy="452.3" r="8.7"/><circle cx="678.7" cy="432.2" r="8.7"/><circle cx="679.0" cy="431.1" r="8.7"/><circle cx="679.1" cy="441.5" r="8.7"/><circle cx="679.3" cy="439.1" r="8.7"/><circle cx="679.5" cy="432.3" r="8.7"/><circle cx="679.8" cy="430.2" r="8.7"/><circle cx="679.9" cy="436.5" r="8.7"/><circle cx="680.2" cy="446.3" r="8.7"/><circle cx="680.3" cy="438.3" r="8.7"/><circle cx="680.5" cy="439.8" r="8.7"/><circle cx="680.6" cy="441.8" r="8.7"/><circle cx="680.8" cy="433.1" r="8.7"/><circle cx="681.0" cy="440.0" r="8.7"/><circle cx="681.1" cy="428.1" r="8.7"/><circle cx="681.3" cy="436.6" r="8.7"/><circle cx="681.6" cy="434.5" r="8.7"/><circle cx="681.8" cy="433.1" r="8.7"/><circle cx="682.0" cy="442.4" r="8.7"/><circle cx="682.1" cy="435.8" r="8.7"/><circle cx="682.2" cy="437.4" r="8.7"/><circle cx="682.5" cy="432.5" r="8.7"/><circle cx="682.6" cy="442.3" r="8.7"/><circle cx="682.8" cy="441.1" r="8.7"/><circle cx="683.0" cy="434.5" r="8.7"/><circle cx="683.3" cy="434.9" r="8.7"/><circle cx="683.4" cy="432.9" r="8.7"/><circle cx="683.5" cy="433.4" r="8.7"/><circle cx="683.7" cy="429.7" r="8.7"/><circle cx="684.0" cy="430.4" r="8.7"/><circle cx="684.2" cy="436.3" r="8.7"/><circle cx="684.4" cy="434.8" r="8.7"/><circle cx="684.5" cy="430.9" r="8.7"/><circle cx="684.8" cy="434.5" r="8.7"/><circle cx="684.9" cy="439.9" r="8.7"/><circle cx="685.2" cy="426.7" r="8.7"/><circle cx="685.4" cy="436.1" r="8.7"/><circle cx="685.5" cy="431.9" r="8.7"/><circle cx="685.7" cy="439.1" r="8.7"/><circle cx="685.9" cy="427.5" r="8.7"/><circle cx="686.1" cy="432.4" r="8.7"/><circle cx="686.2" cy="432.7" r="8.7"/><circle cx="686.4" cy="432.9" r="8.7"/><circle cx="686.6" cy="436.0" r="8.7"/><circle cx="686.8" cy="437.3" r="8.7"/><circle cx="687.0" cy="434.9" r="8.7"/><circle cx="687.3" cy="432.2" r="8.7"/><circle cx="687.4" cy="439.7" r="8.7"/><circle cx="687.5" cy="443.7" r="8.7"/><circle cx="687.7" cy="431.0" r="8.7"/><circle cx="688.0" cy="432.6" r="8.7"/><circle cx="688.1" cy="426.2" r="8.7"/><circle cx="688.3" cy="435.0" r="8.7"/><circle cx="688.5" cy="435.0" r="8.7"/><circle cx="688.6" cy="431.7" r="8.7"/><circle cx="688.8" cy="428.5" r="8.7"/><circle cx="689.0" cy="430.5" r="8.7"/><circle cx="689.2" cy="434.0" r="8.7"/><circle cx="689.5" cy="428.2" r="8.7"/><circle cx="689.6" cy="427.7" r="8.7"/><circle cx="689.7" cy="436.4" r="8.7"/><circle cx="690.0" cy="424.5" r="8.7"/><circle cx="690.1" cy="428.2" r="8.7"/><circle cx="690.3" cy="431.2" r="8.7"/><circle cx="690.6" cy="426.8" r="8.7"/><circle cx="690.7" cy="440.5" r="8.7"/><circle cx="691.0" cy="426.4" r="8.7"/><circle cx="691.1" cy="429.1" r="8.7"/><circle cx="691.2" cy="430.1" r="8.7"/><circle cx="691.4" cy="427.4" r="8.7"/><circle cx="691.7" cy="433.2" r="8.7"/><circle cx="691.8" cy="422.3" r="8.7"/><circle cx="692.0" cy="420.9" r="8.7"/><circle cx="692.3" cy="423.3" r="8.7"/><circle cx="692.4" cy="425.5" r="8.7"/><circle cx="692.6" cy="421.3" r="8.7"/><circle cx="692.8" cy="433.0" r="8.7"/><circle cx="693.1" cy="427.3" r="8.7"/><circle cx="693.2" cy="425.6" r="8.7"/><circle cx="693.3" cy="430.0" r="8.7"/><circle cx="693.6" cy="425.2" r="8.7"/><circle cx="693.7" cy="444.8" r="8.7"/><circle cx="694.0" cy="431.0" r="8.7"/><circle cx="694.2" cy="435.9" r="8.7"/><circle cx="694.4" cy="426.6" r="8.7"/><circle cx="694.5" cy="428.6" r="8.7"/><circle cx="694.7" cy="421.4" r="8.7"/><circle cx="694.9" cy="430.7" r="8.7"/><circle cx="695.1" cy="424.6" r="8.7"/><circle cx="695.2" cy="449.0" r="8.7"/><circle cx="695.5" cy="424.8" r="8.7"/><circle cx="695.7" cy="428.8" r="8.7"/><circle cx="695.9" cy="437.3" r="8.7"/><circle cx="696.0" cy="418.2" r="8.7"/><circle cx="696.1" cy="422.7" r="8.7"/><circle cx="696.3" cy="427.2" r="8.7"/><circle cx="696.6" cy="426.1" r="8.7"/><circle cx="696.7" cy="418.8" r="8.7"/><circle cx="697.0" cy="433.2" r="8.7"/><circle cx="697.1" cy="435.1" r="8.7"/><circle cx="697.4" cy="422.2" r="8.7"/><circle cx="697.5" cy="414.5" r="8.7"/><circle cx="697.7" cy="423.4" r="8.7"/><circle cx="697.8" cy="428.8" r="8.7"/><circle cx="698.0" cy="423.9" r="8.7"/><circle cx="698.2" cy="419.9" r="8.7"/><circle cx="698.5" cy="441.5" r="8.7"/><circle cx="698.7" cy="422.4" r="8.7"/><circle cx="698.8" cy="425.7" r="8.7"/><circle cx="699.1" cy="427.3" r="8.7"/><circle cx="699.2" cy="422.1" r="8.7"/><circle cx="699.4" cy="420.3" r="8.7"/><circle cx="699.6" cy="416.7" r="8.7"/><circle cx="699.8" cy="430.9" r="8.7"/><circle cx="699.9" cy="421.0" r="8.7"/><circle cx="700.1" cy="425.6" r="8.7"/><circle cx="700.3" cy="421.6" r="8.7"/><circle cx="700.6" cy="425.1" r="8.7"/><circle cx="700.8" cy="415.4" r="8.7"/><circle cx="700.9" cy="427.9" r="8.7"/><circle cx="701.0" cy="424.5" r="8.7"/><circle cx="701.3" cy="422.2" r="8.7"/><circle cx="701.5" cy="424.6" r="8.7"/><circle cx="701.6" cy="430.7" r="8.7"/><circle cx="701.8" cy="417.3" r="8.7"/><circle cx="702.1" cy="424.8" r="8.7"/><circle cx="702.2" cy="426.7" r="8.7"/><circle cx="702.4" cy="418.2" r="8.7"/><circle cx="702.6" cy="419.5" r="8.7"/><circle cx="702.8" cy="425.2" r="8.7"/><circle cx="703.1" cy="416.4" r="8.7"/><circle cx="703.1" cy="423.5" r="8.7"/><circle cx="703.4" cy="422.2" r="8.7"/><circle cx="703.5" cy="423.8" r="8.7"/><circle cx="703.7" cy="426.3" r="8.7"/><circle cx="703.9" cy="425.6" r="8.7"/><circle cx="704.1" cy="418.2" r="8.7"/><circle cx="704.4" cy="420.0" r="8.7"/><circle cx="704.5" cy="433.3" r="8.7"/><circle cx="704.7" cy="420.3" r="8.7"/><circle cx="705.0" cy="414.6" r="8.7"/><circle cx="705.1" cy="423.9" r="8.7"/><circle cx="705.3" cy="418.5" r="8.7"/><circle cx="705.5" cy="425.2" r="8.7"/><circle cx="705.6" cy="421.3" r="8.7"/><circle cx="705.8" cy="419.3" r="8.7"/><circle cx="706.1" cy="427.6" r="8.7"/><circle cx="706.2" cy="417.4" r="8.7"/><circle cx="706.5" cy="425.1" r="8.7"/><circle cx="706.6" cy="424.2" r="8.7"/><circle cx="706.7" cy="421.5" r="8.7"/><circle cx="707.0" cy="415.6" r="8.7"/><circle cx="707.3" cy="440.1" r="8.7"/><circle cx="707.3" cy="407.6" r="8.7"/><circle cx="707.5" cy="414.7" r="8.7"/><circle cx="707.7" cy="421.9" r="8.7"/><circle cx="707.9" cy="420.1" r="8.7"/><circle cx="708.2" cy="424.2" r="8.7"/><circle cx="708.2" cy="425.3" r="8.7"/><circle cx="708.5" cy="420.9" r="8.7"/><circle cx="708.7" cy="410.9" r="8.7"/><circle cx="708.9" cy="417.9" r="8.7"/><circle cx="709.1" cy="423.2" r="8.7"/><circle cx="709.3" cy="408.6" r="8.7"/><circle cx="709.5" cy="414.5" r="8.7"/><circle cx="709.7" cy="417.7" r="8.7"/><circle cx="709.9" cy="411.3" r="8.7"/><circle cx="710.0" cy="424.4" r="8.7"/><circle cx="710.2" cy="416.1" r="8.7"/><circle cx="710.5" cy="417.4" r="8.7"/><circle cx="710.6" cy="420.1" r="8.7"/><circle cx="710.7" cy="412.2" r="8.7"/><circle cx="711.0" cy="422.6" r="8.7"/><circle cx="711.2" cy="404.2" r="8.7"/><circle cx="711.4" cy="425.7" r="8.7"/><circle cx="711.6" cy="417.9" r="8.7"/><circle cx="711.8" cy="406.4" r="8.7"/><circle cx="712.0" cy="420.5" r="8.7"/><circle cx="712.0" cy="411.5" r="8.7"/><circle cx="712.3" cy="413.8" r="8.7"/><circle cx="712.5" cy="421.5" r="8.7"/><circle cx="712.7" cy="428.1" r="8.7"/><circle cx="712.9" cy="404.1" r="8.7"/><circle cx="713.0" cy="418.1" r="8.7"/><circle cx="713.3" cy="414.8" r="8.7"/><circle cx="713.5" cy="422.5" r="8.7"/><circle cx="713.7" cy="408.1" r="8.7"/><circle cx="713.7" cy="407.7" r="8.7"/><circle cx="714.0" cy="421.8" r="8.7"/><circle cx="714.3" cy="419.6" r="8.7"/><circle cx="714.3" cy="413.0" r="8.7"/><circle cx="714.7" cy="427.8" r="8.7"/><circle cx="714.9" cy="409.9" r="8.7"/><circle cx="715.0" cy="420.7" r="8.7"/><circle cx="715.3" cy="412.9" r="8.7"/><circle cx="715.3" cy="411.4" r="8.7"/><circle cx="715.5" cy="407.1" r="8.7"/><circle cx="715.8" cy="406.8" r="8.7"/><circle cx="715.9" cy="424.3" r="8.7"/><circle cx="716.2" cy="409.0" r="8.7"/><circle cx="716.3" cy="411.7" r="8.7"/><circle cx="716.4" cy="415.7" r="8.7"/><circle cx="716.6" cy="409.2" r="8.7"/><circle cx="716.9" cy="410.3" r="8.7"/><circle cx="717.0" cy="419.8" r="8.7"/><circle cx="717.2" cy="409.7" r="8.7"/><circle cx="717.4" cy="428.0" r="8.7"/><circle cx="717.6" cy="412.7" r="8.7"/><circle cx="717.9" cy="418.9" r="8.7"/><circle cx="718.1" cy="414.9" r="8.7"/><circle cx="718.2" cy="417.7" r="8.7"/><circle cx="718.4" cy="411.4" r="8.7"/><circle cx="718.7" cy="414.1" r="8.7"/><circle cx="718.7" cy="403.2" r="8.7"/><circle cx="719.1" cy="410.2" r="8.7"/><circle cx="719.1" cy="410.0" r="8.7"/><circle cx="719.4" cy="408.8" r="8.7"/><circle cx="719.5" cy="424.5" r="8.7"/><circle cx="719.7" cy="407.7" r="8.7"/><circle cx="720.0" cy="410.5" r="8.7"/><circle cx="720.2" cy="415.7" r="8.7"/><circle cx="720.3" cy="417.3" r="8.7"/><circle cx="720.5" cy="412.3" r="8.7"/><circle cx="720.7" cy="411.3" r="8.7"/><circle cx="720.9" cy="407.3" r="8.7"/><circle cx="721.1" cy="405.8" r="8.7"/><circle cx="721.4" cy="405.6" r="8.7"/><circle cx="721.4" cy="407.5" r="8.7"/><circle cx="721.7" cy="412.6" r="8.7"/><circle cx="722.0" cy="406.0" r="8.7"/><circle cx="722.1" cy="432.6" r="8.7"/><circle cx="722.3" cy="421.1" r="8.7"/><circle cx="722.5" cy="402.1" r="8.7"/><circle cx="722.7" cy="422.1" r="8.7"/><circle cx="722.9" cy="410.4" r="8.7"/><circle cx="723.1" cy="411.2" r="8.7"/><circle cx="723.3" cy="408.3" r="8.7"/><circle cx="723.4" cy="406.6" r="8.7"/><circle cx="723.7" cy="408.8" r="8.7"/><circle cx="723.8" cy="406.4" r="8.7"/><circle cx="724.1" cy="411.0" r="8.7"/><circle cx="724.2" cy="405.4" r="8.7"/><circle cx="724.4" cy="405.0" r="8.7"/><circle cx="724.5" cy="415.1" r="8.7"/><circle cx="724.8" cy="407.1" r="8.7"/><circle cx="724.9" cy="412.4" r="8.7"/><circle cx="725.2" cy="411.3" r="8.7"/><circle cx="725.4" cy="407.2" r="8.7"/><circle cx="725.6" cy="402.8" r="8.7"/><circle cx="725.7" cy="405.4" r="8.7"/><circle cx="725.9" cy="414.2" r="8.7"/><circle cx="726.2" cy="407.3" r="8.7"/><circle cx="726.4" cy="418.8" r="8.7"/><circle cx="726.5" cy="404.6" r="8.7"/><circle cx="726.7" cy="427.4" r="8.7"/><circle cx="726.9" cy="402.8" r="8.7"/><circle cx="727.2" cy="402.7" r="8.7"/><circle cx="727.2" cy="405.3" r="8.7"/><circle cx="727.5" cy="396.1" r="8.7"/><circle cx="727.7" cy="395.1" r="8.7"/><circle cx="727.9" cy="406.4" r="8.7"/><circle cx="728.0" cy="394.7" r="8.7"/><circle cx="728.3" cy="401.5" r="8.7"/><circle cx="728.5" cy="410.9" r="8.7"/><circle cx="728.7" cy="402.4" r="8.7"/><circle cx="728.8" cy="409.3" r="8.7"/><circle cx="729.1" cy="408.5" r="8.7"/><circle cx="729.3" cy="403.7" r="8.7"/><circle cx="729.5" cy="410.5" r="8.7"/><circle cx="729.6" cy="396.9" r="8.7"/><circle cx="729.8" cy="410.3" r="8.7"/><circle cx="730.0" cy="409.1" r="8.7"/><circle cx="730.2" cy="418.1" r="8.7"/><circle cx="730.5" cy="413.3" r="8.7"/><circle cx="730.7" cy="416.0" r="8.7"/><circle cx="730.7" cy="404.7" r="8.7"/><circle cx="731.0" cy="408.8" r="8.7"/><circle cx="731.2" cy="418.6" r="8.7"/><circle cx="731.5" cy="403.9" r="8.7"/><circle cx="731.6" cy="404.6" r="8.7"/><circle cx="731.8" cy="405.3" r="8.7"/><circle cx="731.9" cy="405.9" r="8.7"/><circle cx="732.2" cy="397.0" r="8.7"/><circle cx="732.4" cy="401.1" r="8.7"/><circle cx="732.5" cy="404.3" r="8.7"/><circle cx="732.7" cy="414.5" r="8.7"/><circle cx="732.9" cy="402.4" r="8.7"/><circle cx="733.1" cy="401.6" r="8.7"/><circle cx="733.3" cy="403.3" r="8.7"/><circle cx="733.6" cy="406.2" r="8.7"/><circle cx="733.8" cy="412.4" r="8.7"/><circle cx="733.9" cy="404.8" r="8.7"/><circle cx="734.1" cy="402.9" r="8.7"/><circle cx="734.3" cy="403.1" r="8.7"/><circle cx="734.5" cy="394.4" r="8.7"/><circle cx="734.7" cy="417.2" r="8.7"/><circle cx="734.9" cy="401.0" r="8.7"/><circle cx="735.2" cy="400.4" r="8.7"/><circle cx="735.3" cy="421.7" r="8.7"/><circle cx="735.5" cy="392.9" r="8.7"/><circle cx="735.7" cy="391.0" r="8.7"/><circle cx="735.9" cy="430.5" r="8.7"/><circle cx="736.1" cy="401.8" r="8.7"/><circle cx="736.2" cy="384.3" r="8.7"/><circle cx="736.5" cy="399.0" r="8.7"/><circle cx="736.6" cy="405.2" r="8.7"/><circle cx="736.9" cy="395.7" r="8.7"/><circle cx="737.0" cy="395.5" r="8.7"/><circle cx="737.2" cy="402.7" r="8.7"/><circle cx="737.4" cy="394.6" r="8.7"/><circle cx="737.7" cy="418.9" r="8.7"/><circle cx="737.9" cy="389.8" r="8.7"/><circle cx="738.0" cy="403.8" r="8.7"/><circle cx="738.2" cy="396.6" r="8.7"/><circle cx="738.5" cy="399.0" r="8.7"/><circle cx="738.7" cy="399.6" r="8.7"/><circle cx="738.8" cy="395.5" r="8.7"/><circle cx="739.0" cy="401.1" r="8.7"/><circle cx="739.1" cy="407.4" r="8.7"/><circle cx="739.5" cy="394.6" r="8.7"/><circle cx="739.7" cy="399.7" r="8.7"/><circle cx="739.7" cy="397.3" r="8.7"/><circle cx="740.1" cy="401.9" r="8.7"/><circle cx="740.2" cy="415.4" r="8.7"/><circle cx="740.4" cy="395.7" r="8.7"/><circle cx="740.6" cy="403.9" r="8.7"/><circle cx="740.9" cy="392.7" r="8.7"/><circle cx="740.9" cy="391.4" r="8.7"/><circle cx="741.2" cy="397.0" r="8.7"/><circle cx="741.3" cy="436.0" r="8.7"/><circle cx="741.6" cy="394.1" r="8.7"/><circle cx="741.8" cy="400.8" r="8.7"/><circle cx="741.9" cy="397.4" r="8.7"/><circle cx="742.1" cy="396.5" r="8.7"/><circle cx="742.4" cy="409.0" r="8.7"/><circle cx="742.6" cy="408.4" r="8.7"/><circle cx="742.9" cy="393.6" r="8.7"/><circle cx="743.0" cy="396.5" r="8.7"/><circle cx="743.1" cy="394.7" r="8.7"/><circle cx="743.4" cy="393.3" r="8.7"/><circle cx="743.5" cy="399.0" r="8.7"/><circle cx="743.7" cy="392.8" r="8.7"/><circle cx="744.0" cy="412.7" r="8.7"/><circle cx="744.2" cy="402.1" r="8.7"/><circle cx="744.4" cy="400.7" r="8.7"/><circle cx="744.5" cy="397.5" r="8.7"/><circle cx="744.7" cy="390.9" r="8.7"/><circle cx="744.9" cy="390.2" r="8.7"/><circle cx="745.1" cy="390.5" r="8.7"/><circle cx="745.4" cy="392.3" r="8.7"/><circle cx="745.6" cy="394.1" r="8.7"/><circle cx="745.7" cy="392.2" r="8.7"/><circle cx="745.9" cy="395.1" r="8.7"/><circle cx="746.1" cy="397.7" r="8.7"/><circle cx="746.3" cy="401.9" r="8.7"/><circle cx="746.6" cy="401.7" r="8.7"/><circle cx="746.8" cy="398.5" r="8.7"/><circle cx="747.0" cy="386.9" r="8.7"/><circle cx="747.2" cy="389.6" r="8.7"/><circle cx="747.3" cy="390.2" r="8.7"/><circle cx="747.5" cy="386.3" r="8.7"/><circle cx="747.7" cy="397.1" r="8.7"/><circle cx="747.9" cy="399.0" r="8.7"/><circle cx="748.0" cy="385.3" r="8.7"/><circle cx="748.3" cy="387.3" r="8.7"/><circle cx="748.6" cy="387.5" r="8.7"/><circle cx="748.8" cy="395.9" r="8.7"/><circle cx="748.9" cy="385.2" r="8.7"/><circle cx="749.1" cy="389.2" r="8.7"/><circle cx="749.3" cy="398.2" r="8.7"/><circle cx="749.5" cy="386.2" r="8.7"/><circle cx="749.8" cy="385.2" r="8.7"/><circle cx="750.0" cy="406.3" r="8.7"/><circle cx="750.1" cy="400.8" r="8.7"/><circle cx="750.4" cy="394.5" r="8.7"/><circle cx="750.6" cy="389.4" r="8.7"/><circle cx="750.7" cy="396.8" r="8.7"/><circle cx="751.0" cy="395.0" r="8.7"/><circle cx="751.1" cy="407.9" r="8.7"/><circle cx="751.4" cy="391.8" r="8.7"/><circle cx="751.5" cy="397.2" r="8.7"/><circle cx="751.6" cy="386.7" r="8.7"/><circle cx="751.9" cy="384.1" r="8.7"/><circle cx="752.1" cy="379.3" r="8.7"/><circle cx="752.3" cy="417.2" r="8.7"/><circle cx="752.6" cy="394.4" r="8.7"/><circle cx="752.8" cy="388.2" r="8.7"/><circle cx="752.9" cy="391.1" r="8.7"/><circle cx="753.1" cy="388.4" r="8.7"/><circle cx="753.3" cy="393.4" r="8.7"/><circle cx="753.6" cy="394.1" r="8.7"/><circle cx="753.7" cy="382.4" r="8.7"/><circle cx="753.9" cy="407.3" r="8.7"/><circle cx="754.1" cy="394.0" r="8.7"/><circle cx="754.3" cy="399.6" r="8.7"/><circle cx="754.5" cy="393.0" r="8.7"/><circle cx="754.7" cy="385.5" r="8.7"/><circle cx="755.0" cy="383.8" r="8.7"/><circle cx="755.2" cy="389.0" r="8.7"/><circle cx="755.3" cy="384.6" r="8.7"/><circle cx="755.6" cy="382.0" r="8.7"/><circle cx="755.8" cy="388.1" r="8.7"/><circle cx="755.9" cy="383.9" r="8.7"/><circle cx="756.2" cy="401.0" r="8.7"/><circle cx="756.4" cy="385.8" r="8.7"/><circle cx="756.5" cy="385.5" r="8.7"/><circle cx="756.7" cy="387.6" r="8.7"/><circle cx="756.9" cy="397.3" r="8.7"/><circle cx="757.2" cy="387.1" r="8.7"/><circle cx="757.3" cy="358.7" r="8.7"/><circle cx="757.5" cy="384.8" r="8.7"/><circle cx="757.8" cy="380.8" r="8.7"/><circle cx="758.0" cy="389.2" r="8.7"/><circle cx="758.3" cy="391.5" r="8.7"/><circle cx="758.5" cy="386.4" r="8.7"/><circle cx="758.5" cy="389.4" r="8.7"/><circle cx="758.8" cy="385.1" r="8.7"/><circle cx="758.9" cy="356.3" r="8.7"/><circle cx="759.1" cy="393.0" r="8.7"/><circle cx="759.4" cy="384.4" r="8.7"/><circle cx="759.6" cy="386.0" r="8.7"/><circle cx="759.8" cy="383.2" r="8.7"/><circle cx="760.1" cy="380.8" r="8.7"/><circle cx="760.3" cy="407.5" r="8.7"/><circle cx="760.3" cy="401.6" r="8.7"/><circle cx="760.6" cy="381.6" r="8.7"/><circle cx="760.8" cy="386.9" r="8.7"/><circle cx="760.9" cy="380.0" r="8.7"/><circle cx="761.2" cy="396.0" r="8.7"/><circle cx="761.5" cy="384.4" r="8.7"/><circle cx="761.7" cy="385.9" r="8.7"/><circle cx="761.8" cy="377.5" r="8.7"/><circle cx="762.0" cy="386.7" r="8.7"/><circle cx="762.1" cy="374.8" r="8.7"/><circle cx="762.3" cy="373.8" r="8.7"/><circle cx="762.5" cy="370.6" r="8.7"/><circle cx="762.7" cy="385.3" r="8.7"/><circle cx="763.1" cy="389.7" r="8.7"/><circle cx="763.3" cy="379.5" r="8.7"/><circle cx="763.5" cy="383.2" r="8.7"/><circle cx="763.7" cy="386.1" r="8.7"/><circle cx="763.8" cy="397.9" r="8.7"/><circle cx="764.1" cy="386.6" r="8.7"/><circle cx="764.3" cy="392.0" r="8.7"/><circle cx="764.4" cy="379.0" r="8.7"/><circle cx="764.6" cy="388.0" r="8.7"/><circle cx="764.9" cy="393.7" r="8.7"/><circle cx="765.1" cy="380.4" r="8.7"/><circle cx="765.2" cy="379.3" r="8.7"/><circle cx="765.5" cy="376.7" r="8.7"/><circle cx="765.6" cy="380.2" r="8.7"/><circle cx="766.0" cy="382.0" r="8.7"/><circle cx="766.0" cy="378.2" r="8.7"/><circle cx="766.2" cy="414.9" r="8.7"/><circle cx="766.5" cy="381.9" r="8.7"/><circle cx="766.7" cy="392.9" r="8.7"/><circle cx="766.9" cy="384.5" r="8.7"/><circle cx="767.1" cy="386.4" r="8.7"/><circle cx="767.3" cy="392.3" r="8.7"/><circle cx="767.5" cy="380.1" r="8.7"/><circle cx="767.8" cy="383.3" r="8.7"/><circle cx="767.9" cy="379.1" r="8.7"/><circle cx="768.1" cy="375.7" r="8.7"/><circle cx="768.3" cy="373.7" r="8.7"/><circle cx="768.5" cy="376.7" r="8.7"/><circle cx="768.7" cy="377.1" r="8.7"/><circle cx="769.0" cy="404.3" r="8.7"/><circle cx="769.2" cy="372.3" r="8.7"/><circle cx="769.5" cy="376.9" r="8.7"/><circle cx="769.5" cy="376.1" r="8.7"/><circle cx="769.8" cy="406.2" r="8.7"/><circle cx="770.0" cy="379.6" r="8.7"/><circle cx="770.2" cy="371.6" r="8.7"/><circle cx="770.5" cy="377.4" r="8.7"/><circle cx="770.5" cy="374.9" r="8.7"/><circle cx="770.7" cy="379.4" r="8.7"/><circle cx="771.1" cy="380.5" r="8.7"/><circle cx="771.2" cy="384.3" r="8.7"/><circle cx="771.3" cy="376.6" r="8.7"/><circle cx="771.7" cy="376.5" r="8.7"/><circle cx="771.9" cy="380.2" r="8.7"/><circle cx="772.0" cy="370.6" r="8.7"/><circle cx="772.3" cy="385.1" r="8.7"/><circle cx="772.4" cy="377.9" r="8.7"/><circle cx="772.6" cy="386.1" r="8.7"/><circle cx="772.9" cy="379.8" r="8.7"/><circle cx="773.1" cy="375.3" r="8.7"/><circle cx="773.3" cy="387.9" r="8.7"/><circle cx="773.4" cy="372.0" r="8.7"/><circle cx="773.7" cy="375.9" r="8.7"/><circle cx="773.9" cy="378.9" r="8.7"/><circle cx="774.1" cy="375.2" r="8.7"/><circle cx="774.3" cy="375.5" r="8.7"/><circle cx="774.5" cy="373.6" r="8.7"/><circle cx="774.6" cy="374.1" r="8.7"/><circle cx="774.9" cy="371.3" r="8.7"/><circle cx="775.0" cy="382.2" r="8.7"/><circle cx="775.4" cy="379.2" r="8.7"/><circle cx="775.6" cy="379.4" r="8.7"/><circle cx="775.7" cy="380.6" r="8.7"/><circle cx="775.9" cy="378.3" r="8.7"/><circle cx="776.3" cy="375.6" r="8.7"/><circle cx="776.3" cy="373.7" r="8.7"/><circle cx="776.6" cy="377.9" r="8.7"/><circle cx="776.9" cy="366.8" r="8.7"/><circle cx="777.0" cy="393.0" r="8.7"/><circle cx="777.1" cy="371.1" r="8.7"/><circle cx="777.3" cy="387.2" r="8.7"/><circle cx="777.5" cy="370.2" r="8.7"/><circle cx="777.8" cy="371.8" r="8.7"/><circle cx="778.1" cy="389.4" r="8.7"/><circle cx="778.2" cy="371.8" r="8.7"/><circle cx="778.4" cy="377.1" r="8.7"/><circle cx="778.7" cy="381.2" r="8.7"/><circle cx="778.9" cy="372.6" r="8.7"/><circle cx="779.1" cy="406.2" r="8.7"/><circle cx="779.3" cy="373.0" r="8.7"/><circle cx="779.4" cy="372.0" r="8.7"/><circle cx="779.8" cy="372.5" r="8.7"/><circle cx="779.9" cy="366.9" r="8.7"/><circle cx="780.0" cy="372.3" r="8.7"/><circle cx="780.3" cy="373.3" r="8.7"/><circle cx="780.5" cy="369.4" r="8.7"/><circle cx="780.7" cy="370.4" r="8.7"/><circle cx="780.9" cy="376.8" r="8.7"/><circle cx="781.1" cy="368.1" r="8.7"/><circle cx="781.3" cy="372.7" r="8.7"/><circle cx="781.6" cy="372.5" r="8.7"/><circle cx="781.8" cy="379.4" r="8.7"/><circle cx="781.9" cy="378.3" r="8.7"/><circle cx="782.3" cy="360.5" r="8.7"/><circle cx="782.4" cy="368.6" r="8.7"/><circle cx="782.7" cy="375.8" r="8.7"/><circle cx="782.8" cy="382.4" r="8.7"/><circle cx="782.9" cy="375.3" r="8.7"/><circle cx="783.2" cy="395.9" r="8.7"/><circle cx="783.4" cy="365.3" r="8.7"/><circle cx="783.8" cy="370.7" r="8.7"/><circle cx="783.9" cy="363.9" r="8.7"/><circle cx="784.2" cy="361.1" r="8.7"/><circle cx="784.3" cy="369.8" r="8.7"/><circle cx="784.4" cy="379.1" r="8.7"/><circle cx="784.7" cy="370.7" r="8.7"/><circle cx="785.0" cy="365.8" r="8.7"/><circle cx="785.1" cy="376.1" r="8.7"/><circle cx="785.4" cy="382.7" r="8.7"/><circle cx="785.5" cy="380.9" r="8.7"/><circle cx="785.9" cy="362.0" r="8.7"/><circle cx="786.1" cy="393.7" r="8.7"/><circle cx="786.3" cy="363.6" r="8.7"/><circle cx="786.4" cy="388.0" r="8.7"/><circle cx="786.7" cy="363.8" r="8.7"/><circle cx="786.8" cy="352.8" r="8.7"/><circle cx="787.0" cy="368.2" r="8.7"/><circle cx="787.2" cy="371.9" r="8.7"/><circle cx="787.4" cy="383.1" r="8.7"/><circle cx="787.7" cy="369.8" r="8.7"/><circle cx="787.8" cy="372.3" r="8.7"/><circle cx="788.2" cy="359.4" r="8.7"/><circle cx="788.3" cy="367.9" r="8.7"/><circle cx="788.5" cy="376.9" r="8.7"/><circle cx="788.8" cy="374.7" r="8.7"/><circle cx="789.0" cy="366.3" r="8.7"/><circle cx="789.0" cy="387.6" r="8.7"/><circle cx="789.3" cy="371.5" r="8.7"/><circle cx="789.5" cy="369.7" r="8.7"/><circle cx="789.7" cy="363.6" r="8.7"/><circle cx="790.0" cy="363.0" r="8.7"/><circle cx="790.3" cy="357.9" r="8.7"/><circle cx="790.4" cy="362.0" r="8.7"/><circle cx="790.7" cy="380.4" r="8.7"/><circle cx="790.8" cy="363.1" r="8.7"/><circle cx="790.9" cy="342.0" r="8.7"/><circle cx="791.2" cy="375.0" r="8.7"/><circle cx="791.4" cy="360.4" r="8.7"/><circle cx="791.8" cy="368.8" r="8.7"/><circle cx="792.0" cy="388.0" r="8.7"/><circle cx="792.1" cy="376.6" r="8.7"/><circle cx="792.2" cy="361.8" r="8.7"/><circle cx="792.6" cy="356.5" r="8.7"/><circle cx="792.7" cy="371.7" r="8.7"/><circle cx="793.0" cy="373.6" r="8.7"/><circle cx="793.3" cy="358.1" r="8.7"/><circle cx="793.3" cy="381.1" r="8.7"/><circle cx="793.5" cy="385.1" r="8.7"/><circle cx="793.9" cy="360.2" r="8.7"/><circle cx="794.1" cy="356.0" r="8.7"/><circle cx="794.1" cy="375.8" r="8.7"/><circle cx="794.4" cy="378.9" r="8.7"/><circle cx="794.6" cy="368.8" r="8.7"/><circle cx="794.9" cy="365.0" r="8.7"/><circle cx="795.1" cy="359.2" r="8.7"/><circle cx="795.3" cy="364.8" r="8.7"/><circle cx="795.5" cy="358.2" r="8.7"/><circle cx="795.6" cy="364.7" r="8.7"/><circle cx="795.9" cy="363.1" r="8.7"/><circle cx="796.2" cy="357.4" r="8.7"/><circle cx="796.4" cy="363.2" r="8.7"/><circle cx="796.7" cy="361.8" r="8.7"/><circle cx="796.8" cy="355.9" r="8.7"/><circle cx="797.1" cy="367.8" r="8.7"/><circle cx="797.2" cy="355.7" r="8.7"/><circle cx="797.5" cy="351.0" r="8.7"/><circle cx="797.6" cy="360.5" r="8.7"/><circle cx="797.9" cy="366.1" r="8.7"/><circle cx="798.0" cy="359.1" r="8.7"/><circle cx="798.3" cy="364.1" r="8.7"/><circle cx="798.5" cy="357.7" r="8.7"/><circle cx="798.8" cy="359.0" r="8.7"/><circle cx="799.0" cy="364.4" r="8.7"/><circle cx="799.1" cy="370.1" r="8.7"/><circle cx="799.3" cy="369.0" r="8.7"/><circle cx="799.6" cy="361.4" r="8.7"/><circle cx="799.9" cy="355.0" r="8.7"/><circle cx="800.0" cy="359.9" r="8.7"/><circle cx="800.1" cy="361.5" r="8.7"/><circle cx="800.5" cy="358.6" r="8.7"/><circle cx="800.6" cy="351.7" r="8.7"/><circle cx="800.8" cy="358.7" r="8.7"/><circle cx="801.1" cy="358.0" r="8.7"/><circle cx="801.3" cy="372.5" r="8.7"/><circle cx="801.6" cy="356.6" r="8.7"/><circle cx="801.6" cy="354.6" r="8.7"/><circle cx="801.9" cy="356.3" r="8.7"/><circle cx="802.1" cy="372.3" r="8.7"/><circle cx="802.3" cy="360.5" r="8.7"/><circle cx="802.7" cy="346.4" r="8.7"/><circle cx="802.8" cy="360.7" r="8.7"/><circle cx="802.9" cy="357.4" r="8.7"/><circle cx="803.3" cy="363.8" r="8.7"/><circle cx="803.3" cy="353.7" r="8.7"/><circle cx="803.5" cy="352.1" r="8.7"/><circle cx="803.9" cy="355.9" r="8.7"/><circle cx="804.1" cy="364.4" r="8.7"/><circle cx="804.3" cy="355.2" r="8.7"/><circle cx="804.5" cy="354.9" r="8.7"/><circle cx="804.6" cy="353.1" r="8.7"/><circle cx="804.9" cy="365.1" r="8.7"/><circle cx="805.2" cy="352.6" r="8.7"/><circle cx="805.3" cy="353.7" r="8.7"/><circle cx="805.6" cy="360.0" r="8.7"/><circle cx="805.9" cy="365.6" r="8.7"/><circle cx="805.9" cy="370.6" r="8.7"/><circle cx="806.2" cy="371.2" r="8.7"/><circle cx="806.5" cy="372.2" r="8.7"/><circle cx="806.8" cy="357.5" r="8.7"/><circle cx="806.9" cy="355.7" r="8.7"/><circle cx="807.2" cy="359.5" r="8.7"/><circle cx="807.4" cy="352.0" r="8.7"/><circle cx="807.6" cy="352.9" r="8.7"/><circle cx="807.8" cy="346.8" r="8.7"/><circle cx="808.0" cy="376.8" r="8.7"/><circle cx="808.3" cy="355.6" r="8.7"/><circle cx="808.4" cy="351.7" r="8.7"/><circle cx="808.8" cy="367.6" r="8.7"/><circle cx="808.8" cy="359.2" r="8.7"/><circle cx="809.1" cy="354.5" r="8.7"/><circle cx="809.2" cy="361.5" r="8.7"/><circle cx="809.6" cy="361.4" r="8.7"/><circle cx="809.7" cy="351.9" r="8.7"/><circle cx="810.0" cy="347.4" r="8.7"/><circle cx="810.1" cy="363.4" r="8.7"/><circle cx="810.3" cy="351.3" r="8.7"/><circle cx="810.5" cy="354.4" r="8.7"/><circle cx="810.9" cy="354.3" r="8.7"/><circle cx="811.0" cy="353.4" r="8.7"/><circle cx="811.2" cy="349.8" r="8.7"/><circle cx="811.5" cy="350.7" r="8.7"/><circle cx="811.8" cy="353.5" r="8.7"/><circle cx="812.0" cy="354.1" r="8.7"/><circle cx="812.2" cy="350.6" r="8.7"/><circle cx="812.5" cy="365.2" r="8.7"/><circle cx="812.7" cy="354.3" r="8.7"/><circle cx="812.9" cy="358.4" r="8.7"/><circle cx="813.1" cy="351.6" r="8.7"/><circle cx="813.2" cy="358.8" r="8.7"/><circle cx="813.5" cy="356.6" r="8.7"/><circle cx="813.8" cy="355.4" r="8.7"/><circle cx="813.9" cy="356.5" r="8.7"/><circle cx="814.2" cy="350.9" r="8.7"/><circle cx="814.5" cy="364.2" r="8.7"/><circle cx="814.7" cy="345.5" r="8.7"/><circle cx="814.8" cy="342.2" r="8.7"/><circle cx="815.1" cy="351.9" r="8.7"/><circle cx="815.4" cy="354.8" r="8.7"/><circle cx="815.5" cy="352.4" r="8.7"/><circle cx="815.7" cy="354.1" r="8.7"/><circle cx="816.1" cy="336.8" r="8.7"/><circle cx="816.1" cy="351.1" r="8.7"/><circle cx="816.5" cy="356.3" r="8.7"/><circle cx="816.6" cy="344.8" r="8.7"/><circle cx="816.9" cy="349.4" r="8.7"/><circle cx="817.1" cy="338.5" r="8.7"/><circle cx="817.4" cy="342.7" r="8.7"/><circle cx="817.6" cy="342.9" r="8.7"/><circle cx="817.8" cy="344.8" r="8.7"/><circle cx="817.9" cy="362.1" r="8.7"/><circle cx="818.3" cy="348.8" r="8.7"/><circle cx="818.4" cy="354.9" r="8.7"/><circle cx="818.6" cy="337.4" r="8.7"/><circle cx="818.8" cy="339.5" r="8.7"/><circle cx="819.0" cy="364.9" r="8.7"/><circle cx="819.3" cy="344.4" r="8.7"/><circle cx="819.5" cy="359.9" r="8.7"/><circle cx="819.8" cy="350.0" r="8.7"/><circle cx="820.0" cy="362.2" r="8.7"/><circle cx="820.1" cy="344.3" r="8.7"/><circle cx="820.5" cy="364.8" r="8.7"/><circle cx="820.6" cy="345.9" r="8.7"/><circle cx="820.8" cy="335.6" r="8.7"/><circle cx="821.0" cy="341.6" r="8.7"/><circle cx="821.4" cy="349.2" r="8.7"/><circle cx="821.7" cy="349.6" r="8.7"/><circle cx="821.7" cy="348.3" r="8.7"/><circle cx="822.0" cy="346.4" r="8.7"/><circle cx="822.1" cy="347.7" r="8.7"/><circle cx="822.5" cy="340.2" r="8.7"/><circle cx="822.7" cy="352.0" r="8.7"/><circle cx="822.8" cy="347.0" r="8.7"/><circle cx="823.2" cy="350.9" r="8.7"/><circle cx="823.3" cy="350.0" r="8.7"/><circle cx="823.5" cy="341.7" r="8.7"/><circle cx="823.8" cy="346.7" r="8.7"/><circle cx="824.0" cy="351.8" r="8.7"/><circle cx="824.2" cy="345.4" r="8.7"/><circle cx="824.5" cy="364.3" r="8.7"/><circle cx="824.6" cy="336.7" r="8.7"/><circle cx="825.0" cy="338.4" r="8.7"/><circle cx="825.1" cy="345.1" r="8.7"/><circle cx="825.3" cy="342.2" r="8.7"/><circle cx="825.5" cy="337.2" r="8.7"/><circle cx="826.0" cy="336.3" r="8.7"/><circle cx="826.1" cy="335.5" r="8.7"/><circle cx="826.2" cy="343.7" r="8.7"/><circle cx="826.6" cy="356.2" r="8.7"/><circle cx="826.8" cy="349.4" r="8.7"/><circle cx="827.0" cy="345.5" r="8.7"/><circle cx="827.2" cy="362.2" r="8.7"/><circle cx="827.4" cy="335.5" r="8.7"/><circle cx="827.7" cy="357.5" r="8.7"/><circle cx="827.9" cy="350.9" r="8.7"/><circle cx="828.1" cy="331.7" r="8.7"/><circle cx="828.3" cy="334.7" r="8.7"/><circle cx="828.6" cy="362.0" r="8.7"/><circle cx="828.7" cy="340.8" r="8.7"/><circle cx="829.1" cy="336.9" r="8.7"/><circle cx="829.3" cy="342.7" r="8.7"/><circle cx="829.6" cy="342.0" r="8.7"/><circle cx="829.7" cy="330.4" r="8.7"/><circle cx="830.1" cy="345.9" r="8.7"/><circle cx="830.3" cy="348.4" r="8.7"/><circle cx="830.4" cy="330.9" r="8.7"/><circle cx="830.7" cy="335.0" r="8.7"/><circle cx="830.9" cy="342.5" r="8.7"/><circle cx="831.2" cy="350.5" r="8.7"/><circle cx="831.4" cy="355.5" r="8.7"/><circle cx="831.6" cy="335.5" r="8.7"/><circle cx="831.8" cy="334.6" r="8.7"/><circle cx="832.0" cy="345.8" r="8.7"/><circle cx="832.4" cy="355.0" r="8.7"/><circle cx="832.4" cy="342.4" r="8.7"/><circle cx="832.8" cy="328.4" r="8.7"/><circle cx="832.9" cy="364.8" r="8.7"/><circle cx="833.2" cy="344.6" r="8.7"/><circle cx="833.6" cy="357.5" r="8.7"/><circle cx="833.6" cy="341.7" r="8.7"/><circle cx="833.8" cy="334.2" r="8.7"/><circle cx="834.2" cy="357.4" r="8.7"/><circle cx="834.3" cy="330.6" r="8.7"/><circle cx="834.5" cy="330.2" r="8.7"/><circle cx="834.8" cy="333.6" r="8.7"/><circle cx="835.2" cy="339.0" r="8.7"/><circle cx="835.4" cy="353.8" r="8.7"/><circle cx="835.6" cy="337.9" r="8.7"/><circle cx="835.7" cy="331.5" r="8.7"/><circle cx="836.0" cy="339.7" r="8.7"/><circle cx="836.2" cy="329.3" r="8.7"/><circle cx="836.4" cy="347.9" r="8.7"/><circle cx="836.8" cy="324.2" r="8.7"/><circle cx="837.0" cy="334.3" r="8.7"/><circle cx="837.2" cy="351.9" r="8.7"/><circle cx="837.4" cy="351.0" r="8.7"/><circle cx="837.7" cy="331.8" r="8.7"/><circle cx="837.8" cy="320.1" r="8.7"/><circle cx="838.2" cy="337.1" r="8.7"/><circle cx="838.4" cy="330.3" r="8.7"/><circle cx="838.6" cy="332.8" r="8.7"/><circle cx="838.8" cy="354.1" r="8.7"/><circle cx="839.0" cy="331.5" r="8.7"/><circle cx="839.4" cy="336.2" r="8.7"/><circle cx="839.5" cy="332.6" r="8.7"/><circle cx="839.9" cy="326.6" r="8.7"/><circle cx="840.0" cy="332.5" r="8.7"/><circle cx="840.2" cy="336.9" r="8.7"/><circle cx="840.4" cy="327.9" r="8.7"/><circle cx="840.8" cy="328.1" r="8.7"/><circle cx="841.0" cy="325.4" r="8.7"/><circle cx="841.1" cy="340.1" r="8.7"/><circle cx="841.4" cy="339.2" r="8.7"/><circle cx="841.7" cy="338.6" r="8.7"/><circle cx="841.9" cy="330.6" r="8.7"/><circle cx="842.2" cy="333.9" r="8.7"/><circle cx="842.3" cy="331.5" r="8.7"/><circle cx="842.7" cy="337.7" r="8.7"/><circle cx="842.9" cy="324.3" r="8.7"/><circle cx="843.1" cy="337.3" r="8.7"/><circle cx="843.3" cy="323.8" r="8.7"/><circle cx="843.6" cy="351.4" r="8.7"/><circle cx="843.8" cy="362.6" r="8.7"/><circle cx="843.9" cy="342.8" r="8.7"/><circle cx="844.4" cy="327.3" r="8.7"/><circle cx="844.5" cy="331.0" r="8.7"/><circle cx="844.7" cy="333.4" r="8.7"/><circle cx="845.1" cy="334.6" r="8.7"/><circle cx="845.2" cy="330.8" r="8.7"/><circle cx="845.5" cy="323.9" r="8.7"/><circle cx="845.7" cy="331.0" r="8.7"/><circle cx="845.8" cy="337.1" r="8.7"/><circle cx="846.2" cy="321.3" r="8.7"/><circle cx="846.4" cy="333.4" r="8.7"/><circle cx="846.6" cy="353.1" r="8.7"/><circle cx="847.0" cy="318.8" r="8.7"/><circle cx="847.1" cy="341.8" r="8.7"/><circle cx="847.4" cy="336.0" r="8.7"/><circle cx="847.7" cy="328.3" r="8.7"/><circle cx="847.8" cy="329.8" r="8.7"/><circle cx="848.0" cy="333.3" r="8.7"/><circle cx="848.4" cy="322.5" r="8.7"/><circle cx="848.6" cy="326.0" r="8.7"/><circle cx="848.8" cy="327.0" r="8.7"/><circle cx="849.1" cy="339.5" r="8.7"/><circle cx="849.3" cy="333.7" r="8.7"/><circle cx="849.5" cy="328.9" r="8.7"/><circle cx="849.9" cy="334.1" r="8.7"/><circle cx="850.1" cy="333.2" r="8.7"/><circle cx="850.2" cy="323.2" r="8.7"/><circle cx="850.4" cy="338.0" r="8.7"/><circle cx="850.8" cy="341.6" r="8.7"/><circle cx="851.1" cy="331.0" r="8.7"/><circle cx="851.2" cy="326.3" r="8.7"/><circle cx="851.5" cy="321.5" r="8.7"/><circle cx="851.8" cy="324.5" r="8.7"/><circle cx="851.9" cy="324.4" r="8.7"/><circle cx="852.3" cy="326.3" r="8.7"/><circle cx="852.6" cy="330.8" r="8.7"/><circle cx="852.7" cy="329.6" r="8.7"/><circle cx="853.0" cy="320.2" r="8.7"/><circle cx="853.3" cy="337.2" r="8.7"/><circle cx="853.6" cy="325.2" r="8.7"/><circle cx="853.7" cy="332.2" r="8.7"/><circle cx="854.0" cy="329.0" r="8.7"/><circle cx="854.2" cy="335.9" r="8.7"/><circle cx="854.6" cy="320.3" r="8.7"/><circle cx="854.7" cy="326.6" r="8.7"/><circle cx="855.0" cy="321.4" r="8.7"/><circle cx="855.3" cy="331.4" r="8.7"/><circle cx="855.5" cy="325.4" r="8.7"/><circle cx="855.9" cy="320.5" r="8.7"/><circle cx="856.1" cy="318.1" r="8.7"/><circle cx="856.3" cy="340.7" r="8.7"/><circle cx="856.4" cy="316.4" r="8.7"/><circle cx="856.8" cy="337.4" r="8.7"/><circle cx="857.1" cy="332.9" r="8.7"/><circle cx="857.2" cy="316.3" r="8.7"/><circle cx="857.6" cy="323.0" r="8.7"/><circle cx="857.8" cy="339.1" r="8.7"/><circle cx="858.2" cy="324.8" r="8.7"/><circle cx="858.2" cy="329.1" r="8.7"/><circle cx="858.7" cy="323.7" r="8.7"/><circle cx="858.8" cy="315.9" r="8.7"/><circle cx="859.0" cy="321.7" r="8.7"/><circle cx="859.3" cy="312.5" r="8.7"/><circle cx="859.6" cy="318.6" r="8.7"/><circle cx="859.8" cy="349.5" r="8.7"/><circle cx="860.1" cy="335.0" r="8.7"/><circle cx="860.5" cy="326.1" r="8.7"/><circle cx="860.8" cy="323.6" r="8.7"/><circle cx="861.0" cy="322.2" r="8.7"/><circle cx="861.3" cy="319.3" r="8.7"/><circle cx="861.5" cy="334.1" r="8.7"/><circle cx="861.7" cy="305.8" r="8.7"/><circle cx="862.0" cy="317.9" r="8.7"/><circle cx="862.3" cy="321.6" r="8.7"/><circle cx="862.7" cy="299.2" r="8.7"/><circle cx="862.8" cy="325.3" r="8.7"/><circle cx="863.2" cy="317.7" r="8.7"/><circle cx="863.4" cy="316.4" r="8.7"/><circle cx="863.6" cy="318.6" r="8.7"/><circle cx="864.1" cy="315.2" r="8.7"/><circle cx="864.3" cy="319.7" r="8.7"/><circle cx="864.6" cy="311.0" r="8.7"/><circle cx="864.9" cy="316.4" r="8.7"/><circle cx="865.0" cy="314.6" r="8.7"/><circle cx="865.4" cy="316.4" r="8.7"/><circle cx="865.6" cy="317.5" r="8.7"/><circle cx="865.8" cy="313.1" r="8.7"/><circle cx="866.0" cy="322.2" r="8.7"/><circle cx="866.4" cy="309.2" r="8.7"/><circle cx="866.6" cy="313.7" r="8.7"/><circle cx="866.9" cy="329.9" r="8.7"/><circle cx="867.3" cy="310.0" r="8.7"/><circle cx="867.4" cy="303.7" r="8.7"/><circle cx="867.7" cy="304.8" r="8.7"/><circle cx="868.1" cy="321.0" r="8.7"/><circle cx="868.5" cy="320.6" r="8.7"/><circle cx="868.7" cy="322.3" r="8.7"/><circle cx="868.9" cy="321.9" r="8.7"/><circle cx="869.1" cy="317.6" r="8.7"/><circle cx="869.6" cy="313.2" r="8.7"/><circle cx="869.8" cy="323.4" r="8.7"/><circle cx="869.9" cy="312.8" r="8.7"/><circle cx="870.2" cy="325.0" r="8.7"/><circle cx="870.6" cy="314.1" r="8.7"/><circle cx="870.9" cy="316.0" r="8.7"/><circle cx="871.2" cy="300.2" r="8.7"/><circle cx="871.4" cy="313.2" r="8.7"/><circle cx="871.8" cy="307.5" r="8.7"/><circle cx="872.1" cy="314.0" r="8.7"/><circle cx="872.3" cy="315.4" r="8.7"/><circle cx="872.6" cy="329.1" r="8.7"/><circle cx="872.9" cy="309.7" r="8.7"/><circle cx="873.3" cy="309.9" r="8.7"/><circle cx="873.5" cy="311.3" r="8.7"/><circle cx="873.8" cy="308.6" r="8.7"/><circle cx="874.2" cy="309.7" r="8.7"/><circle cx="874.5" cy="319.3" r="8.7"/><circle cx="874.9" cy="317.8" r="8.7"/><circle cx="875.1" cy="316.6" r="8.7"/><circle cx="875.4" cy="305.6" r="8.7"/><circle cx="875.6" cy="312.0" r="8.7"/><circle cx="876.0" cy="310.5" r="8.7"/><circle cx="876.3" cy="306.5" r="8.7"/><circle cx="876.8" cy="302.7" r="8.7"/><circle cx="876.9" cy="326.7" r="8.7"/><circle cx="877.5" cy="312.7" r="8.7"/><circle cx="877.8" cy="303.9" r="8.7"/><circle cx="878.1" cy="312.3" r="8.7"/><circle cx="878.5" cy="300.2" r="8.7"/><circle cx="878.6" cy="308.2" r="8.7"/><circle cx="879.0" cy="304.3" r="8.7"/><circle cx="879.6" cy="307.2" r="8.7"/><circle cx="879.6" cy="322.2" r="8.7"/><circle cx="880.0" cy="310.9" r="8.7"/><circle cx="880.6" cy="307.9" r="8.7"/><circle cx="881.1" cy="309.3" r="8.7"/><circle cx="881.2" cy="326.4" r="8.7"/><circle cx="881.8" cy="309.5" r="8.7"/><circle cx="882.1" cy="308.6" r="8.7"/><circle cx="882.5" cy="305.6" r="8.7"/><circle cx="883.0" cy="314.5" r="8.7"/><circle cx="883.2" cy="299.5" r="8.7"/><circle cx="884.0" cy="311.5" r="8.7"/><circle cx="884.2" cy="306.1" r="8.7"/><circle cx="884.5" cy="317.9" r="8.7"/><circle cx="885.0" cy="318.0" r="8.7"/><circle cx="885.8" cy="307.8" r="8.7"/><circle cx="886.0" cy="298.9" r="8.7"/><circle cx="886.3" cy="319.7" r="8.7"/><circle cx="886.9" cy="306.4" r="8.7"/><circle cx="887.6" cy="300.4" r="8.7"/><circle cx="888.3" cy="304.2" r="8.7"/><circle cx="888.8" cy="305.6" r="8.7"/><circle cx="889.5" cy="301.3" r="8.7"/><circle cx="889.9" cy="294.0" r="8.7"/><circle cx="890.3" cy="307.9" r="8.7"/><circle cx="891.1" cy="297.0" r="8.7"/><circle cx="891.4" cy="297.8" r="8.7"/><circle cx="892.1" cy="289.4" r="8.7"/><circle cx="892.8" cy="293.3" r="8.7"/><circle cx="893.8" cy="295.1" r="8.7"/><circle cx="894.4" cy="304.4" r="8.7"/><circle cx="895.1" cy="303.2" r="8.7"/><circle cx="896.6" cy="297.7" r="8.7"/><circle cx="896.7" cy="323.7" r="8.7"/><circle cx="898.1" cy="301.9" r="8.7"/><circle cx="899.7" cy="292.4" r="8.7"/><circle cx="900.1" cy="296.0" r="8.7"/><circle cx="902.8" cy="291.8" r="8.7"/><circle cx="904.6" cy="290.9" r="8.7"/><circle cx="906.2" cy="306.9" r="8.7"/><circle cx="907.5" cy="287.7" r="8.7"/><circle cx="910.8" cy="289.5" r="8.7"/><circle cx="912.0" cy="285.0" r="8.7"/><circle cx="916.9" cy="283.5" r="8.7"/><circle cx="873.7" cy="325.6" r="8.7"/><circle cx="877.5" cy="330.5" r="8.7"/><circle cx="878.6" cy="327.5" r="8.7"/><circle cx="879.8" cy="296.0" r="8.7"/><circle cx="882.8" cy="315.0" r="8.7"/><circle cx="884.4" cy="307.1" r="8.7"/><circle cx="887.3" cy="323.5" r="8.7"/><circle cx="888.6" cy="321.0" r="8.7"/><circle cx="891.2" cy="299.1" r="8.7"/><circle cx="892.8" cy="313.1" r="8.7"/><circle cx="894.7" cy="294.9" r="8.7"/><circle cx="898.3" cy="310.7" r="8.7"/><circle cx="898.8" cy="298.2" r="8.7"/><circle cx="901.8" cy="311.0" r="8.7"/><circle cx="902.9" cy="276.9" r="8.7"/><circle cx="906.8" cy="281.4" r="8.7"/><circle cx="908.2" cy="297.4" r="8.7"/><circle cx="910.1" cy="270.7" r="8.7"/><circle cx="912.4" cy="291.3" r="8.7"/><circle cx="913.8" cy="281.4" r="8.7"/><circle cx="915.8" cy="284.3" r="8.7"/><circle cx="919.4" cy="285.3" r="8.7"/><circle cx="922.1" cy="295.5" r="8.7"/><circle cx="922.4" cy="293.8" r="8.7"/><circle cx="926.2" cy="280.1" r="8.7"/><circle cx="929.0" cy="277.9" r="8.7"/><circle cx="931.5" cy="284.0" r="8.7"/><circle cx="931.6" cy="293.2" r="8.7"/><circle cx="934.4" cy="276.0" r="8.7"/><circle cx="937.0" cy="266.2" r="8.7"/><circle cx="941.0" cy="285.0" r="8.7"/><circle cx="941.8" cy="279.2" r="8.7"/><circle cx="945.7" cy="282.3" r="8.7"/><circle cx="948.8" cy="257.7" r="8.7"/><circle cx="951.2" cy="269.2" r="8.7"/><circle cx="954.4" cy="267.9" r="8.7"/><circle cx="955.9" cy="260.1" r="8.7"/><circle cx="960.8" cy="260.8" r="8.7"/><circle cx="964.1" cy="252.8" r="8.7"/><circle cx="965.2" cy="262.1" r="8.7"/><circle cx="970.4" cy="252.6" r="8.7"/><circle cx="972.7" cy="228.4" r="8.7"/><circle cx="977.2" cy="260.2" r="8.7"/><circle cx="981.6" cy="215.3" r="8.7"/><circle cx="982.3" cy="231.5" r="8.7"/><circle cx="986.9" cy="229.8" r="8.7"/><circle cx="992.6" cy="236.2" r="8.7"/><circle cx="997.2" cy="251.5" r="8.7"/><circle cx="998.9" cy="242.8" r="8.7"/><circle cx="1003.4" cy="225.4" r="8.7"/><circle cx="1006.4" cy="257.9" r="8.7"/><circle cx="1013.9" cy="233.2" r="8.7"/><circle cx="1018.4" cy="224.5" r="8.7"/><circle cx="1024.7" cy="199.9" r="8.7"/><circle cx="1028.0" cy="220.1" r="8.7"/><circle cx="1035.0" cy="201.7" r="8.7"/><circle cx="1040.4" cy="201.7" r="8.7"/><circle cx="1048.8" cy="201.8" r="8.7"/><circle cx="1052.9" cy="210.1" r="8.7"/><circle cx="1060.0" cy="191.3" r="8.7"/><circle cx="1259.2" cy="58.7" r="8.7"/><circle cx="1278.3" cy="120.7" r="8.7"/><circle cx="1158.9" cy="149.9" r="8.7"/><circle cx="1232.3" cy="156.1" r="8.7"/><circle cx="1111.8" cy="166.0" r="8.7"/><circle cx="1105.1" cy="174.5" r="8.7"/><circle cx="1121.4" cy="204.7" r="8.7"/><circle cx="1018.3" cy="192.3" r="8.7"/><circle cx="999.5" cy="210.1" r="8.7"/><circle cx="1055.5" cy="191.1" r="8.7"/><circle cx="1077.9" cy="195.5" r="8.7"/><circle cx="1038.2" cy="205.7" r="8.7"/><circle cx="1061.7" cy="208.0" r="8.7"/><circle cx="1049.2" cy="201.8" r="8.7"/><circle cx="1009.2" cy="223.7" r="8.7"/><circle cx="993.5" cy="231.6" r="8.7"/><circle cx="984.9" cy="230.8" r="8.7"/><circle cx="1032.0" cy="234.7" r="8.7"/><circle cx="1035.0" cy="236.3" r="8.7"/><circle cx="948.8" cy="255.1" r="8.7"/><circle cx="963.7" cy="248.8" r="8.7"/><circle cx="982.5" cy="252.0" r="8.7"/><circle cx="968.4" cy="267.6" r="8.7"/><circle cx="977.0" cy="233.1" r="8.7"/><circle cx="918.5" cy="519.0" r="8.7"/><circle cx="885.5" cy="260.3" r="8.7"/><circle cx="581.5" cy="459.3" r="8.7"/><circle cx="701.9" cy="463.0" r="8.7"/><circle cx="825.2" cy="386.3" r="8.7"/></g></g>
<line x1="152.6" y1="777.75" x2="1290.12" y2="39.15" stroke="#4d4d4d" stroke-width="1.95" stroke-dasharray="7 3"/>
<line x1="411.5" y1="2.3" x2="411.5" y2="815.2" stroke="#4a8fc4" stroke-width="2.7"/>
<rect x="97.0" y="2.3" width="1249.90" height="812.90" fill="none" stroke="#222" stroke-width="1.15"/>
<line x1="216.91" y1="815.2" x2="216.91" y2="820.2" stroke="#222" stroke-width="1.15"/>
<line x1="92.0" y1="737.00" x2="97.0" y2="737.00" stroke="#222" stroke-width="1.15"/>
<line x1="469.43" y1="815.2" x2="469.43" y2="820.2" stroke="#222" stroke-width="1.15"/>
<line x1="92.0" y1="572.80" x2="97.0" y2="572.80" stroke="#222" stroke-width="1.15"/>
<line x1="721.95" y1="815.2" x2="721.95" y2="820.2" stroke="#222" stroke-width="1.15"/>
<line x1="92.0" y1="408.60" x2="97.0" y2="408.60" stroke="#222" stroke-width="1.15"/>
<line x1="974.47" y1="815.2" x2="974.47" y2="820.2" stroke="#222" stroke-width="1.15"/>
<line x1="92.0" y1="244.40" x2="97.0" y2="244.40" stroke="#222" stroke-width="1.15"/>
<line x1="1226.99" y1="815.2" x2="1226.99" y2="820.2" stroke="#222" stroke-width="1.15"/>
<line x1="92.0" y1="80.20" x2="97.0" y2="80.20" stroke="#222" stroke-width="1.15"/>
<rect x="1085.8" y="702.0" width="246.7" height="98.2" rx="5" ry="5" fill="#fff" fill-opacity="0.8" stroke="#cccccc" stroke-width="1.1"/>
<circle cx="1126.1" cy="728.1" r="11.0" fill="#0173b2"/>
<circle cx="1125.4" cy="772.9" r="10.6" fill="#de8f05"/>
<text x="126.19" y="121.00" font-size="32.7" textLength="200.93" lengthAdjust="spacingAndGlyphs">Extrapolation</text>
<text x="467.15" y="121.00" font-size="32.7" textLength="192.17" lengthAdjust="spacingAndGlyphs">Interpolation</text>
<text x="114.60" y="178.30" font-size="32.7" textLength="219.16" lengthAdjust="spacingAndGlyphs">MAE SC: 0.235</text>
<text x="114.56" y="219.50" font-size="32.7" textLength="215.15" lengthAdjust="spacingAndGlyphs">MAE TL: 0.103</text>
<text x="456.00" y="178.30" font-size="32.7" textLength="219.79" lengthAdjust="spacingAndGlyphs">MAE SC: 0.036</text>
<text x="455.97" y="219.50" font-size="32.7" textLength="214.26" lengthAdjust="spacingAndGlyphs">MAE TL: 0.032</text>
<text x="44.55" y="748.95" font-size="32.7" textLength="42.47" lengthAdjust="spacingAndGlyphs">−4</text>
<text x="196.00" y="846.60" font-size="32.7" textLength="42.47" lengthAdjust="spacingAndGlyphs">−4</text>
<text x="44.58" y="584.75" font-size="32.7" textLength="41.76" lengthAdjust="spacingAndGlyphs">−2</text>
<text x="448.56" y="846.60" font-size="32.7" textLength="41.76" lengthAdjust="spacingAndGlyphs">−2</text>
<text x="69.15" y="420.55" font-size="32.7" textLength="17.51" lengthAdjust="spacingAndGlyphs">0</text>
<text x="713.05" y="846.60" font-size="32.7" textLength="17.51" lengthAdjust="spacingAndGlyphs">0</text>
<text x="69.09" y="256.35" font-size="32.7" textLength="16.90" lengthAdjust="spacingAndGlyphs">2</text>
<text x="965.52" y="846.60" font-size="32.7" textLength="16.90" lengthAdjust="spacingAndGlyphs">2</text>
<text x="69.13" y="92.15" font-size="32.7" textLength="17.67" lengthAdjust="spacingAndGlyphs">4</text>
<text x="1218.08" y="846.60" font-size="32.7" textLength="17.67" lengthAdjust="spacingAndGlyphs">4</text>
<text x="1180.50" y="736.30" font-size="32.7" textLength="139.56" lengthAdjust="spacingAndGlyphs">SC Model</text>
<text x="1180.30" y="781.20" font-size="32.7" textLength="135.43" lengthAdjust="spacingAndGlyphs">TL Model</text>
<text x="591.59" y="883.10" font-size="32.7" textLength="21.02" lengthAdjust="spacingAndGlyphs">Δ</text>
<text x="612.05" y="883.10" font-size="32.7" font-style="italic" textLength="21.32" lengthAdjust="spacingAndGlyphs">H</text>
<text x="634.35" y="887.80" font-size="22.9" font-style="italic" textLength="7.42" lengthAdjust="spacingAndGlyphs">f</text>
<text x="639.25" y="887.80" font-size="22.9" textLength="10.73" lengthAdjust="spacingAndGlyphs">,</text>
<text x="651.66" y="887.80" font-size="22.9" textLength="41.80" lengthAdjust="spacingAndGlyphs">DFT</text>
<text x="703.58" y="883.10" font-size="32.7" textLength="148.36" lengthAdjust="spacingAndGlyphs">(eV/atom)</text>
<g transform="rotate(-90)"><text x="-546.11" y="26.00" font-size="32.7" textLength="21.13" lengthAdjust="spacingAndGlyphs">Δ</text><text x="-525.65" y="26.00" font-size="32.7" font-style="italic" textLength="21.32" lengthAdjust="spacingAndGlyphs">H</text><text x="-503.35" y="29.70" font-size="22.9" font-style="italic" textLength="7.42" lengthAdjust="spacingAndGlyphs">f</text><text x="-498.45" y="29.70" font-size="22.9" textLength="10.73" lengthAdjust="spacingAndGlyphs">,</text><text x="-487.15" y="29.70" font-size="22.9" textLength="56.71" lengthAdjust="spacingAndGlyphs">PRED</text><text x="-419.21" y="26.00" font-size="32.7" textLength="147.95" lengthAdjust="spacingAndGlyphs">(eV/atom)</text></g>
</svg></body></html>
